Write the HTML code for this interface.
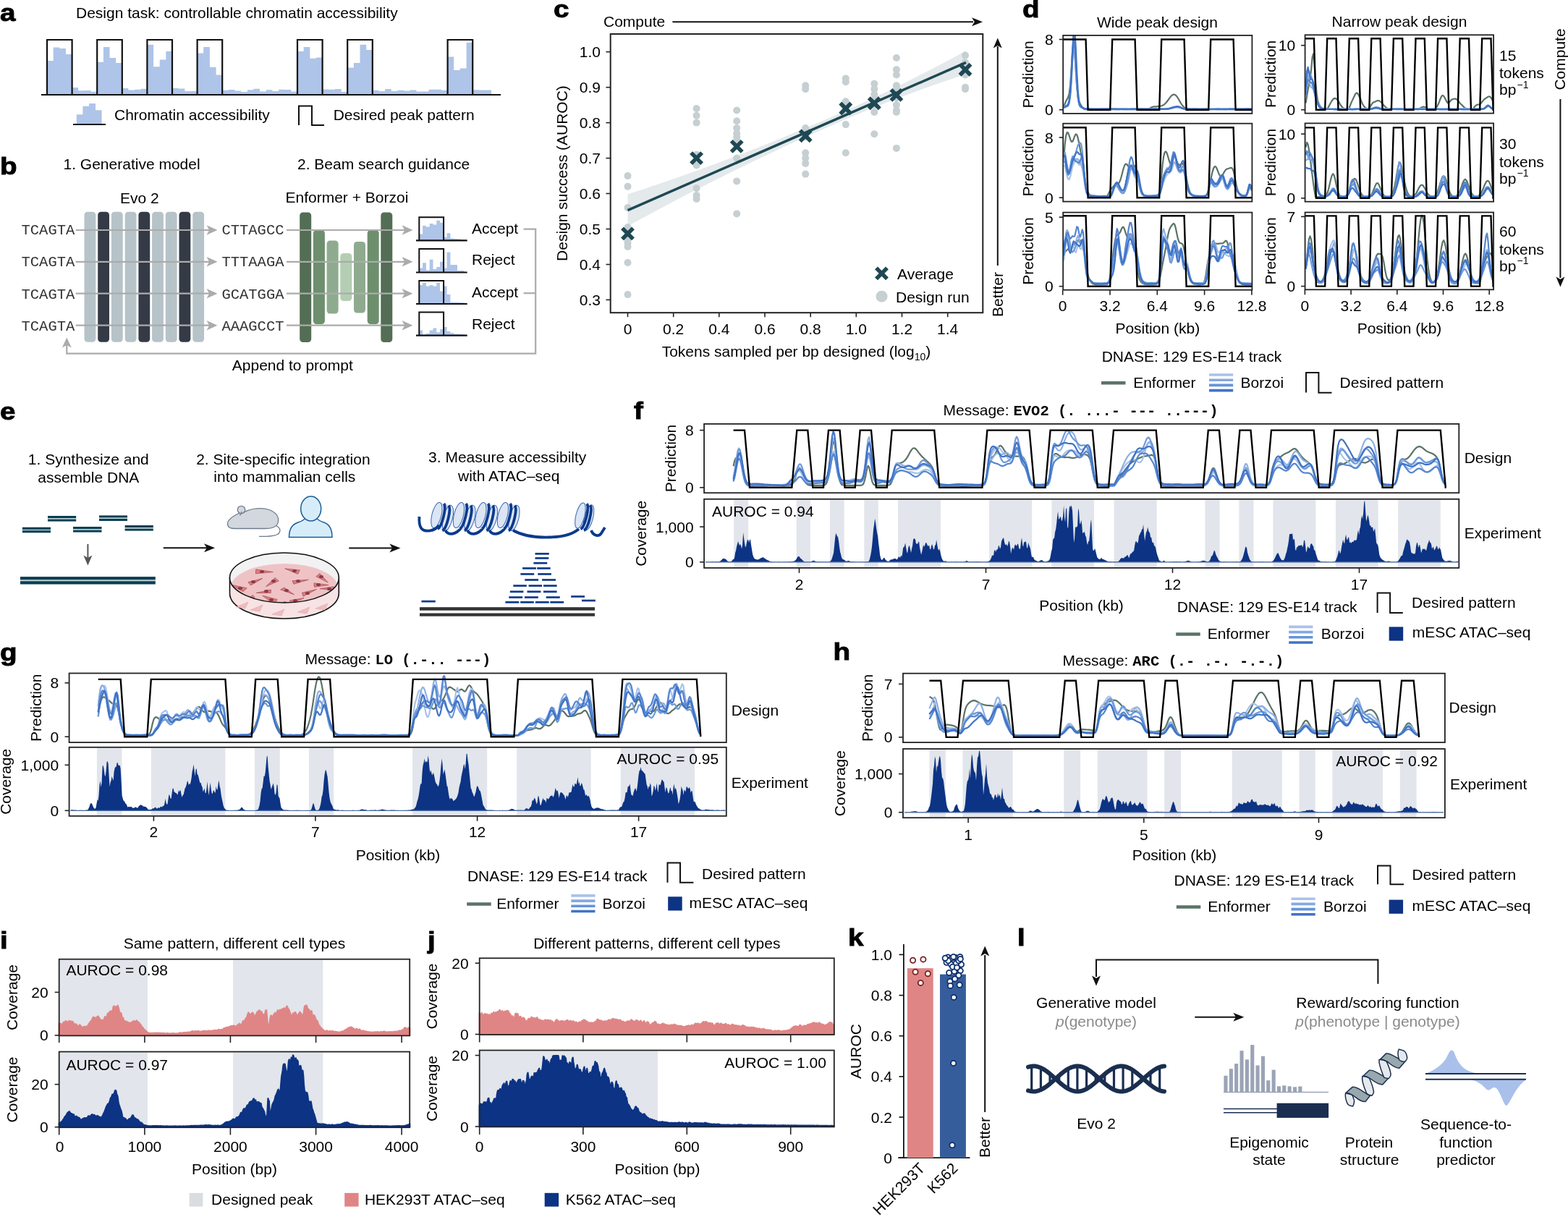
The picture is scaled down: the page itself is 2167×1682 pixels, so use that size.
<!DOCTYPE html>
<html><head><meta charset="utf-8"><title>Figure</title>
<style>html,body{margin:0;padding:0;background:#fff;}svg{display:block;}</style>
</head><body>
<svg width="2167" height="1682" viewBox="0 0 2167 1682" font-family="'Liberation Sans', Arial, Helvetica, sans-serif" font-size="21"><text transform="translate(0.0 29.0) scale(1.17 1)" font-size="33" font-weight="bold" fill="#000" stroke="#000" stroke-width="0.9">a</text>
<text x="105.0" y="25.0">Design task: controllable chromatin accessibility</text>
<path d="M65,130 V84.0 H73.7 V65.5 H82.3 V67.0 H91.0 V75.0 H99.6 V121.1 H108.2 V125.3 H116.9 V125.1 H125.6 V126.7 H134.2 V85.8 H142.9 V65.0 H151.5 V80.0 H160.2 V87.0 H168.8 V121.9 H177.4 V124.6 H186.1 V123.8 H194.8 V122.7 H203.4 V61.8 H212.1 V92.3 H220.7 V82.5 H229.3 V71.0 H238.0 V121.8 H246.7 V122.6 H255.3 V126.0 H264.0 V125.9 H272.6 V73.5 H281.2 V65.0 H289.9 V92.8 H298.6 V103.4 H307.2 V124.8 H315.9 V124.0 H324.5 V125.6 H333.2 V127.0 H341.8 V124.2 H350.4 V122.8 H359.1 V126.5 H367.8 V124.3 H376.4 V126.0 H385.1 V123.8 H393.7 V123.9 H402.4 V126.4 H411.0 V71.0 H419.7 V65.0 H428.3 V80.8 H436.9 V79.4 H445.6 V123.5 H454.2 V123.7 H462.9 V123.1 H471.6 V127.0 H480.2 V93.6 H488.9 V87.0 H497.5 V61.8 H506.2 V69.0 H514.8 V124.7 H523.5 V126.0 H532.1 V123.1 H540.8 V126.1 H549.4 V124.7 H558.0 V125.5 H566.7 V124.4 H575.4 V126.5 H584.0 V126.6 H592.6 V123.8 H601.3 V123.7 H610.0 V124.7 H618.6 V78.4 H627.2 V97.0 H635.9 V94.5 H644.6 V59.0 H653.2 V124.2 H661.9 V124.4 H670.5 V124.5 H679.1 V130 Z" fill="#aec4e8"/>
<path d="M65.0,131 V55 H99.6 V131" fill="none" stroke="#111" stroke-width="2.2"/>
<path d="M134.2,131 V55 H168.8 V131" fill="none" stroke="#111" stroke-width="2.2"/>
<path d="M203.4,131 V55 H238.0 V131" fill="none" stroke="#111" stroke-width="2.2"/>
<path d="M272.6,131 V55 H307.2 V131" fill="none" stroke="#111" stroke-width="2.2"/>
<path d="M411.0,131 V55 H445.6 V131" fill="none" stroke="#111" stroke-width="2.2"/>
<path d="M480.2,131 V55 H514.8 V131" fill="none" stroke="#111" stroke-width="2.2"/>
<path d="M618.6,131 V55 H653.2 V131" fill="none" stroke="#111" stroke-width="2.2"/>
<line x1="57.0" y1="131.0" x2="692.0" y2="131.0" stroke="#111" stroke-width="2.2"/>
<path d="M105.8,171 V158.2 H114.4 V146.7 H123.1 V143 H132 V152.3 H140.6 V171 Z" fill="#aec4e8"/>
<line x1="101.0" y1="172.0" x2="146.0" y2="172.0" stroke="#111" stroke-width="2"/>
<text x="158.0" y="165.5">Chromatin accessibility</text>
<path d="M413,173 V146.5 H431 V173 H448" fill="none" stroke="#111" stroke-width="2"/>
<text x="460.7" y="165.5">Desired peak pattern</text>
<text transform="translate(0.0 241.0) scale(1.17 1)" font-size="33" font-weight="bold" fill="#000" stroke="#000" stroke-width="0.9">b</text>
<text x="87.5" y="234.3">1. Generative model</text>
<text x="411.0" y="233.5">2. Beam search guidance</text>
<text x="166.0" y="281.0">Evo 2</text>
<text x="394.5" y="280.0">Enformer + Borzoi</text>
<rect x="116.5" y="292.7" width="15.8" height="180.0" fill="#b6c3c8" rx="4.5"/>
<rect x="135.2" y="292.7" width="15.8" height="180.0" fill="#343b46" rx="4.5"/>
<rect x="153.9" y="292.7" width="15.8" height="180.0" fill="#b6c3c8" rx="4.5"/>
<rect x="172.7" y="292.7" width="15.8" height="180.0" fill="#b6c3c8" rx="4.5"/>
<rect x="191.4" y="292.7" width="15.8" height="180.0" fill="#343b46" rx="4.5"/>
<rect x="210.1" y="292.7" width="15.8" height="180.0" fill="#b6c3c8" rx="4.5"/>
<rect x="228.8" y="292.7" width="15.8" height="180.0" fill="#b6c3c8" rx="4.5"/>
<rect x="247.5" y="292.7" width="15.8" height="180.0" fill="#343b46" rx="4.5"/>
<rect x="266.3" y="292.7" width="15.8" height="180.0" fill="#b6c3c8" rx="4.5"/>
<rect x="414.2" y="293.4" width="16.0" height="179.6" fill="#536e54" rx="4.5"/>
<rect x="432.9" y="318.0" width="16.0" height="130.0" fill="#6d8f6d" rx="4.5"/>
<rect x="451.6" y="332.5" width="16.0" height="101.1" fill="#8fab8f" rx="4.5"/>
<rect x="470.3" y="350.0" width="16.0" height="66.0" fill="#b4ceb3" rx="4.5"/>
<rect x="489.0" y="334.0" width="16.0" height="98.6" fill="#8fab8f" rx="4.5"/>
<rect x="507.7" y="318.0" width="16.0" height="130.0" fill="#6d8f6d" rx="4.5"/>
<rect x="526.3" y="293.4" width="16.0" height="179.6" fill="#536e54" rx="4.5"/>
<text x="29.5" y="324.0" font-size="20.5" fill="#333" font-family="'Liberation Mono', 'Courier New', monospace">TCAGTA</text>
<line x1="104.7" y1="318.0" x2="292.0" y2="318.0" stroke="#ababab" stroke-width="2.2"/>
<path d="M300.5,318.0 L285.5,324.8 L289.2,318.0 L285.5,311.2 Z" fill="#ababab"/>
<text x="306.4" y="324.0" font-size="20.5" fill="#333" font-family="'Liberation Mono', 'Courier New', monospace">CTTAGCC</text>
<line x1="396.0" y1="318.0" x2="562.0" y2="318.0" stroke="#ababab" stroke-width="2.2"/>
<path d="M570.5,318.0 L555.5,324.8 L559.2,318.0 L555.5,311.2 Z" fill="#ababab"/>
<text x="29.5" y="368.4" font-size="20.5" fill="#333" font-family="'Liberation Mono', 'Courier New', monospace">TCAGTA</text>
<line x1="104.7" y1="361.8" x2="292.0" y2="361.8" stroke="#ababab" stroke-width="2.2"/>
<path d="M300.5,361.8 L285.5,368.6 L289.2,361.8 L285.5,355.0 Z" fill="#ababab"/>
<text x="306.4" y="368.4" font-size="20.5" fill="#333" font-family="'Liberation Mono', 'Courier New', monospace">TTTAAGA</text>
<line x1="396.0" y1="361.8" x2="562.0" y2="361.8" stroke="#ababab" stroke-width="2.2"/>
<path d="M570.5,361.8 L555.5,368.6 L559.2,361.8 L555.5,355.0 Z" fill="#ababab"/>
<text x="29.5" y="412.7" font-size="20.5" fill="#333" font-family="'Liberation Mono', 'Courier New', monospace">TCAGTA</text>
<line x1="104.7" y1="405.7" x2="292.0" y2="405.7" stroke="#ababab" stroke-width="2.2"/>
<path d="M300.5,405.7 L285.5,412.5 L289.2,405.7 L285.5,398.9 Z" fill="#ababab"/>
<text x="306.4" y="412.7" font-size="20.5" fill="#333" font-family="'Liberation Mono', 'Courier New', monospace">GCATGGA</text>
<line x1="396.0" y1="405.7" x2="562.0" y2="405.7" stroke="#ababab" stroke-width="2.2"/>
<path d="M570.5,405.7 L555.5,412.5 L559.2,405.7 L555.5,398.9 Z" fill="#ababab"/>
<text x="29.5" y="456.9" font-size="20.5" fill="#333" font-family="'Liberation Mono', 'Courier New', monospace">TCAGTA</text>
<line x1="104.7" y1="449.7" x2="292.0" y2="449.7" stroke="#ababab" stroke-width="2.2"/>
<path d="M300.5,449.7 L285.5,456.5 L289.2,449.7 L285.5,442.9 Z" fill="#ababab"/>
<text x="306.4" y="456.9" font-size="20.5" fill="#333" font-family="'Liberation Mono', 'Courier New', monospace">AAAGCCT</text>
<line x1="396.0" y1="449.7" x2="562.0" y2="449.7" stroke="#ababab" stroke-width="2.2"/>
<path d="M570.5,449.7 L555.5,456.5 L559.2,449.7 L555.5,442.9 Z" fill="#ababab"/>
<path d="M579.3,332.3 V323.6 H584.1 V312.0 H588.9 V313.4 H593.7 V309.1 H598.5 V310.6 H603.2 V304.8 H608.0 V307.7 H612.8 V327.9 H617.6 V322.2 H622.4 V329.4 H627.2 V330.0 H632.0 V330.6 H636.8 V330.9 H641.6 V332.3 Z" fill="#aec4e8"/>
<path d="M579.3,332.3 V300.3 H613.1 V332.3" fill="none" stroke="#111" stroke-width="2"/>
<line x1="575.0" y1="332.3" x2="645.7" y2="332.3" stroke="#111" stroke-width="2.2"/>
<text x="652.0" y="322.5">Accept</text>
<path d="M579.3,376.5 V370.6 H584.1 V363.2 H588.9 V373.5 H593.7 V358.7 H598.5 V372.1 H603.2 V369.1 H608.0 V361.7 H612.8 V370.6 H617.6 V348.4 H622.4 V366.1 H627.2 V366.1 H632.0 V374.1 H636.8 V374.1 H641.6 V376.5 Z" fill="#aec4e8"/>
<path d="M579.3,376.5 V343.9 H613.1 V376.5" fill="none" stroke="#111" stroke-width="2"/>
<line x1="575.0" y1="376.5" x2="645.7" y2="376.5" stroke="#111" stroke-width="2.2"/>
<text x="652.0" y="366.0">Reject</text>
<path d="M579.3,420 V393.9 H584.1 V391.0 H588.9 V395.4 H593.7 V393.9 H598.5 V395.4 H603.2 V391.0 H608.0 V402.6 H612.8 V395.4 H617.6 V406.9 H622.4 V417.7 H627.2 V417.7 H632.0 V418.0 H636.8 V418.3 H641.6 V420 Z" fill="#aec4e8"/>
<path d="M579.3,420 V388 H613.1 V420" fill="none" stroke="#111" stroke-width="2"/>
<line x1="575.0" y1="420.0" x2="645.7" y2="420.0" stroke="#111" stroke-width="2.2"/>
<text x="652.0" y="410.8">Accept</text>
<path d="M579.3,463.7 V456.4 H584.1 V462.2 H588.9 V460.8 H593.7 V456.4 H598.5 V453.5 H603.2 V459.3 H608.0 V454.9 H612.8 V452.0 H617.6 V457.9 H622.4 V460.2 H627.2 V461.4 H632.0 V461.7 H636.8 V461.9 H641.6 V463.7 Z" fill="#aec4e8"/>
<path d="M579.3,463.7 V431.5 H613.1 V463.7" fill="none" stroke="#111" stroke-width="2"/>
<line x1="575.0" y1="463.7" x2="645.7" y2="463.7" stroke="#111" stroke-width="2.2"/>
<text x="652.0" y="455.0">Reject</text>
<path d="M723.6,316.7 H740.2 V488.6 H92.3 V474" fill="none" stroke="#ababab" stroke-width="2.2"/>
<line x1="723.6" y1="405.2" x2="740.2" y2="405.2" stroke="#ababab" stroke-width="2.2"/>
<path d="M92.3,466.4 L98.8,480.4 L92.3,476.9 L85.8,480.4 Z" fill="#ababab"/>
<text x="320.8" y="511.5">Append to prompt</text>
<text transform="translate(765.0 23.5) scale(1.17 1)" font-size="33" font-weight="bold" fill="#000" stroke="#000" stroke-width="0.9">c</text>
<text x="834.0" y="37.0">Compute</text>
<line x1="929.4" y1="30.3" x2="1345.0" y2="30.3" stroke="#111" stroke-width="2"/>
<path d="M1358.0,30.3 L1343.0,36.3 L1346.8,30.3 L1343.0,24.3 Z" fill="#111"/>
<path d="M867.5,268.5 L879.5,264.6 L891.5,260.7 L903.5,256.6 L915.4,252.6 L927.4,248.4 L939.4,244.3 L951.4,240.0 L963.4,235.7 L975.4,231.3 L987.4,226.9 L999.3,222.4 L1011.3,217.9 L1023.3,213.3 L1035.3,208.7 L1047.3,204.0 L1059.3,199.2 L1071.3,194.4 L1083.2,189.5 L1095.2,184.6 L1107.2,179.6 L1119.2,174.5 L1131.2,169.4 L1143.2,164.3 L1155.2,159.0 L1167.2,153.7 L1179.1,148.3 L1191.1,142.9 L1203.1,137.3 L1215.1,131.6 L1227.1,125.9 L1239.1,120.1 L1251.1,114.1 L1263.0,108.1 L1275.0,102.0 L1287.0,95.8 L1299.0,89.6 L1311.0,83.2 L1323.0,76.8 L1335.0,70.2 L1335.0,102.5 L1323.0,106.5 L1311.0,110.5 L1299.0,114.6 L1287.0,118.8 L1275.0,123.1 L1263.0,127.5 L1251.1,131.9 L1239.1,136.5 L1227.1,141.1 L1215.1,145.8 L1203.1,150.7 L1191.1,155.6 L1179.1,160.5 L1167.2,165.6 L1155.2,170.8 L1143.2,176.0 L1131.2,181.3 L1119.2,186.7 L1107.2,192.1 L1095.2,197.6 L1083.2,203.1 L1071.3,208.7 L1059.3,214.4 L1047.3,220.1 L1035.3,225.8 L1023.3,231.7 L1011.3,237.6 L999.3,243.5 L987.4,249.5 L975.4,255.5 L963.4,261.6 L951.4,267.8 L939.4,274.0 L927.4,280.3 L915.4,286.7 L903.5,293.0 L891.5,299.5 L879.5,306.0 L867.5,312.6 Z" fill="#e4e9eb"/>
<circle cx="867.5" cy="243.1" r="5" fill="#c6cfd2"/>
<circle cx="867.5" cy="257.7" r="5" fill="#c6cfd2"/>
<circle cx="867.5" cy="287.1" r="5" fill="#c6cfd2"/>
<circle cx="867.5" cy="314.1" r="5" fill="#c6cfd2"/>
<circle cx="867.5" cy="331.2" r="5" fill="#c6cfd2"/>
<circle cx="867.5" cy="336.1" r="5" fill="#c6cfd2"/>
<circle cx="867.5" cy="341.0" r="5" fill="#c6cfd2"/>
<circle cx="867.5" cy="363.0" r="5" fill="#c6cfd2"/>
<circle cx="867.5" cy="407.1" r="5" fill="#c6cfd2"/>
<circle cx="962.6" cy="150.0" r="5" fill="#c6cfd2"/>
<circle cx="962.6" cy="159.8" r="5" fill="#c6cfd2"/>
<circle cx="962.6" cy="169.6" r="5" fill="#c6cfd2"/>
<circle cx="962.6" cy="213.7" r="5" fill="#c6cfd2"/>
<circle cx="962.6" cy="228.4" r="5" fill="#c6cfd2"/>
<circle cx="962.6" cy="260.2" r="5" fill="#c6cfd2"/>
<circle cx="962.6" cy="270.0" r="5" fill="#c6cfd2"/>
<circle cx="962.6" cy="274.9" r="5" fill="#c6cfd2"/>
<circle cx="1018.2" cy="152.5" r="5" fill="#c6cfd2"/>
<circle cx="1018.2" cy="167.2" r="5" fill="#c6cfd2"/>
<circle cx="1018.2" cy="177.0" r="5" fill="#c6cfd2"/>
<circle cx="1018.2" cy="184.3" r="5" fill="#c6cfd2"/>
<circle cx="1018.2" cy="189.2" r="5" fill="#c6cfd2"/>
<circle cx="1018.2" cy="194.1" r="5" fill="#c6cfd2"/>
<circle cx="1018.2" cy="218.6" r="5" fill="#c6cfd2"/>
<circle cx="1018.2" cy="250.4" r="5" fill="#c6cfd2"/>
<circle cx="1018.2" cy="295.4" r="5" fill="#c6cfd2"/>
<circle cx="1113.2" cy="118.2" r="5" fill="#c6cfd2"/>
<circle cx="1113.2" cy="123.1" r="5" fill="#c6cfd2"/>
<circle cx="1113.2" cy="177.0" r="5" fill="#c6cfd2"/>
<circle cx="1113.2" cy="189.2" r="5" fill="#c6cfd2"/>
<circle cx="1113.2" cy="211.2" r="5" fill="#c6cfd2"/>
<circle cx="1113.2" cy="218.6" r="5" fill="#c6cfd2"/>
<circle cx="1113.2" cy="225.9" r="5" fill="#c6cfd2"/>
<circle cx="1113.2" cy="240.6" r="5" fill="#c6cfd2"/>
<circle cx="1168.8" cy="108.4" r="5" fill="#c6cfd2"/>
<circle cx="1168.8" cy="113.3" r="5" fill="#c6cfd2"/>
<circle cx="1168.8" cy="140.2" r="5" fill="#c6cfd2"/>
<circle cx="1168.8" cy="150.0" r="5" fill="#c6cfd2"/>
<circle cx="1168.8" cy="154.9" r="5" fill="#c6cfd2"/>
<circle cx="1168.8" cy="172.1" r="5" fill="#c6cfd2"/>
<circle cx="1168.8" cy="211.2" r="5" fill="#c6cfd2"/>
<circle cx="1208.3" cy="115.8" r="5" fill="#c6cfd2"/>
<circle cx="1208.3" cy="123.1" r="5" fill="#c6cfd2"/>
<circle cx="1208.3" cy="130.5" r="5" fill="#c6cfd2"/>
<circle cx="1208.3" cy="137.8" r="5" fill="#c6cfd2"/>
<circle cx="1208.3" cy="145.1" r="5" fill="#c6cfd2"/>
<circle cx="1208.3" cy="154.9" r="5" fill="#c6cfd2"/>
<circle cx="1208.3" cy="185.3" r="5" fill="#c6cfd2"/>
<circle cx="1238.9" cy="80.0" r="5" fill="#c6cfd2"/>
<circle cx="1238.9" cy="96.2" r="5" fill="#c6cfd2"/>
<circle cx="1238.9" cy="103.5" r="5" fill="#c6cfd2"/>
<circle cx="1238.9" cy="118.2" r="5" fill="#c6cfd2"/>
<circle cx="1238.9" cy="123.1" r="5" fill="#c6cfd2"/>
<circle cx="1238.9" cy="135.3" r="5" fill="#c6cfd2"/>
<circle cx="1238.9" cy="145.1" r="5" fill="#c6cfd2"/>
<circle cx="1238.9" cy="152.5" r="5" fill="#c6cfd2"/>
<circle cx="1238.9" cy="154.9" r="5" fill="#c6cfd2"/>
<circle cx="1238.9" cy="204.9" r="5" fill="#c6cfd2"/>
<circle cx="1334.0" cy="76.6" r="5" fill="#c6cfd2"/>
<circle cx="1334.0" cy="86.4" r="5" fill="#c6cfd2"/>
<circle cx="1334.0" cy="98.6" r="5" fill="#c6cfd2"/>
<circle cx="1334.0" cy="103.5" r="5" fill="#c6cfd2"/>
<circle cx="1334.0" cy="120.7" r="5" fill="#c6cfd2"/>
<circle cx="1334.0" cy="123.1" r="5" fill="#c6cfd2"/>
<line x1="867.5" y1="290.6" x2="1335.0" y2="86.4" stroke="#1e4853" stroke-width="3.5"/>
<path d="M860.0,315.4 L875.0,330.4 M860.0,330.4 L875.0,315.4" stroke="#1e4853" stroke-width="5.5"/>
<path d="M955.1,211.1 L970.1,226.1 M955.1,226.1 L970.1,211.1" stroke="#1e4853" stroke-width="5.5"/>
<path d="M1010.7,194.9 L1025.7,209.9 M1010.7,209.9 L1025.7,194.9" stroke="#1e4853" stroke-width="5.5"/>
<path d="M1105.7,180.2 L1120.7,195.2 M1105.7,195.2 L1120.7,180.2" stroke="#1e4853" stroke-width="5.5"/>
<path d="M1161.3,142.5 L1176.3,157.5 M1161.3,157.5 L1176.3,142.5" stroke="#1e4853" stroke-width="5.5"/>
<path d="M1200.8,135.2 L1215.8,150.2 M1200.8,150.2 L1215.8,135.2" stroke="#1e4853" stroke-width="5.5"/>
<path d="M1231.4,123.9 L1246.4,138.9 M1231.4,138.9 L1246.4,123.9" stroke="#1e4853" stroke-width="5.5"/>
<path d="M1326.5,88.7 L1341.5,103.7 M1326.5,103.7 L1341.5,88.7" stroke="#1e4853" stroke-width="5.5"/>
<rect x="843.7" y="47.0" width="514.6" height="385.2" fill="none" stroke="#222" stroke-width="2"/>
<line x1="837.5" y1="71.7" x2="843.7" y2="71.7" stroke="#222" stroke-width="1.6"/>
<text x="830.0" y="79.2" text-anchor="end">1.0</text>
<line x1="837.5" y1="120.7" x2="843.7" y2="120.7" stroke="#222" stroke-width="1.6"/>
<text x="830.0" y="128.2" text-anchor="end">0.9</text>
<line x1="837.5" y1="169.6" x2="843.7" y2="169.6" stroke="#222" stroke-width="1.6"/>
<text x="830.0" y="177.1" text-anchor="end">0.8</text>
<line x1="837.5" y1="218.6" x2="843.7" y2="218.6" stroke="#222" stroke-width="1.6"/>
<text x="830.0" y="226.1" text-anchor="end">0.7</text>
<line x1="837.5" y1="267.5" x2="843.7" y2="267.5" stroke="#222" stroke-width="1.6"/>
<text x="830.0" y="275.0" text-anchor="end">0.6</text>
<line x1="837.5" y1="316.5" x2="843.7" y2="316.5" stroke="#222" stroke-width="1.6"/>
<text x="830.0" y="324.0" text-anchor="end">0.5</text>
<line x1="837.5" y1="365.5" x2="843.7" y2="365.5" stroke="#222" stroke-width="1.6"/>
<text x="830.0" y="373.0" text-anchor="end">0.4</text>
<line x1="837.5" y1="414.4" x2="843.7" y2="414.4" stroke="#222" stroke-width="1.6"/>
<text x="830.0" y="421.9" text-anchor="end">0.3</text>
<line x1="867.5" y1="432.2" x2="867.5" y2="438.2" stroke="#222" stroke-width="1.6"/>
<text x="867.5" y="462.3" text-anchor="middle">0</text>
<line x1="930.7" y1="432.2" x2="930.7" y2="438.2" stroke="#222" stroke-width="1.6"/>
<text x="930.7" y="462.3" text-anchor="middle">0.2</text>
<line x1="993.8" y1="432.2" x2="993.8" y2="438.2" stroke="#222" stroke-width="1.6"/>
<text x="993.8" y="462.3" text-anchor="middle">0.4</text>
<line x1="1057.0" y1="432.2" x2="1057.0" y2="438.2" stroke="#222" stroke-width="1.6"/>
<text x="1057.0" y="462.3" text-anchor="middle">0.6</text>
<line x1="1120.2" y1="432.2" x2="1120.2" y2="438.2" stroke="#222" stroke-width="1.6"/>
<text x="1120.2" y="462.3" text-anchor="middle">0.8</text>
<line x1="1183.3" y1="432.2" x2="1183.3" y2="438.2" stroke="#222" stroke-width="1.6"/>
<text x="1183.3" y="462.3" text-anchor="middle">1.0</text>
<line x1="1246.5" y1="432.2" x2="1246.5" y2="438.2" stroke="#222" stroke-width="1.6"/>
<text x="1246.5" y="462.3" text-anchor="middle">1.2</text>
<line x1="1309.7" y1="432.2" x2="1309.7" y2="438.2" stroke="#222" stroke-width="1.6"/>
<text x="1309.7" y="462.3" text-anchor="middle">1.4</text>
<text x="1100.5" y="493.2" text-anchor="middle">Tokens sampled per bp designed (log<tspan font-size="14" dy="5">10</tspan><tspan dy="-5">)</tspan></text>
<text x="783.5" y="239.5" text-anchor="middle" transform="rotate(-90 783.5 239.5)">Design success (AUROC)</text>
<path d="M1211.0,370.4 L1226.0,385.4 M1211.0,385.4 L1226.0,370.4" stroke="#1e4853" stroke-width="5.5"/>
<text x="1240.0" y="385.5">Average</text>
<circle cx="1218.5" cy="409.7" r="8" fill="#c6cfd2"/>
<text x="1238.0" y="417.5">Design run</text>
<line x1="1378.8" y1="367.0" x2="1378.8" y2="64.0" stroke="#111" stroke-width="2"/>
<path d="M1378.8,52.6 L1384.8,66.6 L1378.8,63.1 L1372.8,66.6 Z" fill="#111"/>
<text x="1385.5" y="407.0" text-anchor="middle" transform="rotate(-90 1385.5 407.0)">Bettter</text>
<text transform="translate(1413.0 24.0) scale(1.17 1)" font-size="33" font-weight="bold" fill="#000" stroke="#000" stroke-width="0.9">d</text>
<text x="1599.5" y="37.8" text-anchor="middle">Wide peak design</text>
<text x="1934.0" y="37.4" text-anchor="middle">Narrow peak design</text>
<clipPath id="cd00"><rect x="1469.2" y="48.9" width="261.20000000000005" height="108.0"/></clipPath>
<g clip-path="url(#cd00)">
<polyline points="1470.2,147.9 1471.7,143.5 1473.2,139.8 1474.7,137.0 1476.2,134.4 1477.7,129.0 1479.2,116.9 1480.7,94.3 1482.2,69.3 1483.7,59.4 1485.2,71.8 1486.7,96.9 1488.2,119.6 1489.7,133.2 1491.2,139.8 1492.7,143.2 1494.2,145.8 1495.7,148.0 1497.2,150.0 1498.7,151.1 1500.2,151.1 1501.7,151.1 1503.2,151.1 1504.7,151.1 1506.2,151.1 1507.7,151.1 1509.2,151.1 1510.7,151.1 1512.2,151.1 1513.7,151.1 1515.2,151.1 1516.7,151.1 1518.2,151.1 1519.7,151.1 1521.2,151.1 1522.7,151.1 1524.2,151.1 1525.7,151.1 1527.2,151.1 1528.7,151.1 1530.2,151.1 1531.7,151.1 1533.2,151.1 1534.7,151.1 1536.2,151.1 1537.7,151.1 1539.2,151.1 1540.7,151.1 1542.2,151.1 1543.7,151.1 1545.2,151.1 1546.7,151.1 1548.2,151.1 1549.7,151.1 1551.2,151.1 1552.7,151.1 1554.2,151.1 1555.7,151.1 1557.2,151.1 1558.7,151.1 1560.2,151.1 1561.7,151.1 1563.2,151.1 1564.7,151.1 1566.2,151.1 1567.7,151.1 1569.2,151.1 1570.7,151.1 1572.2,151.1 1573.7,151.1 1575.2,151.1 1576.7,151.1 1578.2,151.1 1579.7,151.1 1581.2,151.1 1582.7,151.1 1584.2,151.0 1585.7,150.9 1587.2,150.6 1588.7,149.9 1590.2,149.0 1591.7,148.2 1593.2,147.7 1594.7,147.4 1596.2,147.4 1597.7,147.3 1599.2,147.2 1600.7,147.1 1602.2,146.9 1603.7,146.7 1605.2,146.3 1606.7,145.7 1608.2,144.9 1609.7,143.8 1611.2,142.3 1612.7,140.5 1614.2,138.5 1615.7,136.4 1617.2,134.4 1618.7,132.6 1620.2,131.3 1621.7,130.7 1623.2,130.7 1624.7,131.5 1626.2,133.1 1627.7,135.2 1629.2,137.8 1630.7,140.4 1632.2,143.0 1633.7,145.2 1635.2,147.0 1636.7,148.3 1638.2,149.3 1639.7,150.0 1641.2,150.4 1642.7,150.7 1644.2,150.9 1645.7,151.0 1647.2,151.0 1648.7,151.1 1650.2,151.1 1651.7,151.1 1653.2,151.1 1654.7,151.1 1656.2,151.1 1657.7,151.1 1659.2,151.1 1660.7,151.1 1662.2,151.1 1663.7,151.1 1665.2,151.1 1666.7,151.1 1668.2,151.1 1669.7,151.1 1671.2,151.1 1672.7,151.1 1674.2,151.1 1675.7,151.1 1677.2,151.1 1678.7,151.1 1680.2,151.1 1681.7,151.1 1683.2,151.1 1684.7,151.1 1686.2,151.1 1687.7,151.1 1689.2,151.1 1690.7,151.1 1692.2,151.1 1693.7,151.1 1695.2,151.1 1696.7,151.1 1698.2,151.1 1699.7,151.1 1701.2,151.1 1702.7,151.1 1704.2,151.1 1705.7,151.1 1707.2,151.1 1708.7,151.1 1710.2,151.1 1711.7,151.1 1713.2,151.1 1714.7,151.1 1716.2,151.1 1717.7,151.1 1719.2,151.1 1720.7,151.1 1722.2,151.1 1723.7,151.1 1725.2,151.1 1726.7,151.1 1728.2,151.1 1729.7,151.1" fill="none" stroke="#5b7367" stroke-width="2.2" stroke-linejoin="round"/>
<polyline points="1470.2,147.9 1471.7,146.9 1473.2,146.4 1474.7,145.8 1476.2,144.4 1477.7,140.0 1479.2,128.9 1480.7,108.9 1482.2,83.6 1483.7,65.4 1485.2,66.8 1486.7,87.3 1488.2,113.6 1489.7,133.2 1491.2,143.0 1492.7,146.8 1494.2,148.1 1495.7,148.8 1497.2,149.4 1498.7,149.8 1500.2,150.0 1501.7,150.1 1503.2,150.2 1504.7,150.2 1506.2,150.2 1507.7,150.3 1509.2,150.3 1510.7,150.3 1512.2,150.4 1513.7,150.4 1515.2,150.4 1516.7,150.4 1518.2,150.4 1519.7,150.4 1521.2,150.5 1522.7,150.5 1524.2,150.5 1525.7,150.5 1527.2,150.4 1528.7,150.4 1530.2,150.5 1531.7,150.5 1533.2,150.5 1534.7,150.5 1536.2,150.5 1537.7,150.5 1539.2,150.6 1540.7,150.6 1542.2,150.6 1543.7,150.6 1545.2,150.5 1546.7,150.5 1548.2,150.5 1549.7,150.5 1551.2,150.5 1552.7,150.5 1554.2,150.5 1555.7,150.5 1557.2,150.5 1558.7,150.5 1560.2,150.5 1561.7,150.5 1563.2,150.6 1564.7,150.6 1566.2,150.5 1567.7,150.5 1569.2,150.5 1570.7,150.4 1572.2,150.4 1573.7,150.5 1575.2,150.5 1576.7,150.5 1578.2,150.5 1579.7,150.5 1581.2,150.4 1582.7,150.4 1584.2,150.4 1585.7,150.4 1587.2,150.4 1588.7,150.4 1590.2,150.4 1591.7,150.5 1593.2,150.5 1594.7,150.5 1596.2,150.5 1597.7,150.5 1599.2,150.5 1600.7,150.5 1602.2,150.6 1603.7,150.6 1605.2,150.6 1606.7,150.6 1608.2,150.6 1609.7,150.6 1611.2,150.5 1612.7,150.4 1614.2,150.2 1615.7,149.8 1617.2,149.3 1618.7,148.8 1620.2,148.1 1621.7,147.6 1623.2,147.2 1624.7,147.0 1626.2,147.1 1627.7,147.4 1629.2,147.8 1630.7,148.3 1632.2,148.9 1633.7,149.4 1635.2,149.9 1636.7,150.2 1638.2,150.4 1639.7,150.4 1641.2,150.5 1642.7,150.5 1644.2,150.4 1645.7,150.4 1647.2,150.4 1648.7,150.4 1650.2,150.4 1651.7,150.4 1653.2,150.5 1654.7,150.5 1656.2,150.6 1657.7,150.7 1659.2,150.7 1660.7,150.7 1662.2,150.7 1663.7,150.7 1665.2,150.6 1666.7,150.6 1668.2,150.5 1669.7,150.5 1671.2,150.5 1672.7,150.5 1674.2,150.5 1675.7,150.5 1677.2,150.5 1678.7,150.5 1680.2,150.5 1681.7,150.5 1683.2,150.4 1684.7,150.4 1686.2,150.4 1687.7,150.5 1689.2,150.5 1690.7,150.6 1692.2,150.6 1693.7,150.6 1695.2,150.6 1696.7,150.6 1698.2,150.6 1699.7,150.6 1701.2,150.6 1702.7,150.6 1704.2,150.5 1705.7,150.5 1707.2,150.5 1708.7,150.5 1710.2,150.4 1711.7,150.4 1713.2,150.4 1714.7,150.4 1716.2,150.4 1717.7,150.4 1719.2,150.4 1720.7,150.5 1722.2,150.5 1723.7,150.6 1725.2,150.5 1726.7,150.5 1728.2,150.4 1729.7,150.4" fill="none" stroke="#a9c2ea" stroke-width="2.2" stroke-linejoin="round"/>
<polyline points="1470.2,148.4 1471.7,147.3 1473.2,146.4 1474.7,145.7 1476.2,144.1 1477.7,139.0 1479.2,126.3 1480.7,103.3 1482.2,76.5 1483.7,61.5 1485.2,68.6 1486.7,91.6 1488.2,116.8 1489.7,134.5 1491.2,143.4 1492.7,146.8 1494.2,148.0 1495.7,148.7 1497.2,149.3 1498.7,149.8 1500.2,150.1 1501.7,150.2 1503.2,150.3 1504.7,150.3 1506.2,150.4 1507.7,150.4 1509.2,150.5 1510.7,150.5 1512.2,150.6 1513.7,150.6 1515.2,150.6 1516.7,150.6 1518.2,150.6 1519.7,150.6 1521.2,150.6 1522.7,150.6 1524.2,150.6 1525.7,150.7 1527.2,150.7 1528.7,150.6 1530.2,150.6 1531.7,150.6 1533.2,150.6 1534.7,150.7 1536.2,150.7 1537.7,150.8 1539.2,150.8 1540.7,150.8 1542.2,150.8 1543.7,150.8 1545.2,150.8 1546.7,150.8 1548.2,150.7 1549.7,150.7 1551.2,150.7 1552.7,150.7 1554.2,150.6 1555.7,150.6 1557.2,150.6 1558.7,150.6 1560.2,150.6 1561.7,150.6 1563.2,150.6 1564.7,150.6 1566.2,150.7 1567.7,150.7 1569.2,150.7 1570.7,150.7 1572.2,150.7 1573.7,150.7 1575.2,150.7 1576.7,150.7 1578.2,150.7 1579.7,150.7 1581.2,150.6 1582.7,150.6 1584.2,150.6 1585.7,150.6 1587.2,150.7 1588.7,150.7 1590.2,150.7 1591.7,150.7 1593.2,150.7 1594.7,150.7 1596.2,150.7 1597.7,150.7 1599.2,150.7 1600.7,150.7 1602.2,150.7 1603.7,150.7 1605.2,150.6 1606.7,150.6 1608.2,150.6 1609.7,150.6 1611.2,150.6 1612.7,150.6 1614.2,150.4 1615.7,150.1 1617.2,149.7 1618.7,149.2 1620.2,148.7 1621.7,148.3 1623.2,148.1 1624.7,148.0 1626.2,147.9 1627.7,147.9 1629.2,148.0 1630.7,148.3 1632.2,148.7 1633.7,149.3 1635.2,149.8 1636.7,150.2 1638.2,150.4 1639.7,150.5 1641.2,150.6 1642.7,150.6 1644.2,150.6 1645.7,150.7 1647.2,150.7 1648.7,150.7 1650.2,150.8 1651.7,150.8 1653.2,150.7 1654.7,150.7 1656.2,150.6 1657.7,150.6 1659.2,150.6 1660.7,150.6 1662.2,150.6 1663.7,150.6 1665.2,150.6 1666.7,150.6 1668.2,150.7 1669.7,150.7 1671.2,150.7 1672.7,150.8 1674.2,150.8 1675.7,150.7 1677.2,150.7 1678.7,150.6 1680.2,150.5 1681.7,150.5 1683.2,150.4 1684.7,150.5 1686.2,150.5 1687.7,150.6 1689.2,150.6 1690.7,150.7 1692.2,150.7 1693.7,150.7 1695.2,150.7 1696.7,150.7 1698.2,150.7 1699.7,150.7 1701.2,150.7 1702.7,150.7 1704.2,150.6 1705.7,150.6 1707.2,150.6 1708.7,150.6 1710.2,150.6 1711.7,150.7 1713.2,150.7 1714.7,150.7 1716.2,150.7 1717.7,150.7 1719.2,150.7 1720.7,150.7 1722.2,150.7 1723.7,150.7 1725.2,150.7 1726.7,150.7 1728.2,150.7 1729.7,150.8" fill="none" stroke="#8eb0e4" stroke-width="2.2" stroke-linejoin="round"/>
<polyline points="1470.2,149.0 1471.7,148.3 1473.2,147.5 1474.7,146.5 1476.2,144.4 1477.7,138.9 1479.2,125.7 1480.7,102.1 1482.2,71.7 1483.7,49.5 1485.2,53.0 1486.7,80.4 1488.2,111.8 1489.7,133.1 1491.2,143.3 1492.7,147.1 1494.2,148.5 1495.7,149.3 1497.2,149.9 1498.7,150.4 1500.2,150.7 1501.7,150.8 1503.2,150.9 1504.7,151.0 1506.2,151.1 1507.7,151.2 1509.2,151.2 1510.7,151.2 1512.2,151.2 1513.7,151.1 1515.2,151.1 1516.7,151.1 1518.2,151.0 1519.7,151.0 1521.2,151.0 1522.7,151.0 1524.2,151.0 1525.7,151.0 1527.2,151.0 1528.7,151.0 1530.2,150.9 1531.7,150.9 1533.2,150.9 1534.7,151.0 1536.2,151.0 1537.7,151.0 1539.2,151.0 1540.7,151.1 1542.2,151.1 1543.7,151.1 1545.2,151.1 1546.7,151.1 1548.2,151.0 1549.7,151.0 1551.2,151.0 1552.7,151.1 1554.2,151.1 1555.7,151.1 1557.2,151.1 1558.7,151.1 1560.2,151.1 1561.7,151.1 1563.2,151.1 1564.7,151.2 1566.2,151.2 1567.7,151.2 1569.2,151.2 1570.7,151.1 1572.2,151.0 1573.7,151.0 1575.2,151.0 1576.7,151.0 1578.2,151.0 1579.7,151.0 1581.2,151.0 1582.7,150.9 1584.2,151.0 1585.7,151.0 1587.2,151.1 1588.7,151.1 1590.2,151.1 1591.7,151.1 1593.2,151.0 1594.7,151.0 1596.2,151.0 1597.7,151.0 1599.2,151.0 1600.7,150.9 1602.2,150.9 1603.7,150.9 1605.2,150.9 1606.7,150.9 1608.2,150.9 1609.7,151.0 1611.2,151.0 1612.7,150.9 1614.2,150.8 1615.7,150.5 1617.2,150.1 1618.7,149.6 1620.2,149.1 1621.7,148.7 1623.2,148.4 1624.7,148.2 1626.2,148.1 1627.7,148.1 1629.2,148.2 1630.7,148.6 1632.2,149.1 1633.7,149.7 1635.2,150.2 1636.7,150.6 1638.2,150.7 1639.7,150.8 1641.2,150.8 1642.7,150.8 1644.2,150.9 1645.7,150.9 1647.2,151.0 1648.7,151.0 1650.2,151.0 1651.7,150.9 1653.2,150.9 1654.7,150.9 1656.2,150.9 1657.7,151.0 1659.2,151.0 1660.7,151.0 1662.2,151.0 1663.7,151.1 1665.2,151.1 1666.7,151.2 1668.2,151.2 1669.7,151.2 1671.2,151.2 1672.7,151.1 1674.2,151.1 1675.7,151.0 1677.2,151.0 1678.7,151.0 1680.2,151.1 1681.7,151.1 1683.2,151.1 1684.7,151.1 1686.2,151.1 1687.7,151.1 1689.2,151.0 1690.7,151.0 1692.2,150.9 1693.7,150.9 1695.2,150.9 1696.7,151.0 1698.2,151.0 1699.7,151.1 1701.2,151.1 1702.7,151.1 1704.2,151.1 1705.7,151.0 1707.2,151.0 1708.7,151.0 1710.2,151.0 1711.7,151.0 1713.2,151.1 1714.7,151.1 1716.2,151.1 1717.7,151.1 1719.2,151.1 1720.7,151.0 1722.2,151.0 1723.7,151.0 1725.2,150.9 1726.7,150.9 1728.2,150.9 1729.7,151.0" fill="none" stroke="#6f9ad9" stroke-width="2.2" stroke-linejoin="round"/>
<polyline points="1470.2,148.7 1471.7,147.8 1473.2,147.4 1474.7,147.0 1476.2,146.0 1477.7,142.3 1479.2,131.9 1480.7,110.3 1482.2,79.7 1483.7,57.7 1485.2,61.6 1486.7,87.2 1488.2,115.4 1489.7,134.2 1491.2,143.3 1492.7,146.7 1494.2,148.0 1495.7,148.8 1497.2,149.5 1498.7,150.0 1500.2,150.3 1501.7,150.5 1503.2,150.6 1504.7,150.7 1506.2,150.8 1507.7,150.8 1509.2,150.8 1510.7,150.8 1512.2,150.8 1513.7,150.7 1515.2,150.7 1516.7,150.7 1518.2,150.8 1519.7,150.8 1521.2,150.7 1522.7,150.6 1524.2,150.6 1525.7,150.6 1527.2,150.6 1528.7,150.7 1530.2,150.7 1531.7,150.7 1533.2,150.7 1534.7,150.7 1536.2,150.8 1537.7,150.8 1539.2,150.8 1540.7,150.8 1542.2,150.8 1543.7,150.9 1545.2,150.9 1546.7,150.9 1548.2,150.9 1549.7,150.9 1551.2,150.8 1552.7,150.8 1554.2,150.8 1555.7,150.8 1557.2,150.8 1558.7,150.9 1560.2,150.9 1561.7,150.8 1563.2,150.7 1564.7,150.6 1566.2,150.6 1567.7,150.6 1569.2,150.6 1570.7,150.6 1572.2,150.6 1573.7,150.6 1575.2,150.6 1576.7,150.7 1578.2,150.7 1579.7,150.7 1581.2,150.8 1582.7,150.8 1584.2,150.8 1585.7,150.9 1587.2,150.8 1588.7,150.8 1590.2,150.8 1591.7,150.8 1593.2,150.8 1594.7,150.8 1596.2,150.7 1597.7,150.7 1599.2,150.7 1600.7,150.7 1602.2,150.8 1603.7,150.9 1605.2,150.9 1606.7,150.9 1608.2,150.8 1609.7,150.7 1611.2,150.6 1612.7,150.4 1614.2,150.2 1615.7,149.9 1617.2,149.5 1618.7,149.0 1620.2,148.6 1621.7,148.3 1623.2,148.2 1624.7,148.2 1626.2,148.2 1627.7,148.1 1629.2,148.2 1630.7,148.4 1632.2,148.9 1633.7,149.5 1635.2,150.0 1636.7,150.3 1638.2,150.4 1639.7,150.5 1641.2,150.6 1642.7,150.7 1644.2,150.8 1645.7,150.8 1647.2,150.8 1648.7,150.7 1650.2,150.7 1651.7,150.7 1653.2,150.8 1654.7,150.9 1656.2,150.9 1657.7,151.0 1659.2,151.0 1660.7,150.9 1662.2,150.9 1663.7,150.8 1665.2,150.7 1666.7,150.7 1668.2,150.8 1669.7,150.8 1671.2,150.8 1672.7,150.8 1674.2,150.8 1675.7,150.8 1677.2,150.8 1678.7,150.8 1680.2,150.8 1681.7,150.9 1683.2,150.9 1684.7,150.9 1686.2,150.9 1687.7,150.9 1689.2,150.8 1690.7,150.8 1692.2,150.8 1693.7,150.8 1695.2,150.8 1696.7,150.8 1698.2,150.7 1699.7,150.6 1701.2,150.6 1702.7,150.7 1704.2,150.7 1705.7,150.8 1707.2,150.8 1708.7,150.8 1710.2,150.8 1711.7,150.8 1713.2,150.8 1714.7,150.8 1716.2,150.8 1717.7,150.8 1719.2,150.8 1720.7,150.8 1722.2,150.7 1723.7,150.7 1725.2,150.6 1726.7,150.6 1728.2,150.7 1729.7,150.7" fill="none" stroke="#5585d0" stroke-width="2.2" stroke-linejoin="round"/>
<polyline points="1470.2,148.6 1471.7,147.6 1473.2,146.8 1474.7,145.9 1476.2,144.0 1477.7,138.7 1479.2,125.9 1480.7,102.4 1482.2,70.7 1483.7,44.3 1485.2,41.4 1486.7,65.2 1488.2,99.2 1489.7,125.6 1491.2,139.5 1492.7,144.9 1494.2,147.1 1495.7,148.3 1497.2,149.3 1498.7,150.0 1500.2,150.4 1501.7,150.6 1503.2,150.7 1504.7,150.7 1506.2,150.8 1507.7,150.8 1509.2,150.9 1510.7,150.9 1512.2,151.0 1513.7,151.0 1515.2,151.0 1516.7,151.0 1518.2,151.0 1519.7,150.9 1521.2,150.9 1522.7,150.9 1524.2,150.8 1525.7,150.8 1527.2,150.9 1528.7,150.9 1530.2,150.9 1531.7,150.9 1533.2,150.8 1534.7,150.7 1536.2,150.7 1537.7,150.7 1539.2,150.7 1540.7,150.7 1542.2,150.7 1543.7,150.8 1545.2,150.8 1546.7,150.8 1548.2,150.8 1549.7,150.8 1551.2,150.8 1552.7,150.8 1554.2,150.8 1555.7,150.8 1557.2,150.9 1558.7,151.0 1560.2,151.0 1561.7,151.0 1563.2,150.9 1564.7,150.8 1566.2,150.8 1567.7,150.8 1569.2,150.9 1570.7,150.9 1572.2,150.9 1573.7,150.9 1575.2,150.9 1576.7,150.9 1578.2,150.9 1579.7,150.9 1581.2,150.9 1582.7,150.9 1584.2,150.8 1585.7,150.8 1587.2,150.8 1588.7,150.8 1590.2,150.8 1591.7,150.9 1593.2,150.9 1594.7,150.9 1596.2,150.9 1597.7,150.8 1599.2,150.8 1600.7,150.8 1602.2,150.9 1603.7,150.9 1605.2,150.9 1606.7,150.8 1608.2,150.8 1609.7,150.8 1611.2,150.7 1612.7,150.7 1614.2,150.5 1615.7,150.2 1617.2,149.9 1618.7,149.5 1620.2,149.1 1621.7,148.6 1623.2,148.1 1624.7,147.5 1626.2,147.1 1627.7,147.0 1629.2,147.3 1630.7,147.9 1632.2,148.8 1633.7,149.6 1635.2,150.1 1636.7,150.5 1638.2,150.6 1639.7,150.7 1641.2,150.8 1642.7,150.9 1644.2,150.9 1645.7,150.9 1647.2,150.9 1648.7,150.9 1650.2,150.9 1651.7,150.9 1653.2,150.9 1654.7,150.9 1656.2,150.9 1657.7,150.9 1659.2,150.9 1660.7,150.9 1662.2,150.9 1663.7,150.9 1665.2,151.0 1666.7,150.9 1668.2,150.9 1669.7,150.9 1671.2,151.0 1672.7,151.0 1674.2,151.0 1675.7,151.0 1677.2,151.0 1678.7,151.0 1680.2,151.0 1681.7,150.9 1683.2,150.9 1684.7,150.9 1686.2,151.0 1687.7,151.0 1689.2,151.0 1690.7,151.1 1692.2,151.1 1693.7,151.1 1695.2,151.1 1696.7,151.0 1698.2,150.9 1699.7,150.8 1701.2,150.8 1702.7,150.8 1704.2,150.8 1705.7,150.8 1707.2,150.9 1708.7,150.9 1710.2,150.8 1711.7,150.8 1713.2,150.8 1714.7,150.9 1716.2,150.9 1717.7,150.9 1719.2,150.9 1720.7,150.8 1722.2,150.7 1723.7,150.7 1725.2,150.7 1726.7,150.8 1728.2,150.8 1729.7,150.9" fill="none" stroke="#3f73c6" stroke-width="2.2" stroke-linejoin="round"/>
<path d="M1469.2,54.5 L1500.6,54.5 L1503.6,151.7 L1534.2,151.7 L1537.2,54.5 L1568.6,54.5 L1571.6,151.7 L1602.2,151.7 L1605.2,54.5 L1636.6,54.5 L1639.6,151.7 L1670.2,151.7 L1673.2,54.5 L1704.6,54.5 L1707.6,151.7 L1730.4,151.7" fill="none" stroke="#000" stroke-width="2.4" stroke-linejoin="miter"/>
</g>
<rect x="1469.2" y="48.9" width="261.2" height="108.0" fill="none" stroke="#222" stroke-width="1.8"/>
<line x1="1463.7" y1="54.5" x2="1469.2" y2="54.5" stroke="#222" stroke-width="1.6"/>
<line x1="1463.7" y1="151.7" x2="1469.2" y2="151.7" stroke="#222" stroke-width="1.6"/>
<text x="1455.7" y="62.0" text-anchor="end">8</text>
<text x="1455.7" y="159.2" text-anchor="end">0</text>
<text x="1428.2" y="102.9" text-anchor="middle" transform="rotate(-90 1428.2 102.9)">Prediction</text>
<clipPath id="cd01"><rect x="1469.2" y="170.7" width="261.20000000000005" height="107.90000000000003"/></clipPath>
<g clip-path="url(#cd01)">
<polyline points="1470.2,218.0 1471.7,199.2 1473.2,187.6 1474.7,182.9 1476.2,183.6 1477.7,187.7 1479.2,192.6 1480.7,195.8 1482.2,195.7 1483.7,192.5 1485.2,188.2 1486.7,185.4 1488.2,186.2 1489.7,190.7 1491.2,197.7 1492.7,205.6 1494.2,213.9 1495.7,222.7 1497.2,232.6 1498.7,243.1 1500.2,252.6 1501.7,260.0 1503.2,264.8 1504.7,267.8 1506.2,269.6 1507.7,270.6 1509.2,271.2 1510.7,271.5 1512.2,271.7 1513.7,271.8 1515.2,271.9 1516.7,271.9 1518.2,271.9 1519.7,271.9 1521.2,271.9 1522.7,271.9 1524.2,272.0 1525.7,272.0 1527.2,272.0 1528.7,272.0 1530.2,271.5 1531.7,268.3 1533.2,265.1 1534.7,262.5 1536.2,260.5 1537.7,258.7 1539.2,257.1 1540.7,255.8 1542.2,255.0 1543.7,254.7 1545.2,254.1 1546.7,252.5 1548.2,249.2 1549.7,244.3 1551.2,238.4 1552.7,232.8 1554.2,228.5 1555.7,226.6 1557.2,227.0 1558.7,229.0 1560.2,231.3 1561.7,232.8 1563.2,232.7 1564.7,231.2 1566.2,229.3 1567.7,228.7 1569.2,230.6 1570.7,235.7 1572.2,243.1 1573.7,251.5 1575.2,258.5 1576.7,263.7 1578.2,267.2 1579.7,269.3 1581.2,270.5 1582.7,271.2 1584.2,271.5 1585.7,271.7 1587.2,271.8 1588.7,271.9 1590.2,271.9 1591.7,271.9 1593.2,271.9 1594.7,271.9 1596.2,271.9 1597.7,271.7 1599.2,271.3 1600.7,270.0 1602.2,266.4 1603.7,257.7 1605.2,243.1 1606.7,227.3 1608.2,216.0 1609.7,210.4 1611.2,209.3 1612.7,211.7 1614.2,216.5 1615.7,222.0 1617.2,225.9 1618.7,226.2 1620.2,223.0 1621.7,218.7 1623.2,216.6 1624.7,218.2 1626.2,222.2 1627.7,226.1 1629.2,228.0 1630.7,227.9 1632.2,226.7 1633.7,225.9 1635.2,226.8 1636.7,230.4 1638.2,237.0 1639.7,245.4 1641.2,253.7 1642.7,260.4 1644.2,264.9 1645.7,267.8 1647.2,269.5 1648.7,270.5 1650.2,271.2 1651.7,271.5 1653.2,271.7 1654.7,271.8 1656.2,271.9 1657.7,271.9 1659.2,271.9 1660.7,271.9 1662.2,271.9 1663.7,271.7 1665.2,271.4 1666.7,270.6 1668.2,268.9 1669.7,265.4 1671.2,259.4 1672.7,251.5 1674.2,243.7 1675.7,237.1 1677.2,232.4 1678.7,230.1 1680.2,230.4 1681.7,233.0 1683.2,236.9 1684.7,240.7 1686.2,243.3 1687.7,243.9 1689.2,242.6 1690.7,240.0 1692.2,237.2 1693.7,235.0 1695.2,233.7 1696.7,233.2 1698.2,232.8 1699.7,232.3 1701.2,231.9 1702.7,232.3 1704.2,235.0 1705.7,240.5 1707.2,248.1 1708.7,255.9 1710.2,262.0 1711.7,266.0 1713.2,268.4 1714.7,269.9 1716.2,270.8 1717.7,271.3 1719.2,271.6 1720.7,271.6 1722.2,270.9 1723.7,268.6 1725.2,264.1 1726.7,259.8 1728.2,259.6 1729.7,263.6" fill="none" stroke="#5b7367" stroke-width="2.2" stroke-linejoin="round"/>
<polyline points="1470.2,228.6 1471.7,229.5 1473.2,236.2 1474.7,243.2 1476.2,247.6 1477.7,247.9 1479.2,243.7 1480.7,237.0 1482.2,230.6 1483.7,226.3 1485.2,223.7 1486.7,222.0 1488.2,222.3 1489.7,225.1 1491.2,227.8 1492.7,227.0 1494.2,223.0 1495.7,221.1 1497.2,227.6 1498.7,241.4 1500.2,255.5 1501.7,264.4 1503.2,268.3 1504.7,269.6 1506.2,270.2 1507.7,270.6 1509.2,271.0 1510.7,271.3 1512.2,271.4 1513.7,271.4 1515.2,271.3 1516.7,271.3 1518.2,271.3 1519.7,271.3 1521.2,271.4 1522.7,271.5 1524.2,271.6 1525.7,271.7 1527.2,271.7 1528.7,271.6 1530.2,271.6 1531.7,271.5 1533.2,271.4 1534.7,271.4 1536.2,269.3 1537.7,265.5 1539.2,261.3 1540.7,258.0 1542.2,256.3 1543.7,256.2 1545.2,257.8 1546.7,260.5 1548.2,263.5 1549.7,265.7 1551.2,266.8 1552.7,266.5 1554.2,264.2 1555.7,259.7 1557.2,253.2 1558.7,245.4 1560.2,237.0 1561.7,230.2 1563.2,227.9 1564.7,231.2 1566.2,237.8 1567.7,243.7 1569.2,245.9 1570.7,245.0 1572.2,245.4 1573.7,250.5 1575.2,257.7 1576.7,263.8 1578.2,267.7 1579.7,269.8 1581.2,270.8 1582.7,271.1 1584.2,271.3 1585.7,271.3 1587.2,271.3 1588.7,271.4 1590.2,271.5 1591.7,271.6 1593.2,271.6 1594.7,271.7 1596.2,271.6 1597.7,271.5 1599.2,271.1 1600.7,270.4 1602.2,269.1 1603.7,266.2 1605.2,261.2 1606.7,255.5 1608.2,251.0 1609.7,247.4 1611.2,244.1 1612.7,241.6 1614.2,240.1 1615.7,239.2 1617.2,237.6 1618.7,233.8 1620.2,227.3 1621.7,219.9 1623.2,216.4 1624.7,219.1 1626.2,225.2 1627.7,230.6 1629.2,234.0 1630.7,234.7 1632.2,233.0 1633.7,230.6 1635.2,230.4 1636.7,235.0 1638.2,243.9 1639.7,253.3 1641.2,260.2 1642.7,264.2 1644.2,266.6 1645.7,268.3 1647.2,269.6 1648.7,270.6 1650.2,271.2 1651.7,271.5 1653.2,271.7 1654.7,271.8 1656.2,271.8 1657.7,271.7 1659.2,271.7 1660.7,271.7 1662.2,271.7 1663.7,271.7 1665.2,271.6 1666.7,271.1 1668.2,269.7 1669.7,266.0 1671.2,258.8 1672.7,251.9 1674.2,250.9 1675.7,254.2 1677.2,257.2 1678.7,258.3 1680.2,258.2 1681.7,257.2 1683.2,254.7 1684.7,250.4 1686.2,245.3 1687.7,242.1 1689.2,243.3 1690.7,248.1 1692.2,253.9 1693.7,258.3 1695.2,260.6 1696.7,260.0 1698.2,256.7 1699.7,252.1 1701.2,248.6 1702.7,248.1 1704.2,250.4 1705.7,254.3 1707.2,258.3 1708.7,261.6 1710.2,264.2 1711.7,266.3 1713.2,268.1 1714.7,269.6 1716.2,270.6 1717.7,271.2 1719.2,271.5 1720.7,271.5 1722.2,270.7 1723.7,267.7 1725.2,261.6 1726.7,255.8 1728.2,256.3 1729.7,262.4" fill="none" stroke="#a9c2ea" stroke-width="2.2" stroke-linejoin="round"/>
<polyline points="1470.2,221.1 1471.7,219.0 1473.2,225.3 1474.7,233.1 1476.2,237.7 1477.7,236.5 1479.2,229.6 1480.7,221.0 1482.2,216.1 1483.7,216.8 1485.2,219.5 1486.7,220.3 1488.2,219.5 1489.7,219.9 1491.2,222.4 1492.7,225.1 1494.2,227.8 1495.7,232.6 1497.2,240.7 1498.7,250.9 1500.2,260.2 1501.7,266.2 1503.2,268.9 1504.7,269.8 1506.2,270.2 1507.7,270.4 1509.2,270.7 1510.7,270.8 1512.2,271.0 1513.7,271.0 1515.2,271.0 1516.7,271.0 1518.2,271.0 1519.7,271.0 1521.2,271.1 1522.7,271.2 1524.2,271.2 1525.7,271.3 1527.2,271.3 1528.7,271.3 1530.2,271.3 1531.7,271.2 1533.2,271.2 1534.7,271.1 1536.2,269.0 1537.7,265.1 1539.2,260.6 1540.7,257.5 1542.2,256.7 1543.7,257.7 1545.2,259.7 1546.7,262.2 1548.2,264.5 1549.7,266.2 1551.2,266.9 1552.7,266.4 1554.2,264.4 1555.7,261.1 1557.2,257.1 1558.7,252.2 1560.2,245.2 1561.7,236.2 1563.2,228.9 1564.7,228.0 1566.2,233.5 1567.7,240.4 1569.2,243.5 1570.7,243.2 1572.2,244.0 1573.7,249.5 1575.2,256.8 1576.7,262.9 1578.2,266.8 1579.7,268.9 1581.2,269.9 1582.7,270.4 1584.2,270.6 1585.7,270.8 1587.2,270.9 1588.7,270.9 1590.2,271.0 1591.7,271.1 1593.2,271.2 1594.7,271.2 1596.2,271.2 1597.7,271.0 1599.2,270.7 1600.7,270.0 1602.2,268.6 1603.7,265.4 1605.2,259.6 1606.7,252.5 1608.2,246.4 1609.7,240.8 1611.2,235.5 1612.7,232.2 1614.2,232.5 1615.7,235.4 1617.2,237.3 1618.7,236.0 1620.2,231.2 1621.7,225.9 1623.2,224.1 1624.7,226.7 1626.2,231.0 1627.7,234.7 1629.2,237.4 1630.7,238.6 1632.2,237.9 1633.7,236.3 1635.2,235.9 1636.7,239.2 1638.2,246.5 1639.7,255.0 1641.2,261.6 1642.7,265.4 1644.2,267.6 1645.7,268.9 1647.2,269.8 1648.7,270.4 1650.2,270.7 1651.7,270.9 1653.2,271.1 1654.7,271.2 1656.2,271.2 1657.7,271.2 1659.2,271.2 1660.7,271.1 1662.2,271.0 1663.7,270.9 1665.2,270.7 1666.7,270.3 1668.2,268.9 1669.7,265.2 1671.2,258.0 1672.7,250.1 1674.2,247.3 1675.7,249.4 1677.2,252.0 1678.7,253.1 1680.2,253.6 1681.7,254.0 1683.2,253.9 1684.7,253.0 1686.2,250.9 1687.7,248.3 1689.2,246.7 1690.7,247.9 1692.2,251.9 1693.7,256.8 1695.2,260.4 1696.7,261.5 1698.2,260.2 1699.7,257.4 1701.2,254.6 1702.7,253.0 1704.2,253.4 1705.7,255.6 1707.2,258.8 1708.7,261.9 1710.2,264.4 1711.7,266.4 1713.2,268.0 1714.7,269.2 1716.2,270.1 1717.7,270.6 1719.2,270.8 1720.7,270.7 1722.2,269.8 1723.7,266.6 1725.2,260.0 1726.7,254.5 1728.2,256.3 1729.7,262.9" fill="none" stroke="#8eb0e4" stroke-width="2.2" stroke-linejoin="round"/>
<polyline points="1470.2,212.8 1471.7,210.7 1473.2,218.6 1474.7,228.8 1476.2,236.0 1477.7,237.2 1479.2,232.4 1480.7,224.5 1482.2,218.3 1483.7,216.1 1485.2,215.0 1486.7,211.5 1488.2,205.7 1489.7,200.8 1491.2,198.3 1492.7,197.3 1494.2,199.0 1495.7,208.7 1497.2,226.6 1498.7,245.4 1500.2,258.8 1501.7,266.1 1503.2,269.2 1504.7,270.2 1506.2,270.7 1507.7,271.0 1509.2,271.3 1510.7,271.5 1512.2,271.6 1513.7,271.6 1515.2,271.6 1516.7,271.7 1518.2,271.7 1519.7,271.7 1521.2,271.7 1522.7,271.8 1524.2,271.8 1525.7,271.9 1527.2,271.9 1528.7,271.9 1530.2,271.9 1531.7,271.8 1533.2,271.8 1534.7,271.8 1536.2,269.8 1537.7,266.1 1539.2,261.7 1540.7,258.0 1542.2,256.2 1543.7,256.5 1545.2,258.3 1546.7,260.9 1548.2,263.7 1549.7,265.9 1551.2,267.2 1552.7,267.1 1554.2,265.0 1555.7,260.9 1557.2,254.9 1558.7,248.1 1560.2,241.2 1561.7,235.7 1563.2,232.9 1564.7,233.7 1566.2,237.2 1567.7,241.0 1569.2,242.1 1570.7,241.4 1572.2,243.9 1573.7,251.5 1575.2,259.5 1576.7,265.2 1578.2,268.4 1579.7,270.1 1581.2,270.9 1582.7,271.2 1584.2,271.4 1585.7,271.4 1587.2,271.5 1588.7,271.5 1590.2,271.5 1591.7,271.6 1593.2,271.7 1594.7,271.7 1596.2,271.6 1597.7,271.4 1599.2,271.0 1600.7,270.2 1602.2,268.5 1603.7,264.4 1605.2,256.8 1606.7,248.1 1608.2,242.2 1609.7,238.6 1611.2,235.8 1612.7,234.0 1614.2,233.9 1615.7,234.5 1617.2,233.6 1618.7,229.6 1620.2,223.1 1621.7,216.8 1623.2,215.1 1624.7,219.1 1626.2,225.8 1627.7,231.8 1629.2,235.5 1630.7,236.1 1632.2,233.8 1633.7,230.7 1635.2,229.3 1636.7,232.3 1638.2,240.1 1639.7,250.3 1641.2,258.9 1642.7,264.3 1644.2,267.1 1645.7,268.8 1647.2,269.8 1648.7,270.6 1650.2,271.1 1651.7,271.5 1653.2,271.6 1654.7,271.7 1656.2,271.8 1657.7,271.8 1659.2,271.8 1660.7,271.8 1662.2,271.7 1663.7,271.6 1665.2,271.3 1666.7,270.7 1668.2,269.2 1669.7,265.4 1671.2,259.0 1672.7,253.2 1674.2,252.2 1675.7,254.7 1677.2,257.0 1678.7,257.7 1680.2,257.8 1681.7,257.3 1683.2,255.5 1684.7,252.1 1686.2,247.8 1687.7,244.8 1689.2,244.7 1690.7,247.7 1692.2,252.5 1693.7,257.3 1695.2,260.6 1696.7,261.1 1698.2,258.7 1699.7,254.3 1701.2,249.8 1702.7,247.5 1704.2,248.6 1705.7,252.2 1707.2,256.7 1708.7,260.9 1710.2,264.4 1711.7,267.1 1713.2,269.1 1714.7,270.4 1716.2,271.1 1717.7,271.5 1719.2,271.7 1720.7,271.6 1722.2,270.8 1723.7,268.1 1725.2,262.5 1726.7,257.0 1728.2,257.1 1729.7,262.3" fill="none" stroke="#6f9ad9" stroke-width="2.2" stroke-linejoin="round"/>
<polyline points="1470.2,223.8 1471.7,222.9 1473.2,229.6 1474.7,237.5 1476.2,241.7 1477.7,240.1 1479.2,232.7 1480.7,223.5 1482.2,218.5 1483.7,219.2 1485.2,221.7 1486.7,223.0 1488.2,223.6 1489.7,224.6 1491.2,225.0 1492.7,222.7 1494.2,218.4 1495.7,218.3 1497.2,228.0 1498.7,244.1 1500.2,257.7 1501.7,265.2 1503.2,268.2 1504.7,269.1 1506.2,269.5 1507.7,269.8 1509.2,270.2 1510.7,270.5 1512.2,270.7 1513.7,270.9 1515.2,270.9 1516.7,270.9 1518.2,271.0 1519.7,271.0 1521.2,271.0 1522.7,271.0 1524.2,270.9 1525.7,270.9 1527.2,270.8 1528.7,270.8 1530.2,270.9 1531.7,270.9 1533.2,270.9 1534.7,270.9 1536.2,269.1 1537.7,265.7 1539.2,261.3 1540.7,256.7 1542.2,253.2 1543.7,251.8 1545.2,253.0 1546.7,256.1 1548.2,259.6 1549.7,262.2 1551.2,263.5 1552.7,263.0 1554.2,260.0 1555.7,254.3 1557.2,246.8 1558.7,238.2 1560.2,228.9 1561.7,220.8 1563.2,216.8 1564.7,218.8 1566.2,226.0 1567.7,234.1 1569.2,238.7 1570.7,240.1 1572.2,242.7 1573.7,248.9 1575.2,256.2 1576.7,262.3 1578.2,266.5 1579.7,268.9 1581.2,270.0 1582.7,270.5 1584.2,270.7 1585.7,270.7 1587.2,270.8 1588.7,270.7 1590.2,270.6 1591.7,270.4 1593.2,270.3 1594.7,270.2 1596.2,270.1 1597.7,270.0 1599.2,269.6 1600.7,268.9 1602.2,267.1 1603.7,263.2 1605.2,256.1 1606.7,248.4 1608.2,243.3 1609.7,240.1 1611.2,237.5 1612.7,235.2 1614.2,233.4 1615.7,231.8 1617.2,228.9 1618.7,223.3 1620.2,215.8 1621.7,210.2 1623.2,211.0 1624.7,217.6 1626.2,225.3 1627.7,231.2 1629.2,235.0 1630.7,236.6 1632.2,236.1 1633.7,234.7 1635.2,234.6 1636.7,237.4 1638.2,243.3 1639.7,251.0 1641.2,257.9 1642.7,262.7 1644.2,265.6 1645.7,267.5 1647.2,268.8 1648.7,269.6 1650.2,270.1 1651.7,270.3 1653.2,270.5 1654.7,270.6 1656.2,270.7 1657.7,270.8 1659.2,270.8 1660.7,270.8 1662.2,270.8 1663.7,270.8 1665.2,270.7 1666.7,270.2 1668.2,268.7 1669.7,264.8 1671.2,258.0 1672.7,251.9 1674.2,250.8 1675.7,253.2 1677.2,255.3 1678.7,255.5 1680.2,254.6 1681.7,253.1 1683.2,250.8 1684.7,247.7 1686.2,244.5 1687.7,242.4 1689.2,242.5 1690.7,245.2 1692.2,249.5 1693.7,253.9 1695.2,256.7 1696.7,256.6 1698.2,253.6 1699.7,249.2 1701.2,246.3 1702.7,246.4 1704.2,249.1 1705.7,253.0 1707.2,256.8 1708.7,260.2 1710.2,263.1 1711.7,265.6 1713.2,267.5 1714.7,268.9 1716.2,269.7 1717.7,270.2 1719.2,270.4 1720.7,270.3 1722.2,269.4 1723.7,266.2 1725.2,260.3 1726.7,255.5 1728.2,256.6 1729.7,262.0" fill="none" stroke="#5585d0" stroke-width="2.2" stroke-linejoin="round"/>
<polyline points="1470.2,215.6 1471.7,215.0 1473.2,223.5 1474.7,232.7 1476.2,238.4 1477.7,239.1 1479.2,235.2 1480.7,229.2 1482.2,223.8 1483.7,219.6 1485.2,215.9 1486.7,212.2 1488.2,209.9 1489.7,210.6 1491.2,212.8 1492.7,213.4 1494.2,212.5 1495.7,215.5 1497.2,227.0 1498.7,243.7 1500.2,258.0 1501.7,266.0 1503.2,269.3 1504.7,270.4 1506.2,270.8 1507.7,270.9 1509.2,271.0 1510.7,270.9 1512.2,270.9 1513.7,270.9 1515.2,271.0 1516.7,271.1 1518.2,271.2 1519.7,271.3 1521.2,271.4 1522.7,271.4 1524.2,271.4 1525.7,271.3 1527.2,271.3 1528.7,271.3 1530.2,271.3 1531.7,271.2 1533.2,271.1 1534.7,271.0 1536.2,268.4 1537.7,263.9 1539.2,259.0 1540.7,255.1 1542.2,252.9 1543.7,252.6 1545.2,254.2 1546.7,257.1 1548.2,260.2 1549.7,262.5 1551.2,263.7 1552.7,263.1 1554.2,259.9 1555.7,254.0 1557.2,246.5 1558.7,239.3 1560.2,233.5 1561.7,229.8 1563.2,228.7 1564.7,230.6 1566.2,235.0 1567.7,239.2 1569.2,239.8 1570.7,237.1 1572.2,236.5 1573.7,242.5 1575.2,251.6 1576.7,259.7 1578.2,265.3 1579.7,268.3 1581.2,269.8 1582.7,270.4 1584.2,270.6 1585.7,270.8 1587.2,270.9 1588.7,270.9 1590.2,271.0 1591.7,271.1 1593.2,271.2 1594.7,271.3 1596.2,271.3 1597.7,271.2 1599.2,271.0 1600.7,270.4 1602.2,269.1 1603.7,266.0 1605.2,260.0 1606.7,252.8 1608.2,246.9 1609.7,242.5 1611.2,239.2 1612.7,237.5 1614.2,237.6 1615.7,238.0 1617.2,236.8 1618.7,232.3 1620.2,224.4 1621.7,216.1 1623.2,212.7 1624.7,216.2 1626.2,223.0 1627.7,228.6 1629.2,231.5 1630.7,231.1 1632.2,227.6 1633.7,223.3 1635.2,222.0 1636.7,226.3 1638.2,236.3 1639.7,248.4 1641.2,258.0 1642.7,263.7 1644.2,266.7 1645.7,268.4 1647.2,269.4 1648.7,270.1 1650.2,270.5 1651.7,270.8 1653.2,271.0 1654.7,271.0 1656.2,271.1 1657.7,271.1 1659.2,271.1 1660.7,271.1 1662.2,271.1 1663.7,271.1 1665.2,270.9 1666.7,270.3 1668.2,268.6 1669.7,264.2 1671.2,256.2 1672.7,248.5 1674.2,246.6 1675.7,249.2 1677.2,251.9 1678.7,253.3 1680.2,254.2 1681.7,254.7 1683.2,254.0 1684.7,251.6 1686.2,247.7 1687.7,243.7 1689.2,241.7 1690.7,243.2 1692.2,248.0 1693.7,253.7 1695.2,257.6 1696.7,258.5 1698.2,256.4 1699.7,252.9 1701.2,250.2 1702.7,249.6 1704.2,251.7 1705.7,255.4 1707.2,259.2 1708.7,262.3 1710.2,264.7 1711.7,266.6 1713.2,268.0 1714.7,269.0 1716.2,269.7 1717.7,270.2 1719.2,270.5 1720.7,270.6 1722.2,269.9 1723.7,267.1 1725.2,261.1 1726.7,255.1 1728.2,255.3 1729.7,261.4" fill="none" stroke="#3f73c6" stroke-width="2.2" stroke-linejoin="round"/>
<path d="M1469.2,176.3 L1500.6,176.3 L1503.6,273.2 L1534.2,273.2 L1537.2,176.3 L1568.6,176.3 L1571.6,273.2 L1602.2,273.2 L1605.2,176.3 L1636.6,176.3 L1639.6,273.2 L1670.2,273.2 L1673.2,176.3 L1704.6,176.3 L1707.6,273.2 L1730.4,273.2" fill="none" stroke="#000" stroke-width="2.4" stroke-linejoin="miter"/>
</g>
<rect x="1469.2" y="170.7" width="261.2" height="107.9" fill="none" stroke="#222" stroke-width="1.8"/>
<line x1="1463.7" y1="190.0" x2="1469.2" y2="190.0" stroke="#222" stroke-width="1.6"/>
<line x1="1463.7" y1="273.2" x2="1469.2" y2="273.2" stroke="#222" stroke-width="1.6"/>
<text x="1455.7" y="197.5" text-anchor="end">8</text>
<text x="1455.7" y="280.7" text-anchor="end">0</text>
<text x="1428.2" y="224.7" text-anchor="middle" transform="rotate(-90 1428.2 224.7)">Prediction</text>
<clipPath id="cd02"><rect x="1469.2" y="293.6" width="261.20000000000005" height="107.09999999999997"/></clipPath>
<g clip-path="url(#cd02)">
<polyline points="1470.2,353.4 1471.7,348.3 1473.2,346.7 1474.7,345.5 1476.2,344.1 1477.7,343.2 1479.2,342.7 1480.7,342.0 1482.2,340.6 1483.7,338.6 1485.2,336.7 1486.7,335.1 1488.2,333.6 1489.7,332.3 1491.2,331.6 1492.7,332.0 1494.2,333.9 1495.7,337.6 1497.2,343.5 1498.7,351.7 1500.2,361.5 1501.7,371.0 1503.2,378.6 1504.7,384.0 1506.2,387.7 1507.7,390.1 1509.2,391.5 1510.7,392.4 1512.2,392.8 1513.7,393.1 1515.2,393.2 1516.7,393.3 1518.2,393.4 1519.7,393.4 1521.2,393.4 1522.7,393.4 1524.2,393.4 1525.7,393.4 1527.2,393.3 1528.7,393.2 1530.2,392.7 1531.7,391.4 1533.2,388.5 1534.7,382.3 1536.2,371.2 1537.7,356.7 1539.2,343.6 1540.7,334.1 1542.2,328.1 1543.7,324.9 1545.2,323.7 1546.7,322.8 1548.2,320.6 1549.7,317.0 1551.2,314.0 1552.7,313.8 1554.2,317.2 1555.7,322.2 1557.2,326.3 1558.7,328.1 1560.2,328.3 1561.7,328.5 1563.2,329.3 1564.7,330.9 1566.2,333.8 1567.7,339.7 1569.2,349.8 1570.7,362.6 1572.2,374.2 1573.7,382.2 1575.2,386.8 1576.7,389.5 1578.2,391.1 1579.7,392.0 1581.2,392.6 1582.7,392.9 1584.2,393.2 1585.7,393.3 1587.2,393.3 1588.7,393.4 1590.2,393.4 1591.7,393.4 1593.2,393.4 1594.7,393.3 1596.2,393.2 1597.7,393.0 1599.2,392.3 1600.7,390.6 1602.2,387.2 1603.7,381.2 1605.2,373.2 1606.7,364.9 1608.2,357.3 1609.7,349.8 1611.2,341.6 1612.7,333.0 1614.2,324.8 1615.7,318.5 1617.2,314.7 1618.7,312.5 1620.2,310.5 1621.7,309.0 1623.2,309.9 1624.7,314.7 1626.2,322.0 1627.7,329.1 1629.2,333.8 1630.7,335.9 1632.2,336.3 1633.7,336.8 1635.2,339.6 1636.7,345.7 1638.2,354.3 1639.7,363.6 1641.2,372.4 1642.7,379.7 1644.2,385.1 1645.7,388.6 1647.2,390.7 1648.7,391.9 1650.2,392.5 1651.7,392.9 1653.2,393.1 1654.7,393.2 1656.2,393.3 1657.7,393.3 1659.2,393.2 1660.7,393.0 1662.2,392.4 1663.7,390.7 1665.2,386.7 1666.7,378.9 1668.2,368.1 1669.7,358.9 1671.2,353.4 1672.7,349.3 1674.2,344.8 1675.7,340.6 1677.2,337.6 1678.7,336.6 1680.2,336.7 1681.7,336.9 1683.2,336.9 1684.7,336.7 1686.2,336.5 1687.7,336.4 1689.2,336.3 1690.7,335.8 1692.2,334.4 1693.7,332.7 1695.2,333.0 1696.7,336.9 1698.2,343.2 1699.7,348.4 1701.2,350.4 1702.7,350.7 1704.2,352.9 1705.7,359.1 1707.2,367.9 1708.7,376.5 1710.2,383.1 1711.7,387.5 1713.2,390.2 1714.7,391.7 1716.2,392.6 1717.7,393.0 1719.2,393.2 1720.7,393.3 1722.2,393.3 1723.7,393.4 1725.2,393.4 1726.7,393.4 1728.2,393.4 1729.7,393.4" fill="none" stroke="#5b7367" stroke-width="2.2" stroke-linejoin="round"/>
<polyline points="1470.2,360.2 1471.7,346.2 1473.2,333.3 1474.7,325.9 1476.2,330.5 1477.7,342.0 1479.2,348.4 1480.7,345.8 1482.2,340.5 1483.7,341.2 1485.2,346.8 1486.7,349.0 1488.2,344.5 1489.7,338.7 1491.2,339.0 1492.7,343.6 1494.2,344.4 1495.7,339.6 1497.2,337.5 1498.7,348.1 1500.2,366.2 1501.7,379.4 1503.2,385.2 1504.7,387.1 1506.2,388.3 1507.7,389.5 1509.2,390.5 1510.7,391.0 1512.2,391.3 1513.7,391.5 1515.2,391.8 1516.7,392.0 1518.2,392.3 1519.7,392.6 1521.2,392.6 1522.7,392.6 1524.2,392.6 1525.7,392.7 1527.2,392.7 1528.7,392.4 1530.2,391.7 1531.7,390.0 1533.2,386.2 1534.7,378.9 1536.2,368.7 1537.7,360.4 1539.2,355.3 1540.7,348.0 1542.2,336.8 1543.7,328.2 1545.2,328.1 1546.7,335.4 1548.2,345.2 1549.7,354.4 1551.2,360.1 1552.7,360.3 1554.2,356.7 1555.7,353.2 1557.2,350.7 1558.7,346.8 1560.2,341.0 1561.7,336.6 1563.2,336.3 1564.7,337.9 1566.2,338.0 1567.7,336.9 1569.2,337.4 1570.7,342.7 1572.2,353.9 1573.7,367.7 1575.2,379.2 1576.7,386.1 1578.2,389.5 1579.7,391.0 1581.2,391.7 1582.7,392.1 1584.2,392.2 1585.7,392.4 1587.2,392.5 1588.7,392.5 1590.2,392.4 1591.7,392.3 1593.2,392.3 1594.7,392.3 1596.2,392.4 1597.7,392.4 1599.2,392.0 1600.7,390.4 1602.2,385.8 1603.7,373.2 1605.2,351.0 1606.7,332.6 1608.2,328.3 1609.7,332.2 1611.2,337.2 1612.7,341.5 1614.2,347.3 1615.7,354.3 1617.2,358.1 1618.7,354.9 1620.2,345.8 1621.7,336.8 1623.2,334.8 1624.7,341.3 1626.2,351.5 1627.7,358.5 1629.2,357.3 1630.7,348.3 1632.2,343.1 1633.7,351.0 1635.2,363.3 1636.7,368.0 1638.2,364.9 1639.7,361.5 1641.2,364.1 1642.7,371.9 1644.2,380.5 1645.7,386.4 1647.2,389.6 1648.7,391.1 1650.2,391.9 1651.7,392.3 1653.2,392.4 1654.7,392.3 1656.2,392.3 1657.7,392.5 1659.2,392.7 1660.7,392.8 1662.2,392.7 1663.7,392.4 1665.2,391.2 1666.7,387.9 1668.2,380.9 1669.7,370.9 1671.2,361.0 1672.7,353.3 1674.2,348.2 1675.7,345.2 1677.2,341.6 1678.7,337.9 1680.2,337.8 1681.7,342.8 1683.2,348.1 1684.7,349.0 1686.2,347.0 1687.7,346.4 1689.2,347.6 1690.7,348.8 1692.2,349.7 1693.7,351.2 1695.2,352.8 1696.7,353.6 1698.2,353.8 1699.7,354.0 1701.2,355.1 1702.7,359.1 1704.2,365.6 1705.7,370.6 1707.2,373.3 1708.7,377.1 1710.2,382.8 1711.7,387.8 1713.2,390.5 1714.7,391.5 1716.2,391.8 1717.7,391.9 1719.2,392.0 1720.7,392.1 1722.2,392.3 1723.7,392.4 1725.2,392.4 1726.7,392.3 1728.2,392.2 1729.7,392.2" fill="none" stroke="#a9c2ea" stroke-width="2.2" stroke-linejoin="round"/>
<polyline points="1470.2,346.6 1471.7,331.4 1473.2,321.6 1474.7,317.8 1476.2,323.2 1477.7,334.0 1479.2,341.5 1480.7,342.3 1482.2,340.0 1483.7,339.0 1485.2,338.9 1486.7,335.6 1488.2,329.3 1489.7,326.0 1491.2,329.7 1492.7,335.3 1494.2,335.6 1495.7,332.3 1497.2,334.1 1498.7,346.6 1500.2,364.3 1501.7,377.6 1503.2,383.9 1504.7,386.2 1506.2,387.5 1507.7,388.7 1509.2,389.9 1510.7,390.7 1512.2,391.1 1513.7,391.2 1515.2,391.1 1516.7,391.1 1518.2,391.2 1519.7,391.3 1521.2,391.4 1522.7,391.4 1524.2,391.3 1525.7,391.4 1527.2,391.4 1528.7,391.3 1530.2,390.8 1531.7,389.5 1533.2,386.5 1534.7,380.7 1536.2,372.8 1537.7,367.7 1539.2,365.2 1540.7,357.9 1542.2,344.1 1543.7,333.7 1545.2,336.1 1546.7,346.6 1548.2,356.8 1549.7,363.4 1551.2,365.6 1552.7,363.1 1554.2,356.7 1555.7,348.7 1557.2,339.5 1558.7,330.1 1560.2,323.8 1561.7,323.1 1563.2,327.5 1564.7,333.8 1566.2,338.4 1567.7,339.5 1569.2,340.1 1570.7,345.0 1572.2,355.0 1573.7,366.1 1575.2,375.2 1576.7,381.8 1578.2,386.0 1579.7,388.3 1581.2,389.5 1582.7,390.1 1584.2,390.5 1585.7,390.8 1587.2,391.1 1588.7,391.1 1590.2,391.2 1591.7,391.2 1593.2,391.3 1594.7,391.4 1596.2,391.2 1597.7,390.8 1599.2,389.9 1600.7,387.9 1602.2,382.5 1603.7,368.3 1605.2,342.5 1606.7,320.3 1608.2,316.3 1609.7,322.2 1611.2,327.1 1612.7,331.1 1614.2,339.6 1615.7,351.6 1617.2,359.8 1618.7,360.0 1620.2,352.9 1621.7,342.2 1623.2,334.1 1624.7,334.9 1626.2,344.2 1627.7,354.0 1629.2,356.0 1630.7,348.9 1632.2,342.9 1633.7,348.5 1635.2,359.8 1636.7,365.1 1638.2,363.8 1639.7,363.8 1641.2,368.9 1642.7,376.7 1644.2,383.6 1645.7,387.8 1647.2,389.9 1648.7,390.8 1650.2,391.2 1651.7,391.4 1653.2,391.3 1654.7,391.1 1656.2,391.0 1657.7,391.1 1659.2,391.2 1660.7,391.2 1662.2,391.0 1663.7,390.3 1665.2,388.8 1666.7,384.9 1668.2,376.6 1669.7,364.1 1671.2,351.6 1672.7,342.5 1674.2,338.0 1675.7,337.5 1677.2,338.9 1678.7,341.8 1680.2,347.6 1681.7,355.4 1683.2,360.8 1684.7,361.1 1686.2,357.3 1687.7,352.7 1689.2,349.4 1690.7,347.2 1692.2,345.5 1693.7,344.2 1695.2,343.1 1696.7,342.8 1698.2,343.8 1699.7,345.4 1701.2,347.2 1702.7,351.3 1704.2,358.3 1705.7,364.2 1707.2,368.2 1708.7,373.4 1710.2,380.2 1711.7,385.9 1713.2,388.9 1714.7,390.2 1716.2,390.8 1717.7,391.1 1719.2,391.3 1720.7,391.4 1722.2,391.4 1723.7,391.4 1725.2,391.7 1726.7,392.1 1728.2,392.3 1729.7,392.3" fill="none" stroke="#8eb0e4" stroke-width="2.2" stroke-linejoin="round"/>
<polyline points="1470.2,351.2 1471.7,342.7 1473.2,335.4 1474.7,325.4 1476.2,320.6 1477.7,328.4 1479.2,340.7 1480.7,347.6 1482.2,348.5 1483.7,346.7 1485.2,344.2 1486.7,340.3 1488.2,335.3 1489.7,332.6 1491.2,333.7 1492.7,336.0 1494.2,336.1 1495.7,336.0 1497.2,341.4 1498.7,354.1 1500.2,369.4 1501.7,380.4 1503.2,385.1 1504.7,386.6 1506.2,387.5 1507.7,388.6 1509.2,389.9 1510.7,391.0 1512.2,391.6 1513.7,391.8 1515.2,391.8 1516.7,391.8 1518.2,391.8 1519.7,391.8 1521.2,391.8 1522.7,391.8 1524.2,391.7 1525.7,391.6 1527.2,391.6 1528.7,391.6 1530.2,391.2 1531.7,390.1 1533.2,387.4 1534.7,382.4 1536.2,375.9 1537.7,370.5 1539.2,365.5 1540.7,356.5 1542.2,343.8 1543.7,335.2 1545.2,336.1 1546.7,344.3 1548.2,354.6 1549.7,362.6 1551.2,366.3 1552.7,365.2 1554.2,361.2 1555.7,355.7 1557.2,348.2 1558.7,338.3 1560.2,328.6 1561.7,322.9 1563.2,323.5 1564.7,328.6 1566.2,335.2 1567.7,341.4 1569.2,347.0 1570.7,353.3 1572.2,361.9 1573.7,371.9 1575.2,380.3 1576.7,385.7 1578.2,388.6 1579.7,390.1 1581.2,390.9 1582.7,391.3 1584.2,391.4 1585.7,391.3 1587.2,391.1 1588.7,391.0 1590.2,390.9 1591.7,390.9 1593.2,391.0 1594.7,391.2 1596.2,391.4 1597.7,391.4 1599.2,391.1 1600.7,390.0 1602.2,386.6 1603.7,376.3 1605.2,355.5 1606.7,334.2 1608.2,326.9 1609.7,331.7 1611.2,337.7 1612.7,340.9 1614.2,345.9 1615.7,355.0 1617.2,362.4 1618.7,363.3 1620.2,358.8 1621.7,352.9 1623.2,348.1 1624.7,345.5 1626.2,347.5 1627.7,353.1 1629.2,355.4 1630.7,352.1 1632.2,351.2 1633.7,358.1 1635.2,367.6 1636.7,372.0 1638.2,370.7 1639.7,368.9 1641.2,370.4 1642.7,375.1 1644.2,380.8 1645.7,385.6 1647.2,388.7 1648.7,390.5 1650.2,391.5 1651.7,391.8 1653.2,391.8 1654.7,391.7 1656.2,391.7 1657.7,391.8 1659.2,391.8 1660.7,391.9 1662.2,391.8 1663.7,391.6 1665.2,390.7 1666.7,388.1 1668.2,381.9 1669.7,372.4 1671.2,362.3 1672.7,352.3 1674.2,341.8 1675.7,334.1 1677.2,332.4 1678.7,336.4 1680.2,343.8 1681.7,351.5 1683.2,355.9 1684.7,356.0 1686.2,355.4 1687.7,356.6 1689.2,356.6 1690.7,353.3 1692.2,349.6 1693.7,349.0 1695.2,349.1 1696.7,345.8 1698.2,339.8 1699.7,335.6 1701.2,337.3 1702.7,346.4 1704.2,359.1 1705.7,368.9 1707.2,375.1 1708.7,380.2 1710.2,384.8 1711.7,388.3 1713.2,390.1 1714.7,390.8 1716.2,391.1 1717.7,391.4 1719.2,391.5 1720.7,391.6 1722.2,391.6 1723.7,391.5 1725.2,391.5 1726.7,391.5 1728.2,391.5 1729.7,391.5" fill="none" stroke="#6f9ad9" stroke-width="2.2" stroke-linejoin="round"/>
<polyline points="1470.2,353.3 1471.7,338.8 1473.2,327.9 1474.7,321.8 1476.2,323.0 1477.7,327.5 1479.2,329.9 1480.7,328.2 1482.2,326.2 1483.7,326.9 1485.2,326.5 1486.7,320.6 1488.2,313.4 1489.7,314.3 1491.2,322.5 1492.7,327.7 1494.2,323.8 1495.7,317.4 1497.2,322.5 1498.7,342.1 1500.2,363.7 1501.7,377.5 1503.2,383.2 1504.7,385.1 1506.2,386.5 1507.7,388.4 1509.2,390.1 1510.7,391.1 1512.2,391.6 1513.7,391.8 1515.2,392.0 1516.7,392.2 1518.2,392.3 1519.7,392.4 1521.2,392.5 1522.7,392.5 1524.2,392.5 1525.7,392.5 1527.2,392.5 1528.7,392.5 1530.2,392.2 1531.7,391.3 1533.2,388.8 1534.7,382.6 1536.2,371.4 1537.7,359.3 1539.2,350.5 1540.7,340.2 1542.2,325.8 1543.7,316.2 1545.2,319.9 1546.7,334.0 1548.2,349.8 1549.7,361.4 1551.2,365.9 1552.7,361.9 1554.2,351.4 1555.7,339.9 1557.2,330.9 1558.7,322.8 1560.2,314.0 1561.7,307.7 1563.2,308.1 1564.7,315.6 1566.2,327.3 1567.7,339.8 1569.2,350.6 1570.7,358.7 1572.2,365.2 1573.7,371.5 1575.2,377.8 1576.7,383.2 1578.2,386.9 1579.7,389.1 1581.2,390.3 1582.7,391.1 1584.2,391.7 1585.7,392.0 1587.2,392.1 1588.7,392.0 1590.2,392.0 1591.7,391.9 1593.2,392.0 1594.7,392.1 1596.2,392.2 1597.7,392.1 1599.2,391.4 1600.7,389.7 1602.2,385.3 1603.7,374.0 1605.2,354.4 1606.7,337.1 1608.2,330.5 1609.7,331.7 1611.2,335.9 1612.7,340.7 1614.2,345.7 1615.7,350.1 1617.2,351.6 1618.7,348.3 1620.2,341.5 1621.7,336.0 1623.2,333.2 1624.7,332.9 1626.2,338.2 1627.7,347.2 1629.2,350.6 1630.7,346.1 1632.2,344.0 1633.7,351.2 1635.2,361.5 1636.7,365.9 1638.2,364.8 1639.7,365.2 1641.2,369.6 1642.7,376.0 1644.2,382.5 1645.7,387.4 1647.2,390.1 1648.7,391.2 1650.2,391.6 1651.7,391.8 1653.2,392.1 1654.7,392.4 1656.2,392.7 1657.7,392.8 1659.2,392.8 1660.7,392.6 1662.2,392.3 1663.7,391.9 1665.2,390.9 1666.7,388.0 1668.2,381.2 1669.7,371.0 1671.2,361.0 1672.7,352.6 1674.2,345.2 1675.7,340.5 1677.2,339.7 1678.7,342.3 1680.2,348.3 1681.7,355.4 1683.2,359.2 1684.7,357.2 1686.2,350.5 1687.7,343.5 1689.2,340.0 1690.7,339.9 1692.2,340.8 1693.7,341.0 1695.2,340.6 1696.7,341.9 1698.2,345.8 1699.7,350.3 1701.2,354.1 1702.7,359.3 1704.2,366.5 1705.7,372.5 1707.2,376.6 1708.7,381.1 1710.2,385.6 1711.7,388.8 1713.2,390.5 1714.7,391.2 1716.2,391.6 1717.7,391.9 1719.2,392.0 1720.7,392.2 1722.2,392.4 1723.7,392.6 1725.2,392.6 1726.7,392.6 1728.2,392.7 1729.7,392.9" fill="none" stroke="#5585d0" stroke-width="2.2" stroke-linejoin="round"/>
<polyline points="1470.2,344.5 1471.7,332.8 1473.2,329.0 1474.7,330.9 1476.2,338.4 1477.7,346.9 1479.2,349.8 1480.7,345.1 1482.2,337.3 1483.7,333.4 1485.2,334.6 1486.7,336.4 1488.2,337.3 1489.7,338.7 1491.2,340.3 1492.7,339.7 1494.2,335.3 1495.7,330.8 1497.2,334.6 1498.7,347.9 1500.2,364.5 1501.7,377.0 1503.2,383.0 1504.7,385.3 1506.2,386.7 1507.7,388.3 1509.2,389.9 1510.7,391.1 1512.2,391.8 1513.7,392.1 1515.2,392.1 1516.7,392.1 1518.2,392.2 1519.7,392.3 1521.2,392.3 1522.7,392.3 1524.2,392.2 1525.7,392.0 1527.2,391.9 1528.7,391.8 1530.2,391.7 1531.7,391.0 1533.2,389.3 1534.7,386.3 1536.2,382.7 1537.7,379.2 1539.2,373.5 1540.7,361.9 1542.2,344.5 1543.7,331.0 1545.2,329.8 1546.7,337.8 1548.2,348.1 1549.7,357.5 1551.2,363.2 1552.7,363.0 1554.2,357.9 1555.7,350.9 1557.2,343.7 1558.7,337.1 1560.2,332.2 1561.7,330.2 1563.2,331.4 1564.7,335.9 1566.2,341.9 1567.7,346.6 1569.2,349.2 1570.7,352.0 1572.2,358.4 1573.7,368.2 1575.2,378.1 1576.7,384.9 1578.2,388.5 1579.7,390.3 1581.2,391.4 1582.7,392.0 1584.2,392.2 1585.7,392.3 1587.2,392.3 1588.7,392.3 1590.2,392.3 1591.7,392.2 1593.2,392.2 1594.7,392.1 1596.2,392.0 1597.7,391.8 1599.2,391.3 1600.7,390.2 1602.2,387.0 1603.7,378.1 1605.2,359.9 1606.7,339.7 1608.2,329.6 1609.7,330.5 1611.2,334.2 1612.7,335.9 1614.2,338.1 1615.7,344.5 1617.2,351.5 1618.7,353.1 1620.2,348.3 1621.7,341.3 1623.2,339.2 1624.7,345.4 1626.2,355.1 1627.7,361.9 1629.2,361.5 1630.7,352.9 1632.2,345.2 1633.7,349.5 1635.2,360.6 1636.7,366.3 1638.2,365.6 1639.7,366.3 1641.2,371.3 1642.7,378.0 1644.2,383.8 1645.7,387.5 1647.2,389.6 1648.7,390.7 1650.2,391.3 1651.7,391.7 1653.2,391.9 1654.7,392.0 1656.2,392.2 1657.7,392.3 1659.2,392.5 1660.7,392.7 1662.2,392.7 1663.7,392.5 1665.2,391.6 1666.7,389.0 1668.2,383.1 1669.7,373.4 1671.2,363.6 1672.7,357.3 1674.2,354.5 1675.7,353.8 1677.2,354.0 1678.7,354.7 1680.2,357.0 1681.7,360.3 1683.2,361.4 1684.7,357.4 1686.2,350.9 1687.7,346.9 1689.2,346.2 1690.7,345.7 1692.2,345.0 1693.7,346.1 1695.2,348.4 1696.7,349.5 1698.2,348.2 1699.7,345.5 1701.2,345.1 1702.7,351.5 1704.2,362.8 1705.7,372.0 1707.2,377.1 1708.7,380.7 1710.2,384.5 1711.7,388.2 1713.2,390.4 1714.7,391.5 1716.2,392.0 1717.7,392.3 1719.2,392.5 1720.7,392.7 1722.2,392.8 1723.7,392.8 1725.2,392.7 1726.7,392.5 1728.2,392.3 1729.7,392.2" fill="none" stroke="#3f73c6" stroke-width="2.2" stroke-linejoin="round"/>
<path d="M1469.2,298.2 L1500.6,298.2 L1503.6,395.7 L1534.2,395.7 L1537.2,298.2 L1568.6,298.2 L1571.6,395.7 L1602.2,395.7 L1605.2,298.2 L1636.6,298.2 L1639.6,395.7 L1670.2,395.7 L1673.2,298.2 L1704.6,298.2 L1707.6,395.7 L1730.4,395.7" fill="none" stroke="#000" stroke-width="2.4" stroke-linejoin="miter"/>
</g>
<rect x="1469.2" y="293.6" width="261.2" height="107.1" fill="none" stroke="#222" stroke-width="1.8"/>
<line x1="1463.7" y1="300.2" x2="1469.2" y2="300.2" stroke="#222" stroke-width="1.6"/>
<line x1="1463.7" y1="395.7" x2="1469.2" y2="395.7" stroke="#222" stroke-width="1.6"/>
<text x="1455.7" y="307.7" text-anchor="end">5</text>
<text x="1455.7" y="403.2" text-anchor="end">0</text>
<text x="1428.2" y="347.1" text-anchor="middle" transform="rotate(-90 1428.2 347.1)">Prediction</text>
<line x1="1468.7" y1="400.7" x2="1468.7" y2="407.7" stroke="#222" stroke-width="1.6"/>
<text x="1468.7" y="429.7" text-anchor="middle">0</text>
<line x1="1534.0" y1="400.7" x2="1534.0" y2="407.7" stroke="#222" stroke-width="1.6"/>
<text x="1534.0" y="429.7" text-anchor="middle">3.2</text>
<line x1="1599.3" y1="400.7" x2="1599.3" y2="407.7" stroke="#222" stroke-width="1.6"/>
<text x="1599.3" y="429.7" text-anchor="middle">6.4</text>
<line x1="1664.6" y1="400.7" x2="1664.6" y2="407.7" stroke="#222" stroke-width="1.6"/>
<text x="1664.6" y="429.7" text-anchor="middle">9.6</text>
<line x1="1729.9" y1="400.7" x2="1729.9" y2="407.7" stroke="#222" stroke-width="1.6"/>
<text x="1729.9" y="429.7" text-anchor="middle">12.8</text>
<text x="1599.8" y="461.1" text-anchor="middle">Position (kb)</text>
<clipPath id="cd10"><rect x="1803.6" y="48.3" width="260.5" height="108.3"/></clipPath>
<g clip-path="url(#cd10)">
<polyline points="1804.6,142.3 1806.1,132.6 1807.6,123.8 1809.1,116.8 1810.6,109.1 1812.1,96.1 1813.6,79.4 1815.1,74.4 1816.6,89.7 1818.1,112.4 1819.6,129.7 1821.1,138.5 1822.6,143.3 1824.1,146.3 1825.6,148.2 1827.1,149.4 1828.6,150.1 1830.1,150.5 1831.6,150.7 1833.1,150.8 1834.6,150.1 1836.1,147.7 1837.6,144.8 1839.1,142.0 1840.6,139.5 1842.1,137.4 1843.6,136.1 1845.1,135.8 1846.6,136.4 1848.1,137.8 1849.6,139.7 1851.1,142.4 1852.6,145.0 1854.1,147.1 1855.6,148.6 1857.1,149.6 1858.6,150.3 1860.1,150.6 1861.6,150.8 1863.1,150.9 1864.6,149.4 1866.1,145.4 1867.6,141.6 1869.1,138.4 1870.6,135.2 1872.1,132.0 1873.6,129.3 1875.1,128.4 1876.6,129.6 1878.1,132.2 1879.6,135.3 1881.1,139.1 1882.6,142.7 1884.1,145.5 1885.6,147.7 1887.1,149.0 1888.6,149.8 1890.1,150.0 1891.6,149.6 1893.1,148.3 1894.6,145.9 1896.1,143.4 1897.6,141.8 1899.1,141.1 1900.6,140.4 1902.1,139.7 1903.6,139.1 1905.1,139.0 1906.6,139.5 1908.1,140.7 1909.6,142.3 1911.1,144.0 1912.6,145.7 1914.1,147.3 1915.6,148.6 1917.1,149.6 1918.6,150.2 1920.1,150.6 1921.6,150.7 1923.1,150.7 1924.6,150.6 1926.1,150.5 1927.6,150.4 1929.1,150.3 1930.6,150.2 1932.1,150.2 1933.6,150.1 1935.1,150.1 1936.6,150.1 1938.1,150.2 1939.6,150.3 1941.1,150.5 1942.6,150.6 1944.1,150.8 1945.6,150.8 1947.1,150.9 1948.6,150.9 1950.1,151.0 1951.6,151.0 1953.1,151.0 1954.6,151.0 1956.1,151.0 1957.6,150.9 1959.1,150.7 1960.6,150.4 1962.1,149.8 1963.6,149.0 1965.1,148.2 1966.6,147.7 1968.1,147.7 1969.6,148.2 1971.1,149.0 1972.6,149.7 1974.1,150.3 1975.6,150.7 1977.1,150.8 1978.6,150.9 1980.1,150.8 1981.6,150.6 1983.1,150.0 1984.6,149.0 1986.1,147.1 1987.6,144.3 1989.1,140.6 1990.6,136.5 1992.1,133.2 1993.6,131.8 1995.1,132.6 1996.6,135.0 1998.1,138.0 1999.6,140.9 2001.1,142.4 2002.6,141.9 2004.1,139.9 2005.6,138.2 2007.1,137.3 2008.6,136.8 2010.1,136.5 2011.6,136.6 2013.1,137.2 2014.6,138.7 2016.1,140.5 2017.6,142.4 2019.1,144.0 2020.6,145.4 2022.1,146.9 2023.6,148.4 2025.1,149.5 2026.6,150.1 2028.1,150.5 2029.6,150.7 2031.1,150.9 2032.6,150.9 2034.1,151.0 2035.6,150.4 2037.1,148.6 2038.6,146.8 2040.1,145.4 2041.6,144.7 2043.1,144.5 2044.6,144.3 2046.1,143.3 2047.6,141.7 2049.1,139.7 2050.6,137.9 2052.1,136.6 2053.6,135.6 2055.1,134.7 2056.6,133.7 2058.1,133.3 2059.6,133.9 2061.1,135.8 2062.6,138.7" fill="none" stroke="#5b7367" stroke-width="2.2" stroke-linejoin="round"/>
<polyline points="1804.6,128.7 1806.1,117.5 1807.6,113.3 1809.1,113.8 1810.6,114.3 1812.1,114.2 1813.6,115.6 1815.1,119.5 1816.6,125.1 1818.1,131.4 1819.6,136.8 1821.1,141.2 1822.6,144.5 1824.1,147.1 1825.6,148.5 1827.1,149.2 1828.6,149.6 1830.1,149.9 1831.6,150.1 1833.1,150.1 1834.6,150.1 1836.1,150.1 1837.6,150.1 1839.1,150.1 1840.6,150.1 1842.1,150.1 1843.6,150.1 1845.1,150.0 1846.6,150.0 1848.1,150.1 1849.6,150.1 1851.1,150.1 1852.6,150.1 1854.1,150.2 1855.6,150.2 1857.1,150.1 1858.6,150.0 1860.1,149.9 1861.6,150.0 1863.1,150.1 1864.6,150.2 1866.1,150.3 1867.6,150.3 1869.1,150.3 1870.6,150.3 1872.1,150.2 1873.6,150.2 1875.1,150.1 1876.6,150.1 1878.1,150.1 1879.6,150.2 1881.1,150.2 1882.6,150.2 1884.1,150.1 1885.6,150.2 1887.1,150.2 1888.6,150.2 1890.1,150.2 1891.6,150.2 1893.1,150.2 1894.6,150.0 1896.1,149.8 1897.6,149.3 1899.1,148.7 1900.6,148.2 1902.1,148.0 1903.6,148.2 1905.1,148.7 1906.6,149.2 1908.1,149.6 1909.6,149.9 1911.1,150.1 1912.6,150.1 1914.1,150.1 1915.6,150.0 1917.1,150.0 1918.6,150.0 1920.1,150.1 1921.6,150.2 1923.1,150.2 1924.6,150.2 1926.1,150.1 1927.6,150.1 1929.1,150.2 1930.6,150.2 1932.1,150.1 1933.6,150.1 1935.1,150.1 1936.6,150.2 1938.1,150.1 1939.6,150.1 1941.1,150.1 1942.6,150.0 1944.1,150.0 1945.6,150.0 1947.1,150.1 1948.6,150.1 1950.1,150.2 1951.6,150.3 1953.1,150.3 1954.6,150.4 1956.1,150.4 1957.6,150.3 1959.1,150.2 1960.6,150.1 1962.1,150.1 1963.6,150.2 1965.1,150.2 1966.6,150.2 1968.1,150.1 1969.6,150.1 1971.1,150.1 1972.6,150.1 1974.1,150.1 1975.6,150.1 1977.1,150.2 1978.6,150.2 1980.1,150.2 1981.6,150.2 1983.1,150.2 1984.6,150.2 1986.1,150.2 1987.6,150.2 1989.1,150.1 1990.6,150.1 1992.1,150.0 1993.6,150.0 1995.1,150.1 1996.6,150.1 1998.1,150.1 1999.6,150.1 2001.1,150.1 2002.6,150.1 2004.1,150.2 2005.6,150.2 2007.1,150.3 2008.6,150.2 2010.1,150.2 2011.6,150.2 2013.1,150.1 2014.6,150.1 2016.1,150.1 2017.6,150.1 2019.1,150.1 2020.6,150.1 2022.1,150.1 2023.6,150.0 2025.1,150.0 2026.6,150.0 2028.1,150.0 2029.6,150.0 2031.1,150.1 2032.6,150.3 2034.1,150.4 2035.6,150.4 2037.1,150.3 2038.6,150.2 2040.1,150.1 2041.6,150.1 2043.1,150.1 2044.6,150.1 2046.1,150.2 2047.6,150.2 2049.1,150.1 2050.6,149.7 2052.1,148.7 2053.6,147.1 2055.1,145.7 2056.6,145.6 2058.1,146.5 2059.6,147.7 2061.1,148.7 2062.6,149.5" fill="none" stroke="#a9c2ea" stroke-width="2.2" stroke-linejoin="round"/>
<polyline points="1804.6,124.8 1806.1,108.9 1807.6,104.6 1809.1,110.7 1810.6,117.6 1812.1,120.8 1813.6,121.6 1815.1,123.0 1816.6,127.1 1818.1,133.5 1819.6,139.7 1821.1,144.2 1822.6,147.2 1824.1,148.9 1825.6,149.9 1827.1,150.2 1828.6,150.4 1830.1,150.5 1831.6,150.7 1833.1,150.7 1834.6,150.8 1836.1,150.9 1837.6,150.9 1839.1,151.0 1840.6,151.0 1842.1,151.0 1843.6,151.0 1845.1,150.9 1846.6,150.9 1848.1,150.9 1849.6,150.9 1851.1,150.9 1852.6,151.0 1854.1,151.0 1855.6,151.0 1857.1,151.0 1858.6,150.9 1860.1,150.9 1861.6,150.9 1863.1,151.0 1864.6,151.0 1866.1,151.0 1867.6,151.1 1869.1,151.1 1870.6,151.1 1872.1,151.1 1873.6,151.1 1875.1,151.0 1876.6,150.9 1878.1,150.8 1879.6,150.8 1881.1,150.8 1882.6,150.9 1884.1,150.9 1885.6,150.9 1887.1,150.9 1888.6,150.8 1890.1,150.8 1891.6,150.8 1893.1,150.8 1894.6,150.6 1896.1,150.4 1897.6,150.2 1899.1,150.0 1900.6,149.8 1902.1,149.7 1903.6,149.6 1905.1,149.8 1906.6,150.2 1908.1,150.6 1909.6,150.9 1911.1,151.0 1912.6,151.0 1914.1,151.0 1915.6,151.0 1917.1,151.0 1918.6,151.0 1920.1,150.9 1921.6,150.9 1923.1,150.8 1924.6,150.8 1926.1,150.9 1927.6,151.0 1929.1,151.0 1930.6,150.9 1932.1,150.8 1933.6,150.8 1935.1,150.8 1936.6,150.9 1938.1,150.9 1939.6,150.9 1941.1,150.9 1942.6,150.9 1944.1,150.9 1945.6,150.9 1947.1,150.9 1948.6,150.9 1950.1,150.9 1951.6,150.9 1953.1,150.9 1954.6,150.9 1956.1,150.9 1957.6,150.8 1959.1,150.8 1960.6,150.8 1962.1,150.9 1963.6,150.9 1965.1,150.9 1966.6,150.9 1968.1,150.9 1969.6,150.9 1971.1,150.9 1972.6,151.0 1974.1,151.0 1975.6,151.0 1977.1,150.9 1978.6,150.9 1980.1,150.9 1981.6,150.9 1983.1,150.9 1984.6,150.9 1986.1,151.0 1987.6,151.0 1989.1,151.0 1990.6,151.0 1992.1,151.1 1993.6,151.0 1995.1,151.0 1996.6,151.0 1998.1,150.9 1999.6,150.8 2001.1,150.8 2002.6,150.8 2004.1,150.9 2005.6,150.9 2007.1,150.9 2008.6,151.0 2010.1,151.0 2011.6,151.0 2013.1,150.9 2014.6,150.9 2016.1,150.9 2017.6,151.0 2019.1,151.0 2020.6,151.0 2022.1,150.9 2023.6,150.9 2025.1,151.0 2026.6,151.0 2028.1,151.0 2029.6,151.0 2031.1,150.9 2032.6,150.9 2034.1,150.9 2035.6,150.9 2037.1,151.0 2038.6,151.0 2040.1,151.0 2041.6,150.9 2043.1,150.9 2044.6,150.9 2046.1,150.9 2047.6,150.8 2049.1,150.7 2050.6,150.3 2052.1,149.6 2053.6,148.1 2055.1,146.4 2056.6,145.7 2058.1,146.5 2059.6,147.9 2061.1,149.3 2062.6,150.2" fill="none" stroke="#8eb0e4" stroke-width="2.2" stroke-linejoin="round"/>
<polyline points="1804.6,126.7 1806.1,107.8 1807.6,97.1 1809.1,98.5 1810.6,102.9 1812.1,105.7 1813.6,110.0 1815.1,116.7 1816.6,123.9 1818.1,130.6 1819.6,136.2 1821.1,140.9 1822.6,145.0 1824.1,148.0 1825.6,149.6 1827.1,150.1 1828.6,150.3 1830.1,150.4 1831.6,150.6 1833.1,150.8 1834.6,150.9 1836.1,150.9 1837.6,151.0 1839.1,151.0 1840.6,151.0 1842.1,151.0 1843.6,151.1 1845.1,151.1 1846.6,151.1 1848.1,151.0 1849.6,150.9 1851.1,150.9 1852.6,151.0 1854.1,151.0 1855.6,151.0 1857.1,151.1 1858.6,151.1 1860.1,151.2 1861.6,151.2 1863.1,151.2 1864.6,151.2 1866.1,151.1 1867.6,151.1 1869.1,151.1 1870.6,151.1 1872.1,151.0 1873.6,151.0 1875.1,150.9 1876.6,150.9 1878.1,150.9 1879.6,151.0 1881.1,151.0 1882.6,151.0 1884.1,151.0 1885.6,151.0 1887.1,151.0 1888.6,151.0 1890.1,151.0 1891.6,151.0 1893.1,150.9 1894.6,150.6 1896.1,150.3 1897.6,149.7 1899.1,149.1 1900.6,148.6 1902.1,148.4 1903.6,148.4 1905.1,148.7 1906.6,149.2 1908.1,149.9 1909.6,150.5 1911.1,150.9 1912.6,151.1 1914.1,151.1 1915.6,151.1 1917.1,151.1 1918.6,151.0 1920.1,151.0 1921.6,151.0 1923.1,151.0 1924.6,151.0 1926.1,151.0 1927.6,150.9 1929.1,150.9 1930.6,150.8 1932.1,150.8 1933.6,150.8 1935.1,150.9 1936.6,150.9 1938.1,151.0 1939.6,151.1 1941.1,151.1 1942.6,151.1 1944.1,151.0 1945.6,151.0 1947.1,151.0 1948.6,151.0 1950.1,151.0 1951.6,151.0 1953.1,151.0 1954.6,150.9 1956.1,150.9 1957.6,151.0 1959.1,151.0 1960.6,151.1 1962.1,151.0 1963.6,151.0 1965.1,151.0 1966.6,150.9 1968.1,150.9 1969.6,150.9 1971.1,150.9 1972.6,150.9 1974.1,150.9 1975.6,150.9 1977.1,150.9 1978.6,151.0 1980.1,151.0 1981.6,151.0 1983.1,151.0 1984.6,151.0 1986.1,151.0 1987.6,151.0 1989.1,151.1 1990.6,151.1 1992.1,151.0 1993.6,151.0 1995.1,151.0 1996.6,151.0 1998.1,151.0 1999.6,151.0 2001.1,150.9 2002.6,150.9 2004.1,150.9 2005.6,150.9 2007.1,151.0 2008.6,151.1 2010.1,151.1 2011.6,151.1 2013.1,151.1 2014.6,151.1 2016.1,151.1 2017.6,151.0 2019.1,151.0 2020.6,151.0 2022.1,151.0 2023.6,151.1 2025.1,151.1 2026.6,151.1 2028.1,151.1 2029.6,151.1 2031.1,151.0 2032.6,150.9 2034.1,150.9 2035.6,150.9 2037.1,150.9 2038.6,150.9 2040.1,151.0 2041.6,151.0 2043.1,150.9 2044.6,150.9 2046.1,150.9 2047.6,150.9 2049.1,150.8 2050.6,150.4 2052.1,149.5 2053.6,148.1 2055.1,146.4 2056.6,145.6 2058.1,146.4 2059.6,147.9 2061.1,149.3 2062.6,150.2" fill="none" stroke="#6f9ad9" stroke-width="2.2" stroke-linejoin="round"/>
<polyline points="1804.6,131.4 1806.1,117.9 1807.6,110.0 1809.1,111.3 1810.6,113.8 1812.1,113.8 1813.6,115.7 1815.1,121.7 1816.6,128.7 1818.1,134.8 1819.6,139.7 1821.1,143.6 1822.6,146.7 1824.1,148.8 1825.6,150.0 1827.1,150.5 1828.6,150.8 1830.1,150.9 1831.6,151.0 1833.1,151.0 1834.6,151.0 1836.1,151.0 1837.6,151.0 1839.1,151.0 1840.6,151.0 1842.1,151.0 1843.6,151.1 1845.1,151.2 1846.6,151.2 1848.1,151.3 1849.6,151.3 1851.1,151.2 1852.6,151.1 1854.1,151.1 1855.6,151.1 1857.1,151.1 1858.6,151.1 1860.1,151.1 1861.6,151.0 1863.1,151.0 1864.6,150.9 1866.1,150.9 1867.6,151.0 1869.1,151.1 1870.6,151.1 1872.1,151.1 1873.6,151.1 1875.1,151.0 1876.6,151.0 1878.1,151.1 1879.6,151.1 1881.1,151.1 1882.6,151.1 1884.1,151.1 1885.6,151.2 1887.1,151.2 1888.6,151.2 1890.1,151.2 1891.6,151.1 1893.1,151.0 1894.6,150.8 1896.1,150.6 1897.6,150.3 1899.1,149.8 1900.6,149.3 1902.1,149.0 1903.6,149.1 1905.1,149.5 1906.6,149.9 1908.1,150.3 1909.6,150.6 1911.1,150.7 1912.6,150.9 1914.1,151.0 1915.6,151.0 1917.1,151.0 1918.6,151.0 1920.1,151.0 1921.6,151.0 1923.1,151.0 1924.6,151.0 1926.1,151.0 1927.6,151.0 1929.1,151.1 1930.6,151.1 1932.1,151.1 1933.6,151.2 1935.1,151.1 1936.6,151.1 1938.1,151.1 1939.6,151.1 1941.1,151.0 1942.6,151.0 1944.1,151.0 1945.6,151.0 1947.1,151.0 1948.6,151.0 1950.1,151.1 1951.6,151.1 1953.1,151.1 1954.6,151.1 1956.1,151.1 1957.6,151.1 1959.1,151.1 1960.6,151.1 1962.1,151.0 1963.6,151.0 1965.1,151.1 1966.6,151.1 1968.1,151.0 1969.6,151.0 1971.1,150.9 1972.6,150.9 1974.1,151.0 1975.6,151.1 1977.1,151.1 1978.6,151.1 1980.1,151.1 1981.6,151.1 1983.1,151.0 1984.6,151.0 1986.1,150.9 1987.6,150.9 1989.1,151.0 1990.6,151.0 1992.1,151.1 1993.6,151.1 1995.1,151.1 1996.6,151.1 1998.1,151.1 1999.6,151.1 2001.1,151.1 2002.6,151.0 2004.1,151.0 2005.6,151.0 2007.1,151.0 2008.6,151.1 2010.1,151.1 2011.6,151.1 2013.1,151.1 2014.6,151.0 2016.1,151.0 2017.6,151.0 2019.1,151.1 2020.6,151.1 2022.1,151.1 2023.6,151.1 2025.1,151.1 2026.6,151.1 2028.1,151.1 2029.6,151.1 2031.1,151.2 2032.6,151.2 2034.1,151.2 2035.6,151.2 2037.1,151.1 2038.6,151.0 2040.1,150.9 2041.6,150.9 2043.1,151.0 2044.6,151.0 2046.1,151.1 2047.6,151.0 2049.1,150.9 2050.6,150.4 2052.1,149.7 2053.6,148.6 2055.1,147.5 2056.6,146.8 2058.1,147.0 2059.6,148.2 2061.1,149.5 2062.6,150.4" fill="none" stroke="#5585d0" stroke-width="2.2" stroke-linejoin="round"/>
<polyline points="1804.6,120.2 1806.1,99.0 1807.6,92.9 1809.1,100.3 1810.6,107.5 1812.1,109.5 1813.6,110.2 1815.1,114.2 1816.6,122.0 1818.1,130.9 1819.6,137.8 1821.1,142.4 1822.6,145.6 1824.1,147.9 1825.6,149.2 1827.1,149.8 1828.6,150.1 1830.1,150.4 1831.6,150.6 1833.1,150.8 1834.6,150.9 1836.1,150.9 1837.6,151.0 1839.1,151.0 1840.6,151.0 1842.1,151.0 1843.6,151.0 1845.1,151.0 1846.6,151.1 1848.1,151.1 1849.6,151.1 1851.1,151.1 1852.6,151.1 1854.1,151.0 1855.6,151.0 1857.1,151.0 1858.6,151.0 1860.1,151.0 1861.6,151.0 1863.1,151.0 1864.6,151.0 1866.1,151.1 1867.6,151.1 1869.1,151.1 1870.6,151.0 1872.1,150.9 1873.6,150.9 1875.1,150.9 1876.6,151.0 1878.1,151.0 1879.6,151.0 1881.1,151.0 1882.6,150.9 1884.1,150.9 1885.6,150.9 1887.1,151.0 1888.6,151.0 1890.1,151.0 1891.6,150.9 1893.1,150.8 1894.6,150.6 1896.1,150.3 1897.6,149.9 1899.1,149.4 1900.6,149.0 1902.1,149.1 1903.6,149.5 1905.1,150.0 1906.6,150.3 1908.1,150.6 1909.6,150.8 1911.1,150.9 1912.6,151.0 1914.1,151.0 1915.6,151.1 1917.1,151.0 1918.6,151.0 1920.1,151.0 1921.6,150.9 1923.1,150.9 1924.6,150.9 1926.1,150.9 1927.6,150.8 1929.1,150.8 1930.6,150.8 1932.1,150.8 1933.6,150.8 1935.1,150.9 1936.6,150.9 1938.1,151.0 1939.6,151.0 1941.1,151.0 1942.6,151.0 1944.1,151.0 1945.6,151.0 1947.1,151.0 1948.6,150.9 1950.1,151.0 1951.6,151.0 1953.1,151.0 1954.6,151.0 1956.1,151.0 1957.6,150.9 1959.1,150.9 1960.6,150.8 1962.1,150.9 1963.6,150.9 1965.1,150.9 1966.6,150.9 1968.1,151.0 1969.6,151.0 1971.1,151.1 1972.6,151.1 1974.1,151.1 1975.6,151.1 1977.1,151.0 1978.6,151.0 1980.1,150.9 1981.6,150.9 1983.1,150.9 1984.6,151.0 1986.1,151.0 1987.6,151.0 1989.1,151.1 1990.6,151.1 1992.1,151.1 1993.6,151.1 1995.1,151.1 1996.6,151.1 1998.1,151.1 1999.6,151.1 2001.1,151.0 2002.6,151.0 2004.1,151.0 2005.6,151.0 2007.1,151.0 2008.6,151.0 2010.1,151.0 2011.6,151.0 2013.1,151.0 2014.6,151.0 2016.1,151.0 2017.6,151.0 2019.1,151.0 2020.6,151.1 2022.1,151.1 2023.6,151.1 2025.1,151.0 2026.6,150.9 2028.1,150.9 2029.6,151.0 2031.1,151.0 2032.6,151.0 2034.1,151.0 2035.6,151.0 2037.1,150.9 2038.6,150.9 2040.1,150.9 2041.6,150.9 2043.1,150.9 2044.6,150.9 2046.1,150.9 2047.6,150.8 2049.1,150.6 2050.6,150.2 2052.1,149.4 2053.6,147.9 2055.1,146.3 2056.6,145.8 2058.1,146.6 2059.6,148.2 2061.1,149.6 2062.6,150.5" fill="none" stroke="#3f73c6" stroke-width="2.2" stroke-linejoin="round"/>
<path d="M1803.6,53.2 L1815.9,53.2 L1818.9,151.7 L1831.2,151.7 L1834.2,53.2 L1846.5,53.2 L1849.5,151.7 L1861.8,151.7 L1864.8,53.2 L1877.1,53.2 L1880.1,151.7 L1892.3,151.7 L1895.3,53.2 L1907.6,53.2 L1910.6,151.7 L1922.9,151.7 L1925.9,53.2 L1938.2,53.2 L1941.2,151.7 L1953.5,151.7 L1956.5,53.2 L1968.8,53.2 L1971.8,151.7 L1984.1,151.7 L1987.1,53.2 L1999.4,53.2 L2002.4,151.7 L2014.7,151.7 L2017.7,53.2 L2030.0,53.2 L2033.0,151.7 L2045.2,151.7 L2048.2,53.2 L2060.5,53.2 L2063.5,151.7 L2064.1,151.7" fill="none" stroke="#000" stroke-width="2.4" stroke-linejoin="miter"/>
</g>
<rect x="1803.6" y="48.3" width="260.5" height="108.3" fill="none" stroke="#222" stroke-width="1.8"/>
<line x1="1798.1" y1="62.7" x2="1803.6" y2="62.7" stroke="#222" stroke-width="1.6"/>
<line x1="1798.1" y1="151.7" x2="1803.6" y2="151.7" stroke="#222" stroke-width="1.6"/>
<text x="1790.1" y="70.2" text-anchor="end">10</text>
<text x="1790.1" y="159.2" text-anchor="end">0</text>
<text x="1762.6" y="102.4" text-anchor="middle" transform="rotate(-90 1762.6 102.4)">Prediction</text>
<clipPath id="cd11"><rect x="1803.6" y="170.4" width="260.5" height="108.29999999999998"/></clipPath>
<g clip-path="url(#cd11)">
<polyline points="1804.6,203.5 1806.1,196.9 1807.6,199.5 1809.1,207.5 1810.6,218.2 1812.1,230.1 1813.6,242.2 1815.1,253.7 1816.6,263.8 1818.1,272.1 1819.6,272.1 1821.1,272.1 1822.6,272.1 1824.1,272.1 1825.6,272.1 1827.1,272.1 1828.6,272.0 1830.1,271.7 1831.6,271.0 1833.1,269.3 1834.6,266.2 1836.1,261.3 1837.6,254.9 1839.1,248.1 1840.6,242.7 1842.1,240.2 1843.6,241.9 1845.1,247.4 1846.6,254.8 1848.1,261.7 1849.6,266.7 1851.1,269.6 1852.6,271.1 1854.1,271.7 1855.6,271.9 1857.1,271.8 1858.6,271.4 1860.1,270.7 1861.6,269.4 1863.1,267.2 1864.6,264.0 1866.1,260.1 1867.6,255.8 1869.1,251.6 1870.6,248.4 1872.1,246.9 1873.6,247.8 1875.1,250.8 1876.6,255.3 1878.1,260.1 1879.6,264.4 1881.1,267.5 1882.6,269.6 1884.1,270.8 1885.6,271.5 1887.1,271.9 1888.6,272.0 1890.1,272.0 1891.6,271.7 1893.1,271.1 1894.6,269.9 1896.1,267.7 1897.6,264.5 1899.1,260.6 1900.6,256.7 1902.1,253.8 1903.6,252.9 1905.1,254.3 1906.6,257.4 1908.1,261.4 1909.6,265.2 1911.1,268.2 1912.6,270.1 1914.1,271.2 1915.6,271.8 1917.1,271.9 1918.6,271.9 1920.1,271.6 1921.6,270.8 1923.1,269.4 1924.6,266.7 1926.1,262.5 1927.6,256.4 1929.1,248.5 1930.6,239.5 1932.1,231.2 1933.6,225.7 1935.1,224.9 1936.6,229.0 1938.1,236.0 1939.6,243.9 1941.1,251.4 1942.6,258.0 1944.1,263.3 1945.6,267.1 1947.1,269.5 1948.6,270.9 1950.1,271.4 1951.6,271.5 1953.1,271.0 1954.6,270.1 1956.1,268.5 1957.6,266.3 1959.1,263.5 1960.6,260.4 1962.1,257.8 1963.6,256.0 1965.1,255.5 1966.6,256.4 1968.1,258.5 1969.6,261.3 1971.1,264.3 1972.6,266.8 1974.1,268.8 1975.6,270.2 1977.1,271.1 1978.6,271.5 1980.1,271.6 1981.6,271.2 1983.1,270.4 1984.6,268.7 1986.1,266.2 1987.6,262.4 1989.1,257.7 1990.6,252.5 1992.1,247.8 1993.6,244.4 1995.1,243.2 1996.6,244.3 1998.1,247.6 1999.6,252.5 2001.1,258.1 2002.6,263.1 2004.1,266.9 2005.6,269.3 2007.1,270.7 2008.6,271.4 2010.1,271.6 2011.6,271.3 2013.1,270.6 2014.6,269.3 2016.1,267.1 2017.6,263.9 2019.1,259.9 2020.6,255.5 2022.1,251.5 2023.6,248.7 2025.1,247.8 2026.6,249.2 2028.1,252.4 2029.6,256.7 2031.1,261.0 2032.6,264.8 2034.1,267.7 2035.6,269.6 2037.1,270.8 2038.6,271.4 2040.1,271.6 2041.6,271.4 2043.1,270.8 2044.6,269.6 2046.1,267.9 2047.6,265.4 2049.1,262.3 2050.6,258.6 2052.1,255.0 2053.6,251.9 2055.1,250.0 2056.6,249.9 2058.1,251.6 2059.6,255.0 2061.1,259.2 2062.6,263.2" fill="none" stroke="#5b7367" stroke-width="2.2" stroke-linejoin="round"/>
<polyline points="1804.6,210.0 1806.1,212.6 1807.6,219.0 1809.1,219.8 1810.6,218.6 1812.1,220.2 1813.6,223.6 1815.1,227.8 1816.6,235.0 1818.1,245.2 1819.6,255.7 1821.1,263.2 1822.6,267.2 1824.1,269.0 1825.6,270.1 1827.1,271.0 1828.6,271.5 1830.1,271.6 1831.6,271.4 1833.1,270.9 1834.6,269.9 1836.1,268.4 1837.6,266.0 1839.1,263.4 1840.6,261.2 1842.1,260.2 1843.6,260.9 1845.1,263.0 1846.6,265.6 1848.1,267.9 1849.6,269.7 1851.1,270.8 1852.6,271.3 1854.1,271.4 1855.6,271.4 1857.1,271.4 1858.6,271.3 1860.1,271.0 1861.6,269.9 1863.1,267.5 1864.6,263.4 1866.1,258.8 1867.6,255.6 1869.1,254.8 1870.6,255.7 1872.1,258.3 1873.6,262.3 1875.1,266.2 1876.6,268.6 1878.1,269.8 1879.6,270.5 1881.1,270.8 1882.6,271.0 1884.1,271.2 1885.6,271.3 1887.1,271.3 1888.6,271.3 1890.1,271.1 1891.6,270.9 1893.1,270.7 1894.6,270.3 1896.1,269.5 1897.6,268.2 1899.1,266.0 1900.6,263.5 1902.1,262.1 1903.6,262.9 1905.1,265.0 1906.6,267.2 1908.1,269.0 1909.6,270.2 1911.1,270.9 1912.6,271.3 1914.1,271.4 1915.6,271.5 1917.1,271.5 1918.6,271.6 1920.1,271.7 1921.6,271.6 1923.1,271.2 1924.6,270.2 1926.1,268.3 1927.6,265.2 1929.1,260.7 1930.6,255.1 1932.1,250.4 1933.6,247.1 1935.1,244.2 1936.6,243.6 1938.1,248.0 1939.6,255.3 1941.1,262.3 1942.6,267.3 1944.1,270.0 1945.6,271.2 1947.1,271.6 1948.6,271.6 1950.1,271.5 1951.6,271.5 1953.1,271.4 1954.6,271.3 1956.1,271.1 1957.6,270.7 1959.1,270.3 1960.6,269.4 1962.1,267.8 1963.6,265.9 1965.1,265.3 1966.6,266.0 1968.1,267.5 1969.6,269.1 1971.1,270.3 1972.6,271.0 1974.1,271.4 1975.6,271.6 1977.1,271.8 1978.6,271.8 1980.1,271.8 1981.6,271.7 1983.1,271.4 1984.6,270.8 1986.1,269.6 1987.6,267.3 1989.1,263.5 1990.6,258.4 1992.1,253.0 1993.6,248.9 1995.1,247.5 1996.6,249.2 1998.1,254.0 1999.6,260.5 2001.1,266.1 2002.6,269.3 2004.1,270.8 2005.6,271.4 2007.1,271.5 2008.6,271.6 2010.1,271.5 2011.6,271.3 2013.1,271.1 2014.6,270.7 2016.1,269.8 2017.6,268.0 2019.1,265.1 2020.6,261.4 2022.1,258.6 2023.6,257.5 2025.1,257.8 2026.6,259.5 2028.1,262.5 2029.6,265.5 2031.1,267.9 2032.6,269.7 2034.1,270.7 2035.6,271.2 2037.1,271.3 2038.6,271.3 2040.1,271.2 2041.6,271.2 2043.1,271.1 2044.6,270.8 2046.1,270.2 2047.6,269.2 2049.1,267.8 2050.6,266.0 2052.1,263.6 2053.6,260.8 2055.1,258.9 2056.6,258.3 2058.1,259.6 2059.6,262.4 2061.1,265.6 2062.6,268.1" fill="none" stroke="#a9c2ea" stroke-width="2.2" stroke-linejoin="round"/>
<polyline points="1804.6,222.2 1806.1,220.2 1807.6,220.4 1809.1,219.3 1810.6,217.3 1812.1,215.8 1813.6,216.8 1815.1,222.8 1816.6,233.4 1818.1,244.3 1819.6,253.2 1821.1,260.1 1822.6,264.8 1824.1,267.5 1825.6,269.1 1827.1,270.2 1828.6,270.9 1830.1,271.3 1831.6,271.3 1833.1,270.9 1834.6,270.1 1836.1,268.8 1837.6,267.2 1839.1,265.2 1840.6,263.1 1842.1,261.5 1843.6,261.6 1845.1,263.7 1846.6,266.4 1848.1,268.5 1849.6,269.9 1851.1,270.7 1852.6,271.1 1854.1,271.2 1855.6,271.2 1857.1,271.2 1858.6,271.2 1860.1,271.0 1861.6,270.3 1863.1,269.1 1864.6,266.4 1866.1,261.6 1867.6,255.8 1869.1,252.7 1870.6,253.7 1872.1,256.4 1873.6,259.6 1875.1,263.3 1876.6,267.2 1878.1,269.9 1879.6,271.3 1881.1,271.8 1882.6,271.8 1884.1,271.7 1885.6,271.7 1887.1,271.7 1888.6,271.7 1890.1,271.6 1891.6,271.5 1893.1,271.2 1894.6,270.5 1896.1,269.2 1897.6,267.1 1899.1,264.9 1900.6,263.5 1902.1,263.4 1903.6,264.3 1905.1,265.7 1906.6,267.4 1908.1,269.1 1909.6,270.4 1911.1,271.2 1912.6,271.6 1914.1,271.7 1915.6,271.8 1917.1,271.9 1918.6,271.9 1920.1,271.9 1921.6,271.7 1923.1,271.3 1924.6,270.5 1926.1,268.7 1927.6,265.0 1929.1,258.3 1930.6,249.4 1932.1,241.1 1933.6,235.0 1935.1,233.1 1936.6,237.9 1938.1,247.5 1939.6,256.7 1941.1,263.0 1942.6,266.9 1944.1,269.3 1945.6,270.5 1947.1,271.2 1948.6,271.4 1950.1,271.5 1951.6,271.5 1953.1,271.3 1954.6,271.1 1956.1,270.6 1957.6,269.6 1959.1,268.3 1960.6,266.8 1962.1,265.8 1963.6,264.8 1965.1,264.0 1966.6,264.1 1968.1,265.8 1969.6,268.1 1971.1,270.0 1972.6,271.1 1974.1,271.6 1975.6,271.8 1977.1,271.8 1978.6,271.6 1980.1,271.5 1981.6,271.5 1983.1,271.4 1984.6,271.2 1986.1,270.2 1987.6,267.8 1989.1,263.2 1990.6,256.3 1992.1,248.8 1993.6,243.7 1995.1,243.3 1996.6,247.6 1998.1,254.4 1999.6,261.0 2001.1,265.9 2002.6,268.9 2004.1,270.4 2005.6,271.1 2007.1,271.3 2008.6,271.4 2010.1,271.3 2011.6,271.2 2013.1,271.0 2014.6,270.7 2016.1,269.9 2017.6,268.7 2019.1,267.0 2020.6,264.6 2022.1,261.9 2023.6,260.0 2025.1,258.9 2026.6,259.4 2028.1,262.1 2029.6,265.7 2031.1,268.5 2032.6,270.1 2034.1,271.0 2035.6,271.3 2037.1,271.3 2038.6,271.4 2040.1,271.5 2041.6,271.6 2043.1,271.6 2044.6,271.6 2046.1,271.2 2047.6,270.4 2049.1,269.1 2050.6,267.2 2052.1,264.7 2053.6,261.8 2055.1,259.3 2056.6,258.6 2058.1,260.0 2059.6,262.4 2061.1,265.1 2062.6,267.7" fill="none" stroke="#8eb0e4" stroke-width="2.2" stroke-linejoin="round"/>
<polyline points="1804.6,212.1 1806.1,208.5 1807.6,213.5 1809.1,218.4 1810.6,221.1 1812.1,221.6 1813.6,220.0 1815.1,219.4 1816.6,225.2 1818.1,237.4 1819.6,250.6 1821.1,260.1 1822.6,265.5 1824.1,268.3 1825.6,269.9 1827.1,270.9 1828.6,271.6 1830.1,271.9 1831.6,271.9 1833.1,271.5 1834.6,270.8 1836.1,269.3 1837.6,267.5 1839.1,265.4 1840.6,262.8 1842.1,260.5 1843.6,260.7 1845.1,263.7 1846.6,267.3 1848.1,269.8 1849.6,271.0 1851.1,271.5 1852.6,271.7 1854.1,271.8 1855.6,271.9 1857.1,271.8 1858.6,271.5 1860.1,270.7 1861.6,269.3 1863.1,266.8 1864.6,263.4 1866.1,259.7 1867.6,257.0 1869.1,255.4 1870.6,254.4 1872.1,254.8 1873.6,257.4 1875.1,261.8 1876.6,266.1 1878.1,269.2 1879.6,270.8 1881.1,271.5 1882.6,271.7 1884.1,271.8 1885.6,271.9 1887.1,271.9 1888.6,271.8 1890.1,271.6 1891.6,271.3 1893.1,271.1 1894.6,270.5 1896.1,269.4 1897.6,267.6 1899.1,265.2 1900.6,262.6 1902.1,260.8 1903.6,260.8 1905.1,262.9 1906.6,266.0 1908.1,268.8 1909.6,270.5 1911.1,271.2 1912.6,271.5 1914.1,271.7 1915.6,271.9 1917.1,272.0 1918.6,272.0 1920.1,271.9 1921.6,271.7 1923.1,271.4 1924.6,270.6 1926.1,268.5 1927.6,264.0 1929.1,256.2 1930.6,244.9 1932.1,232.3 1933.6,223.8 1935.1,225.0 1936.6,234.5 1938.1,245.3 1939.6,253.8 1941.1,260.6 1942.6,265.6 1944.1,268.6 1945.6,270.1 1947.1,270.9 1948.6,271.4 1950.1,271.7 1951.6,272.0 1953.1,272.0 1954.6,271.9 1956.1,271.4 1957.6,270.5 1959.1,269.1 1960.6,267.5 1962.1,265.9 1963.6,264.8 1965.1,264.9 1966.6,266.4 1968.1,268.5 1969.6,270.1 1971.1,270.9 1972.6,271.4 1974.1,271.5 1975.6,271.5 1977.1,271.5 1978.6,271.6 1980.1,271.7 1981.6,271.7 1983.1,271.6 1984.6,271.1 1986.1,269.8 1987.6,267.1 1989.1,262.4 1990.6,256.0 1992.1,249.3 1993.6,244.7 1995.1,244.7 1996.6,249.4 1998.1,255.9 1999.6,262.0 2001.1,266.6 2002.6,269.3 2004.1,270.7 2005.6,271.2 2007.1,271.3 2008.6,271.4 2010.1,271.5 2011.6,271.6 2013.1,271.5 2014.6,271.1 2016.1,270.0 2017.6,267.9 2019.1,264.5 2020.6,260.5 2022.1,256.3 2023.6,253.1 2025.1,252.6 2026.6,256.1 2028.1,261.2 2029.6,265.4 2031.1,268.1 2032.6,270.1 2034.1,271.2 2035.6,271.7 2037.1,271.8 2038.6,271.9 2040.1,272.0 2041.6,272.1 2043.1,271.9 2044.6,271.5 2046.1,270.8 2047.6,269.7 2049.1,268.1 2050.6,265.8 2052.1,262.5 2053.6,259.5 2055.1,258.4 2056.6,259.2 2058.1,261.3 2059.6,263.8 2061.1,266.4 2062.6,268.8" fill="none" stroke="#6f9ad9" stroke-width="2.2" stroke-linejoin="round"/>
<polyline points="1804.6,214.4 1806.1,209.7 1807.6,210.0 1809.1,210.3 1810.6,211.3 1812.1,214.2 1813.6,217.9 1815.1,222.1 1816.6,228.0 1818.1,236.6 1819.6,247.4 1821.1,257.9 1822.6,265.0 1824.1,268.4 1825.6,269.9 1827.1,270.4 1828.6,270.5 1830.1,270.5 1831.6,270.5 1833.1,270.4 1834.6,270.3 1836.1,270.0 1837.6,268.9 1839.1,266.5 1840.6,263.5 1842.1,261.4 1843.6,261.4 1845.1,263.4 1846.6,265.9 1848.1,268.2 1849.6,269.9 1851.1,271.0 1852.6,271.5 1854.1,271.7 1855.6,271.8 1857.1,271.8 1858.6,271.7 1860.1,271.1 1861.6,269.6 1863.1,266.7 1864.6,262.2 1866.1,256.5 1867.6,251.1 1869.1,248.2 1870.6,248.9 1872.1,252.6 1873.6,258.0 1875.1,263.2 1876.6,266.9 1878.1,269.1 1879.6,270.5 1881.1,271.2 1882.6,271.5 1884.1,271.7 1885.6,271.7 1887.1,271.7 1888.6,271.5 1890.1,271.3 1891.6,271.1 1893.1,270.9 1894.6,270.4 1896.1,269.4 1897.6,267.7 1899.1,265.5 1900.6,263.7 1902.1,262.6 1903.6,262.4 1905.1,263.3 1906.6,265.1 1908.1,267.6 1909.6,269.7 1911.1,270.9 1912.6,271.4 1914.1,271.6 1915.6,271.7 1917.1,271.9 1918.6,272.1 1920.1,272.1 1921.6,271.9 1923.1,271.5 1924.6,270.6 1926.1,268.9 1927.6,266.0 1929.1,260.9 1930.6,253.1 1932.1,244.0 1933.6,237.4 1935.1,235.9 1936.6,239.3 1938.1,245.7 1939.6,253.7 1941.1,261.1 1942.6,266.2 1944.1,269.2 1945.6,270.7 1947.1,271.3 1948.6,271.6 1950.1,271.7 1951.6,271.9 1953.1,271.9 1954.6,271.7 1956.1,271.2 1957.6,270.4 1959.1,269.1 1960.6,267.5 1962.1,265.7 1963.6,264.7 1965.1,265.1 1966.6,266.3 1968.1,267.8 1969.6,269.2 1971.1,270.5 1972.6,271.3 1974.1,271.7 1975.6,271.8 1977.1,271.8 1978.6,271.8 1980.1,271.7 1981.6,271.6 1983.1,271.3 1984.6,270.9 1986.1,270.1 1987.6,268.4 1989.1,265.3 1990.6,260.4 1992.1,255.1 1993.6,251.8 1995.1,251.0 1996.6,252.4 1998.1,256.0 1999.6,260.8 2001.1,265.1 2002.6,268.1 2004.1,269.8 2005.6,270.8 2007.1,271.3 2008.6,271.6 2010.1,271.7 2011.6,271.5 2013.1,271.3 2014.6,270.8 2016.1,269.7 2017.6,267.5 2019.1,264.1 2020.6,259.9 2022.1,255.9 2023.6,252.9 2025.1,251.6 2026.6,253.4 2028.1,258.2 2029.6,263.3 2031.1,267.2 2032.6,269.7 2034.1,271.1 2035.6,271.7 2037.1,271.8 2038.6,271.7 2040.1,271.5 2041.6,271.4 2043.1,271.5 2044.6,271.4 2046.1,270.9 2047.6,269.7 2049.1,267.8 2050.6,265.5 2052.1,263.2 2053.6,260.9 2055.1,259.2 2056.6,258.8 2058.1,260.3 2059.6,263.0 2061.1,265.8 2062.6,268.0" fill="none" stroke="#5585d0" stroke-width="2.2" stroke-linejoin="round"/>
<polyline points="1804.6,232.6 1806.1,231.7 1807.6,233.1 1809.1,232.8 1810.6,233.2 1812.1,235.3 1813.6,236.1 1815.1,235.8 1816.6,238.5 1818.1,246.2 1819.6,255.9 1821.1,263.4 1822.6,267.5 1824.1,269.5 1825.6,270.6 1827.1,271.3 1828.6,271.9 1830.1,272.1 1831.6,272.0 1833.1,271.4 1834.6,270.4 1836.1,268.9 1837.6,267.3 1839.1,265.7 1840.6,264.2 1842.1,263.3 1843.6,264.0 1845.1,265.9 1846.6,268.1 1848.1,270.0 1849.6,271.3 1851.1,272.0 1852.6,272.3 1854.1,272.3 1855.6,272.1 1857.1,272.1 1858.6,272.0 1860.1,271.8 1861.6,271.0 1863.1,269.3 1864.6,266.6 1866.1,263.3 1867.6,260.5 1869.1,259.7 1870.6,261.0 1872.1,263.2 1873.6,265.1 1875.1,267.1 1876.6,269.1 1878.1,270.7 1879.6,271.6 1881.1,272.0 1882.6,272.2 1884.1,272.2 1885.6,272.3 1887.1,272.3 1888.6,272.2 1890.1,272.1 1891.6,272.0 1893.1,271.9 1894.6,271.5 1896.1,270.6 1897.6,269.2 1899.1,267.3 1900.6,265.5 1902.1,264.6 1903.6,265.2 1905.1,266.8 1906.6,268.5 1908.1,270.1 1909.6,271.2 1911.1,271.8 1912.6,272.1 1914.1,272.2 1915.6,272.3 1917.1,272.4 1918.6,272.5 1920.1,272.4 1921.6,272.2 1923.1,271.8 1924.6,270.9 1926.1,268.9 1927.6,265.7 1929.1,261.6 1930.6,257.1 1932.1,251.6 1933.6,244.7 1935.1,239.6 1936.6,241.0 1938.1,248.8 1939.6,258.1 1941.1,264.8 1942.6,268.5 1944.1,270.5 1945.6,271.6 1947.1,272.2 1948.6,272.4 1950.1,272.4 1951.6,272.4 1953.1,272.3 1954.6,272.2 1956.1,271.9 1957.6,271.4 1959.1,270.5 1960.6,269.3 1962.1,267.8 1963.6,266.5 1965.1,265.8 1966.6,266.4 1968.1,268.0 1969.6,269.7 1971.1,270.9 1972.6,271.6 1974.1,272.0 1975.6,272.1 1977.1,272.2 1978.6,272.2 1980.1,272.3 1981.6,272.4 1983.1,272.4 1984.6,272.2 1986.1,271.4 1987.6,269.6 1989.1,266.3 1990.6,261.8 1992.1,258.0 1993.6,255.6 1995.1,254.4 1996.6,255.3 1998.1,259.3 1999.6,264.4 2001.1,268.2 2002.6,270.3 2004.1,271.3 2005.6,271.8 2007.1,272.0 2008.6,272.1 2010.1,272.1 2011.6,272.1 2013.1,272.0 2014.6,271.7 2016.1,271.1 2017.6,270.0 2019.1,268.2 2020.6,265.2 2022.1,261.0 2023.6,256.7 2025.1,255.3 2026.6,258.9 2028.1,264.5 2029.6,268.4 2031.1,270.5 2032.6,271.6 2034.1,272.1 2035.6,272.3 2037.1,272.2 2038.6,272.2 2040.1,272.1 2041.6,272.1 2043.1,272.1 2044.6,271.9 2046.1,271.5 2047.6,270.7 2049.1,269.5 2050.6,267.8 2052.1,265.5 2053.6,262.8 2055.1,260.8 2056.6,260.6 2058.1,262.1 2059.6,264.5 2061.1,266.9 2062.6,269.0" fill="none" stroke="#3f73c6" stroke-width="2.2" stroke-linejoin="round"/>
<path d="M1803.6,176.4 L1815.9,176.4 L1818.9,273.9 L1831.2,273.9 L1834.2,176.4 L1846.5,176.4 L1849.5,273.9 L1861.8,273.9 L1864.8,176.4 L1877.1,176.4 L1880.1,273.9 L1892.3,273.9 L1895.3,176.4 L1907.6,176.4 L1910.6,273.9 L1922.9,273.9 L1925.9,176.4 L1938.2,176.4 L1941.2,273.9 L1953.5,273.9 L1956.5,176.4 L1968.8,176.4 L1971.8,273.9 L1984.1,273.9 L1987.1,176.4 L1999.4,176.4 L2002.4,273.9 L2014.7,273.9 L2017.7,176.4 L2030.0,176.4 L2033.0,273.9 L2045.2,273.9 L2048.2,176.4 L2060.5,176.4 L2063.5,273.9 L2064.1,273.9" fill="none" stroke="#000" stroke-width="2.4" stroke-linejoin="miter"/>
</g>
<rect x="1803.6" y="170.4" width="260.5" height="108.3" fill="none" stroke="#222" stroke-width="1.8"/>
<line x1="1798.1" y1="185.2" x2="1803.6" y2="185.2" stroke="#222" stroke-width="1.6"/>
<line x1="1798.1" y1="273.9" x2="1803.6" y2="273.9" stroke="#222" stroke-width="1.6"/>
<text x="1790.1" y="192.7" text-anchor="end">10</text>
<text x="1790.1" y="281.4" text-anchor="end">0</text>
<text x="1762.6" y="224.6" text-anchor="middle" transform="rotate(-90 1762.6 224.6)">Prediction</text>
<clipPath id="cd12"><rect x="1803.6" y="293.5" width="260.5" height="106.80000000000001"/></clipPath>
<g clip-path="url(#cd12)">
<polyline points="1804.6,371.8 1806.1,357.5 1807.6,341.9 1809.1,330.2 1810.6,326.5 1812.1,331.4 1813.6,342.9 1815.1,357.6 1816.6,371.7 1818.1,381.8 1819.6,387.6 1821.1,390.1 1822.6,390.9 1824.1,390.9 1825.6,390.5 1827.1,389.7 1828.6,388.1 1830.1,385.7 1831.6,381.9 1833.1,376.5 1834.6,369.7 1836.1,362.2 1837.6,355.2 1839.1,349.6 1840.6,346.4 1842.1,346.2 1843.6,349.7 1845.1,356.4 1846.6,364.5 1848.1,372.2 1849.6,378.5 1851.1,383.3 1852.6,386.6 1854.1,388.8 1855.6,389.9 1857.1,390.3 1858.6,389.9 1860.1,388.6 1861.6,386.1 1863.1,382.0 1864.6,376.1 1866.1,368.3 1867.6,359.3 1869.1,350.8 1870.6,345.2 1872.1,344.1 1873.6,347.4 1875.1,353.8 1876.6,361.4 1878.1,369.3 1879.6,376.4 1881.1,382.2 1882.6,386.3 1884.1,388.9 1885.6,390.3 1887.1,391.0 1888.6,391.3 1890.1,391.4 1891.6,391.5 1893.1,387.4 1894.6,381.6 1896.1,376.1 1897.6,370.6 1899.1,364.6 1900.6,358.6 1902.1,353.9 1903.6,351.3 1905.1,350.6 1906.6,350.8 1908.1,351.2 1909.6,352.3 1911.1,355.9 1912.6,363.4 1914.1,372.8 1915.6,380.3 1917.1,385.0 1918.6,387.0 1920.1,387.2 1921.6,385.6 1923.1,382.0 1924.6,375.9 1926.1,367.2 1927.6,356.2 1929.1,344.4 1930.6,333.8 1932.1,326.7 1933.6,325.1 1935.1,329.8 1936.6,339.6 1938.1,352.0 1939.6,364.1 1941.1,374.0 1942.6,381.1 1944.1,385.8 1945.6,388.6 1947.1,390.0 1948.6,390.5 1950.1,390.1 1951.6,388.8 1953.1,386.1 1954.6,381.0 1956.1,372.6 1957.6,360.2 1959.1,344.6 1960.6,328.0 1962.1,312.9 1963.6,302.0 1965.1,297.7 1966.6,301.4 1968.1,312.2 1969.6,327.6 1971.1,344.5 1972.6,359.8 1974.1,372.0 1975.6,380.6 1977.1,385.9 1978.6,388.8 1980.1,389.8 1981.6,389.6 1983.1,388.1 1984.6,385.2 1986.1,380.2 1987.6,373.0 1989.1,363.5 1990.6,352.6 1992.1,342.2 1993.6,334.8 1995.1,332.2 1996.6,335.0 1998.1,342.2 1999.6,352.3 2001.1,363.0 2002.6,372.6 2004.1,380.1 2005.6,385.3 2007.1,388.4 2008.6,389.9 2010.1,390.4 2011.6,390.1 2013.1,388.8 2014.6,386.5 2016.1,382.7 2017.6,377.3 2019.1,370.7 2020.6,363.6 2022.1,357.2 2023.6,352.5 2025.1,350.5 2026.6,352.2 2028.1,357.5 2029.6,364.8 2031.1,372.1 2032.6,378.4 2034.1,383.5 2035.6,387.1 2037.1,389.4 2038.6,390.5 2040.1,391.1 2041.6,391.3 2043.1,391.4 2044.6,391.5 2046.1,386.9 2047.6,380.0 2049.1,373.1 2050.6,366.7 2052.1,361.4 2053.6,357.4 2055.1,354.6 2056.6,352.4 2058.1,350.7 2059.6,349.9 2061.1,351.6 2062.6,356.6" fill="none" stroke="#5b7367" stroke-width="2.2" stroke-linejoin="round"/>
<polyline points="1804.6,371.6 1806.1,361.1 1807.6,350.2 1809.1,342.5 1810.6,341.2 1812.1,345.4 1813.6,352.4 1815.1,360.7 1816.6,369.5 1818.1,377.6 1819.6,383.6 1821.1,387.3 1822.6,389.3 1824.1,390.2 1825.6,390.5 1827.1,390.1 1828.6,388.7 1830.1,386.2 1831.6,382.3 1833.1,375.7 1834.6,365.3 1836.1,353.4 1837.6,344.3 1839.1,339.3 1840.6,335.8 1842.1,333.0 1843.6,332.1 1845.1,335.8 1846.6,346.2 1848.1,360.6 1849.6,373.4 1851.1,381.6 1852.6,386.0 1854.1,388.3 1855.6,389.4 1857.1,389.4 1858.6,388.0 1860.1,385.3 1861.6,381.4 1863.1,376.0 1864.6,369.6 1866.1,362.9 1867.6,356.3 1869.1,350.1 1870.6,345.3 1872.1,344.1 1873.6,347.4 1875.1,354.2 1876.6,362.8 1878.1,370.9 1879.6,377.2 1881.1,381.8 1882.6,385.3 1884.1,388.0 1885.6,389.8 1887.1,390.6 1888.6,390.4 1890.1,389.3 1891.6,387.4 1893.1,384.4 1894.6,380.4 1896.1,376.1 1897.6,372.3 1899.1,369.3 1900.6,366.7 1902.1,363.6 1903.6,362.3 1905.1,365.7 1906.6,372.4 1908.1,379.0 1909.6,383.8 1911.1,387.1 1912.6,389.2 1914.1,390.2 1915.6,390.7 1917.1,390.9 1918.6,390.7 1920.1,389.7 1921.6,387.3 1923.1,383.6 1924.6,378.1 1926.1,370.4 1927.6,360.8 1929.1,352.2 1930.6,346.6 1932.1,344.5 1933.6,346.3 1935.1,351.6 1936.6,357.8 1938.1,363.4 1939.6,368.9 1941.1,375.0 1942.6,380.8 1944.1,385.1 1945.6,387.3 1947.1,387.9 1948.6,387.5 1950.1,386.4 1951.6,384.7 1953.1,382.7 1954.6,379.7 1956.1,375.0 1957.6,367.7 1959.1,358.7 1960.6,350.2 1962.1,345.0 1963.6,344.3 1965.1,348.0 1966.6,354.6 1968.1,362.1 1969.6,369.4 1971.1,375.5 1972.6,379.9 1974.1,383.3 1975.6,386.4 1977.1,388.7 1978.6,389.9 1980.1,390.4 1981.6,390.1 1983.1,389.1 1984.6,387.3 1986.1,384.5 1987.6,380.1 1989.1,373.5 1990.6,366.4 1992.1,360.9 1993.6,358.0 1995.1,358.0 1996.6,360.6 1998.1,364.8 1999.6,369.6 2001.1,374.6 2002.6,379.2 2004.1,383.0 2005.6,386.0 2007.1,388.3 2008.6,389.7 2010.1,390.1 2011.6,389.6 2013.1,388.3 2014.6,386.2 2016.1,382.8 2017.6,378.0 2019.1,373.5 2020.6,371.7 2022.1,371.2 2023.6,368.9 2025.1,365.3 2026.6,363.6 2028.1,365.2 2029.6,368.4 2031.1,372.7 2032.6,377.7 2034.1,382.6 2035.6,386.4 2037.1,388.8 2038.6,390.1 2040.1,390.5 2041.6,390.0 2043.1,388.8 2044.6,387.1 2046.1,384.8 2047.6,381.5 2049.1,375.9 2050.6,367.6 2052.1,358.5 2053.6,351.5 2055.1,349.5 2056.6,353.5 2058.1,361.9 2059.6,371.2 2061.1,378.2 2062.6,382.5" fill="none" stroke="#a9c2ea" stroke-width="2.2" stroke-linejoin="round"/>
<polyline points="1804.6,361.2 1806.1,355.8 1807.6,352.7 1809.1,349.7 1810.6,347.1 1812.1,348.8 1813.6,356.6 1815.1,366.2 1816.6,374.1 1818.1,380.3 1819.6,385.3 1821.1,388.5 1822.6,390.1 1824.1,390.7 1825.6,390.7 1827.1,390.3 1828.6,389.5 1830.1,387.6 1831.6,383.1 1833.1,375.0 1834.6,363.9 1836.1,354.1 1837.6,349.6 1839.1,349.1 1840.6,347.0 1842.1,340.6 1843.6,335.6 1845.1,340.7 1846.6,353.0 1848.1,365.2 1849.6,374.7 1851.1,381.1 1852.6,385.3 1854.1,387.9 1855.6,389.5 1857.1,389.7 1858.6,388.4 1860.1,385.8 1861.6,382.6 1863.1,378.3 1864.6,371.0 1866.1,359.4 1867.6,346.1 1869.1,336.9 1870.6,336.1 1872.1,342.2 1873.6,350.9 1875.1,359.2 1876.6,366.4 1878.1,373.0 1879.6,378.7 1881.1,383.3 1882.6,386.8 1884.1,389.1 1885.6,390.5 1887.1,391.1 1888.6,391.0 1890.1,390.1 1891.6,388.2 1893.1,385.2 1894.6,381.7 1896.1,378.3 1897.6,374.8 1899.1,370.1 1900.6,364.4 1902.1,358.9 1903.6,356.2 1905.1,359.6 1906.6,368.3 1908.1,377.6 1909.6,384.2 1911.1,387.8 1912.6,389.4 1914.1,390.1 1915.6,390.3 1917.1,390.2 1918.6,389.8 1920.1,389.1 1921.6,387.7 1923.1,384.8 1924.6,379.0 1926.1,369.6 1927.6,359.5 1929.1,352.7 1930.6,348.9 1932.1,347.0 1933.6,346.3 1935.1,347.9 1936.6,354.2 1938.1,363.4 1939.6,371.8 1941.1,378.3 1942.6,383.4 1944.1,386.7 1945.6,388.4 1947.1,388.9 1948.6,388.6 1950.1,387.7 1951.6,385.9 1953.1,382.3 1954.6,376.0 1956.1,367.2 1957.6,358.3 1959.1,351.1 1960.6,345.2 1962.1,341.5 1963.6,342.5 1965.1,347.3 1966.6,354.1 1968.1,361.9 1969.6,369.4 1971.1,375.3 1972.6,379.9 1974.1,383.8 1975.6,386.8 1977.1,388.5 1978.6,389.3 1980.1,389.6 1981.6,389.8 1983.1,389.4 1984.6,388.0 1986.1,385.1 1987.6,379.2 1989.1,369.7 1990.6,359.9 1992.1,353.4 1993.6,350.2 1995.1,349.7 1996.6,352.5 1998.1,357.1 1999.6,361.9 2001.1,367.7 2002.6,375.1 2004.1,382.2 2005.6,386.7 2007.1,389.0 2008.6,390.1 2010.1,390.4 2011.6,390.3 2013.1,389.9 2014.6,389.0 2016.1,386.7 2017.6,382.2 2019.1,376.0 2020.6,369.6 2022.1,364.1 2023.6,360.3 2025.1,360.1 2026.6,363.1 2028.1,367.3 2029.6,371.3 2031.1,375.2 2032.6,379.1 2034.1,383.1 2035.6,386.7 2037.1,389.0 2038.6,390.2 2040.1,390.3 2041.6,389.6 2043.1,388.3 2044.6,386.3 2046.1,383.3 2047.6,378.8 2049.1,372.3 2050.6,363.9 2052.1,355.0 2053.6,347.7 2055.1,345.1 2056.6,349.2 2058.1,357.8 2059.6,368.4 2061.1,378.1 2062.6,384.6" fill="none" stroke="#8eb0e4" stroke-width="2.2" stroke-linejoin="round"/>
<polyline points="1804.6,371.4 1806.1,361.7 1807.6,353.5 1809.1,351.0 1810.6,355.6 1812.1,363.2 1813.6,370.4 1815.1,376.8 1816.6,382.1 1818.1,385.5 1819.6,387.6 1821.1,389.2 1822.6,390.4 1824.1,391.0 1825.6,391.1 1827.1,390.5 1828.6,389.1 1830.1,386.6 1831.6,383.0 1833.1,378.4 1834.6,373.6 1836.1,369.1 1837.6,364.2 1839.1,359.2 1840.6,354.8 1842.1,351.6 1843.6,351.9 1845.1,357.9 1846.6,367.3 1848.1,375.7 1849.6,381.6 1851.1,385.4 1852.6,387.8 1854.1,389.3 1855.6,389.9 1857.1,389.8 1858.6,389.2 1860.1,388.1 1861.6,386.2 1863.1,383.1 1864.6,378.4 1866.1,372.1 1867.6,365.0 1869.1,359.3 1870.6,357.2 1872.1,359.0 1873.6,362.9 1875.1,367.5 1876.6,372.5 1878.1,377.2 1879.6,381.3 1881.1,384.8 1882.6,387.6 1884.1,389.5 1885.6,390.6 1887.1,391.1 1888.6,391.1 1890.1,390.7 1891.6,389.9 1893.1,388.3 1894.6,385.9 1896.1,382.5 1897.6,378.8 1899.1,376.4 1900.6,375.4 1902.1,374.0 1903.6,372.6 1905.1,373.8 1906.6,378.3 1908.1,383.5 1909.6,387.2 1911.1,389.4 1912.6,390.7 1914.1,391.4 1915.6,391.7 1917.1,391.6 1918.6,391.3 1920.1,390.6 1921.6,389.3 1923.1,386.8 1924.6,382.7 1926.1,377.1 1927.6,372.1 1929.1,368.1 1930.6,362.8 1932.1,356.2 1933.6,353.0 1935.1,356.6 1936.6,364.7 1938.1,373.2 1939.6,379.7 1941.1,384.0 1942.6,386.8 1944.1,388.6 1945.6,389.7 1947.1,390.3 1948.6,390.4 1950.1,389.9 1951.6,388.7 1953.1,386.5 1954.6,383.3 1956.1,379.8 1957.6,376.9 1959.1,373.9 1960.6,370.1 1962.1,366.9 1963.6,366.2 1965.1,367.8 1966.6,370.7 1968.1,374.0 1969.6,377.0 1971.1,379.4 1972.6,381.9 1974.1,384.7 1975.6,387.5 1977.1,389.5 1978.6,390.7 1980.1,391.0 1981.6,390.7 1983.1,389.6 1984.6,387.5 1986.1,384.1 1987.6,378.9 1989.1,373.0 1990.6,367.5 1992.1,363.3 1993.6,361.9 1995.1,363.4 1996.6,365.8 1998.1,368.2 1999.6,371.7 2001.1,376.9 2002.6,382.7 2004.1,387.3 2005.6,390.0 2007.1,391.3 2008.6,391.9 2010.1,392.1 2011.6,391.9 2013.1,391.1 2014.6,389.3 2016.1,386.5 2017.6,382.9 2019.1,379.4 2020.6,376.4 2022.1,373.8 2023.6,372.1 2025.1,372.4 2026.6,374.7 2028.1,377.7 2029.6,380.9 2031.1,384.5 2032.6,387.8 2034.1,390.0 2035.6,391.0 2037.1,391.3 2038.6,391.4 2040.1,391.4 2041.6,391.1 2043.1,390.2 2044.6,388.5 2046.1,385.6 2047.6,381.8 2049.1,377.5 2050.6,373.3 2052.1,368.7 2053.6,364.1 2055.1,361.3 2056.6,363.1 2058.1,368.8 2059.6,375.9 2061.1,382.3 2062.6,386.9" fill="none" stroke="#6f9ad9" stroke-width="2.2" stroke-linejoin="round"/>
<polyline points="1804.6,366.9 1806.1,356.6 1807.6,344.8 1809.1,336.1 1810.6,336.2 1812.1,344.2 1813.6,354.6 1815.1,364.4 1816.6,372.8 1818.1,379.2 1819.6,383.7 1821.1,386.8 1822.6,388.7 1824.1,389.2 1825.6,388.9 1827.1,387.8 1828.6,385.7 1830.1,381.9 1831.6,376.3 1833.1,368.8 1834.6,359.9 1836.1,351.0 1837.6,345.4 1839.1,345.0 1840.6,347.2 1842.1,348.2 1843.6,348.3 1845.1,351.2 1846.6,357.9 1848.1,366.1 1849.6,373.9 1851.1,380.2 1852.6,384.2 1854.1,386.3 1855.6,387.3 1857.1,387.4 1858.6,386.4 1860.1,383.8 1861.6,379.5 1863.1,373.9 1864.6,367.2 1866.1,358.5 1867.6,347.8 1869.1,338.8 1870.6,336.1 1872.1,340.3 1873.6,348.6 1875.1,358.5 1876.6,367.8 1878.1,374.8 1879.6,379.6 1881.1,382.8 1882.6,385.2 1884.1,387.0 1885.6,388.3 1887.1,389.0 1888.6,389.1 1890.1,388.6 1891.6,387.1 1893.1,383.8 1894.6,378.6 1896.1,372.7 1897.6,367.1 1899.1,361.9 1900.6,357.9 1902.1,356.4 1903.6,358.1 1905.1,363.0 1906.6,370.2 1908.1,377.4 1909.6,382.5 1911.1,385.3 1912.6,387.1 1914.1,388.4 1915.6,389.5 1917.1,390.0 1918.6,389.8 1920.1,388.7 1921.6,386.9 1923.1,384.0 1924.6,378.1 1926.1,368.3 1927.6,356.6 1929.1,345.9 1930.6,336.9 1932.1,332.5 1933.6,336.0 1935.1,345.5 1936.6,356.9 1938.1,366.7 1939.6,372.7 1941.1,376.4 1942.6,380.1 1944.1,383.8 1945.6,386.7 1947.1,388.5 1948.6,389.2 1950.1,388.8 1951.6,386.8 1953.1,383.0 1954.6,377.1 1956.1,369.0 1957.6,358.4 1959.1,346.5 1960.6,337.1 1962.1,333.4 1963.6,334.3 1965.1,338.1 1966.6,343.8 1968.1,351.1 1969.6,360.4 1971.1,370.3 1972.6,378.1 1974.1,382.8 1975.6,385.8 1977.1,388.1 1978.6,389.5 1980.1,390.1 1981.6,389.9 1983.1,389.0 1984.6,387.4 1986.1,384.8 1987.6,380.0 1989.1,372.3 1990.6,363.2 1992.1,355.4 1993.6,349.8 1995.1,347.5 1996.6,350.5 1998.1,357.5 1999.6,364.1 2001.1,369.3 2002.6,374.4 2004.1,379.4 2005.6,383.6 2007.1,386.5 2008.6,388.3 2010.1,389.3 2011.6,389.4 2013.1,388.5 2014.6,386.5 2016.1,383.2 2017.6,379.0 2019.1,374.4 2020.6,370.3 2022.1,366.2 2023.6,361.8 2025.1,359.0 2026.6,359.8 2028.1,362.9 2029.6,367.1 2031.1,372.2 2032.6,377.9 2034.1,382.7 2035.6,385.9 2037.1,387.8 2038.6,388.7 2040.1,388.9 2041.6,388.5 2043.1,387.3 2044.6,384.9 2046.1,380.4 2047.6,372.9 2049.1,362.9 2050.6,351.6 2052.1,338.9 2053.6,326.3 2055.1,322.6 2056.6,333.8 2058.1,352.6 2059.6,368.5 2061.1,378.4 2062.6,383.5" fill="none" stroke="#5585d0" stroke-width="2.2" stroke-linejoin="round"/>
<polyline points="1804.6,371.6 1806.1,362.3 1807.6,351.1 1809.1,341.9 1810.6,340.8 1812.1,347.7 1813.6,356.9 1815.1,365.3 1816.6,372.2 1818.1,377.8 1819.6,382.3 1821.1,385.7 1822.6,388.0 1824.1,389.2 1825.6,389.4 1827.1,388.5 1828.6,386.8 1830.1,384.2 1831.6,380.7 1833.1,376.1 1834.6,370.2 1836.1,362.9 1837.6,354.9 1839.1,347.7 1840.6,343.3 1842.1,343.9 1843.6,349.8 1845.1,358.4 1846.6,366.4 1848.1,373.2 1849.6,379.2 1851.1,383.6 1852.6,386.3 1854.1,387.7 1855.6,388.7 1857.1,389.2 1858.6,389.1 1860.1,388.1 1861.6,385.6 1863.1,381.4 1864.6,375.8 1866.1,369.5 1867.6,364.0 1869.1,362.0 1870.6,363.9 1872.1,366.6 1873.6,367.7 1875.1,368.8 1876.6,371.8 1878.1,376.4 1879.6,381.4 1881.1,385.8 1882.6,388.5 1884.1,389.9 1885.6,390.5 1887.1,390.6 1888.6,390.3 1890.1,389.4 1891.6,387.9 1893.1,385.5 1894.6,382.6 1896.1,380.0 1897.6,377.4 1899.1,374.6 1900.6,372.0 1902.1,369.7 1903.6,368.6 1905.1,370.2 1906.6,374.4 1908.1,379.0 1909.6,382.6 1911.1,385.2 1912.6,387.3 1914.1,388.9 1915.6,390.0 1917.1,390.7 1918.6,390.8 1920.1,390.2 1921.6,388.5 1923.1,385.4 1924.6,380.2 1926.1,373.6 1927.6,367.0 1929.1,359.5 1930.6,350.1 1932.1,341.7 1933.6,339.2 1935.1,343.6 1936.6,352.2 1938.1,361.5 1939.6,369.9 1941.1,377.0 1942.6,382.7 1944.1,386.1 1945.6,387.9 1947.1,388.7 1948.6,388.7 1950.1,387.9 1951.6,386.4 1953.1,384.1 1954.6,380.7 1956.1,375.5 1957.6,368.2 1959.1,358.5 1960.6,348.4 1962.1,341.1 1963.6,338.4 1965.1,340.6 1966.6,347.0 1968.1,355.4 1969.6,363.9 1971.1,371.8 1972.6,378.5 1974.1,383.7 1975.6,387.5 1977.1,389.8 1978.6,390.9 1980.1,390.9 1981.6,390.1 1983.1,388.5 1984.6,386.1 1986.1,382.6 1987.6,377.3 1989.1,369.9 1990.6,362.1 1992.1,356.4 1993.6,355.0 1995.1,357.3 1996.6,359.9 1998.1,362.0 1999.6,366.3 2001.1,373.0 2002.6,379.5 2004.1,384.2 2005.6,386.9 2007.1,388.3 2008.6,389.0 2010.1,389.4 2011.6,389.4 2013.1,388.9 2014.6,387.3 2016.1,384.1 2017.6,378.9 2019.1,372.7 2020.6,367.6 2022.1,364.2 2023.6,361.7 2025.1,360.8 2026.6,362.9 2028.1,366.6 2029.6,370.5 2031.1,375.0 2032.6,380.5 2034.1,385.3 2035.6,388.4 2037.1,389.8 2038.6,390.3 2040.1,390.3 2041.6,389.9 2043.1,388.9 2044.6,386.9 2046.1,383.3 2047.6,377.8 2049.1,371.2 2050.6,364.6 2052.1,358.2 2053.6,351.9 2055.1,348.6 2056.6,351.8 2058.1,360.4 2059.6,370.5 2061.1,378.7 2062.6,384.0" fill="none" stroke="#3f73c6" stroke-width="2.2" stroke-linejoin="round"/>
<path d="M1803.6,298.4 L1815.9,298.4 L1818.9,395.6 L1831.2,395.6 L1834.2,298.4 L1846.5,298.4 L1849.5,395.6 L1861.8,395.6 L1864.8,298.4 L1877.1,298.4 L1880.1,395.6 L1892.3,395.6 L1895.3,298.4 L1907.6,298.4 L1910.6,395.6 L1922.9,395.6 L1925.9,298.4 L1938.2,298.4 L1941.2,395.6 L1953.5,395.6 L1956.5,298.4 L1968.8,298.4 L1971.8,395.6 L1984.1,395.6 L1987.1,298.4 L1999.4,298.4 L2002.4,395.6 L2014.7,395.6 L2017.7,298.4 L2030.0,298.4 L2033.0,395.6 L2045.2,395.6 L2048.2,298.4 L2060.5,298.4 L2063.5,395.6 L2064.1,395.6" fill="none" stroke="#000" stroke-width="2.4" stroke-linejoin="miter"/>
</g>
<rect x="1803.6" y="293.5" width="260.5" height="106.8" fill="none" stroke="#222" stroke-width="1.8"/>
<line x1="1798.1" y1="299.4" x2="1803.6" y2="299.4" stroke="#222" stroke-width="1.6"/>
<line x1="1798.1" y1="395.6" x2="1803.6" y2="395.6" stroke="#222" stroke-width="1.6"/>
<text x="1790.1" y="306.9" text-anchor="end">7</text>
<text x="1790.1" y="403.1" text-anchor="end">0</text>
<text x="1762.6" y="346.9" text-anchor="middle" transform="rotate(-90 1762.6 346.9)">Prediction</text>
<line x1="1803.4" y1="400.3" x2="1803.4" y2="407.3" stroke="#222" stroke-width="1.6"/>
<text x="1803.4" y="429.7" text-anchor="middle">0</text>
<line x1="1867.1" y1="400.3" x2="1867.1" y2="407.3" stroke="#222" stroke-width="1.6"/>
<text x="1867.1" y="429.7" text-anchor="middle">3.2</text>
<line x1="1930.8" y1="400.3" x2="1930.8" y2="407.3" stroke="#222" stroke-width="1.6"/>
<text x="1930.8" y="429.7" text-anchor="middle">6.4</text>
<line x1="1994.5" y1="400.3" x2="1994.5" y2="407.3" stroke="#222" stroke-width="1.6"/>
<text x="1994.5" y="429.7" text-anchor="middle">9.6</text>
<line x1="2058.2" y1="400.3" x2="2058.2" y2="407.3" stroke="#222" stroke-width="1.6"/>
<text x="2058.2" y="429.7" text-anchor="middle">12.8</text>
<text x="1934.0" y="461.1" text-anchor="middle">Position (kb)</text>
<text x="2072.0" y="83.7">15</text>
<text x="2072.0" y="108.2">tokens</text>
<text x="2072.0" y="131.2">bp</text>
<text x="2096.5" y="121.7" font-size="14">−1</text>
<text x="2072.0" y="206.0">30</text>
<text x="2072.0" y="230.5">tokens</text>
<text x="2072.0" y="253.5">bp</text>
<text x="2096.5" y="244.0" font-size="14">−1</text>
<text x="2072.0" y="327.0">60</text>
<text x="2072.0" y="351.5">tokens</text>
<text x="2072.0" y="374.5">bp</text>
<text x="2096.5" y="365.0" font-size="14">−1</text>
<text x="2162.5" y="82.0" text-anchor="middle" transform="rotate(-90 2162.5 82.0)">Compute</text>
<line x1="2156.4" y1="137.0" x2="2156.4" y2="384.0" stroke="#111" stroke-width="2"/>
<path d="M2156.4,396.5 L2150.4,382.5 L2156.4,386.0 L2162.4,382.5 Z" fill="#111"/>
<text x="1522.7" y="500.0">DNASE: 129 ES-E14 track</text>
<line x1="1522.0" y1="529.3" x2="1555.5" y2="529.3" stroke="#5b7367" stroke-width="4.5"/>
<text x="1566.2" y="536.0">Enformer</text>
<line x1="1671.0" y1="518.0" x2="1704.2" y2="518.0" stroke="#a9c2ea" stroke-width="3.6"/>
<line x1="1671.0" y1="525.2" x2="1704.2" y2="525.2" stroke="#86a9e0" stroke-width="3.6"/>
<line x1="1671.0" y1="532.4" x2="1704.2" y2="532.4" stroke="#6693d6" stroke-width="3.6"/>
<line x1="1671.0" y1="539.6" x2="1704.2" y2="539.6" stroke="#3f73c6" stroke-width="3.6"/>
<text x="1714.6" y="536.0">Borzoi</text>
<path d="M1805,542.5 V515 H1822.4 V542.8 H1840.5" fill="none" stroke="#111" stroke-width="2"/>
<text x="1851.6" y="536.0">Desired pattern</text>
<text transform="translate(0.0 580.0) scale(1.17 1)" font-size="33" font-weight="bold" fill="#000" stroke="#000" stroke-width="0.9">e</text>
<text x="122.3" y="642.4" text-anchor="middle">1. Synthesize and</text>
<text x="122.3" y="666.8" text-anchor="middle">assemble DNA</text>
<text x="271.2" y="642.0">2. Site-specific integration</text>
<text x="295.3" y="666.1">into mammalian cells</text>
<text x="592.1" y="639.3">3. Measure accessibilty</text>
<text x="633.0" y="664.5">with ATAC–seq</text>
<rect x="66.0" y="713.0" width="39.2" height="3.2" fill="#083f51"/>
<rect x="66.0" y="717.4" width="39.2" height="3.2" fill="#083f51"/>
<rect x="66.0" y="716.2" width="39.2" height="1.2" fill="#b9cbd0"/>
<rect x="137.0" y="712.4" width="39.0" height="3.2" fill="#083f51"/>
<rect x="137.0" y="716.8" width="39.0" height="3.2" fill="#083f51"/>
<rect x="137.0" y="715.6" width="39.0" height="1.2" fill="#b9cbd0"/>
<rect x="30.9" y="728.7" width="39.1" height="3.2" fill="#083f51"/>
<rect x="30.9" y="733.1" width="39.1" height="3.2" fill="#083f51"/>
<rect x="30.9" y="731.9" width="39.1" height="1.2" fill="#b9cbd0"/>
<rect x="101.0" y="728.0" width="39.5" height="3.2" fill="#083f51"/>
<rect x="101.0" y="732.4" width="39.5" height="3.2" fill="#083f51"/>
<rect x="101.0" y="731.2" width="39.5" height="1.2" fill="#b9cbd0"/>
<rect x="172.6" y="726.0" width="39.2" height="3.2" fill="#083f51"/>
<rect x="172.6" y="730.4" width="39.2" height="3.2" fill="#083f51"/>
<rect x="172.6" y="729.2" width="39.2" height="1.2" fill="#b9cbd0"/>
<rect x="28.0" y="797.1" width="186.8" height="4.4" fill="#083f51"/>
<rect x="28.0" y="803.1" width="186.8" height="4.4" fill="#083f51"/>
<rect x="28.0" y="801.5" width="186.8" height="1.7" fill="#b9cbd0"/>
<line x1="121.4" y1="752.0" x2="121.4" y2="772.0" stroke="#555" stroke-width="2"/>
<path d="M121.4,781.5 L115.4,767.5 L121.4,771.0 L127.4,767.5 Z" fill="#555"/>
<line x1="225.8" y1="757.3" x2="288.0" y2="757.3" stroke="#111" stroke-width="2"/>
<path d="M297.0,757.3 L282.0,763.3 L285.8,757.3 L282.0,751.3 Z" fill="#111"/>
<line x1="482.3" y1="757.6" x2="545.0" y2="757.6" stroke="#111" stroke-width="2"/>
<path d="M553.4,757.6 L538.4,763.6 L542.1,757.6 L538.4,751.6 Z" fill="#111"/>
<path d="M380,726 C389,729 389,737 381,739.5 C374,741.5 366,741.5 358,741.3" fill="none" stroke="#6e7c8e" stroke-width="1.3"/>
<path d="M315,726.5 C312.5,721 319,715 327,711 C331,709 334,708.5 338,707.5 C347,702.5 362,701 372,704.5 C381,708 385.5,714 384.5,721 C383.5,728 377,730.5 366,730.5 L324,730.5 C319,730.5 316,729 315,726.5 Z" fill="#d3d8de" stroke="#6e7c8e" stroke-width="1.3"/>
<circle cx="333.5" cy="704.5" r="5.2" fill="#d3d8de" stroke="#6e7c8e" stroke-width="1.3"/>
<path d="M334,707 C334,709 333,711 331.5,712.5" fill="none" stroke="#6e7c8e" stroke-width="1.3"/>
<path d="M399.5,742.5 C399.5,731 404,724.5 412,722 C418,720 421,718.5 423,715 L436.5,715 C438.5,718.5 441.5,720 447.5,722 C455.5,724.5 459,731 459,742.5 Z" fill="#d6edf9" stroke="#1c5c98" stroke-width="1.5"/>
<ellipse cx="429.7" cy="703" rx="14" ry="17" fill="#d6edf9" stroke="#1c5c98" stroke-width="1.5"/>
<path d="M317.5,798.5 L317.5,820 A75.4,35 0 0 0 468.29999999999995,820 L468.29999999999995,798.5 Z" fill="#f7e3e4" stroke="#111" stroke-width="1.6"/>
<clipPath id="dishtop"><ellipse cx="392.9" cy="798.5" rx="75.4" ry="34.5"/></clipPath>
<ellipse cx="392.9" cy="798.5" rx="75.4" ry="34.5" fill="#f2f2f2"/>
<g clip-path="url(#dishtop)">
<ellipse cx="392.9" cy="812" rx="74" ry="33" fill="#efc3c5"/>
<path d="M377.3,790.6 L353.3,792.8 L353.7,786.9 Z" fill="#da7d82" stroke="#a9555c" stroke-width="0.8"/>
<ellipse cx="362.0" cy="790.0" rx="3" ry="2" fill="#8c3b44"/>
<path d="M393.8,785.9 L414.3,787.9 L411.6,793.4 Z" fill="#da7d82" stroke="#a9555c" stroke-width="0.8"/>
<ellipse cx="407.0" cy="789.0" rx="3" ry="2" fill="#8c3b44"/>
<path d="M453.3,805.1 L436.8,796.8 L441.9,792.5 Z" fill="#da7d82" stroke="#a9555c" stroke-width="0.8"/>
<ellipse cx="444.0" cy="797.0" rx="3" ry="2" fill="#8c3b44"/>
<path d="M362.8,799.4 L346.5,809.0 L342.9,804.6 Z" fill="#da7d82" stroke="#a9555c" stroke-width="0.8"/>
<ellipse cx="350.0" cy="804.0" rx="3" ry="2" fill="#8c3b44"/>
<path d="M367.6,810.6 L380.1,798.5 L385.2,802.9 Z" fill="#da7d82" stroke="#a9555c" stroke-width="0.8"/>
<ellipse cx="378.0" cy="803.0" rx="3" ry="2" fill="#8c3b44"/>
<path d="M426.3,801.2 L405.9,807.3 L403.9,802.8 Z" fill="#da7d82" stroke="#a9555c" stroke-width="0.8"/>
<ellipse cx="412.0" cy="803.0" rx="3" ry="2" fill="#8c3b44"/>
<path d="M454.1,808.5 L434.3,811.3 L433.9,805.9 Z" fill="#da7d82" stroke="#a9555c" stroke-width="0.8"/>
<ellipse cx="440.0" cy="808.0" rx="3" ry="2" fill="#8c3b44"/>
<path d="M317.9,807.9 L341.2,812.8 L335.9,817.6 Z" fill="#da7d82" stroke="#a9555c" stroke-width="0.8"/>
<ellipse cx="332.0" cy="813.0" rx="3" ry="2" fill="#8c3b44"/>
<path d="M354.2,819.5 L374.4,815.0 L374.3,819.5 Z" fill="#da7d82" stroke="#a9555c" stroke-width="0.8"/>
<ellipse cx="368.0" cy="817.0" rx="3" ry="2" fill="#8c3b44"/>
<path d="M406.5,821.8 L387.7,814.9 L392.9,812.0 Z" fill="#da7d82" stroke="#a9555c" stroke-width="0.8"/>
<ellipse cx="396.0" cy="816.0" rx="3" ry="2" fill="#8c3b44"/>
<path d="M437.4,814.5 L419.0,824.2 L417.4,819.3 Z" fill="#da7d82" stroke="#a9555c" stroke-width="0.8"/>
<ellipse cx="425.0" cy="820.0" rx="3" ry="2" fill="#8c3b44"/>
<path d="M441.9,813.7 L460.8,810.8 L462.5,815.8 Z" fill="#da7d82" stroke="#a9555c" stroke-width="0.8"/>
<ellipse cx="455.0" cy="814.0" rx="3" ry="2" fill="#8c3b44"/>
<path d="M336.1,833.7 L349.2,822.5 L352.2,826.1 Z" fill="#da7d82" stroke="#a9555c" stroke-width="0.8"/>
<ellipse cx="345.0" cy="827.0" rx="3" ry="2" fill="#8c3b44"/>
<path d="M362.8,823.2 L383.2,828.6 L378.8,835.0 Z" fill="#da7d82" stroke="#a9555c" stroke-width="0.8"/>
<ellipse cx="375.0" cy="829.0" rx="3" ry="2" fill="#8c3b44"/>
<path d="M420.1,826.6 L404.0,833.4 L400.0,830.0 Z" fill="#da7d82" stroke="#a9555c" stroke-width="0.8"/>
<ellipse cx="408.0" cy="830.0" rx="3" ry="2" fill="#8c3b44"/>
<path d="M449.0,822.3 L433.6,833.8 L429.3,830.6 Z" fill="#da7d82" stroke="#a9555c" stroke-width="0.8"/>
<ellipse cx="437.0" cy="829.0" rx="3" ry="2" fill="#8c3b44"/>
<path d="M375.5,840.5 L394.1,831.2 L398.2,837.6 Z" fill="#da7d82" stroke="#a9555c" stroke-width="0.8"/>
<ellipse cx="390.0" cy="836.0" rx="3" ry="2" fill="#8c3b44"/>
<path d="M331.8,829.6 L314.0,820.6 L318.4,816.1 Z" fill="#da7d82" stroke="#a9555c" stroke-width="0.8"/>
<ellipse cx="322.0" cy="822.0" rx="3" ry="2" fill="#8c3b44"/>
</g>
<ellipse cx="392.9" cy="798.5" rx="75.4" ry="34.5" fill="none" stroke="#111" stroke-width="1.6"/>
<path d="M346,843 L363,836 L359,845 Z" fill="#eebdc0" stroke="#e0a7ab" stroke-width="0.6"/>
<path d="M376,849 L393,842 L389,851 Z" fill="#eebdc0" stroke="#e0a7ab" stroke-width="0.6"/>
<path d="M411,846 L428,839 L424,848 Z" fill="#eebdc0" stroke="#e0a7ab" stroke-width="0.6"/>
<path d="M436,841 L453,834 L449,843 Z" fill="#eebdc0" stroke="#e0a7ab" stroke-width="0.6"/>
<path d="M326,839 L343,832 L339,841 Z" fill="#eebdc0" stroke="#e0a7ab" stroke-width="0.6"/>
<g transform="rotate(14 611.4 713)">
<rect x="603.4" y="696.0" width="16.0" height="36.0" fill="#dbe5f3"/>
<ellipse cx="619.4" cy="714" rx="6.5" ry="18" fill="#dbe5f3" stroke="#3566b8" stroke-width="1"/>
<ellipse cx="603.4" cy="714" rx="6.5" ry="18" fill="#dbe5f3" stroke="#3566b8" stroke-width="1"/>
<path d="M609.4,696 C614.4,700 614.4,728 609.4,732" fill="none" stroke="#0c3a8c" stroke-width="3.8"/>
<path d="M616.4,697 C621.4,701 621.4,729 616.4,733" fill="none" stroke="#0c3a8c" stroke-width="3.8"/>
</g>
<path d="M615.4,733 C619.4,740 629.4,740 637.9,729" fill="none" stroke="#0c3a8c" stroke-width="3.8"/>
<g transform="rotate(14 641.9 713)">
<rect x="633.9" y="696.0" width="16.0" height="36.0" fill="#dbe5f3"/>
<ellipse cx="649.9" cy="714" rx="6.5" ry="18" fill="#dbe5f3" stroke="#3566b8" stroke-width="1"/>
<ellipse cx="633.9" cy="714" rx="6.5" ry="18" fill="#dbe5f3" stroke="#3566b8" stroke-width="1"/>
<path d="M639.9,696 C644.9,700 644.9,728 639.9,732" fill="none" stroke="#0c3a8c" stroke-width="3.8"/>
<path d="M646.9,697 C651.9,701 651.9,729 646.9,733" fill="none" stroke="#0c3a8c" stroke-width="3.8"/>
</g>
<path d="M645.9,733 C649.9,740 659.9,740 668.4,729" fill="none" stroke="#0c3a8c" stroke-width="3.8"/>
<g transform="rotate(14 672.4 713)">
<rect x="664.4" y="696.0" width="16.0" height="36.0" fill="#dbe5f3"/>
<ellipse cx="680.4" cy="714" rx="6.5" ry="18" fill="#dbe5f3" stroke="#3566b8" stroke-width="1"/>
<ellipse cx="664.4" cy="714" rx="6.5" ry="18" fill="#dbe5f3" stroke="#3566b8" stroke-width="1"/>
<path d="M670.4,696 C675.4,700 675.4,728 670.4,732" fill="none" stroke="#0c3a8c" stroke-width="3.8"/>
<path d="M677.4,697 C682.4,701 682.4,729 677.4,733" fill="none" stroke="#0c3a8c" stroke-width="3.8"/>
</g>
<path d="M676.4,733 C680.4,740 690.4,740 698.9,729" fill="none" stroke="#0c3a8c" stroke-width="3.8"/>
<g transform="rotate(14 702.9 713)">
<rect x="694.9" y="696.0" width="16.0" height="36.0" fill="#dbe5f3"/>
<ellipse cx="710.9" cy="714" rx="6.5" ry="18" fill="#dbe5f3" stroke="#3566b8" stroke-width="1"/>
<ellipse cx="694.9" cy="714" rx="6.5" ry="18" fill="#dbe5f3" stroke="#3566b8" stroke-width="1"/>
<path d="M700.9,696 C705.9,700 705.9,728 700.9,732" fill="none" stroke="#0c3a8c" stroke-width="3.8"/>
<path d="M707.9,697 C712.9,701 712.9,729 707.9,733" fill="none" stroke="#0c3a8c" stroke-width="3.8"/>
</g>
<path d="M579.5,714 C578.5,728 582,735 594,733.5 C600,732.5 604,730 607,726" fill="none" stroke="#0c3a8c" stroke-width="3.8"/>
<path d="M709,733 C725,742 745,743 760,742.5 C780,742 792,738 800,731" fill="none" stroke="#0c3a8c" stroke-width="3.8"/>
<g transform="rotate(14 808 713)">
<rect x="802.0" y="696.0" width="12.0" height="36.0" fill="#dbe5f3"/>
<ellipse cx="814" cy="714" rx="6" ry="18" fill="#dbe5f3" stroke="#3566b8" stroke-width="1"/>
<ellipse cx="802" cy="714" rx="6" ry="18" fill="#dbe5f3" stroke="#3566b8" stroke-width="1"/>
<path d="M807,696 C812,700 812,728 807,732" fill="none" stroke="#0c3a8c" stroke-width="3.8"/>
<path d="M812,697 C817,701 817,729 812,733" fill="none" stroke="#0c3a8c" stroke-width="3.8"/>
</g>
<path d="M817,733 C820,741 828,742 831,737 L836,729" fill="none" stroke="#0c3a8c" stroke-width="3.8"/>
<rect x="582.5" y="829.8" width="19.3" height="2.7" fill="#0d3a8a"/>
<rect x="739.5" y="764.0" width="19.3" height="2.7" fill="#0d3a8a"/>
<rect x="739.5" y="770.1" width="18.8" height="2.7" fill="#0d3a8a"/>
<rect x="737.4" y="776.9" width="18.8" height="2.7" fill="#0d3a8a"/>
<rect x="722.1" y="784.1" width="18.8" height="2.7" fill="#0d3a8a"/>
<rect x="742.2" y="784.1" width="18.5" height="2.7" fill="#0d3a8a"/>
<rect x="719.4" y="792.1" width="18.8" height="2.7" fill="#0d3a8a"/>
<rect x="743.3" y="792.1" width="18.6" height="2.7" fill="#0d3a8a"/>
<rect x="725.3" y="800.1" width="18.8" height="2.7" fill="#0d3a8a"/>
<rect x="749.1" y="800.1" width="18.9" height="2.7" fill="#0d3a8a"/>
<rect x="709.3" y="808.2" width="18.5" height="2.7" fill="#0d3a8a"/>
<rect x="730.6" y="808.2" width="18.5" height="2.7" fill="#0d3a8a"/>
<rect x="751.0" y="808.2" width="18.6" height="2.7" fill="#0d3a8a"/>
<rect x="704.8" y="816.4" width="18.6" height="2.7" fill="#0d3a8a"/>
<rect x="728.5" y="816.4" width="18.9" height="2.7" fill="#0d3a8a"/>
<rect x="751.0" y="816.4" width="18.6" height="2.7" fill="#0d3a8a"/>
<rect x="703.3" y="824.2" width="18.8" height="2.7" fill="#0d3a8a"/>
<rect x="725.0" y="824.2" width="18.8" height="2.7" fill="#0d3a8a"/>
<rect x="754.7" y="824.2" width="19.1" height="2.7" fill="#0d3a8a"/>
<rect x="698.4" y="831.0" width="18.9" height="2.7" fill="#0d3a8a"/>
<rect x="719.2" y="831.0" width="18.6" height="2.7" fill="#0d3a8a"/>
<rect x="739.8" y="831.0" width="18.9" height="2.7" fill="#0d3a8a"/>
<rect x="760.3" y="831.0" width="18.9" height="2.7" fill="#0d3a8a"/>
<rect x="789.2" y="823.1" width="18.8" height="2.7" fill="#0d3a8a"/>
<rect x="804.0" y="828.7" width="18.9" height="2.7" fill="#0d3a8a"/>
<rect x="580.0" y="839.2" width="242.0" height="4.5" fill="#333"/>
<rect x="580.0" y="847.5" width="242.0" height="4.2" fill="#333"/>
<text transform="translate(0.0 1311.0) scale(1.17 1)" font-size="33" font-weight="bold" fill="#000" stroke="#000" stroke-width="0.9">i</text>
<text x="324.0" y="1310.5" text-anchor="middle">Same pattern, different cell types</text>
<rect x="81.7" y="1326.7" width="122.3" height="103.7" fill="#e2e5eb"/>
<rect x="322.0" y="1326.7" width="124.3" height="103.7" fill="#e2e5eb"/>
<path d="M81.7,1430.9 L81.7,1414.9 L82.5,1415.5 L83.2,1414.6 L84.0,1414.9 L84.7,1416.1 L85.5,1416.5 L86.2,1416.1 L87.0,1414.6 L87.7,1412.8 L88.5,1412.6 L89.2,1413.6 L90.0,1413.0 L90.7,1411.1 L91.5,1411.5 L92.2,1412.9 L93.0,1413.0 L93.7,1412.6 L94.5,1411.7 L95.2,1411.2 L96.0,1411.7 L96.7,1411.5 L97.5,1411.2 L98.2,1411.6 L99.0,1412.7 L99.7,1412.5 L100.5,1411.9 L101.2,1413.4 L102.0,1414.5 L102.7,1415.2 L103.5,1416.4 L104.2,1416.3 L105.0,1415.3 L105.7,1416.0 L106.5,1417.6 L107.2,1418.0 L108.0,1418.5 L108.7,1418.4 L109.5,1417.1 L110.2,1416.4 L111.0,1417.1 L111.7,1417.9 L112.5,1419.4 L113.2,1420.1 L114.0,1420.0 L114.7,1419.6 L115.5,1419.0 L116.2,1418.9 L117.0,1419.5 L117.7,1419.7 L118.5,1419.0 L119.2,1418.3 L120.0,1418.5 L120.7,1418.9 L121.5,1418.0 L122.2,1415.8 L123.0,1414.8 L123.7,1414.3 L124.5,1412.7 L125.2,1411.6 L126.0,1411.3 L126.7,1410.3 L127.5,1408.2 L128.2,1406.9 L128.9,1405.9 L129.7,1405.8 L130.4,1406.5 L131.2,1407.0 L131.9,1406.9 L132.7,1407.0 L133.4,1406.5 L134.2,1405.7 L134.9,1404.6 L135.7,1404.6 L136.4,1405.9 L137.2,1407.0 L137.9,1408.7 L138.7,1409.6 L139.4,1409.9 L140.2,1409.6 L140.9,1409.9 L141.7,1410.1 L142.4,1410.0 L143.2,1410.4 L143.9,1408.4 L144.7,1405.9 L145.4,1405.0 L146.2,1406.2 L146.9,1406.7 L147.7,1406.1 L148.4,1402.3 L149.2,1400.5 L149.9,1400.3 L150.7,1400.6 L151.4,1398.6 L152.2,1397.6 L152.9,1398.1 L153.7,1397.9 L154.4,1397.2 L155.2,1397.1 L155.9,1395.9 L156.7,1391.2 L157.4,1390.5 L158.2,1391.0 L158.9,1391.7 L159.7,1392.5 L160.4,1392.0 L161.2,1391.1 L161.9,1390.8 L162.7,1389.7 L163.4,1391.8 L164.2,1394.5 L164.9,1398.5 L165.7,1399.6 L166.4,1399.7 L167.2,1400.3 L167.9,1402.4 L168.7,1406.2 L169.4,1407.1 L170.2,1406.8 L170.9,1409.7 L171.7,1412.0 L172.4,1411.1 L173.2,1411.5 L173.9,1413.2 L174.7,1412.9 L175.4,1411.9 L176.2,1412.9 L176.9,1413.7 L177.7,1413.4 L178.4,1413.3 L179.2,1414.7 L179.9,1414.5 L180.7,1413.7 L181.4,1413.1 L182.2,1412.7 L182.9,1412.7 L183.7,1412.0 L184.4,1411.1 L185.2,1411.1 L185.9,1412.6 L186.7,1411.9 L187.4,1411.4 L188.2,1411.6 L188.9,1410.4 L189.7,1411.4 L190.4,1413.5 L191.2,1413.4 L191.9,1412.9 L192.7,1414.2 L193.4,1415.4 L194.2,1415.9 L194.9,1417.1 L195.7,1418.8 L196.4,1419.4 L197.2,1419.8 L197.9,1421.1 L198.7,1422.6 L199.4,1423.2 L200.2,1423.3 L200.9,1424.0 L201.7,1424.9 L202.4,1425.7 L203.2,1426.3 L203.9,1427.1 L204.7,1427.5 L205.4,1427.5 L206.2,1427.7 L206.9,1427.9 L207.7,1428.0 L208.4,1428.1 L209.2,1428.1 L209.9,1427.9 L210.7,1427.9 L211.4,1427.8 L212.2,1428.0 L212.9,1427.9 L213.7,1427.9 L214.4,1427.8 L215.2,1427.7 L215.9,1427.7 L216.7,1427.9 L217.4,1427.8 L218.2,1427.6 L218.9,1427.7 L219.7,1427.9 L220.4,1427.9 L221.2,1427.9 L221.9,1427.9 L222.7,1427.9 L223.4,1428.1 L224.2,1428.3 L224.9,1428.0 L225.7,1427.7 L226.4,1428.0 L227.2,1428.2 L227.9,1428.3 L228.7,1428.4 L229.4,1428.4 L230.2,1428.2 L230.9,1428.1 L231.7,1428.2 L232.4,1428.3 L233.2,1428.4 L233.9,1428.5 L234.7,1428.6 L235.4,1428.5 L236.2,1428.3 L236.9,1428.4 L237.7,1428.6 L238.4,1428.3 L239.2,1428.1 L239.9,1428.3 L240.7,1428.3 L241.4,1428.4 L242.2,1428.5 L242.9,1428.5 L243.7,1428.4 L244.4,1428.7 L245.2,1428.6 L245.9,1428.3 L246.7,1428.1 L247.4,1427.9 L248.2,1427.5 L248.9,1427.3 L249.7,1427.5 L250.4,1427.7 L251.2,1427.7 L251.9,1427.6 L252.7,1427.6 L253.4,1427.4 L254.2,1426.9 L254.9,1426.9 L255.7,1427.3 L256.4,1427.4 L257.2,1427.2 L257.9,1427.1 L258.7,1426.8 L259.4,1426.6 L260.2,1426.7 L260.9,1426.8 L261.7,1426.8 L262.4,1426.7 L263.2,1426.2 L263.9,1425.7 L264.7,1425.8 L265.4,1425.6 L266.2,1425.2 L266.9,1425.3 L267.7,1425.8 L268.4,1425.8 L269.2,1425.5 L269.9,1425.1 L270.7,1425.1 L271.4,1425.6 L272.2,1425.6 L272.9,1425.2 L273.7,1425.0 L274.4,1425.3 L275.2,1425.4 L275.9,1425.9 L276.7,1426.0 L277.4,1425.6 L278.2,1425.8 L278.9,1425.7 L279.7,1425.1 L280.4,1425.1 L281.2,1425.4 L281.9,1425.0 L282.7,1424.7 L283.4,1424.8 L284.2,1425.0 L284.9,1425.2 L285.7,1425.5 L286.4,1425.3 L287.2,1424.6 L287.9,1424.5 L288.7,1424.6 L289.4,1424.7 L290.2,1424.9 L290.9,1424.9 L291.7,1424.7 L292.4,1425.0 L293.2,1425.2 L293.9,1424.6 L294.7,1424.2 L295.4,1424.2 L296.2,1424.1 L296.9,1424.3 L297.7,1424.2 L298.4,1423.8 L299.2,1424.0 L299.9,1424.4 L300.7,1424.1 L301.4,1423.4 L302.2,1422.8 L302.9,1423.2 L303.7,1423.8 L304.4,1423.7 L305.2,1423.3 L305.9,1423.0 L306.7,1422.8 L307.4,1422.9 L308.2,1422.7 L308.9,1421.9 L309.7,1421.1 L310.4,1421.1 L311.2,1421.5 L311.9,1420.8 L312.7,1419.9 L313.4,1419.9 L314.2,1420.3 L314.9,1420.2 L315.7,1419.8 L316.4,1419.3 L317.2,1419.1 L317.9,1418.7 L318.7,1418.6 L319.4,1418.4 L320.2,1417.9 L320.9,1418.0 L321.7,1418.5 L322.4,1418.1 L323.2,1417.3 L323.9,1417.8 L324.7,1418.5 L325.4,1418.6 L326.2,1418.6 L326.9,1418.2 L327.7,1417.4 L328.4,1416.6 L329.2,1416.4 L329.9,1415.7 L330.7,1414.8 L331.4,1415.2 L332.2,1416.1 L332.9,1416.2 L333.7,1416.1 L334.4,1415.3 L335.2,1413.2 L335.9,1411.1 L336.7,1411.2 L337.4,1411.8 L338.2,1411.4 L338.9,1409.3 L339.7,1407.4 L340.4,1407.4 L341.2,1405.8 L341.9,1403.5 L342.7,1401.1 L343.4,1399.5 L344.2,1400.7 L344.9,1401.7 L345.7,1402.4 L346.4,1402.2 L347.2,1401.7 L347.9,1400.3 L348.7,1399.7 L349.4,1399.9 L350.2,1401.2 L350.9,1403.8 L351.7,1405.3 L352.4,1404.8 L353.2,1403.0 L353.9,1401.9 L354.7,1400.8 L355.4,1398.7 L356.2,1398.4 L356.9,1397.5 L357.7,1396.9 L358.4,1396.3 L359.2,1397.4 L359.9,1399.6 L360.7,1398.9 L361.4,1398.1 L362.2,1401.0 L362.9,1402.9 L363.7,1401.9 L364.4,1403.9 L365.2,1404.1 L365.9,1402.2 L366.7,1398.8 L367.4,1396.2 L368.2,1396.3 L368.9,1404.6 L369.7,1413.4 L370.4,1419.7 L371.2,1422.3 L371.9,1417.6 L372.7,1413.0 L373.4,1407.9 L374.2,1403.6 L374.9,1403.5 L375.7,1406.0 L376.4,1406.9 L377.2,1405.2 L377.9,1402.5 L378.7,1402.4 L379.4,1401.1 L380.2,1399.6 L380.9,1401.4 L381.7,1402.6 L382.4,1401.3 L383.2,1397.8 L383.9,1396.2 L384.7,1397.1 L385.4,1397.8 L386.2,1397.1 L386.9,1395.7 L387.7,1395.6 L388.4,1398.0 L389.2,1397.8 L389.9,1394.9 L390.7,1394.1 L391.4,1395.2 L392.2,1394.9 L392.9,1393.2 L393.7,1394.4 L394.4,1396.9 L395.2,1395.1 L395.9,1391.3 L396.7,1390.6 L397.4,1392.6 L398.2,1395.6 L398.9,1394.7 L399.7,1396.3 L400.4,1399.0 L401.2,1400.7 L401.9,1402.4 L402.7,1403.9 L403.4,1405.8 L404.2,1403.6 L404.9,1400.3 L405.7,1401.0 L406.4,1401.8 L407.2,1400.0 L407.9,1398.9 L408.7,1400.3 L409.4,1401.4 L410.2,1403.9 L410.9,1404.7 L411.7,1402.5 L412.4,1402.5 L413.2,1401.0 L413.9,1399.0 L414.7,1398.8 L415.4,1400.4 L416.2,1400.7 L416.9,1403.1 L417.7,1405.1 L418.4,1404.2 L419.2,1401.5 L419.9,1398.7 L420.7,1392.4 L421.4,1390.3 L422.2,1390.1 L422.9,1389.7 L423.7,1389.6 L424.4,1391.9 L425.2,1394.5 L425.9,1395.4 L426.7,1395.0 L427.4,1396.3 L428.2,1398.5 L428.9,1400.3 L429.7,1398.0 L430.4,1397.1 L431.2,1400.5 L431.9,1404.7 L432.7,1404.5 L433.4,1403.3 L434.2,1403.2 L434.9,1404.6 L435.7,1406.4 L436.4,1408.9 L437.2,1410.2 L437.9,1410.5 L438.7,1411.2 L439.4,1414.0 L440.2,1415.9 L440.9,1417.2 L441.7,1417.8 L442.4,1419.1 L443.2,1420.5 L443.9,1420.9 L444.7,1421.5 L445.4,1422.4 L446.2,1423.0 L446.9,1423.6 L447.7,1424.3 L448.4,1425.1 L449.2,1425.1 L449.9,1425.0 L450.7,1424.7 L451.4,1424.3 L452.2,1424.5 L452.9,1425.2 L453.7,1425.9 L454.4,1425.7 L455.2,1425.2 L455.9,1424.9 L456.7,1425.3 L457.4,1425.8 L458.2,1425.4 L458.9,1425.2 L459.7,1425.1 L460.4,1425.3 L461.2,1425.9 L461.9,1425.9 L462.7,1425.8 L463.4,1425.8 L464.2,1426.1 L464.9,1426.0 L465.7,1426.2 L466.4,1426.7 L467.2,1426.5 L467.9,1426.5 L468.7,1426.8 L469.4,1426.8 L470.2,1426.4 L470.9,1425.8 L471.7,1425.8 L472.4,1426.0 L473.2,1425.6 L473.9,1425.3 L474.7,1425.4 L475.4,1424.7 L476.2,1424.1 L476.9,1423.7 L477.7,1423.3 L478.4,1422.7 L479.2,1422.7 L479.9,1422.5 L480.7,1421.4 L481.4,1420.5 L482.2,1420.5 L482.9,1420.4 L483.7,1419.8 L484.4,1419.7 L485.2,1419.8 L485.9,1419.6 L486.7,1420.2 L487.4,1421.5 L488.2,1421.7 L488.9,1421.4 L489.7,1422.5 L490.4,1423.4 L491.2,1423.1 L491.9,1422.5 L492.7,1422.0 L493.4,1421.9 L494.2,1422.9 L494.9,1423.7 L495.7,1423.4 L496.4,1422.7 L497.2,1422.7 L497.9,1423.5 L498.7,1424.3 L499.4,1424.8 L500.2,1425.3 L500.9,1425.1 L501.7,1424.3 L502.4,1424.6 L503.2,1425.5 L503.9,1425.8 L504.7,1425.4 L505.4,1425.3 L506.2,1425.6 L506.9,1426.2 L507.7,1426.1 L508.4,1426.1 L509.2,1426.2 L509.9,1426.8 L510.7,1426.6 L511.4,1426.5 L512.2,1426.5 L513.0,1426.6 L513.7,1426.6 L514.5,1426.8 L515.2,1427.0 L516.0,1426.7 L516.7,1426.4 L517.5,1426.5 L518.2,1426.4 L519.0,1426.3 L519.7,1426.5 L520.5,1426.5 L521.2,1426.3 L522.0,1426.1 L522.7,1426.3 L523.5,1426.5 L524.2,1426.7 L525.0,1426.7 L525.7,1426.3 L526.5,1426.0 L527.2,1426.3 L528.0,1426.7 L528.7,1426.1 L529.5,1425.9 L530.2,1425.8 L531.0,1425.5 L531.7,1425.8 L532.5,1426.2 L533.2,1426.5 L534.0,1426.4 L534.7,1426.4 L535.5,1426.7 L536.2,1426.5 L537.0,1426.4 L537.7,1426.3 L538.5,1426.0 L539.2,1426.2 L540.0,1426.5 L540.7,1426.4 L541.5,1426.0 L542.2,1426.1 L543.0,1426.6 L543.7,1426.5 L544.5,1426.0 L545.2,1425.6 L546.0,1425.7 L546.7,1425.9 L547.5,1425.8 L548.2,1425.8 L549.0,1425.7 L549.7,1425.4 L550.5,1425.0 L551.2,1424.7 L552.0,1424.6 L552.7,1424.8 L553.5,1424.8 L554.2,1424.4 L555.0,1424.0 L555.7,1423.7 L556.5,1423.3 L557.2,1422.9 L558.0,1422.4 L558.7,1421.2 L559.5,1420.4 L560.2,1420.4 L561.0,1421.0 L561.7,1421.3 L562.5,1421.6 L563.2,1422.0 L564.0,1421.3 L564.7,1420.3 L565.5,1420.3 L566.2,1420.5 L566.2,1430.9 Z" fill="#e08585" stroke="#e08585" stroke-width="2.2" stroke-linejoin="round"/>
<rect x="81.7" y="1325.7" width="484.5" height="105.7" fill="none" stroke="#222" stroke-width="1.8"/>
<line x1="75.7" y1="1371.4" x2="81.7" y2="1371.4" stroke="#222" stroke-width="1.6"/>
<text x="66.7" y="1378.9" text-anchor="end">20</text>
<line x1="75.7" y1="1430.9" x2="81.7" y2="1430.9" stroke="#222" stroke-width="1.6"/>
<text x="66.7" y="1438.4" text-anchor="end">0</text>
<text x="91.4" y="1347.8">AUROC = 0.98</text>
<rect x="81.7" y="1454.6" width="122.3" height="102.6" fill="#e2e5eb"/>
<rect x="322.0" y="1454.6" width="124.3" height="102.6" fill="#e2e5eb"/>
<path d="M81.7,1557.7 L81.7,1552.3 L82.5,1552.7 L83.2,1552.3 L84.0,1551.3 L84.7,1550.6 L85.5,1550.0 L86.2,1549.3 L87.0,1547.9 L87.7,1546.9 L88.5,1545.8 L89.2,1544.2 L90.0,1543.2 L90.7,1542.7 L91.5,1541.4 L92.2,1540.3 L93.0,1538.5 L93.7,1537.7 L94.5,1537.3 L95.2,1536.6 L96.0,1536.3 L96.7,1537.5 L97.5,1538.9 L98.2,1539.2 L99.0,1539.2 L99.7,1539.7 L100.5,1540.3 L101.2,1540.3 L102.0,1540.4 L102.7,1542.5 L103.5,1544.0 L104.2,1544.1 L105.0,1543.1 L105.7,1542.7 L106.5,1543.6 L107.2,1544.6 L108.0,1544.9 L108.7,1544.5 L109.5,1544.9 L110.2,1546.1 L111.0,1547.4 L111.7,1548.1 L112.5,1547.9 L113.2,1547.2 L114.0,1546.5 L114.7,1546.1 L115.5,1545.7 L116.2,1545.5 L117.0,1545.1 L117.7,1545.1 L118.5,1545.8 L119.2,1545.5 L120.0,1545.0 L120.7,1544.6 L121.5,1543.5 L122.2,1542.4 L123.0,1542.7 L123.7,1542.5 L124.5,1543.2 L125.2,1542.4 L126.0,1541.3 L126.7,1540.5 L127.5,1540.2 L128.2,1540.5 L128.9,1541.4 L129.7,1541.5 L130.4,1541.0 L131.2,1541.7 L131.9,1542.9 L132.7,1543.2 L133.4,1542.8 L134.2,1542.1 L134.9,1542.1 L135.7,1542.6 L136.4,1543.5 L137.2,1543.7 L137.9,1543.8 L138.7,1544.3 L139.4,1544.5 L140.2,1544.7 L140.9,1543.4 L141.7,1542.2 L142.4,1540.9 L143.2,1538.8 L143.9,1537.5 L144.7,1535.9 L145.4,1533.8 L146.2,1531.7 L146.9,1529.6 L147.7,1528.3 L148.4,1526.9 L149.2,1525.6 L149.9,1525.9 L150.7,1524.9 L151.4,1522.9 L152.2,1520.2 L152.9,1517.4 L153.7,1517.4 L154.4,1515.5 L155.2,1512.7 L155.9,1513.1 L156.7,1512.1 L157.4,1512.1 L158.2,1510.2 L158.9,1507.5 L159.7,1506.8 L160.4,1507.9 L161.2,1512.6 L161.9,1513.4 L162.7,1516.3 L163.4,1522.0 L164.2,1526.4 L164.9,1528.2 L165.7,1530.7 L166.4,1532.8 L167.2,1534.6 L167.9,1536.7 L168.7,1540.7 L169.4,1544.1 L170.2,1545.6 L170.9,1545.3 L171.7,1545.2 L172.4,1545.7 L173.2,1546.3 L173.9,1546.9 L174.7,1548.2 L175.4,1548.6 L176.2,1548.3 L176.9,1547.9 L177.7,1547.4 L178.4,1546.3 L179.2,1546.2 L179.9,1546.5 L180.7,1545.9 L181.4,1544.4 L182.2,1543.0 L182.9,1541.6 L183.7,1541.1 L184.4,1542.6 L185.2,1544.5 L185.9,1545.6 L186.7,1545.3 L187.4,1545.9 L188.2,1546.6 L188.9,1547.2 L189.7,1547.3 L190.4,1547.4 L191.2,1548.3 L191.9,1549.3 L192.7,1550.5 L193.4,1551.2 L194.2,1551.4 L194.9,1551.5 L195.7,1551.8 L196.4,1552.6 L197.2,1553.5 L197.9,1554.4 L198.7,1554.9 L199.4,1555.2 L200.2,1555.2 L200.9,1555.2 L201.7,1555.6 L202.4,1555.8 L203.2,1556.1 L203.9,1556.2 L204.7,1556.2 L205.4,1556.3 L206.2,1556.3 L206.9,1556.3 L207.7,1556.3 L208.4,1556.3 L209.2,1556.4 L209.9,1556.3 L210.7,1556.2 L211.4,1556.0 L212.2,1556.1 L212.9,1556.1 L213.7,1556.1 L214.4,1556.0 L215.2,1556.1 L215.9,1556.1 L216.7,1556.1 L217.4,1556.1 L218.2,1556.1 L218.9,1556.2 L219.7,1556.4 L220.4,1556.3 L221.2,1556.2 L221.9,1556.1 L222.7,1556.3 L223.4,1556.3 L224.2,1556.3 L224.9,1556.4 L225.7,1556.5 L226.4,1556.4 L227.2,1556.5 L227.9,1556.5 L228.7,1556.5 L229.4,1556.4 L230.2,1556.4 L230.9,1556.4 L231.7,1556.5 L232.4,1556.6 L233.2,1556.6 L233.9,1556.6 L234.7,1556.6 L235.4,1556.6 L236.2,1556.5 L236.9,1556.5 L237.7,1556.6 L238.4,1556.6 L239.2,1556.6 L239.9,1556.5 L240.7,1556.5 L241.4,1556.4 L242.2,1556.4 L242.9,1556.5 L243.7,1556.6 L244.4,1556.6 L245.2,1556.5 L245.9,1556.6 L246.7,1556.6 L247.4,1556.6 L248.2,1556.5 L248.9,1556.4 L249.7,1556.5 L250.4,1556.6 L251.2,1556.7 L251.9,1556.7 L252.7,1556.6 L253.4,1556.4 L254.2,1556.4 L254.9,1556.5 L255.7,1556.5 L256.4,1556.5 L257.2,1556.4 L257.9,1556.4 L258.7,1556.4 L259.4,1556.3 L260.2,1556.3 L260.9,1556.3 L261.7,1556.3 L262.4,1556.1 L263.2,1556.2 L263.9,1556.2 L264.7,1555.9 L265.4,1555.8 L266.2,1556.0 L266.9,1556.0 L267.7,1555.9 L268.4,1555.8 L269.2,1555.9 L269.9,1555.8 L270.7,1555.8 L271.4,1555.8 L272.2,1555.9 L272.9,1555.9 L273.7,1556.0 L274.4,1555.9 L275.2,1555.8 L275.9,1555.8 L276.7,1555.7 L277.4,1555.6 L278.2,1555.5 L278.9,1555.5 L279.7,1555.5 L280.4,1555.5 L281.2,1555.5 L281.9,1555.5 L282.7,1555.4 L283.4,1555.3 L284.2,1555.1 L284.9,1555.1 L285.7,1555.3 L286.4,1555.4 L287.2,1555.4 L287.9,1555.2 L288.7,1555.1 L289.4,1555.3 L290.2,1555.4 L290.9,1555.3 L291.7,1555.5 L292.4,1555.7 L293.2,1555.8 L293.9,1555.8 L294.7,1555.8 L295.4,1555.8 L296.2,1555.8 L296.9,1555.8 L297.7,1555.7 L298.4,1555.7 L299.2,1555.9 L299.9,1555.8 L300.7,1555.6 L301.4,1555.7 L302.2,1555.8 L302.9,1555.9 L303.7,1555.8 L304.4,1555.8 L305.2,1555.9 L305.9,1555.4 L306.7,1555.0 L307.4,1554.7 L308.2,1554.4 L308.9,1553.7 L309.7,1552.9 L310.4,1552.3 L311.2,1551.6 L311.9,1551.2 L312.7,1551.1 L313.4,1550.7 L314.2,1550.6 L314.9,1550.6 L315.7,1550.6 L316.4,1550.5 L317.2,1550.2 L317.9,1549.7 L318.7,1549.6 L319.4,1549.0 L320.2,1548.5 L320.9,1547.8 L321.7,1547.2 L322.4,1546.6 L323.2,1547.0 L323.9,1547.7 L324.7,1547.2 L325.4,1546.8 L326.2,1545.8 L326.9,1544.3 L327.7,1544.3 L328.4,1544.7 L329.2,1544.2 L329.9,1543.2 L330.7,1542.8 L331.4,1541.7 L332.2,1539.6 L332.9,1537.9 L333.7,1538.2 L334.4,1539.1 L335.2,1537.0 L335.9,1534.8 L336.7,1532.9 L337.4,1532.2 L338.2,1534.2 L338.9,1533.1 L339.7,1531.4 L340.4,1531.2 L341.2,1528.4 L341.9,1527.4 L342.7,1527.5 L343.4,1527.6 L344.2,1525.3 L344.9,1523.4 L345.7,1523.1 L346.4,1522.5 L347.2,1522.2 L347.9,1522.7 L348.7,1521.7 L349.4,1520.4 L350.2,1518.7 L350.9,1518.4 L351.7,1522.0 L352.4,1521.6 L353.2,1520.4 L353.9,1523.4 L354.7,1524.8 L355.4,1523.5 L356.2,1523.1 L356.9,1523.6 L357.7,1523.2 L358.4,1523.9 L359.2,1524.9 L359.9,1525.1 L360.7,1525.2 L361.4,1529.6 L362.2,1532.6 L362.9,1531.8 L363.7,1533.6 L364.4,1534.9 L365.2,1536.5 L365.9,1540.2 L366.7,1542.5 L367.4,1544.0 L368.2,1545.0 L368.9,1546.0 L369.7,1531.8 L370.4,1518.2 L371.2,1521.0 L371.9,1521.6 L372.7,1538.6 L373.4,1544.6 L374.2,1539.6 L374.9,1534.7 L375.7,1530.4 L376.4,1527.0 L377.2,1525.0 L377.9,1523.4 L378.7,1522.7 L379.4,1520.4 L380.2,1517.0 L380.9,1514.3 L381.7,1513.4 L382.4,1511.1 L383.2,1509.5 L383.9,1506.9 L384.7,1505.6 L385.4,1509.5 L386.2,1509.7 L386.9,1508.4 L387.7,1505.9 L388.4,1496.7 L389.2,1487.5 L389.9,1484.1 L390.7,1479.2 L391.4,1472.7 L392.2,1470.6 L392.9,1472.0 L393.7,1470.6 L394.4,1474.6 L395.2,1480.1 L395.9,1482.5 L396.7,1484.4 L397.4,1482.0 L398.2,1475.7 L398.9,1466.8 L399.7,1464.4 L400.4,1470.6 L401.2,1469.1 L401.9,1466.9 L402.7,1461.5 L403.4,1462.6 L404.2,1464.8 L404.9,1458.3 L405.7,1459.6 L406.4,1463.2 L407.2,1465.7 L407.9,1464.5 L408.7,1462.4 L409.4,1464.3 L410.2,1465.4 L410.9,1465.4 L411.7,1466.6 L412.4,1474.8 L413.2,1478.7 L413.9,1473.7 L414.7,1473.2 L415.4,1472.9 L416.2,1476.9 L416.9,1481.5 L417.7,1480.7 L418.4,1479.7 L419.2,1486.7 L419.9,1498.5 L420.7,1506.2 L421.4,1508.6 L422.2,1510.9 L422.9,1510.4 L423.7,1509.8 L424.4,1510.3 L425.2,1514.0 L425.9,1519.5 L426.7,1522.5 L427.4,1522.7 L428.2,1522.9 L428.9,1522.8 L429.7,1522.5 L430.4,1526.4 L431.2,1531.3 L431.9,1533.4 L432.7,1535.8 L433.4,1538.1 L434.2,1540.0 L434.9,1542.4 L435.7,1545.2 L436.4,1547.9 L437.2,1550.9 L437.9,1553.1 L438.7,1552.9 L439.4,1553.1 L440.2,1553.2 L440.9,1553.4 L441.7,1553.4 L442.4,1553.5 L443.2,1553.6 L443.9,1553.6 L444.7,1553.5 L445.4,1553.6 L446.2,1553.5 L446.9,1553.4 L447.7,1553.7 L448.4,1553.9 L449.2,1554.0 L449.9,1554.1 L450.7,1554.3 L451.4,1554.7 L452.2,1554.9 L452.9,1555.1 L453.7,1554.9 L454.4,1554.5 L455.2,1554.5 L455.9,1554.8 L456.7,1555.1 L457.4,1555.2 L458.2,1554.8 L458.9,1554.4 L459.7,1554.7 L460.4,1554.9 L461.2,1555.0 L461.9,1555.1 L462.7,1555.0 L463.4,1554.8 L464.2,1554.7 L464.9,1554.5 L465.7,1554.4 L466.4,1554.4 L467.2,1554.4 L467.9,1554.1 L468.7,1554.0 L469.4,1554.4 L470.2,1554.3 L470.9,1553.8 L471.7,1553.5 L472.4,1553.2 L473.2,1552.9 L473.9,1552.5 L474.7,1552.2 L475.4,1551.9 L476.2,1551.5 L476.9,1551.6 L477.7,1551.7 L478.4,1551.4 L479.2,1551.2 L479.9,1551.3 L480.7,1551.5 L481.4,1551.8 L482.2,1552.2 L482.9,1553.1 L483.7,1553.5 L484.4,1553.7 L485.2,1553.7 L485.9,1553.6 L486.7,1553.8 L487.4,1554.1 L488.2,1554.2 L488.9,1554.3 L489.7,1554.5 L490.4,1554.5 L491.2,1554.6 L491.9,1554.8 L492.7,1555.0 L493.4,1555.1 L494.2,1555.2 L494.9,1555.5 L495.7,1555.7 L496.4,1555.8 L497.2,1555.8 L497.9,1555.9 L498.7,1555.9 L499.4,1555.8 L500.2,1555.8 L500.9,1555.9 L501.7,1555.9 L502.4,1555.9 L503.2,1555.9 L503.9,1556.0 L504.7,1556.1 L505.4,1556.0 L506.2,1556.1 L506.9,1556.2 L507.7,1556.1 L508.4,1556.1 L509.2,1556.1 L509.9,1556.1 L510.7,1556.1 L511.4,1555.9 L512.2,1555.9 L513.0,1556.0 L513.7,1556.1 L514.5,1556.3 L515.2,1556.3 L516.0,1556.3 L516.7,1556.3 L517.5,1556.1 L518.2,1556.1 L519.0,1556.3 L519.7,1556.3 L520.5,1556.2 L521.2,1556.2 L522.0,1556.3 L522.7,1556.2 L523.5,1556.2 L524.2,1556.4 L525.0,1556.4 L525.7,1556.3 L526.5,1556.3 L527.2,1556.2 L528.0,1556.3 L528.7,1556.4 L529.5,1556.4 L530.2,1556.3 L531.0,1556.3 L531.7,1556.4 L532.5,1556.4 L533.2,1556.3 L534.0,1556.3 L534.7,1556.4 L535.5,1556.4 L536.2,1556.4 L537.0,1556.5 L537.7,1556.5 L538.5,1556.5 L539.2,1556.5 L540.0,1556.6 L540.7,1556.6 L541.5,1556.5 L542.2,1556.4 L543.0,1556.5 L543.7,1556.4 L544.5,1556.4 L545.2,1556.4 L546.0,1556.4 L546.7,1556.4 L547.5,1556.3 L548.2,1556.3 L549.0,1556.2 L549.7,1556.2 L550.5,1556.3 L551.2,1556.4 L552.0,1556.1 L552.7,1556.0 L553.5,1556.2 L554.2,1556.4 L555.0,1556.3 L555.7,1556.3 L556.5,1556.3 L557.2,1556.2 L558.0,1556.1 L558.7,1556.1 L559.5,1556.2 L560.2,1555.9 L561.0,1555.4 L561.7,1555.3 L562.5,1555.1 L563.2,1554.8 L564.0,1554.5 L564.7,1554.4 L565.5,1553.9 L566.2,1553.3 L566.2,1557.7 Z" fill="#0c3384" stroke="#0c3384" stroke-width="2.2" stroke-linejoin="round"/>
<rect x="81.7" y="1453.6" width="484.5" height="104.6" fill="none" stroke="#222" stroke-width="1.8"/>
<line x1="75.7" y1="1498.7" x2="81.7" y2="1498.7" stroke="#222" stroke-width="1.6"/>
<text x="66.7" y="1506.2" text-anchor="end">20</text>
<line x1="75.7" y1="1557.7" x2="81.7" y2="1557.7" stroke="#222" stroke-width="1.6"/>
<text x="66.7" y="1565.2" text-anchor="end">0</text>
<text x="91.4" y="1478.5">AUROC = 0.97</text>
<line x1="81.7" y1="1431.4" x2="81.7" y2="1441.0" stroke="#222" stroke-width="1.6"/>
<line x1="81.7" y1="1558.2" x2="81.7" y2="1568.5" stroke="#222" stroke-width="1.6"/>
<line x1="199.9" y1="1431.4" x2="199.9" y2="1441.0" stroke="#222" stroke-width="1.6"/>
<line x1="199.9" y1="1558.2" x2="199.9" y2="1568.5" stroke="#222" stroke-width="1.6"/>
<line x1="318.4" y1="1431.4" x2="318.4" y2="1441.0" stroke="#222" stroke-width="1.6"/>
<line x1="318.4" y1="1558.2" x2="318.4" y2="1568.5" stroke="#222" stroke-width="1.6"/>
<line x1="436.6" y1="1431.4" x2="436.6" y2="1441.0" stroke="#222" stroke-width="1.6"/>
<line x1="436.6" y1="1558.2" x2="436.6" y2="1568.5" stroke="#222" stroke-width="1.6"/>
<line x1="555.1" y1="1431.4" x2="555.1" y2="1441.0" stroke="#222" stroke-width="1.6"/>
<line x1="555.1" y1="1558.2" x2="555.1" y2="1568.5" stroke="#222" stroke-width="1.6"/>
<text x="82.5" y="1592.3" text-anchor="middle">0</text>
<text x="199.9" y="1592.3" text-anchor="middle">1000</text>
<text x="318.4" y="1592.3" text-anchor="middle">2000</text>
<text x="436.6" y="1592.3" text-anchor="middle">3000</text>
<text x="555.1" y="1592.3" text-anchor="middle">4000</text>
<text x="324.0" y="1623.3" text-anchor="middle">Position (bp)</text>
<text x="24.0" y="1378.5" text-anchor="middle" transform="rotate(-90 24.0 1378.5)">Coverage</text>
<text x="24.0" y="1506.0" text-anchor="middle" transform="rotate(-90 24.0 1506.0)">Coverage</text>
<rect x="261.6" y="1648.8" width="18.8" height="18.8" fill="#d9dde2"/>
<text x="292.1" y="1664.8">Designed peak</text>
<rect x="476.2" y="1648.8" width="19.4" height="18.8" fill="#e08585"/>
<text x="503.9" y="1664.8">HEK293T ATAC–seq</text>
<rect x="752.7" y="1648.8" width="19.4" height="18.8" fill="#0c3384"/>
<text x="781.8" y="1664.8">K562 ATAC–seq</text>
<text transform="translate(591.0 1311.0) scale(1.17 1)" font-size="33" font-weight="bold" fill="#000" stroke="#000" stroke-width="0.9">j</text>
<text x="907.8" y="1310.5" text-anchor="middle">Different patterns, different cell types</text>
<path d="M662.7,1429.5 L662.7,1400.3 L663.5,1401.9 L664.2,1403.3 L665.0,1402.0 L665.7,1400.0 L666.5,1401.8 L667.2,1403.8 L668.0,1403.4 L668.7,1402.6 L669.5,1401.7 L670.2,1401.0 L671.0,1403.2 L671.7,1404.2 L672.5,1401.7 L673.2,1401.5 L674.0,1402.7 L674.7,1404.2 L675.5,1403.8 L676.2,1402.2 L677.0,1404.0 L677.7,1404.5 L678.5,1403.2 L679.2,1400.7 L680.0,1401.2 L680.7,1402.2 L681.5,1400.1 L682.2,1399.0 L683.0,1401.5 L683.7,1401.7 L684.5,1399.4 L685.2,1399.1 L686.0,1400.4 L686.7,1399.9 L687.5,1398.3 L688.2,1398.0 L689.0,1399.5 L689.7,1397.8 L690.5,1395.8 L691.2,1396.3 L692.0,1400.4 L692.7,1400.4 L693.5,1398.3 L694.2,1397.2 L695.0,1399.6 L695.7,1400.0 L696.5,1398.5 L697.2,1397.8 L698.0,1398.7 L698.7,1399.3 L699.5,1397.2 L700.2,1397.9 L701.0,1397.3 L701.7,1396.7 L702.5,1397.8 L703.2,1399.0 L704.0,1400.9 L704.7,1401.2 L705.5,1402.2 L706.2,1403.9 L707.0,1404.5 L707.7,1404.5 L708.5,1404.4 L709.2,1407.0 L710.0,1408.7 L710.7,1407.7 L711.5,1405.1 L712.2,1401.3 L713.0,1400.7 L713.7,1402.6 L714.5,1402.7 L715.2,1400.8 L716.0,1402.9 L716.7,1405.7 L717.5,1406.0 L718.2,1406.3 L719.0,1404.8 L719.7,1405.4 L720.5,1407.5 L721.2,1408.7 L722.0,1408.8 L722.7,1406.5 L723.5,1406.8 L724.2,1407.3 L725.0,1408.1 L725.7,1410.4 L726.5,1411.8 L727.2,1411.6 L728.0,1410.9 L728.7,1410.9 L729.5,1409.8 L730.2,1408.2 L731.0,1407.8 L731.7,1408.4 L732.5,1408.9 L733.2,1408.1 L734.0,1406.5 L734.7,1405.7 L735.5,1406.5 L736.2,1407.8 L737.0,1407.7 L737.7,1407.1 L738.5,1407.0 L739.2,1407.9 L740.0,1407.4 L740.7,1407.8 L741.5,1407.8 L742.2,1406.2 L743.0,1407.6 L743.7,1410.7 L744.5,1410.3 L745.2,1409.0 L746.0,1409.2 L746.7,1410.6 L747.5,1410.2 L748.2,1410.4 L749.0,1410.9 L749.7,1410.5 L750.5,1411.0 L751.2,1411.3 L752.0,1411.2 L752.7,1409.9 L753.5,1409.5 L754.2,1410.3 L755.0,1410.8 L755.7,1410.1 L756.5,1409.7 L757.2,1409.9 L758.0,1410.1 L758.7,1409.9 L759.5,1410.8 L760.2,1410.7 L761.0,1410.2 L761.7,1411.5 L762.5,1411.5 L763.2,1411.3 L764.0,1412.4 L764.7,1413.3 L765.5,1413.6 L766.2,1413.8 L767.0,1412.3 L767.7,1411.2 L768.5,1409.9 L769.2,1409.1 L770.0,1410.1 L770.7,1410.6 L771.5,1410.7 L772.2,1411.9 L773.0,1412.9 L773.7,1412.3 L774.5,1411.2 L775.2,1411.0 L776.0,1411.2 L776.7,1411.5 L777.5,1411.2 L778.2,1411.3 L779.0,1411.8 L779.7,1412.8 L780.5,1412.8 L781.2,1411.6 L782.0,1410.6 L782.7,1411.2 L783.5,1410.7 L784.2,1409.8 L785.0,1410.7 L785.7,1412.3 L786.5,1413.2 L787.2,1411.8 L788.0,1410.6 L788.7,1411.7 L789.5,1411.9 L790.2,1411.5 L791.0,1411.6 L791.7,1412.1 L792.5,1411.3 L793.2,1411.8 L794.0,1414.1 L794.7,1415.2 L795.5,1413.2 L796.2,1412.5 L797.0,1413.3 L797.7,1414.7 L798.5,1414.4 L799.2,1413.6 L800.0,1413.1 L800.7,1412.8 L801.5,1412.7 L802.2,1413.8 L803.0,1413.6 L803.7,1411.7 L804.5,1410.6 L805.2,1411.7 L806.0,1411.3 L806.7,1409.5 L807.5,1410.1 L808.2,1410.0 L809.0,1410.0 L809.7,1411.5 L810.5,1411.7 L811.2,1411.7 L812.0,1412.5 L812.7,1413.4 L813.5,1413.8 L814.2,1413.4 L815.0,1413.3 L815.7,1414.7 L816.5,1413.9 L817.2,1413.4 L818.0,1413.5 L818.7,1413.6 L819.5,1413.5 L820.2,1413.8 L821.0,1414.6 L821.7,1412.9 L822.5,1411.9 L823.2,1412.3 L824.0,1412.0 L824.7,1410.4 L825.5,1408.8 L826.2,1408.7 L827.0,1410.1 L827.7,1411.5 L828.5,1410.1 L829.2,1410.4 L830.0,1411.3 L830.7,1410.5 L831.5,1410.6 L832.2,1412.1 L833.0,1411.7 L833.7,1411.9 L834.5,1412.0 L835.2,1411.7 L836.0,1411.1 L836.7,1411.4 L837.5,1412.2 L838.2,1412.2 L839.0,1411.3 L839.7,1410.5 L840.5,1410.7 L841.2,1409.7 L842.0,1409.3 L842.7,1410.9 L843.5,1412.4 L844.2,1410.7 L845.0,1409.1 L845.7,1408.6 L846.5,1408.5 L847.2,1407.9 L848.0,1408.2 L848.7,1409.5 L849.5,1409.3 L850.2,1408.6 L851.0,1409.2 L851.7,1409.1 L852.5,1409.0 L853.2,1410.4 L854.0,1409.5 L854.7,1410.6 L855.5,1411.9 L856.2,1410.1 L857.0,1409.5 L857.7,1410.8 L858.5,1411.1 L859.2,1411.3 L860.0,1412.3 L860.7,1412.0 L861.5,1411.8 L862.2,1412.5 L863.0,1412.8 L863.7,1413.4 L864.5,1413.5 L865.2,1412.8 L866.0,1412.1 L866.7,1412.0 L867.5,1411.6 L868.2,1411.2 L869.0,1411.4 L869.7,1412.1 L870.5,1412.3 L871.2,1411.7 L872.0,1409.5 L872.7,1409.4 L873.5,1410.6 L874.2,1410.8 L875.0,1410.8 L875.7,1412.0 L876.5,1412.5 L877.2,1412.4 L878.0,1411.3 L878.7,1410.3 L879.5,1410.6 L880.2,1410.1 L881.0,1410.6 L881.7,1411.4 L882.5,1411.7 L883.2,1412.7 L884.0,1412.4 L884.7,1411.3 L885.5,1410.5 L886.2,1411.9 L887.0,1413.1 L887.7,1414.2 L888.5,1414.0 L889.2,1412.2 L890.0,1411.1 L890.7,1412.1 L891.5,1414.4 L892.2,1415.1 L893.0,1414.8 L893.7,1413.5 L894.5,1412.3 L895.2,1412.4 L896.0,1413.2 L896.7,1414.6 L897.5,1417.0 L898.2,1417.9 L899.0,1416.5 L899.7,1416.1 L900.5,1415.5 L901.2,1414.9 L902.0,1413.9 L902.7,1414.0 L903.5,1413.8 L904.2,1412.7 L905.0,1411.9 L905.7,1412.3 L906.5,1412.9 L907.2,1414.9 L908.0,1416.1 L908.7,1415.9 L909.5,1415.6 L910.2,1415.6 L911.0,1416.3 L911.7,1417.1 L912.5,1417.2 L913.2,1416.1 L914.0,1415.9 L914.7,1415.5 L915.5,1414.7 L916.2,1414.4 L917.0,1415.8 L917.7,1415.5 L918.5,1415.3 L919.2,1417.0 L920.0,1416.9 L920.7,1416.3 L921.5,1416.6 L922.2,1417.1 L923.0,1417.0 L923.7,1417.3 L924.5,1416.8 L925.2,1417.5 L926.0,1417.8 L926.7,1416.8 L927.5,1416.6 L928.2,1416.5 L929.0,1416.4 L929.7,1417.0 L930.5,1417.0 L931.2,1416.3 L932.0,1415.7 L932.7,1416.4 L933.5,1416.8 L934.2,1416.5 L935.0,1417.4 L935.7,1417.9 L936.5,1417.9 L937.2,1417.7 L938.0,1417.5 L938.7,1417.7 L939.5,1418.5 L940.2,1418.5 L941.0,1417.7 L941.7,1417.9 L942.5,1418.7 L943.2,1418.7 L944.0,1419.0 L944.7,1419.2 L945.5,1419.0 L946.2,1419.0 L947.0,1419.0 L947.7,1418.6 L948.5,1418.4 L949.2,1418.0 L950.0,1417.9 L950.7,1417.9 L951.5,1417.6 L952.2,1417.4 L953.0,1417.7 L953.7,1418.1 L954.5,1418.2 L955.2,1417.4 L956.0,1416.6 L956.7,1416.8 L957.5,1417.0 L958.2,1417.3 L959.0,1417.1 L959.7,1416.2 L960.5,1414.9 L961.2,1414.6 L962.0,1414.9 L962.7,1415.1 L963.5,1414.9 L964.2,1414.5 L965.0,1415.0 L965.7,1415.6 L966.5,1415.2 L967.2,1415.3 L968.0,1416.3 L968.7,1416.2 L969.5,1414.7 L970.2,1413.7 L971.0,1413.1 L971.7,1412.5 L972.5,1412.1 L973.2,1412.5 L974.0,1413.7 L974.7,1413.0 L975.5,1411.8 L976.2,1412.3 L977.0,1413.6 L977.7,1413.4 L978.5,1413.5 L979.2,1414.4 L980.0,1415.1 L980.7,1414.4 L981.5,1413.7 L982.2,1414.4 L983.0,1414.9 L983.7,1414.7 L984.5,1414.3 L985.2,1415.5 L986.0,1417.6 L986.7,1418.2 L987.5,1417.1 L988.2,1416.7 L989.0,1416.1 L989.7,1414.7 L990.5,1414.4 L991.2,1414.8 L992.0,1414.4 L992.7,1414.3 L993.5,1415.2 L994.2,1416.2 L995.0,1416.3 L995.7,1414.9 L996.5,1414.4 L997.2,1415.6 L998.0,1416.1 L998.7,1416.1 L999.5,1415.8 L1000.2,1416.0 L1001.0,1416.0 L1001.7,1416.2 L1002.5,1414.8 L1003.2,1414.8 L1004.0,1416.1 L1004.7,1416.9 L1005.5,1416.8 L1006.2,1416.3 L1007.0,1416.4 L1007.7,1417.1 L1008.5,1417.4 L1009.2,1417.5 L1010.0,1417.5 L1010.7,1417.2 L1011.5,1416.0 L1012.2,1415.7 L1013.0,1416.2 L1013.7,1416.5 L1014.5,1416.8 L1015.2,1417.1 L1016.0,1417.9 L1016.7,1417.4 L1017.5,1417.1 L1018.2,1417.5 L1019.0,1417.9 L1019.7,1417.8 L1020.5,1417.6 L1021.2,1417.7 L1022.0,1419.2 L1022.7,1419.7 L1023.5,1418.7 L1024.2,1418.2 L1025.0,1418.3 L1025.7,1417.9 L1026.5,1417.0 L1027.2,1417.0 L1028.0,1417.8 L1028.7,1417.9 L1029.5,1418.4 L1030.2,1419.0 L1031.0,1419.7 L1031.7,1419.8 L1032.5,1419.6 L1033.2,1420.1 L1034.0,1419.9 L1034.7,1419.8 L1035.5,1420.3 L1036.2,1420.6 L1037.0,1420.3 L1037.7,1419.7 L1038.5,1419.9 L1039.2,1420.3 L1040.0,1420.3 L1040.7,1419.9 L1041.5,1419.9 L1042.2,1420.3 L1043.0,1420.8 L1043.7,1421.0 L1044.5,1421.0 L1045.2,1420.9 L1046.0,1421.5 L1046.7,1422.2 L1047.5,1422.0 L1048.2,1421.7 L1049.0,1421.4 L1049.7,1421.8 L1050.5,1422.2 L1051.2,1422.4 L1052.0,1422.5 L1052.7,1422.5 L1053.5,1422.3 L1054.2,1422.0 L1055.0,1421.7 L1055.7,1422.0 L1056.5,1422.5 L1057.2,1423.1 L1058.0,1423.1 L1058.7,1423.6 L1059.5,1423.5 L1060.2,1423.3 L1061.0,1423.8 L1061.7,1423.9 L1062.5,1423.4 L1063.2,1423.7 L1064.0,1424.0 L1064.7,1423.8 L1065.5,1423.9 L1066.2,1424.6 L1067.0,1425.0 L1067.7,1425.5 L1068.5,1425.5 L1069.2,1425.1 L1070.0,1424.7 L1070.7,1424.5 L1071.5,1424.3 L1072.2,1424.8 L1073.0,1425.4 L1073.7,1425.0 L1074.5,1424.4 L1075.2,1424.4 L1076.0,1424.5 L1076.7,1424.5 L1077.5,1424.6 L1078.2,1425.0 L1079.0,1425.5 L1079.7,1425.5 L1080.5,1425.6 L1081.2,1425.4 L1082.0,1424.8 L1082.7,1424.7 L1083.5,1424.6 L1084.2,1424.5 L1085.0,1424.8 L1085.7,1424.9 L1086.5,1424.6 L1087.2,1424.4 L1088.0,1424.4 L1088.7,1424.0 L1089.5,1423.7 L1090.2,1423.8 L1091.0,1423.6 L1091.7,1423.3 L1092.5,1422.7 L1093.2,1421.9 L1094.0,1421.3 L1094.7,1420.9 L1095.5,1420.5 L1096.2,1419.5 L1097.0,1419.0 L1097.7,1419.1 L1098.5,1418.5 L1099.2,1418.1 L1100.0,1418.9 L1100.7,1419.3 L1101.5,1418.6 L1102.2,1418.7 L1103.0,1420.0 L1103.7,1420.2 L1104.5,1418.6 L1105.2,1416.9 L1106.0,1416.8 L1106.7,1417.5 L1107.5,1418.6 L1108.2,1419.0 L1109.0,1419.3 L1109.7,1418.8 L1110.5,1417.8 L1111.2,1417.6 L1112.0,1417.8 L1112.7,1417.9 L1113.5,1417.7 L1114.2,1417.6 L1115.0,1417.5 L1115.7,1416.7 L1116.5,1416.1 L1117.2,1415.7 L1118.0,1416.7 L1118.7,1416.1 L1119.5,1415.4 L1120.2,1414.9 L1121.0,1415.1 L1121.7,1415.2 L1122.5,1414.4 L1123.2,1413.7 L1124.0,1413.5 L1124.7,1413.3 L1125.5,1413.6 L1126.2,1413.8 L1127.0,1414.6 L1127.7,1414.5 L1128.5,1414.0 L1129.2,1414.8 L1130.0,1414.9 L1130.7,1414.4 L1131.5,1414.3 L1132.2,1413.5 L1133.0,1414.0 L1133.7,1415.4 L1134.5,1415.3 L1135.2,1415.5 L1136.0,1415.6 L1136.7,1415.7 L1137.5,1416.0 L1138.2,1416.3 L1139.0,1417.4 L1139.7,1418.0 L1140.5,1416.9 L1141.2,1416.5 L1142.0,1416.6 L1142.7,1416.2 L1143.5,1415.8 L1144.2,1415.0 L1145.0,1414.9 L1145.7,1414.0 L1146.5,1413.0 L1147.2,1413.1 L1148.0,1414.3 L1148.7,1413.8 L1149.5,1413.5 L1150.2,1415.3 L1151.0,1416.1 L1151.7,1416.2 L1152.5,1415.8 L1152.5,1429.5 Z" fill="#e08585" stroke="#e08585" stroke-width="2.2" stroke-linejoin="round"/>
<rect x="662.7" y="1324.3" width="490.1" height="105.7" fill="none" stroke="#222" stroke-width="1.8"/>
<line x1="656.7" y1="1331.2" x2="662.7" y2="1331.2" stroke="#222" stroke-width="1.6"/>
<text x="647.7" y="1338.7" text-anchor="end">20</text>
<line x1="656.7" y1="1429.5" x2="662.7" y2="1429.5" stroke="#222" stroke-width="1.6"/>
<text x="647.7" y="1437.0" text-anchor="end">0</text>
<rect x="662.7" y="1452.6" width="246.4" height="103.8" fill="#e2e5eb"/>
<path d="M662.7,1557.0 L662.7,1527.7 L663.5,1526.5 L664.2,1525.6 L665.0,1525.9 L665.7,1526.9 L666.5,1527.7 L667.2,1526.3 L668.0,1525.4 L668.7,1523.3 L669.5,1523.3 L670.2,1525.1 L671.0,1523.3 L671.7,1524.1 L672.5,1524.9 L673.2,1523.1 L674.0,1520.8 L674.7,1518.1 L675.5,1517.9 L676.2,1523.4 L677.0,1524.8 L677.7,1524.2 L678.5,1526.4 L679.2,1528.1 L680.0,1526.4 L680.7,1523.9 L681.5,1522.6 L682.2,1521.6 L683.0,1518.9 L683.7,1518.3 L684.5,1518.6 L685.2,1521.6 L686.0,1521.5 L686.7,1513.9 L687.5,1509.0 L688.2,1507.0 L689.0,1507.1 L689.7,1507.7 L690.5,1506.4 L691.2,1504.9 L692.0,1507.3 L692.7,1507.6 L693.5,1505.8 L694.2,1502.3 L695.0,1499.4 L695.7,1500.3 L696.5,1497.3 L697.2,1499.7 L698.0,1502.2 L698.7,1501.1 L699.5,1496.1 L700.2,1494.7 L701.0,1499.8 L701.7,1501.0 L702.5,1501.2 L703.2,1502.5 L704.0,1501.9 L704.7,1497.2 L705.5,1494.2 L706.2,1495.1 L707.0,1496.4 L707.7,1494.2 L708.5,1491.9 L709.2,1492.3 L710.0,1493.3 L710.7,1495.4 L711.5,1494.4 L712.2,1495.3 L713.0,1498.3 L713.7,1498.7 L714.5,1497.8 L715.2,1495.2 L716.0,1493.6 L716.7,1492.4 L717.5,1492.3 L718.2,1492.5 L719.0,1492.0 L719.7,1494.8 L720.5,1497.2 L721.2,1501.9 L722.0,1499.3 L722.7,1493.9 L723.5,1494.0 L724.2,1495.5 L725.0,1499.8 L725.7,1502.5 L726.5,1500.4 L727.2,1496.3 L728.0,1492.4 L728.7,1485.0 L729.5,1482.6 L730.2,1487.5 L731.0,1492.8 L731.7,1492.3 L732.5,1492.2 L733.2,1491.8 L734.0,1489.7 L734.7,1487.8 L735.5,1487.6 L736.2,1489.7 L737.0,1493.3 L737.7,1489.3 L738.5,1483.0 L739.2,1483.3 L740.0,1486.4 L740.7,1483.2 L741.5,1482.7 L742.2,1485.0 L743.0,1481.8 L743.7,1479.2 L744.5,1478.2 L745.2,1476.7 L746.0,1481.9 L746.7,1482.3 L747.5,1479.9 L748.2,1479.7 L749.0,1479.9 L749.7,1475.3 L750.5,1468.5 L751.2,1460.4 L752.0,1461.8 L752.7,1465.8 L753.5,1466.0 L754.2,1470.2 L755.0,1466.5 L755.7,1464.8 L756.5,1471.8 L757.2,1467.4 L758.0,1467.3 L758.7,1471.2 L759.5,1471.2 L760.2,1473.2 L761.0,1468.0 L761.7,1464.6 L762.5,1463.5 L763.2,1465.7 L764.0,1460.1 L764.7,1459.1 L765.5,1461.1 L766.2,1459.1 L767.0,1459.1 L767.7,1459.1 L768.5,1459.1 L769.2,1459.1 L770.0,1459.1 L770.7,1459.1 L771.5,1459.1 L772.2,1462.8 L773.0,1470.8 L773.7,1468.5 L774.5,1465.5 L775.2,1467.2 L776.0,1473.0 L776.7,1465.6 L777.5,1459.3 L778.2,1462.0 L779.0,1459.9 L779.7,1459.6 L780.5,1462.5 L781.2,1461.5 L782.0,1463.2 L782.7,1471.0 L783.5,1469.1 L784.2,1469.8 L785.0,1471.5 L785.7,1473.6 L786.5,1472.6 L787.2,1468.2 L788.0,1469.1 L788.7,1474.3 L789.5,1477.1 L790.2,1470.2 L791.0,1463.3 L791.7,1461.7 L792.5,1469.3 L793.2,1472.5 L794.0,1478.3 L794.7,1486.4 L795.5,1481.9 L796.2,1476.7 L797.0,1476.0 L797.7,1471.8 L798.5,1475.1 L799.2,1479.2 L800.0,1478.3 L800.7,1479.8 L801.5,1478.2 L802.2,1479.2 L803.0,1482.0 L803.7,1485.5 L804.5,1484.5 L805.2,1482.5 L806.0,1481.2 L806.7,1477.2 L807.5,1474.6 L808.2,1480.5 L809.0,1483.2 L809.7,1480.2 L810.5,1479.2 L811.2,1476.9 L812.0,1482.1 L812.7,1485.2 L813.5,1484.1 L814.2,1486.2 L815.0,1483.9 L815.7,1482.0 L816.5,1485.8 L817.2,1482.7 L818.0,1480.7 L818.7,1477.7 L819.5,1474.0 L820.2,1473.7 L821.0,1473.4 L821.7,1472.5 L822.5,1467.1 L823.2,1469.9 L824.0,1474.4 L824.7,1468.9 L825.5,1471.5 L826.2,1473.3 L827.0,1479.8 L827.7,1481.1 L828.5,1482.2 L829.2,1487.6 L830.0,1488.7 L830.7,1490.6 L831.5,1492.4 L832.2,1484.0 L833.0,1482.8 L833.7,1481.7 L834.5,1479.1 L835.2,1476.8 L836.0,1479.8 L836.7,1482.9 L837.5,1483.2 L838.2,1488.4 L839.0,1488.2 L839.7,1491.3 L840.5,1488.9 L841.2,1490.2 L842.0,1495.3 L842.7,1498.8 L843.5,1500.0 L844.2,1500.5 L845.0,1497.4 L845.7,1495.8 L846.5,1497.4 L847.2,1502.6 L848.0,1504.4 L848.7,1505.6 L849.5,1508.1 L850.2,1504.9 L851.0,1497.3 L851.7,1494.4 L852.5,1498.8 L853.2,1500.1 L854.0,1499.2 L854.7,1503.7 L855.5,1504.1 L856.2,1506.7 L857.0,1505.0 L857.7,1503.8 L858.5,1503.6 L859.2,1505.4 L860.0,1507.9 L860.7,1509.1 L861.5,1508.5 L862.2,1507.8 L863.0,1510.7 L863.7,1511.1 L864.5,1514.7 L865.2,1517.4 L866.0,1517.2 L866.7,1522.6 L867.5,1526.0 L868.2,1526.4 L869.0,1527.2 L869.7,1528.5 L870.5,1530.1 L871.2,1532.1 L872.0,1532.8 L872.7,1533.7 L873.5,1535.0 L874.2,1534.8 L875.0,1535.2 L875.7,1534.2 L876.5,1533.9 L877.2,1532.6 L878.0,1530.2 L878.7,1529.3 L879.5,1530.0 L880.2,1532.4 L881.0,1531.9 L881.7,1532.2 L882.5,1535.5 L883.2,1537.3 L884.0,1537.5 L884.7,1538.0 L885.5,1538.9 L886.2,1538.9 L887.0,1540.7 L887.7,1542.3 L888.5,1540.6 L889.2,1539.8 L890.0,1539.6 L890.7,1539.5 L891.5,1541.0 L892.2,1542.1 L893.0,1542.7 L893.7,1543.7 L894.5,1544.3 L895.2,1544.7 L896.0,1545.0 L896.7,1545.9 L897.5,1546.8 L898.2,1547.0 L899.0,1546.4 L899.7,1546.7 L900.5,1547.0 L901.2,1547.1 L902.0,1547.7 L902.7,1548.4 L903.5,1548.2 L904.2,1548.0 L905.0,1549.1 L905.7,1549.4 L906.5,1549.1 L907.2,1549.2 L908.0,1549.7 L908.7,1550.6 L909.5,1550.9 L910.2,1550.8 L911.0,1550.7 L911.7,1550.4 L912.5,1550.7 L913.2,1551.0 L914.0,1550.7 L914.7,1550.3 L915.5,1550.1 L916.2,1550.5 L917.0,1550.9 L917.7,1550.9 L918.5,1551.0 L919.2,1551.0 L920.0,1550.9 L920.7,1551.4 L921.5,1551.7 L922.2,1551.3 L923.0,1551.4 L923.7,1551.9 L924.5,1551.9 L925.2,1552.0 L926.0,1552.0 L926.7,1551.9 L927.5,1551.9 L928.2,1551.8 L929.0,1551.9 L929.7,1552.1 L930.5,1552.0 L931.2,1551.9 L932.0,1552.0 L932.7,1551.9 L933.5,1551.7 L934.2,1551.9 L935.0,1552.3 L935.7,1552.2 L936.5,1552.2 L937.2,1551.8 L938.0,1551.4 L938.7,1551.4 L939.5,1551.7 L940.2,1552.0 L941.0,1551.9 L941.7,1551.8 L942.5,1551.6 L943.2,1551.6 L944.0,1551.8 L944.7,1552.3 L945.5,1552.6 L946.2,1552.4 L947.0,1552.1 L947.7,1551.8 L948.5,1551.9 L949.2,1552.2 L950.0,1552.5 L950.7,1552.6 L951.5,1552.4 L952.2,1551.6 L953.0,1551.4 L953.7,1551.8 L954.5,1552.1 L955.2,1552.3 L956.0,1552.6 L956.7,1552.8 L957.5,1552.6 L958.2,1552.4 L959.0,1552.2 L959.7,1552.2 L960.5,1552.1 L961.2,1552.0 L962.0,1552.0 L962.7,1552.1 L963.5,1552.3 L964.2,1552.4 L965.0,1552.3 L965.7,1552.4 L966.5,1552.4 L967.2,1552.4 L968.0,1552.3 L968.7,1552.3 L969.5,1552.3 L970.2,1552.4 L971.0,1552.5 L971.7,1552.5 L972.5,1552.6 L973.2,1552.2 L974.0,1551.8 L974.7,1551.7 L975.5,1551.9 L976.2,1552.2 L977.0,1552.6 L977.7,1552.7 L978.5,1552.8 L979.2,1552.8 L980.0,1552.9 L980.7,1553.4 L981.5,1553.6 L982.2,1553.4 L983.0,1553.5 L983.7,1553.5 L984.5,1553.9 L985.2,1553.9 L986.0,1553.6 L986.7,1553.6 L987.5,1553.9 L988.2,1553.8 L989.0,1553.7 L989.7,1554.0 L990.5,1554.1 L991.2,1553.9 L992.0,1553.6 L992.7,1553.5 L993.5,1553.7 L994.2,1553.9 L995.0,1554.2 L995.7,1554.4 L996.5,1554.5 L997.2,1554.6 L998.0,1554.5 L998.7,1554.5 L999.5,1554.7 L1000.2,1554.7 L1001.0,1554.6 L1001.7,1554.7 L1002.5,1554.8 L1003.2,1554.7 L1004.0,1554.5 L1004.7,1554.5 L1005.5,1554.6 L1006.2,1554.7 L1007.0,1554.7 L1007.7,1554.6 L1008.5,1554.7 L1009.2,1555.0 L1010.0,1555.0 L1010.7,1555.0 L1011.5,1555.0 L1012.2,1554.9 L1013.0,1554.8 L1013.7,1554.7 L1014.5,1554.7 L1015.2,1554.6 L1016.0,1554.6 L1016.7,1554.7 L1017.5,1554.8 L1018.2,1554.9 L1019.0,1554.7 L1019.7,1554.5 L1020.5,1554.4 L1021.2,1554.4 L1022.0,1554.3 L1022.7,1554.4 L1023.5,1554.5 L1024.2,1554.4 L1025.0,1554.4 L1025.7,1554.7 L1026.5,1554.8 L1027.2,1554.8 L1028.0,1554.8 L1028.7,1554.8 L1029.5,1554.9 L1030.2,1554.9 L1031.0,1555.0 L1031.7,1555.1 L1032.5,1555.0 L1033.2,1554.7 L1034.0,1554.5 L1034.7,1554.5 L1035.5,1554.6 L1036.2,1554.9 L1037.0,1554.8 L1037.7,1554.7 L1038.5,1554.7 L1039.2,1554.8 L1040.0,1554.9 L1040.7,1555.0 L1041.5,1555.1 L1042.2,1555.2 L1043.0,1555.1 L1043.7,1555.0 L1044.5,1555.0 L1045.2,1555.0 L1046.0,1554.9 L1046.7,1555.0 L1047.5,1555.2 L1048.2,1555.1 L1049.0,1555.0 L1049.7,1555.0 L1050.5,1554.9 L1051.2,1555.1 L1052.0,1555.1 L1052.7,1555.2 L1053.5,1555.1 L1054.2,1555.2 L1055.0,1555.2 L1055.7,1555.0 L1056.5,1554.9 L1057.2,1554.9 L1058.0,1555.0 L1058.7,1555.2 L1059.5,1555.4 L1060.2,1555.3 L1061.0,1555.2 L1061.7,1555.3 L1062.5,1555.3 L1063.2,1555.3 L1064.0,1555.4 L1064.7,1555.2 L1065.5,1555.1 L1066.2,1555.1 L1067.0,1555.3 L1067.7,1555.3 L1068.5,1555.3 L1069.2,1555.3 L1070.0,1555.1 L1070.7,1555.0 L1071.5,1555.2 L1072.2,1555.3 L1073.0,1555.4 L1073.7,1555.5 L1074.5,1555.5 L1075.2,1555.3 L1076.0,1555.3 L1076.7,1555.3 L1077.5,1555.4 L1078.2,1555.5 L1079.0,1555.4 L1079.7,1555.4 L1080.5,1555.4 L1081.2,1555.3 L1082.0,1555.2 L1082.7,1555.3 L1083.5,1555.4 L1084.2,1555.4 L1085.0,1555.4 L1085.7,1555.4 L1086.5,1555.6 L1087.2,1555.6 L1088.0,1555.5 L1088.7,1555.4 L1089.5,1555.3 L1090.2,1555.4 L1091.0,1555.5 L1091.7,1555.6 L1092.5,1555.5 L1093.2,1555.4 L1094.0,1555.4 L1094.7,1555.5 L1095.5,1555.5 L1096.2,1555.4 L1097.0,1555.5 L1097.7,1555.4 L1098.5,1555.4 L1099.2,1555.5 L1100.0,1555.5 L1100.7,1555.4 L1101.5,1555.5 L1102.2,1555.5 L1103.0,1555.5 L1103.7,1555.5 L1104.5,1555.5 L1105.2,1555.6 L1106.0,1555.5 L1106.7,1555.5 L1107.5,1555.6 L1108.2,1555.7 L1109.0,1555.6 L1109.7,1555.6 L1110.5,1555.7 L1111.2,1555.7 L1112.0,1555.6 L1112.7,1555.6 L1113.5,1555.7 L1114.2,1555.8 L1115.0,1555.7 L1115.7,1555.6 L1116.5,1555.5 L1117.2,1555.6 L1118.0,1555.6 L1118.7,1555.6 L1119.5,1555.5 L1120.2,1555.5 L1121.0,1555.5 L1121.7,1555.6 L1122.5,1555.7 L1123.2,1555.7 L1124.0,1555.6 L1124.7,1555.6 L1125.5,1555.7 L1126.2,1555.8 L1127.0,1555.9 L1127.7,1555.8 L1128.5,1555.6 L1129.2,1555.5 L1130.0,1555.6 L1130.7,1555.7 L1131.5,1555.8 L1132.2,1555.8 L1133.0,1555.8 L1133.7,1555.9 L1134.5,1555.9 L1135.2,1555.9 L1136.0,1555.8 L1136.7,1555.8 L1137.5,1555.9 L1138.2,1555.9 L1139.0,1555.9 L1139.7,1555.9 L1140.5,1555.8 L1141.2,1555.9 L1142.0,1555.9 L1142.7,1555.9 L1143.5,1555.9 L1144.2,1555.9 L1145.0,1556.0 L1145.7,1556.0 L1146.5,1556.0 L1147.2,1555.9 L1148.0,1555.8 L1148.7,1555.9 L1149.5,1555.9 L1150.2,1555.9 L1151.0,1556.0 L1151.7,1556.0 L1152.5,1556.0 L1152.5,1557.0 Z" fill="#0c3384" stroke="#0c3384" stroke-width="2.2" stroke-linejoin="round"/>
<rect x="662.7" y="1451.6" width="490.1" height="105.8" fill="none" stroke="#222" stroke-width="1.8"/>
<line x1="656.7" y1="1458.6" x2="662.7" y2="1458.6" stroke="#222" stroke-width="1.6"/>
<text x="647.7" y="1466.1" text-anchor="end">20</text>
<line x1="656.7" y1="1557.0" x2="662.7" y2="1557.0" stroke="#222" stroke-width="1.6"/>
<text x="647.7" y="1564.5" text-anchor="end">0</text>
<text x="1001.3" y="1475.7">AUROC = 1.00</text>
<line x1="662.7" y1="1430.0" x2="662.7" y2="1440.5" stroke="#222" stroke-width="1.6"/>
<line x1="662.7" y1="1557.4" x2="662.7" y2="1568.0" stroke="#222" stroke-width="1.6"/>
<line x1="805.9" y1="1430.0" x2="805.9" y2="1440.5" stroke="#222" stroke-width="1.6"/>
<line x1="805.9" y1="1557.4" x2="805.9" y2="1568.0" stroke="#222" stroke-width="1.6"/>
<line x1="949.3" y1="1430.0" x2="949.3" y2="1440.5" stroke="#222" stroke-width="1.6"/>
<line x1="949.3" y1="1557.4" x2="949.3" y2="1568.0" stroke="#222" stroke-width="1.6"/>
<line x1="1092.7" y1="1430.0" x2="1092.7" y2="1440.5" stroke="#222" stroke-width="1.6"/>
<line x1="1092.7" y1="1557.4" x2="1092.7" y2="1568.0" stroke="#222" stroke-width="1.6"/>
<text x="662.7" y="1592.3" text-anchor="middle">0</text>
<text x="805.9" y="1592.3" text-anchor="middle">300</text>
<text x="949.3" y="1592.3" text-anchor="middle">600</text>
<text x="1092.7" y="1592.3" text-anchor="middle">900</text>
<text x="908.5" y="1623.3" text-anchor="middle">Position (bp)</text>
<text x="604.0" y="1377.0" text-anchor="middle" transform="rotate(-90 604.0 1377.0)">Coverage</text>
<text x="604.0" y="1504.5" text-anchor="middle" transform="rotate(-90 604.0 1504.5)">Coverage</text>
<text transform="translate(1172.0 1306.5) scale(1.17 1)" font-size="33" font-weight="bold" fill="#000" stroke="#000" stroke-width="0.9">k</text>
<line x1="1248.9" y1="1305.0" x2="1248.9" y2="1600.2" stroke="#111" stroke-width="1.8"/>
<line x1="1241.2" y1="1600.2" x2="1340.4" y2="1600.2" stroke="#111" stroke-width="1.8"/>
<line x1="1242.5" y1="1319.4" x2="1248.9" y2="1319.4" stroke="#111" stroke-width="1.6"/>
<text x="1233.0" y="1326.9" text-anchor="end">1.0</text>
<line x1="1242.5" y1="1375.6" x2="1248.9" y2="1375.6" stroke="#111" stroke-width="1.6"/>
<text x="1233.0" y="1383.1" text-anchor="end">0.8</text>
<line x1="1242.5" y1="1431.7" x2="1248.9" y2="1431.7" stroke="#111" stroke-width="1.6"/>
<text x="1233.0" y="1439.2" text-anchor="end">0.6</text>
<line x1="1242.5" y1="1487.9" x2="1248.9" y2="1487.9" stroke="#111" stroke-width="1.6"/>
<text x="1233.0" y="1495.4" text-anchor="end">0.4</text>
<line x1="1242.5" y1="1544.0" x2="1248.9" y2="1544.0" stroke="#111" stroke-width="1.6"/>
<text x="1233.0" y="1551.5" text-anchor="end">0.2</text>
<line x1="1242.5" y1="1600.2" x2="1248.9" y2="1600.2" stroke="#111" stroke-width="1.6"/>
<text x="1233.0" y="1607.7" text-anchor="end">0</text>
<text x="1190.0" y="1453.0" text-anchor="middle" transform="rotate(-90 1190.0 1453.0)">AUROC</text>
<rect x="1253.9" y="1338.2" width="35.8" height="262.0" fill="#df8585"/>
<rect x="1299.0" y="1346.6" width="35.9" height="253.6" fill="#365d9b"/>
<circle cx="1261.6" cy="1327.3" r="3.6" fill="#fff" stroke="#7a2222" stroke-width="1.8"/>
<circle cx="1275.9" cy="1325.9" r="3.6" fill="#fff" stroke="#7a2222" stroke-width="1.8"/>
<circle cx="1265.1" cy="1343.3" r="3.6" fill="#fff" stroke="#7a2222" stroke-width="1.8"/>
<circle cx="1282.3" cy="1345.7" r="3.6" fill="#fff" stroke="#7a2222" stroke-width="1.8"/>
<circle cx="1272.3" cy="1358.4" r="3.6" fill="#fff" stroke="#7a2222" stroke-width="1.8"/>
<circle cx="1310.1" cy="1323.0" r="3.6" fill="#fff" stroke="#0d2f6e" stroke-width="1.8"/>
<circle cx="1315.3" cy="1324.2" r="3.6" fill="#fff" stroke="#0d2f6e" stroke-width="1.8"/>
<circle cx="1320.6" cy="1323.5" r="3.6" fill="#fff" stroke="#0d2f6e" stroke-width="1.8"/>
<circle cx="1326.8" cy="1322.5" r="3.6" fill="#fff" stroke="#0d2f6e" stroke-width="1.8"/>
<circle cx="1307.0" cy="1325.4" r="3.6" fill="#fff" stroke="#0d2f6e" stroke-width="1.8"/>
<circle cx="1317.7" cy="1322.5" r="3.6" fill="#fff" stroke="#0d2f6e" stroke-width="1.8"/>
<circle cx="1308.1" cy="1330.2" r="3.6" fill="#fff" stroke="#0d2f6e" stroke-width="1.8"/>
<circle cx="1314.1" cy="1332.6" r="3.6" fill="#fff" stroke="#0d2f6e" stroke-width="1.8"/>
<circle cx="1321.3" cy="1331.4" r="3.6" fill="#fff" stroke="#0d2f6e" stroke-width="1.8"/>
<circle cx="1328.5" cy="1333.0" r="3.6" fill="#fff" stroke="#0d2f6e" stroke-width="1.8"/>
<circle cx="1324.9" cy="1327.8" r="3.6" fill="#fff" stroke="#0d2f6e" stroke-width="1.8"/>
<circle cx="1310.5" cy="1327.8" r="3.6" fill="#fff" stroke="#0d2f6e" stroke-width="1.8"/>
<circle cx="1311.7" cy="1344.5" r="3.6" fill="#fff" stroke="#0d2f6e" stroke-width="1.8"/>
<circle cx="1318.9" cy="1342.6" r="3.6" fill="#fff" stroke="#0d2f6e" stroke-width="1.8"/>
<circle cx="1327.3" cy="1341.6" r="3.6" fill="#fff" stroke="#0d2f6e" stroke-width="1.8"/>
<circle cx="1324.9" cy="1348.1" r="3.6" fill="#fff" stroke="#0d2f6e" stroke-width="1.8"/>
<circle cx="1312.9" cy="1356.5" r="3.6" fill="#fff" stroke="#0d2f6e" stroke-width="1.8"/>
<circle cx="1319.6" cy="1352.9" r="3.6" fill="#fff" stroke="#0d2f6e" stroke-width="1.8"/>
<circle cx="1326.1" cy="1361.2" r="3.6" fill="#fff" stroke="#0d2f6e" stroke-width="1.8"/>
<circle cx="1313.4" cy="1362.4" r="3.6" fill="#fff" stroke="#0d2f6e" stroke-width="1.8"/>
<circle cx="1318.2" cy="1378.4" r="3.6" fill="#fff" stroke="#0d2f6e" stroke-width="1.8"/>
<circle cx="1317.7" cy="1469.5" r="3.6" fill="#fff" stroke="#0d2f6e" stroke-width="1.8"/>
<circle cx="1316.0" cy="1582.7" r="3.6" fill="#fff" stroke="#0d2f6e" stroke-width="1.8"/>
<circle cx="1306.2" cy="1324.2" r="3.6" fill="#fff" stroke="#0d2f6e" stroke-width="1.8"/>
<circle cx="1327.3" cy="1325.4" r="3.6" fill="#fff" stroke="#0d2f6e" stroke-width="1.8"/>
<circle cx="1316.5" cy="1336.2" r="3.6" fill="#fff" stroke="#0d2f6e" stroke-width="1.8"/>
<circle cx="1322.5" cy="1337.3" r="3.6" fill="#fff" stroke="#0d2f6e" stroke-width="1.8"/>
<text x="1279.5" y="1616.0" text-anchor="end" transform="rotate(-45 1279.5 1616.0)">HEK293T</text>
<text x="1324.9" y="1616.0" text-anchor="end" transform="rotate(-45 1324.9 1616.0)">K562</text>
<line x1="1361.2" y1="1537.0" x2="1361.2" y2="1320.0" stroke="#111" stroke-width="2"/>
<path d="M1361.2,1307.5 L1367.2,1321.5 L1361.2,1318.0 L1355.2,1321.5 Z" fill="#111"/>
<text x="1367.5" y="1572.0" text-anchor="middle" transform="rotate(-90 1367.5 1572.0)">Better</text>
<text transform="translate(1406.0 1306.5) scale(1.17 1)" font-size="33" font-weight="bold" fill="#000" stroke="#000" stroke-width="0.9">l</text>
<path d="M1904.4,1359.7 V1326.5 H1515 V1350" fill="none" stroke="#111" stroke-width="2"/>
<path d="M1515.0,1362.6 L1509.0,1348.6 L1515.0,1352.1 L1521.0,1348.6 Z" fill="#111"/>
<text x="1515.0" y="1393.4" text-anchor="middle">Generative model</text>
<text x="1515.0" y="1419.2" text-anchor="middle" fill="#8a8a8a"><tspan font-style="italic">p</tspan>(genotype)</text>
<line x1="1651.3" y1="1405.8" x2="1708.0" y2="1405.8" stroke="#111" stroke-width="2"/>
<path d="M1719.3,1405.8 L1704.3,1411.8 L1708.0,1405.8 L1704.3,1399.8 Z" fill="#111"/>
<text x="1904.0" y="1393.4" text-anchor="middle">Reward/scoring function</text>
<text x="1904.0" y="1419.2" text-anchor="middle" fill="#8a8a8a"><tspan font-style="italic">p</tspan>(phenotype | genotype)</text>
<line x1="1425.7" y1="1473.7" x2="1425.7" y2="1508.3" stroke="#1a2e50" stroke-width="3.2"/>
<line x1="1438.4" y1="1475.8" x2="1438.4" y2="1506.2" stroke="#1a2e50" stroke-width="3.2"/>
<line x1="1451.0" y1="1484.2" x2="1451.0" y2="1497.8" stroke="#1a2e50" stroke-width="3.2"/>
<line x1="1463.7" y1="1495.4" x2="1463.7" y2="1486.6" stroke="#1a2e50" stroke-width="3.2"/>
<line x1="1476.3" y1="1504.8" x2="1476.3" y2="1477.2" stroke="#1a2e50" stroke-width="3.2"/>
<line x1="1488.9" y1="1508.5" x2="1488.9" y2="1473.5" stroke="#1a2e50" stroke-width="3.2"/>
<line x1="1501.6" y1="1505.0" x2="1501.6" y2="1477.0" stroke="#1a2e50" stroke-width="3.2"/>
<line x1="1514.2" y1="1495.7" x2="1514.2" y2="1486.3" stroke="#1a2e50" stroke-width="3.2"/>
<line x1="1526.8" y1="1484.5" x2="1526.8" y2="1497.5" stroke="#1a2e50" stroke-width="3.2"/>
<line x1="1539.5" y1="1475.9" x2="1539.5" y2="1506.1" stroke="#1a2e50" stroke-width="3.2"/>
<line x1="1552.1" y1="1473.6" x2="1552.1" y2="1508.4" stroke="#1a2e50" stroke-width="3.2"/>
<line x1="1564.8" y1="1478.5" x2="1564.8" y2="1503.5" stroke="#1a2e50" stroke-width="3.2"/>
<line x1="1577.4" y1="1488.5" x2="1577.4" y2="1493.5" stroke="#1a2e50" stroke-width="3.2"/>
<line x1="1590.0" y1="1499.5" x2="1590.0" y2="1482.5" stroke="#1a2e50" stroke-width="3.2"/>
<line x1="1602.7" y1="1507.1" x2="1602.7" y2="1474.9" stroke="#1a2e50" stroke-width="3.2"/>
<polyline points="1421.0,1474.7 1422.6,1474.3 1424.2,1473.9 1425.7,1473.7 1427.3,1473.5 1428.9,1473.5 1430.5,1473.6 1432.1,1473.8 1433.6,1474.2 1435.2,1474.6 1436.8,1475.2 1438.4,1475.8 1440.0,1476.6 1441.5,1477.4 1443.1,1478.4 1444.7,1479.4 1446.3,1480.5 1447.9,1481.7 1449.4,1482.9 1451.0,1484.2 1452.6,1485.6 1454.2,1486.9 1455.8,1488.3 1457.3,1489.8 1458.9,1491.2 1460.5,1492.6 1462.1,1494.0 1463.7,1495.4 1465.2,1496.8 1466.8,1498.1 1468.4,1499.4 1470.0,1500.6 1471.6,1501.8 1473.1,1502.9 1474.7,1503.9 1476.3,1504.8 1477.9,1505.6 1479.5,1506.4 1481.0,1507.0 1482.6,1507.5 1484.2,1507.9 1485.8,1508.2 1487.4,1508.4 1488.9,1508.5 1490.5,1508.5 1492.1,1508.3 1493.7,1508.0 1495.3,1507.6 1496.8,1507.1 1498.4,1506.5 1500.0,1505.8 1501.6,1505.0 1503.2,1504.1 1504.7,1503.1 1506.3,1502.0 1507.9,1500.8 1509.5,1499.6 1511.1,1498.4 1512.6,1497.0 1514.2,1495.7 1515.8,1494.3 1517.4,1492.9 1518.9,1491.5 1520.5,1490.0 1522.1,1488.6 1523.7,1487.2 1525.3,1485.8 1526.8,1484.5 1528.4,1483.2 1530.0,1481.9 1531.6,1480.7 1533.2,1479.6 1534.7,1478.6 1536.3,1477.6 1537.9,1476.7 1539.5,1475.9 1541.1,1475.3 1542.6,1474.7 1544.2,1474.2 1545.8,1473.9 1547.4,1473.6 1549.0,1473.5 1550.5,1473.5 1552.1,1473.6 1553.7,1473.9 1555.3,1474.2 1556.9,1474.6 1558.4,1475.2 1560.0,1475.9 1561.6,1476.6 1563.2,1477.5 1564.8,1478.5 1566.3,1479.5 1567.9,1480.6 1569.5,1481.8 1571.1,1483.1 1572.7,1484.4 1574.2,1485.7 1575.8,1487.1 1577.4,1488.5 1579.0,1489.9 1580.6,1491.3 1582.1,1492.8 1583.7,1494.2 1585.3,1495.6 1586.9,1496.9 1588.5,1498.3 1590.0,1499.5 1591.6,1500.7 1593.2,1501.9 1594.8,1503.0 1596.4,1504.0 1597.9,1504.9 1599.5,1505.7 1601.1,1506.4 1602.7,1507.1 1604.3,1507.6 1605.8,1508.0 1607.4,1508.3 1609.0,1508.4" fill="none" stroke="#1a2e50" stroke-width="6" stroke-linejoin="round" stroke-linecap="round"/>
<polyline points="1421.0,1507.3 1422.6,1507.7 1424.2,1508.1 1425.7,1508.3 1427.3,1508.5 1428.9,1508.5 1430.5,1508.4 1432.1,1508.2 1433.6,1507.8 1435.2,1507.4 1436.8,1506.8 1438.4,1506.2 1440.0,1505.4 1441.5,1504.6 1443.1,1503.6 1444.7,1502.6 1446.3,1501.5 1447.9,1500.3 1449.4,1499.1 1451.0,1497.8 1452.6,1496.4 1454.2,1495.1 1455.8,1493.7 1457.3,1492.2 1458.9,1490.8 1460.5,1489.4 1462.1,1488.0 1463.7,1486.6 1465.2,1485.2 1466.8,1483.9 1468.4,1482.6 1470.0,1481.4 1471.6,1480.2 1473.1,1479.1 1474.7,1478.1 1476.3,1477.2 1477.9,1476.4 1479.5,1475.6 1481.0,1475.0 1482.6,1474.5 1484.2,1474.1 1485.8,1473.8 1487.4,1473.6 1488.9,1473.5 1490.5,1473.5 1492.1,1473.7 1493.7,1474.0 1495.3,1474.4 1496.8,1474.9 1498.4,1475.5 1500.0,1476.2 1501.6,1477.0 1503.2,1477.9 1504.7,1478.9 1506.3,1480.0 1507.9,1481.2 1509.5,1482.4 1511.1,1483.6 1512.6,1485.0 1514.2,1486.3 1515.8,1487.7 1517.4,1489.1 1518.9,1490.5 1520.5,1492.0 1522.1,1493.4 1523.7,1494.8 1525.3,1496.2 1526.8,1497.5 1528.4,1498.8 1530.0,1500.1 1531.6,1501.3 1533.2,1502.4 1534.7,1503.4 1536.3,1504.4 1537.9,1505.3 1539.5,1506.1 1541.1,1506.7 1542.6,1507.3 1544.2,1507.8 1545.8,1508.1 1547.4,1508.4 1549.0,1508.5 1550.5,1508.5 1552.1,1508.4 1553.7,1508.1 1555.3,1507.8 1556.9,1507.4 1558.4,1506.8 1560.0,1506.1 1561.6,1505.4 1563.2,1504.5 1564.8,1503.5 1566.3,1502.5 1567.9,1501.4 1569.5,1500.2 1571.1,1498.9 1572.7,1497.6 1574.2,1496.3 1575.8,1494.9 1577.4,1493.5 1579.0,1492.1 1580.6,1490.7 1582.1,1489.2 1583.7,1487.8 1585.3,1486.4 1586.9,1485.1 1588.5,1483.7 1590.0,1482.5 1591.6,1481.3 1593.2,1480.1 1594.8,1479.0 1596.4,1478.0 1597.9,1477.1 1599.5,1476.3 1601.1,1475.6 1602.7,1474.9 1604.3,1474.4 1605.8,1474.0 1607.4,1473.7 1609.0,1473.6" fill="none" stroke="#1a2e50" stroke-width="6" stroke-linejoin="round" stroke-linecap="round"/>
<text x="1515.0" y="1559.7" text-anchor="middle">Evo 2</text>
<rect x="1691.4" y="1486.7" width="5.1" height="22.8" fill="#9aa4b6"/>
<rect x="1698.8" y="1477.2" width="5.1" height="32.3" fill="#9aa4b6"/>
<rect x="1706.1" y="1470.1" width="5.1" height="39.4" fill="#9aa4b6"/>
<rect x="1713.5" y="1452.2" width="5.1" height="57.3" fill="#9aa4b6"/>
<rect x="1720.8" y="1464.4" width="5.1" height="45.1" fill="#9aa4b6"/>
<rect x="1728.2" y="1444.1" width="5.1" height="65.4" fill="#9aa4b6"/>
<rect x="1735.5" y="1472.5" width="5.1" height="37.0" fill="#9aa4b6"/>
<rect x="1742.9" y="1459.7" width="5.1" height="49.8" fill="#9aa4b6"/>
<rect x="1750.2" y="1493.2" width="5.1" height="16.3" fill="#9aa4b6"/>
<rect x="1757.6" y="1478.6" width="5.1" height="30.9" fill="#9aa4b6"/>
<rect x="1764.9" y="1501.3" width="5.1" height="8.2" fill="#9aa4b6"/>
<rect x="1772.2" y="1500.3" width="5.1" height="9.2" fill="#9aa4b6"/>
<rect x="1779.6" y="1501.3" width="5.1" height="8.2" fill="#9aa4b6"/>
<rect x="1787.0" y="1502.3" width="5.1" height="7.2" fill="#9aa4b6"/>
<rect x="1794.3" y="1501.5" width="5.1" height="8.0" fill="#9aa4b6"/>
<line x1="1691.0" y1="1509.5" x2="1836.0" y2="1509.5" stroke="#9aa4b6" stroke-width="1.6"/>
<line x1="1691.0" y1="1532.5" x2="1765.0" y2="1532.5" stroke="#1a2e50" stroke-width="1.6"/>
<line x1="1691.0" y1="1537.8" x2="1765.0" y2="1537.8" stroke="#1a2e50" stroke-width="1.6"/>
<rect x="1764.6" y="1524.7" width="71.5" height="20.2" fill="#1a2e50"/>
<text x="1754.0" y="1585.6" text-anchor="middle">Epigenomic</text>
<text x="1754.0" y="1610.4" text-anchor="middle">state</text>
<path d="M1859.6,1510.7 C1858.5,1516 1861,1524 1863,1526.5 C1865,1528.5 1868,1528.6 1869.7,1529 C1871.5,1525 1872,1521 1870.9,1519 C1870,1516 1869.5,1514 1868.5,1513.1 Z" fill="#e6e9eb" stroke="#1a2e50" stroke-width="1.5" stroke-linejoin="round"/>
<path d="M1860.2,1510.2 L1869.1,1502.4 C1876,1501 1884,1510 1893.5,1514.3 L1887,1522.6 C1878,1523 1873,1515 1868.5,1513.1 C1866,1511.5 1863,1510.5 1860.2,1510.2 Z" fill="#98a8ae" stroke="#1a2e50" stroke-width="1.5" stroke-linejoin="round"/>
<path d="M1882.8,1487.6 C1881.5,1494 1886,1505 1888.8,1511.3 C1891,1513.5 1894,1514 1895.9,1514.3 C1898.5,1511 1899,1509 1898.3,1507.8 C1897,1500 1894,1494 1892.3,1489.9 C1889,1488 1885.5,1487.5 1882.8,1487.6 Z" fill="#e6e9eb" stroke="#1a2e50" stroke-width="1.5" stroke-linejoin="round"/>
<path d="M1884,1487 L1892.3,1479.2 C1900,1478 1908,1487 1918.5,1490.5 L1910.7,1498.9 C1902,1499 1897,1492 1892.3,1489.9 C1889.5,1488 1886.5,1487.3 1884,1487 Z" fill="#98a8ae" stroke="#1a2e50" stroke-width="1.5" stroke-linejoin="round"/>
<path d="M1906,1464.4 C1905,1471 1910,1482 1912.5,1488.8 C1914.5,1490 1917,1490.5 1919.1,1490.5 C1921.5,1488 1922.5,1486 1922,1484 C1921,1477 1918,1471 1916.1,1466.8 C1913,1465 1909,1464.3 1906,1464.4 Z" fill="#e6e9eb" stroke="#1a2e50" stroke-width="1.5" stroke-linejoin="round"/>
<path d="M1907.8,1463.8 L1915.5,1456.1 C1923,1455 1931,1464 1941.7,1467.3 L1933.9,1476.3 C1925,1476 1921,1469 1916.1,1466.8 C1913.5,1465 1910.5,1464.2 1907.8,1463.8 Z" fill="#98a8ae" stroke="#1a2e50" stroke-width="1.5" stroke-linejoin="round"/>
<path d="M1933.3,1450.1 C1931.5,1453 1931.5,1460 1933.9,1465 C1936,1467 1939,1467.3 1941.7,1467.3 C1944,1465 1945,1463 1944.6,1461 C1944,1457 1942.5,1454 1940.5,1452.5 C1938,1451 1935.5,1450.8 1933.3,1450.1 Z" fill="#e6e9eb" stroke="#1a2e50" stroke-width="1.5" stroke-linejoin="round"/>
<text x="1892.0" y="1585.6" text-anchor="middle">Protein</text>
<text x="1892.5" y="1610.4" text-anchor="middle">structure</text>
<path d="M1970,1484 C1985,1478 1995,1470 2000,1460 C2004,1450 2008,1448 2011,1458 C2016,1472 2025,1482 2045,1484 Z" fill="#a9c1ea"/>
<path d="M2030,1492 C2045,1494 2050,1502 2055,1506 C2060,1509 2062,1500 2068,1504 C2075,1512 2078,1528 2082,1528 C2088,1525 2092,1505 2109,1492 Z" fill="#a9c1ea"/>
<line x1="1970.0" y1="1484.0" x2="2109.0" y2="1484.0" stroke="#1a2e50" stroke-width="2"/>
<line x1="1970.0" y1="1491.8" x2="2109.0" y2="1491.8" stroke="#1a2e50" stroke-width="2"/>
<text x="2026.0" y="1560.8" text-anchor="middle">Sequence-to-</text>
<text x="2026.0" y="1585.6" text-anchor="middle">function</text>
<text x="2026.0" y="1610.4" text-anchor="middle">predictor</text>
<text transform="translate(876.0 579.0) scale(1.17 1)" font-size="33" font-weight="bold" fill="#000" stroke="#000" stroke-width="0.9">f</text>
<text x="1303.6" y="574.0">Message: <tspan font-family="Liberation Mono, Courier New, monospace" font-weight="bold" font-size="20.5">EVO2</tspan><tspan font-family="Liberation Mono, Courier New, monospace" font-size="20.5" font-weight="bold" xml:space="preserve"> (. ...- --- ..---)</tspan></text>
<rect x="1014.2" y="690.8" width="20.0" height="93.1" fill="#e2e5eb"/>
<rect x="1100.7" y="690.8" width="19.2" height="93.1" fill="#e2e5eb"/>
<rect x="1147.0" y="690.8" width="19.6" height="93.1" fill="#e2e5eb"/>
<rect x="1194.3" y="690.8" width="19.5" height="93.1" fill="#e2e5eb"/>
<rect x="1241.0" y="690.8" width="59.0" height="93.1" fill="#e2e5eb"/>
<rect x="1367.1" y="690.8" width="59.1" height="93.1" fill="#e2e5eb"/>
<rect x="1453.4" y="690.8" width="58.7" height="93.1" fill="#e2e5eb"/>
<rect x="1539.6" y="690.8" width="59.1" height="93.1" fill="#e2e5eb"/>
<rect x="1665.4" y="690.8" width="20.2" height="93.1" fill="#e2e5eb"/>
<rect x="1712.4" y="690.8" width="20.1" height="93.1" fill="#e2e5eb"/>
<rect x="1759.4" y="690.8" width="59.0" height="93.1" fill="#e2e5eb"/>
<rect x="1845.9" y="690.8" width="58.7" height="93.1" fill="#e2e5eb"/>
<rect x="1932.1" y="690.8" width="58.7" height="93.1" fill="#e2e5eb"/>
<path d="M975.1,777.3 L975.1,776.7 L976.1,776.4 L977.1,776.4 L978.1,776.6 L979.1,776.6 L980.1,776.6 L981.1,776.5 L982.1,776.6 L983.1,776.4 L984.1,776.1 L985.1,776.1 L986.1,776.4 L987.1,776.2 L988.1,776.3 L989.1,776.3 L990.1,776.3 L991.1,776.2 L992.1,776.3 L993.1,776.3 L994.1,776.0 L995.1,775.6 L996.1,774.9 L997.1,774.1 L998.1,772.9 L999.1,772.0 L1000.1,771.8 L1001.1,772.2 L1002.1,772.6 L1003.1,772.7 L1004.1,773.9 L1005.1,775.0 L1006.1,775.9 L1007.1,776.1 L1008.1,776.3 L1009.1,776.2 L1010.1,776.1 L1011.1,775.5 L1012.1,774.2 L1013.1,773.1 L1014.1,773.1 L1015.1,770.7 L1016.1,764.1 L1017.1,760.7 L1018.1,755.3 L1019.1,751.6 L1020.1,747.9 L1021.1,751.3 L1022.1,754.2 L1023.1,751.5 L1024.1,754.7 L1025.1,758.5 L1026.1,752.6 L1027.1,735.9 L1028.1,743.4 L1029.1,750.6 L1030.1,756.8 L1031.1,754.6 L1032.1,749.3 L1033.1,745.8 L1034.1,746.1 L1035.1,749.8 L1036.1,745.9 L1037.1,745.5 L1038.1,753.6 L1039.1,759.5 L1040.1,766.0 L1041.1,769.0 L1042.1,771.4 L1043.1,772.0 L1044.1,772.9 L1045.1,773.0 L1046.1,773.4 L1047.1,773.5 L1048.1,773.2 L1049.1,772.8 L1050.1,772.2 L1051.1,771.6 L1052.1,771.1 L1053.1,770.7 L1054.1,770.2 L1055.1,770.3 L1056.1,771.4 L1057.1,771.8 L1058.1,772.7 L1059.1,773.2 L1060.1,773.8 L1061.1,774.4 L1062.1,774.5 L1063.1,775.4 L1064.1,775.7 L1065.1,776.0 L1066.1,776.3 L1067.1,776.6 L1068.1,776.6 L1069.1,776.4 L1070.1,776.7 L1071.1,776.6 L1072.1,776.7 L1073.1,776.7 L1074.1,776.7 L1075.1,776.5 L1076.1,776.6 L1077.1,776.6 L1078.1,776.7 L1079.1,776.7 L1080.1,776.5 L1081.1,776.7 L1082.1,776.5 L1083.1,776.8 L1084.1,776.5 L1085.1,776.5 L1086.1,776.7 L1087.1,776.3 L1088.1,776.8 L1089.1,776.6 L1090.1,776.3 L1091.1,776.3 L1092.1,775.9 L1093.1,776.3 L1094.1,776.2 L1095.1,776.1 L1096.1,775.8 L1097.1,775.7 L1098.1,774.9 L1099.1,774.4 L1100.1,773.4 L1101.1,771.7 L1102.1,770.0 L1103.1,768.8 L1104.1,769.3 L1105.1,769.6 L1106.1,771.8 L1107.1,772.1 L1108.1,772.9 L1109.1,774.3 L1110.1,775.3 L1111.1,775.8 L1112.1,776.4 L1113.1,776.5 L1114.1,776.7 L1115.1,776.6 L1116.1,776.6 L1117.1,776.7 L1118.1,776.5 L1119.1,776.6 L1120.1,776.6 L1121.1,776.3 L1122.1,775.8 L1123.1,774.8 L1124.1,774.9 L1125.1,774.9 L1126.1,775.2 L1127.1,775.9 L1128.1,776.3 L1129.1,776.5 L1130.1,776.3 L1131.1,776.6 L1132.1,776.4 L1133.1,776.3 L1134.1,776.6 L1135.1,776.6 L1136.1,776.6 L1137.1,776.5 L1138.1,776.5 L1139.1,776.6 L1140.1,776.6 L1141.1,776.3 L1142.1,776.6 L1143.1,776.5 L1144.1,776.6 L1145.1,776.5 L1146.1,776.3 L1147.1,775.9 L1148.1,774.9 L1149.1,773.7 L1150.1,770.9 L1151.1,767.4 L1152.1,764.0 L1153.1,754.0 L1154.1,743.8 L1155.1,736.7 L1156.1,739.0 L1157.1,740.9 L1158.1,742.5 L1159.1,748.1 L1160.1,756.2 L1161.1,762.7 L1162.1,766.2 L1163.1,770.5 L1164.1,772.2 L1165.1,773.4 L1166.1,773.3 L1167.1,774.0 L1168.1,775.1 L1169.1,775.4 L1170.1,775.8 L1171.1,775.3 L1172.1,775.0 L1173.1,775.1 L1174.1,775.6 L1175.1,775.9 L1176.1,775.9 L1177.1,776.2 L1178.1,776.1 L1179.1,776.3 L1180.1,776.4 L1181.1,776.3 L1182.1,776.6 L1183.1,776.6 L1184.1,776.7 L1185.1,776.7 L1186.1,776.6 L1187.1,776.6 L1188.1,776.7 L1189.1,776.5 L1190.1,776.7 L1191.1,776.4 L1192.1,776.5 L1193.1,776.6 L1194.1,776.6 L1195.1,776.6 L1196.1,776.7 L1197.1,776.7 L1198.1,776.1 L1199.1,776.5 L1200.1,775.9 L1201.1,774.9 L1202.1,772.0 L1203.1,767.7 L1204.1,762.3 L1205.1,754.6 L1206.1,743.4 L1207.1,731.5 L1208.1,725.1 L1209.1,716.8 L1210.1,722.0 L1211.1,730.0 L1212.1,736.1 L1213.1,740.9 L1214.1,750.3 L1215.1,757.8 L1216.1,766.9 L1217.1,771.3 L1218.1,773.8 L1219.1,773.8 L1220.1,772.8 L1221.1,771.1 L1222.1,770.7 L1223.1,772.5 L1224.1,773.9 L1225.1,774.8 L1226.1,775.5 L1227.1,775.7 L1228.1,775.8 L1229.1,775.2 L1230.1,774.2 L1231.1,773.3 L1232.1,773.5 L1233.1,773.3 L1234.1,772.5 L1235.1,772.6 L1236.1,772.1 L1237.1,772.1 L1238.1,772.3 L1239.1,773.4 L1240.1,772.7 L1241.1,771.1 L1242.1,769.2 L1243.1,769.8 L1244.1,771.1 L1245.1,767.6 L1246.1,769.5 L1247.1,766.0 L1248.1,756.8 L1249.1,756.4 L1250.1,754.4 L1251.1,750.3 L1252.1,756.4 L1253.1,762.2 L1254.1,764.7 L1255.1,757.7 L1256.1,754.1 L1257.1,754.8 L1258.1,759.8 L1259.1,763.9 L1260.1,758.3 L1261.1,754.2 L1262.1,745.4 L1263.1,744.4 L1264.1,744.2 L1265.1,745.9 L1266.1,752.1 L1267.1,751.0 L1268.1,752.1 L1269.1,749.2 L1270.1,748.6 L1271.1,757.2 L1272.1,762.0 L1273.1,766.7 L1274.1,763.0 L1275.1,757.9 L1276.1,752.8 L1277.1,755.8 L1278.1,753.9 L1279.1,750.2 L1280.1,750.1 L1281.1,752.1 L1282.1,754.4 L1283.1,754.6 L1284.1,753.4 L1285.1,758.8 L1286.1,759.6 L1287.1,754.5 L1288.1,752.1 L1289.1,755.3 L1290.1,759.5 L1291.1,758.7 L1292.1,753.5 L1293.1,753.2 L1294.1,745.9 L1295.1,751.7 L1296.1,757.8 L1297.1,761.0 L1298.1,758.6 L1299.1,760.9 L1300.1,766.0 L1301.1,770.0 L1302.1,772.8 L1303.1,774.5 L1304.1,775.5 L1305.1,775.7 L1306.1,775.2 L1307.1,775.5 L1308.1,776.0 L1309.1,776.6 L1310.1,776.7 L1311.1,776.6 L1312.1,776.4 L1313.1,776.5 L1314.1,776.6 L1315.1,776.4 L1316.1,776.6 L1317.1,776.7 L1318.1,776.5 L1319.1,776.6 L1320.1,776.6 L1321.1,776.1 L1322.1,776.5 L1323.1,776.6 L1324.1,776.6 L1325.1,776.4 L1326.1,776.6 L1327.1,776.6 L1328.1,776.1 L1329.1,776.7 L1330.1,776.7 L1331.1,776.4 L1332.1,776.3 L1333.1,776.3 L1334.1,775.9 L1335.1,775.0 L1336.1,775.1 L1337.1,775.5 L1338.1,775.9 L1339.1,776.4 L1340.1,776.5 L1341.1,776.2 L1342.1,776.4 L1343.1,776.3 L1344.1,776.3 L1345.1,776.2 L1346.1,776.3 L1347.1,776.2 L1348.1,776.3 L1349.1,776.1 L1350.1,776.2 L1351.1,776.2 L1352.1,776.2 L1353.1,776.0 L1354.1,776.5 L1355.1,776.3 L1356.1,776.5 L1357.1,776.5 L1358.1,776.4 L1359.1,776.6 L1360.1,776.5 L1361.1,776.4 L1362.1,776.2 L1363.1,776.3 L1364.1,776.4 L1365.1,776.0 L1366.1,775.6 L1367.1,775.6 L1368.1,774.4 L1369.1,773.0 L1370.1,770.4 L1371.1,767.5 L1372.1,767.7 L1373.1,767.7 L1374.1,760.7 L1375.1,759.9 L1376.1,762.9 L1377.1,759.8 L1378.1,759.8 L1379.1,758.5 L1380.1,753.5 L1381.1,755.3 L1382.1,758.6 L1383.1,755.9 L1384.1,747.7 L1385.1,745.9 L1386.1,743.7 L1387.1,743.5 L1388.1,749.2 L1389.1,752.7 L1390.1,752.9 L1391.1,751.9 L1392.1,755.3 L1393.1,752.2 L1394.1,747.6 L1395.1,749.1 L1396.1,755.8 L1397.1,765.6 L1398.1,760.1 L1399.1,757.0 L1400.1,757.6 L1401.1,759.8 L1402.1,754.4 L1403.1,752.2 L1404.1,753.8 L1405.1,754.7 L1406.1,751.7 L1407.1,751.7 L1408.1,757.0 L1409.1,759.2 L1410.1,757.4 L1411.1,748.3 L1412.1,743.2 L1413.1,752.6 L1414.1,755.9 L1415.1,749.3 L1416.1,749.6 L1417.1,748.0 L1418.1,749.2 L1419.1,757.0 L1420.1,757.6 L1421.1,749.7 L1422.1,753.4 L1423.1,755.5 L1424.1,758.8 L1425.1,765.6 L1426.1,770.3 L1427.1,769.6 L1428.1,770.1 L1429.1,772.8 L1430.1,774.0 L1431.1,774.4 L1432.1,775.0 L1433.1,775.3 L1434.1,776.1 L1435.1,776.0 L1436.1,775.4 L1437.1,775.1 L1438.1,774.4 L1439.1,774.0 L1440.1,774.0 L1441.1,775.2 L1442.1,775.6 L1443.1,776.1 L1444.1,776.2 L1445.1,776.1 L1446.1,775.9 L1447.1,775.8 L1448.1,775.2 L1449.1,774.9 L1450.1,774.0 L1451.1,771.9 L1452.1,766.9 L1453.1,761.8 L1454.1,758.2 L1455.1,746.6 L1456.1,744.1 L1457.1,743.8 L1458.1,735.2 L1459.1,731.8 L1460.1,724.3 L1461.1,714.3 L1462.1,706.7 L1463.1,717.4 L1464.1,717.3 L1465.1,714.0 L1466.1,715.0 L1467.1,720.5 L1468.1,718.8 L1469.1,713.6 L1470.1,698.5 L1471.1,715.1 L1472.1,721.8 L1473.1,703.3 L1474.1,702.1 L1475.1,727.7 L1476.1,730.6 L1477.1,710.7 L1478.1,698.7 L1479.1,701.8 L1480.1,698.5 L1481.1,700.2 L1482.1,706.6 L1483.1,728.8 L1484.1,750.3 L1485.1,743.7 L1486.1,727.7 L1487.1,729.5 L1488.1,727.6 L1489.1,728.1 L1490.1,702.6 L1491.1,706.8 L1492.1,722.8 L1493.1,724.7 L1494.1,718.6 L1495.1,723.7 L1496.1,737.1 L1497.1,736.5 L1498.1,734.8 L1499.1,736.1 L1500.1,740.4 L1501.1,742.4 L1502.1,750.1 L1503.1,753.2 L1504.1,748.2 L1505.1,747.9 L1506.1,738.7 L1507.1,723.3 L1508.1,717.5 L1509.1,738.2 L1510.1,759.2 L1511.1,761.2 L1512.1,760.5 L1513.1,757.8 L1514.1,761.2 L1515.1,765.6 L1516.1,769.5 L1517.1,771.6 L1518.1,771.9 L1519.1,772.9 L1520.1,773.1 L1521.1,772.1 L1522.1,770.7 L1523.1,772.2 L1524.1,773.0 L1525.1,772.9 L1526.1,773.6 L1527.1,774.2 L1528.1,774.5 L1529.1,775.0 L1530.1,775.4 L1531.1,775.9 L1532.1,776.0 L1533.1,776.0 L1534.1,776.2 L1535.1,776.2 L1536.1,776.0 L1537.1,776.2 L1538.1,776.4 L1539.1,776.3 L1540.1,776.2 L1541.1,776.3 L1542.1,776.4 L1543.1,776.5 L1544.1,776.3 L1545.1,776.4 L1546.1,775.2 L1547.1,774.4 L1548.1,772.8 L1549.1,771.8 L1550.1,770.9 L1551.1,771.5 L1552.1,771.3 L1553.1,771.7 L1554.1,770.1 L1555.1,769.6 L1556.1,769.3 L1557.1,767.7 L1558.1,767.1 L1559.1,768.2 L1560.1,771.4 L1561.1,768.9 L1562.1,765.3 L1563.1,765.3 L1564.1,764.5 L1565.1,762.5 L1566.1,762.5 L1567.1,760.9 L1568.1,754.4 L1569.1,749.2 L1570.1,747.8 L1571.1,749.2 L1572.1,751.0 L1573.1,747.7 L1574.1,740.2 L1575.1,739.0 L1576.1,736.1 L1577.1,735.2 L1578.1,731.2 L1579.1,731.5 L1580.1,724.8 L1581.1,737.7 L1582.1,747.7 L1583.1,741.2 L1584.1,735.3 L1585.1,734.2 L1586.1,728.6 L1587.1,732.8 L1588.1,735.4 L1589.1,736.4 L1590.1,743.3 L1591.1,742.0 L1592.1,748.5 L1593.1,750.2 L1594.1,749.8 L1595.1,754.6 L1596.1,754.4 L1597.1,756.9 L1598.1,762.2 L1599.1,766.0 L1600.1,769.1 L1601.1,771.8 L1602.1,774.4 L1603.1,775.2 L1604.1,775.5 L1605.1,775.9 L1606.1,776.4 L1607.1,775.7 L1608.1,774.8 L1609.1,774.9 L1610.1,775.9 L1611.1,776.6 L1612.1,776.7 L1613.1,776.7 L1614.1,776.8 L1615.1,776.6 L1616.1,776.7 L1617.1,776.6 L1618.1,776.1 L1619.1,776.5 L1620.1,776.5 L1621.1,776.2 L1622.1,776.0 L1623.1,776.0 L1624.1,776.1 L1625.1,776.4 L1626.1,775.8 L1627.1,776.3 L1628.1,776.2 L1629.1,776.4 L1630.1,776.0 L1631.1,776.0 L1632.1,776.4 L1633.1,776.6 L1634.1,776.4 L1635.1,776.4 L1636.1,776.2 L1637.1,776.2 L1638.1,775.9 L1639.1,775.7 L1640.1,775.2 L1641.1,775.0 L1642.1,774.8 L1643.1,775.1 L1644.1,775.3 L1645.1,775.8 L1646.1,776.3 L1647.1,776.4 L1648.1,776.5 L1649.1,776.7 L1650.1,776.3 L1651.1,776.7 L1652.1,776.7 L1653.1,776.6 L1654.1,776.4 L1655.1,776.3 L1656.1,776.6 L1657.1,776.3 L1658.1,776.0 L1659.1,775.7 L1660.1,775.7 L1661.1,775.1 L1662.1,775.0 L1663.1,774.7 L1664.1,774.9 L1665.1,774.9 L1666.1,775.5 L1667.1,776.0 L1668.1,776.2 L1669.1,776.4 L1670.1,776.1 L1671.1,775.4 L1672.1,774.2 L1673.1,772.1 L1674.1,768.6 L1675.1,768.5 L1676.1,766.7 L1677.1,763.4 L1678.1,760.5 L1679.1,762.1 L1680.1,765.8 L1681.1,768.2 L1682.1,769.9 L1683.1,772.1 L1684.1,773.9 L1685.1,774.9 L1686.1,775.7 L1687.1,776.1 L1688.1,776.2 L1689.1,776.4 L1690.1,776.4 L1691.1,776.1 L1692.1,776.5 L1693.1,776.3 L1694.1,776.3 L1695.1,776.6 L1696.1,776.4 L1697.1,776.6 L1698.1,776.5 L1699.1,776.5 L1700.1,776.7 L1701.1,776.4 L1702.1,776.3 L1703.1,776.4 L1704.1,776.3 L1705.1,776.6 L1706.1,776.5 L1707.1,776.5 L1708.1,776.1 L1709.1,776.3 L1710.1,776.1 L1711.1,776.5 L1712.1,776.5 L1713.1,776.3 L1714.1,775.9 L1715.1,774.9 L1716.1,773.6 L1717.1,771.6 L1718.1,768.4 L1719.1,764.8 L1720.1,760.9 L1721.1,756.2 L1722.1,755.4 L1723.1,757.4 L1724.1,764.1 L1725.1,767.6 L1726.1,770.1 L1727.1,773.2 L1728.1,774.5 L1729.1,775.7 L1730.1,776.3 L1731.1,776.6 L1732.1,776.3 L1733.1,776.4 L1734.1,776.6 L1735.1,776.6 L1736.1,776.4 L1737.1,776.6 L1738.1,776.6 L1739.1,776.4 L1740.1,776.2 L1741.1,776.5 L1742.1,776.2 L1743.1,776.3 L1744.1,776.2 L1745.1,776.2 L1746.1,776.3 L1747.1,776.4 L1748.1,776.5 L1749.1,776.4 L1750.1,776.5 L1751.1,776.4 L1752.1,776.3 L1753.1,776.5 L1754.1,776.5 L1755.1,776.5 L1756.1,776.7 L1757.1,776.5 L1758.1,776.0 L1759.1,775.3 L1760.1,774.5 L1761.1,772.8 L1762.1,771.1 L1763.1,768.7 L1764.1,766.5 L1765.1,765.1 L1766.1,763.9 L1767.1,765.7 L1768.1,768.3 L1769.1,770.5 L1770.1,772.6 L1771.1,773.7 L1772.1,774.3 L1773.1,774.5 L1774.1,773.9 L1775.1,772.2 L1776.1,769.6 L1777.1,765.6 L1778.1,763.0 L1779.1,757.8 L1780.1,753.2 L1781.1,746.7 L1782.1,738.0 L1783.1,737.9 L1784.1,737.9 L1785.1,738.2 L1786.1,736.8 L1787.1,746.8 L1788.1,744.6 L1789.1,745.9 L1790.1,760.0 L1791.1,760.7 L1792.1,755.9 L1793.1,756.4 L1794.1,754.5 L1795.1,753.8 L1796.1,754.2 L1797.1,753.8 L1798.1,753.6 L1799.1,753.2 L1800.1,756.4 L1801.1,754.0 L1802.1,746.4 L1803.1,747.1 L1804.1,754.1 L1805.1,763.8 L1806.1,760.7 L1807.1,755.3 L1808.1,756.1 L1809.1,758.1 L1810.1,757.5 L1811.1,752.6 L1812.1,751.2 L1813.1,751.5 L1814.1,754.0 L1815.1,754.7 L1816.1,760.5 L1817.1,760.0 L1818.1,763.4 L1819.1,767.0 L1820.1,770.3 L1821.1,773.3 L1822.1,774.8 L1823.1,774.7 L1824.1,775.1 L1825.1,776.0 L1826.1,776.1 L1827.1,776.5 L1828.1,776.2 L1829.1,776.3 L1830.1,776.5 L1831.1,776.3 L1832.1,776.3 L1833.1,776.2 L1834.1,776.6 L1835.1,776.6 L1836.1,776.4 L1837.1,776.6 L1838.1,776.7 L1839.1,776.8 L1840.1,776.8 L1841.1,776.5 L1842.1,776.5 L1843.1,776.3 L1844.1,776.2 L1845.1,775.7 L1846.1,774.5 L1847.1,772.1 L1848.1,769.2 L1849.1,765.9 L1850.1,760.8 L1851.1,761.4 L1852.1,765.5 L1853.1,762.2 L1854.1,755.7 L1855.1,750.6 L1856.1,745.7 L1857.1,749.7 L1858.1,751.2 L1859.1,743.6 L1860.1,738.8 L1861.1,745.2 L1862.1,746.2 L1863.1,743.0 L1864.1,742.3 L1865.1,750.5 L1866.1,748.8 L1867.1,750.8 L1868.1,749.7 L1869.1,748.6 L1870.1,749.3 L1871.1,747.5 L1872.1,746.2 L1873.1,747.0 L1874.1,746.8 L1875.1,745.3 L1876.1,737.3 L1877.1,732.5 L1878.1,739.4 L1879.1,731.3 L1880.1,728.4 L1881.1,717.5 L1882.1,712.2 L1883.1,717.4 L1884.1,709.8 L1885.1,694.6 L1886.1,691.8 L1887.1,706.1 L1888.1,720.4 L1889.1,717.5 L1890.1,711.8 L1891.1,713.7 L1892.1,719.5 L1893.1,726.7 L1894.1,725.7 L1895.1,729.0 L1896.1,728.7 L1897.1,728.6 L1898.1,734.9 L1899.1,732.5 L1900.1,730.3 L1901.1,739.5 L1902.1,750.0 L1903.1,752.0 L1904.1,752.7 L1905.1,757.3 L1906.1,765.6 L1907.1,769.3 L1908.1,770.9 L1909.1,772.2 L1910.1,773.3 L1911.1,773.7 L1912.1,774.6 L1913.1,775.3 L1914.1,775.6 L1915.1,775.7 L1916.1,775.9 L1917.1,775.7 L1918.1,775.5 L1919.1,775.5 L1920.1,775.6 L1921.1,776.1 L1922.1,776.2 L1923.1,776.4 L1924.1,776.6 L1925.1,776.6 L1926.1,776.3 L1927.1,776.4 L1928.1,776.4 L1929.1,776.5 L1930.1,776.1 L1931.1,775.8 L1932.1,775.4 L1933.1,774.1 L1934.1,772.6 L1935.1,771.1 L1936.1,768.8 L1937.1,768.0 L1938.1,767.7 L1939.1,762.8 L1940.1,759.6 L1941.1,756.0 L1942.1,752.1 L1943.1,749.4 L1944.1,745.7 L1945.1,745.7 L1946.1,747.0 L1947.1,747.7 L1948.1,749.6 L1949.1,755.0 L1950.1,762.9 L1951.1,764.4 L1952.1,764.4 L1953.1,765.7 L1954.1,764.8 L1955.1,766.1 L1956.1,764.1 L1957.1,754.6 L1958.1,749.9 L1959.1,750.6 L1960.1,757.2 L1961.1,753.7 L1962.1,752.8 L1963.1,758.2 L1964.1,764.6 L1965.1,760.9 L1966.1,758.2 L1967.1,758.7 L1968.1,759.2 L1969.1,758.2 L1970.1,760.3 L1971.1,761.1 L1972.1,756.5 L1973.1,751.8 L1974.1,749.8 L1975.1,746.1 L1976.1,749.4 L1977.1,749.7 L1978.1,752.6 L1979.1,758.7 L1980.1,756.5 L1981.1,755.7 L1982.1,760.8 L1983.1,759.3 L1984.1,757.8 L1985.1,754.6 L1986.1,754.9 L1987.1,758.7 L1988.1,759.3 L1989.1,756.0 L1990.1,758.6 L1991.1,759.5 L1992.1,765.0 L1993.1,770.3 L1994.1,772.5 L1995.1,773.5 L1996.1,775.0 L1997.1,775.2 L1998.1,775.8 L1999.1,775.6 L2000.1,775.5 L2001.1,774.9 L2002.1,775.0 L2003.1,774.7 L2004.1,775.0 L2005.1,775.2 L2006.1,775.6 L2007.1,775.9 L2008.1,776.2 L2009.1,776.5 L2010.1,776.4 L2011.1,776.3 L2012.1,776.3 L2013.1,775.9 L2014.1,775.7 L2015.1,775.5 L2015.1,777.3 Z" fill="#0c3384"/>
<line x1="975.1" y1="776.8" x2="2014.3" y2="776.8" stroke="#5577aa" stroke-width="1"/>
<clipPath id="cp11"><rect x="973.1" y="585.9" width="1043.1999999999998" height="95.30000000000007"/></clipPath>
<g clip-path="url(#cp11)">
<polyline points="1013.6,644.3 1015.1,637.2 1016.6,633.8 1018.1,631.9 1019.6,630.3 1021.1,629.2 1022.6,629.9 1024.1,633.8 1025.6,641.2 1027.1,650.5 1028.6,658.5 1030.1,663.4 1031.6,666.9 1033.1,669.0 1034.6,670.1 1036.1,670.6 1037.6,670.8 1039.1,670.8 1040.6,670.8 1042.1,670.8 1043.6,670.8 1045.1,670.8 1046.6,670.8 1048.1,670.8 1049.6,670.8 1051.1,670.8 1052.6,670.8 1054.1,670.8 1055.6,670.8 1057.1,670.8 1058.6,670.8 1060.1,670.8 1061.6,670.8 1063.1,670.8 1064.6,670.8 1066.1,670.8 1067.6,670.8 1069.1,670.8 1070.6,670.8 1072.1,670.8 1073.6,670.8 1075.1,670.8 1076.6,670.8 1078.1,670.8 1079.6,670.8 1081.1,670.8 1082.6,670.8 1084.1,670.8 1085.6,670.8 1087.1,670.8 1088.6,670.8 1090.1,670.7 1091.6,670.5 1093.1,670.1 1094.6,669.1 1096.1,667.2 1097.6,664.2 1099.1,660.1 1100.6,655.2 1102.1,650.5 1103.6,647.2 1105.1,646.3 1106.6,648.0 1108.1,651.8 1109.6,656.6 1111.1,661.3 1112.6,665.1 1114.1,667.7 1115.6,669.3 1117.1,670.2 1118.6,670.6 1120.1,670.7 1121.6,670.8 1123.1,670.8 1124.6,670.8 1126.1,670.8 1127.6,670.8 1129.1,670.8 1130.6,670.8 1132.1,670.8 1133.6,670.8 1135.1,670.8 1136.6,670.8 1138.1,670.7 1139.6,670.3 1141.1,669.3 1142.6,666.9 1144.1,662.0 1145.6,653.6 1147.1,641.7 1148.6,628.0 1150.1,616.0 1151.6,609.9 1153.1,611.8 1154.6,621.0 1156.1,634.3 1157.6,647.5 1159.1,657.9 1160.6,664.6 1162.1,668.2 1163.6,669.9 1165.1,670.5 1166.6,670.7 1168.1,670.8 1169.6,670.8 1171.1,670.8 1172.6,670.8 1174.1,670.8 1175.6,670.8 1177.1,670.8 1178.6,670.8 1180.1,670.8 1181.6,670.8 1183.1,670.8 1184.6,670.8 1186.1,670.8 1187.6,670.8 1189.1,670.8 1190.6,670.6 1192.1,670.0 1193.6,668.0 1195.1,663.5 1196.6,656.2 1198.1,648.3 1199.6,643.8 1201.1,645.7 1202.6,652.5 1204.1,660.5 1205.6,666.2 1207.1,669.2 1208.6,670.4 1210.1,670.7 1211.6,670.8 1213.1,670.8 1214.6,670.8 1216.1,670.8 1217.6,670.8 1219.1,670.8 1220.6,670.8 1222.1,670.8 1223.6,670.8 1225.1,670.8 1226.6,670.7 1228.1,670.5 1229.6,669.9 1231.1,668.5 1232.6,665.1 1234.1,658.8 1235.6,650.9 1237.1,644.7 1238.6,641.6 1240.1,640.5 1241.6,640.2 1243.1,640.1 1244.6,639.8 1246.1,639.4 1247.6,638.7 1249.1,637.7 1250.6,636.3 1252.1,634.6 1253.6,632.4 1255.1,629.9 1256.6,627.1 1258.1,624.3 1259.6,621.9 1261.1,620.1 1262.6,619.3 1264.1,619.5 1265.6,620.5 1267.1,622.2 1268.6,624.2 1270.1,626.2 1271.6,628.1 1273.1,629.8 1274.6,631.4 1276.1,632.8 1277.6,634.2 1279.1,635.6 1280.6,637.0 1282.1,638.4 1283.6,639.8 1285.1,641.3 1286.6,643.0 1288.1,645.3 1289.6,648.6 1291.1,653.2 1292.6,658.5 1294.1,663.3 1295.6,666.7 1297.1,668.7 1298.6,669.8 1300.1,670.3 1301.6,670.6 1303.1,670.7 1304.6,670.8 1306.1,670.8 1307.6,670.8 1309.1,670.8 1310.6,670.8 1312.1,670.8 1313.6,670.8 1315.1,670.8 1316.6,670.8 1318.1,670.8 1319.6,670.8 1321.1,670.8 1322.6,670.8 1324.1,670.8 1325.6,670.8 1327.1,670.8 1328.6,670.8 1330.1,670.8 1331.6,670.8 1333.1,670.8 1334.6,670.8 1336.1,670.8 1337.6,670.8 1339.1,670.8 1340.6,670.8 1342.1,670.8 1343.6,670.8 1345.1,670.8 1346.6,670.8 1348.1,670.8 1349.6,670.8 1351.1,670.8 1352.6,670.8 1354.1,670.8 1355.6,670.8 1357.1,670.6 1358.6,670.3 1360.1,669.3 1361.6,666.8 1363.1,661.4 1364.6,652.4 1366.1,642.5 1367.6,635.9 1369.1,633.0 1370.6,631.9 1372.1,631.2 1373.6,630.0 1375.1,627.8 1376.6,624.9 1378.1,621.7 1379.6,618.6 1381.1,616.6 1382.6,615.9 1384.1,616.7 1385.6,618.6 1387.1,621.0 1388.6,623.5 1390.1,625.5 1391.6,627.0 1393.1,628.1 1394.6,628.8 1396.1,629.3 1397.6,629.7 1399.1,630.0 1400.6,630.3 1402.1,630.5 1403.6,630.6 1405.1,630.7 1406.6,630.7 1408.1,630.8 1409.6,630.8 1411.1,631.0 1412.6,631.4 1414.1,632.3 1415.6,634.3 1417.1,637.9 1418.6,643.7 1420.1,651.1 1421.6,658.4 1423.1,663.9 1424.6,667.3 1426.1,669.1 1427.6,670.0 1429.1,670.5 1430.6,670.7 1432.1,670.7 1433.6,670.8 1435.1,670.8 1436.6,670.8 1438.1,670.8 1439.6,670.8 1441.1,670.8 1442.6,670.8 1444.1,670.7 1445.6,670.5 1447.1,670.0 1448.6,668.6 1450.1,665.2 1451.6,658.2 1453.1,647.5 1454.6,637.0 1456.1,630.5 1457.6,627.6 1459.1,627.0 1460.6,627.4 1462.1,628.3 1463.6,629.3 1465.1,630.3 1466.6,631.2 1468.1,631.7 1469.6,632.0 1471.1,632.1 1472.6,632.1 1474.1,632.0 1475.6,632.0 1477.1,632.1 1478.6,632.3 1480.1,632.6 1481.6,632.8 1483.1,633.0 1484.6,632.9 1486.1,632.5 1487.6,632.0 1489.1,631.2 1490.6,630.5 1492.1,629.7 1493.6,629.0 1495.1,628.5 1496.6,628.2 1498.1,628.0 1499.6,628.1 1501.1,628.4 1502.6,629.1 1504.1,630.4 1505.6,632.7 1507.1,636.7 1508.6,642.8 1510.1,650.5 1511.6,657.9 1513.1,663.5 1514.6,667.0 1516.1,668.9 1517.6,669.9 1519.1,670.4 1520.6,670.6 1522.1,670.7 1523.6,670.8 1525.1,670.8 1526.6,670.8 1528.1,670.8 1529.6,670.8 1531.1,670.8 1532.6,670.8 1534.1,670.8 1535.6,670.8 1537.1,670.8 1538.6,670.8 1540.1,670.7 1541.6,668.6 1543.1,666.4 1544.6,664.2 1546.1,662.0 1547.6,659.9 1549.1,657.8 1550.6,655.6 1552.1,653.4 1553.6,651.3 1555.1,649.2 1556.6,647.1 1558.1,645.2 1559.6,643.4 1561.1,641.8 1562.6,640.4 1564.1,639.1 1565.6,638.0 1567.1,637.0 1568.6,636.1 1570.1,635.4 1571.6,634.6 1573.1,633.8 1574.6,633.1 1576.1,632.4 1577.6,631.8 1579.1,631.2 1580.6,630.8 1582.1,630.5 1583.6,630.3 1585.1,630.1 1586.6,629.9 1588.1,629.6 1589.6,629.2 1591.1,628.9 1592.6,628.9 1594.1,630.1 1595.6,633.4 1597.1,639.6 1598.6,648.2 1600.1,656.7 1601.6,662.9 1603.1,666.7 1604.6,668.8 1606.1,669.8 1607.6,670.4 1609.1,670.6 1610.6,670.7 1612.1,670.8 1613.6,670.8 1615.1,670.8 1616.6,670.8 1618.1,670.8 1619.6,670.8 1621.1,670.8 1622.6,670.8 1624.1,670.8 1625.6,670.8 1627.1,670.8 1628.6,670.8 1630.1,670.8 1631.6,670.8 1633.1,670.8 1634.6,670.8 1636.1,670.8 1637.6,670.8 1639.1,670.8 1640.6,670.8 1642.1,670.8 1643.6,670.8 1645.1,670.8 1646.6,670.8 1648.1,670.8 1649.6,670.8 1651.1,670.8 1652.6,670.8 1654.1,670.8 1655.6,670.8 1657.1,670.8 1658.6,670.8 1660.1,670.8 1661.6,670.8 1663.1,670.6 1664.6,670.3 1666.1,669.6 1667.6,668.2 1669.1,665.8 1670.6,662.2 1672.1,657.6 1673.6,652.8 1675.1,648.8 1676.6,646.9 1678.1,647.6 1679.6,650.7 1681.1,655.3 1682.6,660.0 1684.1,664.2 1685.6,667.1 1687.1,669.0 1688.6,670.0 1690.1,670.5 1691.6,670.7 1693.1,670.8 1694.6,670.8 1696.1,670.8 1697.6,670.8 1699.1,670.8 1700.6,670.8 1702.1,670.8 1703.6,670.8 1705.1,670.8 1706.6,670.8 1708.1,670.7 1709.6,670.3 1711.1,669.6 1712.6,668.1 1714.1,665.5 1715.6,661.6 1717.1,656.6 1718.6,651.6 1720.1,647.8 1721.6,646.6 1723.1,648.3 1724.6,652.3 1726.1,657.4 1727.6,662.2 1729.1,665.9 1730.6,668.4 1732.1,669.7 1733.6,670.4 1735.1,670.7 1736.6,670.8 1738.1,670.8 1739.6,670.8 1741.1,670.8 1742.6,670.8 1744.1,670.8 1745.6,670.8 1747.1,670.8 1748.6,670.7 1750.1,670.5 1751.6,670.0 1753.1,668.7 1754.6,665.6 1756.1,659.6 1757.6,651.7 1759.1,645.0 1760.6,640.8 1762.1,638.5 1763.6,637.0 1765.1,635.7 1766.6,634.4 1768.1,633.0 1769.6,631.6 1771.1,630.3 1772.6,629.2 1774.1,628.1 1775.6,627.3 1777.1,626.6 1778.6,626.0 1780.1,625.3 1781.6,624.5 1783.1,623.4 1784.6,622.3 1786.1,621.2 1787.6,620.4 1789.1,620.1 1790.6,620.6 1792.1,621.9 1793.6,623.8 1795.1,626.0 1796.6,628.2 1798.1,630.2 1799.6,632.0 1801.1,633.5 1802.6,634.8 1804.1,636.0 1805.6,637.2 1807.1,638.3 1808.6,639.6 1810.1,641.2 1811.6,643.2 1813.1,646.2 1814.6,650.4 1816.1,655.7 1817.6,661.0 1819.1,665.0 1820.6,667.7 1822.1,669.2 1823.6,670.0 1825.1,670.4 1826.6,670.6 1828.1,670.7 1829.6,670.8 1831.1,670.8 1832.6,670.8 1834.1,670.8 1835.6,670.8 1837.1,670.7 1838.6,670.6 1840.1,670.2 1841.6,669.2 1843.1,666.8 1844.6,662.0 1846.1,655.1 1847.6,648.6 1849.1,644.7 1850.6,643.0 1852.1,642.4 1853.6,642.0 1855.1,641.7 1856.6,641.2 1858.1,640.6 1859.6,639.9 1861.1,639.0 1862.6,638.1 1864.1,637.2 1865.6,636.2 1867.1,635.4 1868.6,634.8 1870.1,634.3 1871.6,634.1 1873.1,634.1 1874.6,634.5 1876.1,635.0 1877.6,635.8 1879.1,636.7 1880.6,637.7 1882.1,638.5 1883.6,639.2 1885.1,639.5 1886.6,639.6 1888.1,639.2 1889.6,638.6 1891.1,637.7 1892.6,636.7 1894.1,635.7 1895.6,635.0 1897.1,634.7 1898.6,635.3 1900.1,637.4 1901.6,641.5 1903.1,647.8 1904.6,655.0 1906.1,661.4 1907.6,665.8 1909.1,668.3 1910.6,669.6 1912.1,670.3 1913.6,670.6 1915.1,670.7 1916.6,670.8 1918.1,670.8 1919.6,670.8 1921.1,670.8 1922.6,670.8 1924.1,670.6 1925.6,670.3 1927.1,669.5 1928.6,667.3 1930.1,662.5 1931.6,654.3 1933.1,645.0 1934.6,638.6 1936.1,635.6 1937.6,634.7 1939.1,634.7 1940.6,634.9 1942.1,634.8 1943.6,634.4 1945.1,633.5 1946.6,632.2 1948.1,630.5 1949.6,628.6 1951.1,626.5 1952.6,624.4 1954.1,622.4 1955.6,620.6 1957.1,619.1 1958.6,618.0 1960.1,617.3 1961.6,617.1 1963.1,617.4 1964.6,618.1 1966.1,619.1 1967.6,620.3 1969.1,621.6 1970.6,622.8 1972.1,623.8 1973.6,624.6 1975.1,625.2 1976.6,625.8 1978.1,626.3 1979.6,627.0 1981.1,627.8 1982.6,628.9 1984.1,630.2 1985.6,632.0 1987.1,634.7 1988.6,639.1 1990.1,645.5 1991.6,653.0 1993.1,659.8 1994.6,664.7 1996.1,667.7 1997.6,669.3" fill="none" stroke="#5b7367" stroke-width="2.2" stroke-linejoin="round"/>
<polyline points="1013.6,664.0 1015.1,657.9 1016.6,649.7 1018.1,640.6 1019.6,633.2 1021.1,630.0 1022.6,631.8 1024.1,637.9 1025.6,646.1 1027.1,654.3 1028.6,661.0 1030.1,665.6 1031.6,668.4 1033.1,669.8 1034.6,670.4 1036.1,670.7 1037.6,670.8 1039.1,670.9 1040.6,670.9 1042.1,671.0 1043.6,671.0 1045.1,671.0 1046.6,671.0 1048.1,670.9 1049.6,670.8 1051.1,670.8 1052.6,670.7 1054.1,670.6 1055.6,670.6 1057.1,670.6 1058.6,670.5 1060.1,670.5 1061.6,670.5 1063.1,670.5 1064.6,670.5 1066.1,670.5 1067.6,670.5 1069.1,670.5 1070.6,670.5 1072.1,670.5 1073.6,670.6 1075.1,670.7 1076.6,670.7 1078.1,670.8 1079.6,670.9 1081.1,671.0 1082.6,671.0 1084.1,671.0 1085.6,670.9 1087.1,670.6 1088.6,669.8 1090.1,668.6 1091.6,667.1 1093.1,665.9 1094.6,664.6 1096.1,663.0 1097.6,660.9 1099.1,658.1 1100.6,655.1 1102.1,652.5 1103.6,651.0 1105.1,650.9 1106.6,652.5 1108.1,655.3 1109.6,658.6 1111.1,661.8 1112.6,664.4 1114.1,666.1 1115.6,667.1 1117.1,667.5 1118.6,667.4 1120.1,667.2 1121.6,666.9 1123.1,666.5 1124.6,666.2 1126.1,666.0 1127.6,665.9 1129.1,665.9 1130.6,666.0 1132.1,666.0 1133.6,666.1 1135.1,666.0 1136.6,665.9 1138.1,665.7 1139.6,665.4 1141.1,664.6 1142.6,662.9 1144.1,659.5 1145.6,653.7 1147.1,645.5 1148.6,636.3 1150.1,628.2 1151.6,623.8 1153.1,624.6 1154.6,630.3 1156.1,638.9 1157.6,648.0 1159.1,655.5 1160.6,660.5 1162.1,663.3 1163.6,664.6 1165.1,665.0 1166.6,665.2 1168.1,665.3 1169.6,665.4 1171.1,665.6 1172.6,665.8 1174.1,665.9 1175.6,665.9 1177.1,665.9 1178.6,665.8 1180.1,665.5 1181.6,665.3 1183.1,665.1 1184.6,665.0 1186.1,665.0 1187.6,665.2 1189.1,665.3 1190.6,664.9 1192.1,663.3 1193.6,659.9 1195.1,653.9 1196.6,645.8 1198.1,637.5 1199.6,631.9 1201.1,631.4 1202.6,636.3 1204.1,644.3 1205.6,652.6 1207.1,659.2 1208.6,663.5 1210.1,665.7 1211.6,666.5 1213.1,666.6 1214.6,666.4 1216.1,666.1 1217.6,665.8 1219.1,665.6 1220.6,665.5 1222.1,665.5 1223.6,665.6 1225.1,665.7 1226.6,665.7 1228.1,665.7 1229.6,665.6 1231.1,665.0 1232.6,663.4 1234.1,660.6 1235.6,657.0 1237.1,654.3 1238.6,652.9 1240.1,652.3 1241.6,651.8 1243.1,651.2 1244.6,650.7 1246.1,650.4 1247.6,650.4 1249.1,650.8 1250.6,651.3 1252.1,651.8 1253.6,652.1 1255.1,652.3 1256.6,652.3 1258.1,652.2 1259.6,652.3 1261.1,652.6 1262.6,653.1 1264.1,653.6 1265.6,654.1 1267.1,654.2 1268.6,654.0 1270.1,653.5 1271.6,652.7 1273.1,651.7 1274.6,650.8 1276.1,649.9 1277.6,649.3 1279.1,649.0 1280.6,648.9 1282.1,649.3 1283.6,649.9 1285.1,650.8 1286.6,652.2 1288.1,653.9 1289.6,656.4 1291.1,659.7 1292.6,663.3 1294.1,666.5 1295.6,668.7 1297.1,669.9 1298.6,670.6 1300.1,670.9 1301.6,671.0 1303.1,671.1 1304.6,671.0 1306.1,671.0 1307.6,670.9 1309.1,670.8 1310.6,670.7 1312.1,670.6 1313.6,670.6 1315.1,670.6 1316.6,670.7 1318.1,670.8 1319.6,671.0 1321.1,671.1 1322.6,671.2 1324.1,671.3 1325.6,671.4 1327.1,671.4 1328.6,671.4 1330.1,671.4 1331.6,671.4 1333.1,671.4 1334.6,671.4 1336.1,671.3 1337.6,671.3 1339.1,671.2 1340.6,671.0 1342.1,670.9 1343.6,670.7 1345.1,670.6 1346.6,670.6 1348.1,670.5 1349.6,670.6 1351.1,670.7 1352.6,670.8 1354.1,670.9 1355.6,670.9 1357.1,670.8 1358.6,670.5 1360.1,669.7 1361.6,667.5 1363.1,662.5 1364.6,653.8 1366.1,643.5 1367.6,635.6 1369.1,630.8 1370.6,627.8 1372.1,625.4 1373.6,623.1 1375.1,620.9 1376.6,619.1 1378.1,618.1 1379.6,618.2 1381.1,619.2 1382.6,620.9 1384.1,622.9 1385.6,624.8 1387.1,626.4 1388.6,627.9 1390.1,629.5 1391.6,631.4 1393.1,633.7 1394.6,635.9 1396.1,637.7 1397.6,638.3 1399.1,636.9 1400.6,633.1 1402.1,627.6 1403.6,622.5 1405.1,620.1 1406.6,621.9 1408.1,626.9 1409.6,632.8 1411.1,637.7 1412.6,640.9 1414.1,642.9 1415.6,644.3 1417.1,646.3 1418.6,649.6 1420.1,654.4 1421.6,659.8 1423.1,664.3 1424.6,667.3 1426.1,669.1 1427.6,670.0 1429.1,670.4 1430.6,670.5 1432.1,670.5 1433.6,670.5 1435.1,670.5 1436.6,670.5 1438.1,670.5 1439.6,670.5 1441.1,670.5 1442.6,670.5 1444.1,670.5 1445.6,670.3 1447.1,669.7 1448.6,668.2 1450.1,664.4 1451.6,656.9 1453.1,646.1 1454.6,636.4 1456.1,631.1 1457.6,629.6 1459.1,630.0 1460.6,631.0 1462.1,631.9 1463.6,632.4 1465.1,632.3 1466.6,631.6 1468.1,630.3 1469.6,628.6 1471.1,626.8 1472.6,625.1 1474.1,623.8 1475.6,623.0 1477.1,622.6 1478.6,622.4 1480.1,622.3 1481.6,622.3 1483.1,622.5 1484.6,623.0 1486.1,624.0 1487.6,625.6 1489.1,627.5 1490.6,629.5 1492.1,631.0 1493.6,631.7 1495.1,631.4 1496.6,630.0 1498.1,627.9 1499.6,625.4 1501.1,623.1 1502.6,621.6 1504.1,621.8 1505.6,624.4 1507.1,629.9 1508.6,638.3 1510.1,648.2 1511.6,657.1 1513.1,663.4 1514.6,667.0 1516.1,669.0 1517.6,669.9 1519.1,670.4 1520.6,670.7 1522.1,670.9 1523.6,671.0 1525.1,671.1 1526.6,671.2 1528.1,671.2 1529.6,671.2 1531.1,671.1 1532.6,671.0 1534.1,670.9 1535.6,670.8 1537.1,670.7 1538.6,670.6 1540.1,670.4 1541.6,667.5 1543.1,664.3 1544.6,661.2 1546.1,658.2 1547.6,655.3 1549.1,652.5 1550.6,649.9 1552.1,647.4 1553.6,645.2 1555.1,643.2 1556.6,641.4 1558.1,639.9 1559.6,638.6 1561.1,637.5 1562.6,636.5 1564.1,635.8 1565.6,635.4 1567.1,635.4 1568.6,635.7 1570.1,636.5 1571.6,637.6 1573.1,638.6 1574.6,639.2 1576.1,638.9 1577.6,637.4 1579.1,634.6 1580.6,630.4 1582.1,625.3 1583.6,620.0 1585.1,615.4 1586.6,612.5 1588.1,611.7 1589.6,613.0 1591.1,616.0 1592.6,620.3 1594.1,625.7 1595.6,632.5 1597.1,640.7 1598.6,649.7 1600.1,657.7 1601.6,663.5 1603.1,666.9 1604.6,668.8 1606.1,669.8 1607.6,670.3 1609.1,670.5 1610.6,670.7 1612.1,670.7 1613.6,670.8 1615.1,670.8 1616.6,670.8 1618.1,670.9 1619.6,670.9 1621.1,670.9 1622.6,670.9 1624.1,670.9 1625.6,670.9 1627.1,670.9 1628.6,670.9 1630.1,671.0 1631.6,671.0 1633.1,671.1 1634.6,671.2 1636.1,671.3 1637.6,671.3 1639.1,671.4 1640.6,671.4 1642.1,671.5 1643.6,671.5 1645.1,671.5 1646.6,671.5 1648.1,671.4 1649.6,671.4 1651.1,671.4 1652.6,671.4 1654.1,671.4 1655.6,671.4 1657.1,671.4 1658.6,671.4 1660.1,671.4 1661.6,671.4 1663.1,671.3 1664.6,671.0 1666.1,670.4 1667.6,669.4 1669.1,667.6 1670.6,664.9 1672.1,661.5 1673.6,657.9 1675.1,654.9 1676.6,653.2 1678.1,653.5 1679.6,655.7 1681.1,659.2 1682.6,663.1 1684.1,666.3 1685.6,668.7 1687.1,670.1 1688.6,670.9 1690.1,671.2 1691.6,671.4 1693.1,671.4 1694.6,671.4 1696.1,671.4 1697.6,671.4 1699.1,671.4 1700.6,671.4 1702.1,671.4 1703.6,671.4 1705.1,671.3 1706.6,671.2 1708.1,671.0 1709.6,670.7 1711.1,670.1 1712.6,668.7 1714.1,666.2 1715.6,662.4 1717.1,657.3 1718.6,652.1 1720.1,648.3 1721.6,647.4 1723.1,649.8 1724.6,654.5 1726.1,659.7 1727.6,664.3 1729.1,667.5 1730.6,669.5 1732.1,670.5 1733.6,671.0 1735.1,671.1 1736.6,671.1 1738.1,671.1 1739.6,671.2 1741.1,671.2 1742.6,671.3 1744.1,671.4 1745.6,671.4 1747.1,671.5 1748.6,671.5 1750.1,671.3 1751.6,671.0 1753.1,670.2 1754.6,668.4 1756.1,665.0 1757.6,660.1 1759.1,655.3 1760.6,651.5 1762.1,648.6 1763.6,646.4 1765.1,644.6 1766.6,643.4 1768.1,642.6 1769.6,642.3 1771.1,642.5 1772.6,642.9 1774.1,643.5 1775.6,644.0 1777.1,644.3 1778.6,644.1 1780.1,643.3 1781.6,641.8 1783.1,639.8 1784.6,637.7 1786.1,635.8 1787.6,634.5 1789.1,634.2 1790.6,635.0 1792.1,636.6 1793.6,638.8 1795.1,641.1 1796.6,643.4 1798.1,645.2 1799.6,646.4 1801.1,647.0 1802.6,646.9 1804.1,646.4 1805.6,645.5 1807.1,644.4 1808.6,643.3 1810.1,642.7 1811.6,642.8 1813.1,644.4 1814.6,648.0 1816.1,653.5 1817.6,659.3 1819.1,664.1 1820.6,667.2 1822.1,669.0 1823.6,670.0 1825.1,670.5 1826.6,670.8 1828.1,671.0 1829.6,671.1 1831.1,671.1 1832.6,671.1 1834.1,671.0 1835.6,670.9 1837.1,670.7 1838.6,670.4 1840.1,669.8 1841.6,668.3 1843.1,664.8 1844.6,657.3 1846.1,645.7 1847.6,634.4 1849.1,627.6 1850.6,625.5 1852.1,626.1 1853.6,628.0 1855.1,630.3 1856.6,632.5 1858.1,634.3 1859.6,635.7 1861.1,636.9 1862.6,638.1 1864.1,639.5 1865.6,641.1 1867.1,642.8 1868.6,644.4 1870.1,645.7 1871.6,646.4 1873.1,646.5 1874.6,645.8 1876.1,644.3 1877.6,642.2 1879.1,639.8 1880.6,637.2 1882.1,635.0 1883.6,633.2 1885.1,632.0 1886.6,631.3 1888.1,630.9 1889.6,630.7 1891.1,630.7 1892.6,630.9 1894.1,631.2 1895.6,631.8 1897.1,632.8 1898.6,634.5 1900.1,637.5 1901.6,642.0 1903.1,648.4 1904.6,655.5 1906.1,661.6 1907.6,665.9 1909.1,668.3 1910.6,669.5 1912.1,670.1 1913.6,670.3 1915.1,670.4 1916.6,670.4 1918.1,670.3 1919.6,670.2 1921.1,670.2 1922.6,670.1 1924.1,670.0 1925.6,669.7 1927.1,669.0 1928.6,667.0 1930.1,662.7 1931.6,655.6 1933.1,648.0 1934.6,643.1 1936.1,641.1 1937.6,640.8 1939.1,641.5 1940.6,642.6 1942.1,644.0 1943.6,645.5 1945.1,646.8 1946.6,647.7 1948.1,648.1 1949.6,647.8 1951.1,646.9 1952.6,645.4 1954.1,643.4 1955.6,641.5 1957.1,639.9 1958.6,639.2 1960.1,639.5 1961.6,640.8 1963.1,642.9 1964.6,645.4 1966.1,647.8 1967.6,649.8 1969.1,651.3 1970.6,652.2 1972.1,652.6 1973.6,652.5 1975.1,652.1 1976.6,651.4 1978.1,650.4 1979.6,649.2 1981.1,647.7 1982.6,646.0 1984.1,644.4 1985.6,643.3 1987.1,643.2 1988.6,645.2 1990.1,649.5 1991.6,655.5 1993.1,661.3 1994.6,665.6 1996.1,668.1 1997.6,669.5" fill="none" stroke="#a9c2ea" stroke-width="2.2" stroke-linejoin="round"/>
<polyline points="1013.6,659.5 1015.1,651.7 1016.6,641.6 1018.1,631.1 1019.6,622.9 1021.1,619.4 1022.6,621.7 1024.1,629.1 1025.6,639.2 1027.1,649.5 1028.6,658.0 1030.1,663.9 1031.6,667.4 1033.1,669.2 1034.6,670.0 1036.1,670.3 1037.6,670.3 1039.1,670.3 1040.6,670.3 1042.1,670.2 1043.6,670.2 1045.1,670.1 1046.6,670.0 1048.1,669.9 1049.6,669.9 1051.1,669.8 1052.6,669.8 1054.1,669.8 1055.6,669.9 1057.1,670.0 1058.6,670.1 1060.1,670.2 1061.6,670.3 1063.1,670.3 1064.6,670.4 1066.1,670.3 1067.6,670.3 1069.1,670.3 1070.6,670.2 1072.1,670.2 1073.6,670.2 1075.1,670.1 1076.6,670.1 1078.1,670.1 1079.6,670.1 1081.1,670.1 1082.6,670.2 1084.1,670.1 1085.6,670.0 1087.1,669.6 1088.6,668.6 1090.1,667.1 1091.6,665.5 1093.1,664.1 1094.6,662.8 1096.1,661.2 1097.6,658.8 1099.1,655.8 1100.6,652.3 1102.1,649.0 1103.6,646.7 1105.1,646.1 1106.6,647.5 1108.1,650.6 1109.6,654.6 1111.1,658.6 1112.6,661.8 1114.1,664.0 1115.6,665.2 1117.1,665.7 1118.6,665.7 1120.1,665.5 1121.6,665.3 1123.1,665.1 1124.6,665.0 1126.1,665.0 1127.6,665.1 1129.1,665.1 1130.6,665.0 1132.1,664.8 1133.6,664.5 1135.1,664.2 1136.6,663.9 1138.1,663.5 1139.6,663.1 1141.1,662.1 1142.6,660.0 1144.1,655.6 1145.6,647.7 1147.1,636.4 1148.6,623.2 1150.1,611.6 1151.6,605.6 1153.1,607.6 1154.6,616.7 1156.1,629.7 1157.6,642.5 1159.1,652.5 1160.6,658.9 1162.1,662.4 1163.6,664.0 1165.1,664.5 1166.6,664.6 1168.1,664.5 1169.6,664.3 1171.1,664.2 1172.6,664.0 1174.1,663.7 1175.6,663.3 1177.1,662.9 1178.6,662.5 1180.1,662.2 1181.6,662.1 1183.1,662.2 1184.6,662.5 1186.1,662.8 1187.6,663.2 1189.1,663.3 1190.6,662.6 1192.1,660.3 1193.6,655.2 1195.1,646.2 1196.6,633.4 1198.1,619.0 1199.6,607.7 1201.1,604.0 1202.6,610.0 1204.1,623.1 1205.6,638.1 1207.1,650.5 1208.6,658.5 1210.1,662.7 1211.6,664.6 1213.1,665.3 1214.6,665.3 1216.1,665.1 1217.6,664.7 1219.1,664.3 1220.6,664.1 1222.1,664.1 1223.6,664.2 1225.1,664.4 1226.6,664.5 1228.1,664.5 1229.6,664.0 1231.1,662.8 1232.6,660.1 1234.1,655.2 1235.6,648.8 1237.1,643.4 1238.6,640.6 1240.1,639.8 1241.6,640.0 1243.1,640.6 1244.6,641.4 1246.1,642.2 1247.6,642.9 1249.1,643.5 1250.6,643.8 1252.1,643.7 1253.6,643.5 1255.1,643.3 1256.6,643.3 1258.1,643.8 1259.6,644.8 1261.1,646.1 1262.6,647.4 1264.1,648.3 1265.6,648.8 1267.1,648.6 1268.6,647.8 1270.1,646.6 1271.6,645.4 1273.1,644.2 1274.6,643.4 1276.1,643.0 1277.6,643.0 1279.1,643.3 1280.6,643.9 1282.1,644.6 1283.6,645.4 1285.1,646.5 1286.6,648.0 1288.1,650.1 1289.6,653.1 1291.1,657.2 1292.6,661.7 1294.1,665.5 1295.6,668.1 1297.1,669.5 1298.6,670.3 1300.1,670.6 1301.6,670.8 1303.1,670.8 1304.6,670.8 1306.1,670.8 1307.6,670.8 1309.1,670.8 1310.6,670.7 1312.1,670.7 1313.6,670.6 1315.1,670.6 1316.6,670.6 1318.1,670.5 1319.6,670.5 1321.1,670.5 1322.6,670.4 1324.1,670.4 1325.6,670.3 1327.1,670.3 1328.6,670.2 1330.1,670.3 1331.6,670.3 1333.1,670.4 1334.6,670.4 1336.1,670.5 1337.6,670.4 1339.1,670.4 1340.6,670.2 1342.1,670.1 1343.6,670.0 1345.1,669.9 1346.6,669.9 1348.1,670.1 1349.6,670.2 1351.1,670.5 1352.6,670.7 1354.1,670.9 1355.6,671.0 1357.1,671.0 1358.6,670.8 1360.1,670.1 1361.6,668.2 1363.1,664.0 1364.6,656.9 1366.1,648.4 1367.6,641.8 1369.1,637.6 1370.6,634.8 1372.1,632.5 1373.6,630.4 1375.1,628.5 1376.6,627.1 1378.1,626.4 1379.6,626.4 1381.1,626.9 1382.6,627.5 1384.1,627.9 1385.6,627.8 1387.1,627.2 1388.6,626.3 1390.1,625.6 1391.6,625.6 1393.1,626.6 1394.6,628.5 1396.1,630.9 1397.6,632.8 1399.1,633.2 1400.6,631.8 1402.1,629.0 1403.6,626.3 1405.1,625.0 1406.6,625.7 1408.1,628.1 1409.6,631.0 1411.1,633.3 1412.6,634.4 1414.1,634.8 1415.6,635.4 1417.1,637.2 1418.6,641.3 1420.1,647.8 1421.6,655.2 1423.1,661.5 1424.6,665.7 1426.1,668.2 1427.6,669.5 1429.1,670.1 1430.6,670.4 1432.1,670.5 1433.6,670.5 1435.1,670.4 1436.6,670.3 1438.1,670.2 1439.6,670.1 1441.1,670.0 1442.6,669.8 1444.1,669.6 1445.6,669.1 1447.1,668.2 1448.6,665.8 1450.1,660.4 1451.6,649.9 1453.1,635.5 1454.6,623.3 1456.1,617.7 1457.6,617.0 1459.1,618.6 1460.6,620.6 1462.1,622.3 1463.6,623.0 1465.1,622.5 1466.6,620.7 1468.1,617.7 1469.6,613.9 1471.1,609.7 1472.6,605.7 1474.1,602.3 1475.6,599.8 1477.1,598.1 1478.6,597.1 1480.1,596.8 1481.6,597.3 1483.1,598.8 1484.6,601.2 1486.1,604.8 1487.6,609.1 1489.1,613.5 1490.6,617.4 1492.1,620.1 1493.6,621.5 1495.1,621.6 1496.6,620.7 1498.1,619.5 1499.6,618.3 1501.1,617.6 1502.6,617.6 1504.1,618.6 1505.6,621.2 1507.1,626.2 1508.6,634.2 1510.1,644.2 1511.6,653.9 1513.1,661.1 1514.6,665.5 1516.1,667.9 1517.6,669.1 1519.1,669.8 1520.6,670.1 1522.1,670.4 1523.6,670.5 1525.1,670.6 1526.6,670.7 1528.1,670.7 1529.6,670.7 1531.1,670.6 1532.6,670.6 1534.1,670.5 1535.6,670.4 1537.1,670.4 1538.6,670.3 1540.1,670.1 1541.6,666.9 1543.1,663.4 1544.6,660.0 1546.1,656.8 1547.6,653.5 1549.1,650.2 1550.6,646.7 1552.1,643.3 1553.6,639.9 1555.1,636.8 1556.6,633.9 1558.1,631.4 1559.6,629.3 1561.1,627.5 1562.6,626.2 1564.1,625.2 1565.6,624.6 1567.1,624.3 1568.6,624.2 1570.1,624.5 1571.6,624.8 1573.1,625.3 1574.6,625.6 1576.1,625.8 1577.6,625.5 1579.1,624.5 1580.6,622.9 1582.1,620.6 1583.6,617.8 1585.1,614.9 1586.6,612.4 1588.1,610.7 1589.6,610.2 1591.1,611.2 1592.6,613.9 1594.1,618.5 1595.6,625.3 1597.1,634.3 1598.6,644.7 1600.1,654.1 1601.6,660.9 1603.1,665.0 1604.6,667.3 1606.1,668.6 1607.6,669.2 1609.1,669.6 1610.6,669.9 1612.1,670.1 1613.6,670.3 1615.1,670.4 1616.6,670.6 1618.1,670.6 1619.6,670.7 1621.1,670.7 1622.6,670.7 1624.1,670.7 1625.6,670.6 1627.1,670.6 1628.6,670.5 1630.1,670.5 1631.6,670.4 1633.1,670.4 1634.6,670.4 1636.1,670.5 1637.6,670.5 1639.1,670.6 1640.6,670.7 1642.1,670.8 1643.6,670.8 1645.1,670.9 1646.6,670.9 1648.1,670.9 1649.6,670.9 1651.1,670.9 1652.6,670.9 1654.1,670.8 1655.6,670.8 1657.1,670.8 1658.6,670.8 1660.1,670.8 1661.6,670.8 1663.1,670.8 1664.6,670.5 1666.1,670.0 1667.6,668.8 1669.1,666.8 1670.6,663.7 1672.1,659.7 1673.6,655.5 1675.1,652.2 1676.6,650.7 1678.1,651.6 1679.6,654.5 1681.1,658.4 1682.6,662.2 1684.1,665.4 1685.6,667.7 1687.1,669.0 1688.6,669.8 1690.1,670.1 1691.6,670.2 1693.1,670.2 1694.6,670.3 1696.1,670.4 1697.6,670.6 1699.1,670.8 1700.6,670.9 1702.1,671.0 1703.6,671.0 1705.1,671.0 1706.6,670.9 1708.1,670.7 1709.6,670.3 1711.1,669.6 1712.6,668.1 1714.1,665.4 1715.6,661.2 1717.1,655.5 1718.6,649.2 1720.1,643.7 1721.6,640.9 1723.1,641.8 1724.6,646.1 1726.1,652.3 1727.6,658.3 1729.1,663.1 1730.6,666.3 1732.1,668.1 1733.6,668.9 1735.1,669.2 1736.6,669.3 1738.1,669.3 1739.6,669.3 1741.1,669.2 1742.6,669.2 1744.1,669.2 1745.6,669.3 1747.1,669.5 1748.6,669.7 1750.1,669.8 1751.6,669.6 1753.1,668.9 1754.6,666.8 1756.1,662.7 1757.6,656.7 1759.1,650.4 1760.6,645.3 1762.1,641.4 1763.6,638.4 1765.1,636.2 1766.6,634.8 1768.1,634.1 1769.6,634.2 1771.1,635.1 1772.6,636.6 1774.1,638.5 1775.6,640.4 1777.1,641.8 1778.6,642.2 1780.1,641.5 1781.6,639.6 1783.1,636.6 1784.6,633.0 1786.1,629.4 1787.6,626.4 1789.1,624.5 1790.6,623.8 1792.1,624.3 1793.6,625.8 1795.1,627.8 1796.6,630.2 1798.1,632.5 1799.6,634.5 1801.1,636.0 1802.6,637.1 1804.1,637.8 1805.6,638.6 1807.1,639.3 1808.6,640.2 1810.1,641.4 1811.6,642.9 1813.1,645.2 1814.6,648.8 1816.1,653.7 1817.6,659.0 1819.1,663.4 1820.6,666.4 1822.1,668.1 1823.6,669.0 1825.1,669.6 1826.6,669.8 1828.1,670.0 1829.6,670.2 1831.1,670.3 1832.6,670.4 1834.1,670.5 1835.6,670.5 1837.1,670.5 1838.6,670.3 1840.1,669.9 1841.6,668.6 1843.1,665.3 1844.6,658.3 1846.1,647.2 1847.6,635.5 1849.1,627.2 1850.6,622.5 1852.1,620.3 1853.6,619.6 1855.1,620.1 1856.6,621.4 1858.1,623.1 1859.6,625.1 1861.1,627.1 1862.6,629.0 1864.1,630.9 1865.6,632.7 1867.1,634.3 1868.6,635.8 1870.1,637.0 1871.6,637.7 1873.1,637.7 1874.6,636.7 1876.1,634.8 1877.6,631.8 1879.1,628.0 1880.6,623.7 1882.1,619.2 1883.6,615.0 1885.1,611.4 1886.6,608.7 1888.1,607.0 1889.6,606.2 1891.1,606.1 1892.6,606.6 1894.1,607.5 1895.6,608.8 1897.1,610.8 1898.6,613.8 1900.1,618.5 1901.6,625.7 1903.1,635.3 1904.6,646.1 1906.1,655.6 1907.6,662.1 1909.1,666.0 1910.6,668.1 1912.1,669.2 1913.6,669.7 1915.1,670.1 1916.6,670.2 1918.1,670.3 1919.6,670.4 1921.1,670.3 1922.6,670.3 1924.1,670.1 1925.6,669.8 1927.1,668.9 1928.6,666.8 1930.1,662.1 1931.6,654.4 1933.1,646.3 1934.6,640.9 1936.1,638.5 1937.6,637.7 1939.1,637.4 1940.6,637.4 1942.1,637.7 1943.6,638.2 1945.1,639.0 1946.6,639.9 1948.1,640.8 1949.6,641.3 1951.1,641.3 1952.6,640.6 1954.1,639.2 1955.6,637.2 1957.1,635.1 1958.6,633.3 1960.1,632.2 1961.6,632.1 1963.1,633.0 1964.6,634.5 1966.1,636.2 1967.6,637.7 1969.1,638.8 1970.6,639.4 1972.1,639.6 1973.6,639.5 1975.1,639.3 1976.6,639.0 1978.1,638.7 1979.6,638.3 1981.1,638.0 1982.6,637.8 1984.1,637.9 1985.6,638.7 1987.1,640.5 1988.6,643.9 1990.1,649.1 1991.6,655.3 1993.1,661.0 1994.6,665.1 1996.1,667.7 1997.6,669.0" fill="none" stroke="#8eb0e4" stroke-width="2.2" stroke-linejoin="round"/>
<polyline points="1013.6,661.8 1015.1,654.6 1016.6,644.9 1018.1,634.2 1019.6,625.3 1021.1,620.9 1022.6,622.3 1024.1,629.0 1025.6,638.9 1027.1,649.2 1028.6,657.8 1030.1,663.7 1031.6,667.3 1033.1,669.1 1034.6,669.9 1036.1,670.2 1037.6,670.3 1039.1,670.4 1040.6,670.4 1042.1,670.4 1043.6,670.3 1045.1,670.2 1046.6,670.1 1048.1,670.0 1049.6,670.0 1051.1,670.0 1052.6,670.0 1054.1,670.0 1055.6,670.0 1057.1,670.1 1058.6,670.1 1060.1,670.1 1061.6,670.2 1063.1,670.2 1064.6,670.2 1066.1,670.3 1067.6,670.3 1069.1,670.4 1070.6,670.4 1072.1,670.3 1073.6,670.3 1075.1,670.2 1076.6,670.2 1078.1,670.1 1079.6,670.0 1081.1,670.0 1082.6,669.9 1084.1,669.8 1085.6,669.7 1087.1,669.2 1088.6,668.3 1090.1,666.8 1091.6,665.2 1093.1,663.9 1094.6,662.7 1096.1,661.0 1097.6,658.5 1099.1,655.1 1100.6,650.9 1102.1,646.6 1103.6,643.1 1105.1,641.4 1106.6,641.9 1108.1,644.7 1109.6,649.1 1111.1,653.9 1112.6,658.1 1114.1,661.2 1115.6,663.1 1117.1,664.2 1118.6,664.8 1120.1,665.1 1121.6,665.3 1123.1,665.4 1124.6,665.5 1126.1,665.5 1127.6,665.4 1129.1,665.3 1130.6,665.1 1132.1,665.0 1133.6,664.8 1135.1,664.6 1136.6,664.5 1138.1,664.5 1139.6,664.4 1141.1,663.9 1142.6,662.6 1144.1,659.6 1145.6,654.2 1147.1,646.6 1148.6,638.1 1150.1,631.0 1151.6,627.9 1153.1,630.1 1154.6,636.8 1156.1,645.6 1157.6,654.0 1159.1,660.3 1160.6,664.3 1162.1,666.5 1163.6,667.4 1165.1,667.8 1166.6,667.9 1168.1,667.9 1169.6,667.9 1171.1,667.9 1172.6,667.8 1174.1,667.7 1175.6,667.4 1177.1,667.0 1178.6,666.4 1180.1,665.9 1181.6,665.4 1183.1,665.0 1184.6,664.8 1186.1,664.7 1187.6,664.7 1189.1,664.5 1190.6,663.7 1192.1,661.5 1193.6,656.7 1195.1,648.4 1196.6,636.6 1198.1,623.6 1199.6,613.6 1201.1,610.7 1202.6,616.3 1204.1,627.9 1205.6,641.0 1207.1,651.8 1208.6,658.9 1210.1,662.7 1211.6,664.5 1213.1,665.2 1214.6,665.5 1216.1,665.7 1217.6,665.9 1219.1,666.0 1220.6,666.2 1222.1,666.4 1223.6,666.7 1225.1,666.8 1226.6,666.9 1228.1,666.9 1229.6,666.7 1231.1,665.9 1232.6,664.2 1234.1,660.9 1235.6,656.4 1237.1,652.4 1238.6,649.8 1240.1,648.3 1241.6,647.4 1243.1,646.6 1244.6,646.1 1246.1,645.8 1247.6,646.0 1249.1,646.4 1250.6,647.1 1252.1,647.8 1253.6,648.3 1255.1,648.6 1256.6,648.7 1258.1,648.6 1259.6,648.6 1261.1,648.6 1262.6,648.6 1264.1,648.4 1265.6,647.8 1267.1,646.5 1268.6,644.7 1270.1,642.4 1271.6,640.0 1273.1,637.9 1274.6,636.6 1276.1,636.1 1277.6,636.5 1279.1,637.6 1280.6,639.0 1282.1,640.5 1283.6,641.8 1285.1,643.0 1286.6,644.4 1288.1,646.4 1289.6,649.6 1291.1,654.1 1292.6,659.2 1294.1,663.6 1295.6,666.7 1297.1,668.4 1298.6,669.3 1300.1,669.7 1301.6,669.9 1303.1,670.1 1304.6,670.2 1306.1,670.2 1307.6,670.2 1309.1,670.2 1310.6,670.1 1312.1,670.1 1313.6,670.0 1315.1,670.1 1316.6,670.1 1318.1,670.2 1319.6,670.4 1321.1,670.5 1322.6,670.5 1324.1,670.6 1325.6,670.6 1327.1,670.5 1328.6,670.5 1330.1,670.4 1331.6,670.4 1333.1,670.3 1334.6,670.2 1336.1,670.1 1337.6,670.0 1339.1,670.0 1340.6,669.9 1342.1,669.9 1343.6,669.9 1345.1,669.9 1346.6,669.9 1348.1,669.9 1349.6,669.9 1351.1,669.8 1352.6,669.8 1354.1,669.8 1355.6,669.8 1357.1,669.7 1358.6,669.4 1360.1,668.4 1361.6,665.9 1363.1,660.3 1364.6,650.9 1366.1,640.0 1367.6,631.7 1369.1,626.6 1370.6,623.2 1372.1,620.7 1373.6,618.8 1375.1,617.8 1376.6,618.2 1378.1,620.2 1379.6,623.6 1381.1,627.8 1382.6,631.9 1384.1,635.3 1385.6,637.7 1387.1,638.8 1388.6,639.1 1390.1,638.6 1391.6,637.9 1393.1,637.0 1394.6,636.1 1396.1,634.9 1397.6,632.7 1399.1,628.6 1400.6,622.1 1402.1,613.8 1403.6,606.5 1405.1,603.6 1406.6,606.3 1408.1,613.1 1409.6,620.8 1411.1,627.2 1412.6,631.4 1414.1,634.0 1415.6,636.1 1417.1,638.6 1418.6,642.7 1420.1,648.5 1421.6,655.2 1423.1,660.9 1424.6,665.0 1426.1,667.4 1427.6,668.7 1429.1,669.4 1430.6,669.8 1432.1,670.0 1433.6,670.2 1435.1,670.4 1436.6,670.5 1438.1,670.5 1439.6,670.6 1441.1,670.5 1442.6,670.4 1444.1,670.1 1445.6,669.7 1447.1,668.6 1448.6,666.3 1450.1,660.8 1451.6,649.9 1453.1,634.5 1454.6,621.0 1456.1,614.3 1457.6,613.0 1459.1,614.0 1460.6,615.2 1462.1,615.8 1463.6,615.4 1465.1,613.8 1466.6,611.2 1468.1,607.6 1469.6,603.6 1471.1,599.7 1472.6,596.7 1474.1,595.0 1475.6,595.1 1477.1,596.6 1478.6,599.1 1480.1,601.9 1481.6,604.4 1483.1,606.4 1484.6,607.8 1486.1,609.1 1487.6,610.5 1489.1,612.2 1490.6,613.9 1492.1,615.1 1493.6,615.8 1495.1,615.7 1496.6,615.4 1498.1,615.3 1499.6,615.6 1501.1,616.8 1502.6,618.9 1504.1,622.0 1505.6,626.2 1507.1,632.0 1508.6,639.7 1510.1,648.5 1511.6,656.7 1513.1,662.6 1514.6,666.2 1516.1,668.1 1517.6,669.1 1519.1,669.5 1520.6,669.8 1522.1,669.9 1523.6,670.1 1525.1,670.2 1526.6,670.3 1528.1,670.4 1529.6,670.5 1531.1,670.5 1532.6,670.5 1534.1,670.4 1535.6,670.4 1537.1,670.3 1538.6,670.3 1540.1,670.0 1541.6,667.3 1543.1,664.5 1544.6,662.4 1546.1,661.1 1547.6,660.4 1549.1,660.0 1550.6,659.5 1552.1,658.7 1553.6,657.3 1555.1,655.1 1556.6,652.2 1558.1,648.8 1559.6,645.0 1561.1,641.3 1562.6,637.8 1564.1,634.7 1565.6,632.0 1567.1,629.6 1568.6,627.7 1570.1,626.1 1571.6,625.1 1573.1,624.4 1574.6,623.9 1576.1,623.3 1577.6,622.1 1579.1,620.0 1580.6,616.9 1582.1,613.1 1583.6,609.2 1585.1,606.1 1586.6,604.6 1588.1,605.1 1589.6,607.7 1591.1,611.8 1592.6,616.9 1594.1,622.9 1595.6,629.6 1597.1,637.6 1598.6,646.5 1600.1,654.8 1601.6,661.0 1603.1,664.9 1604.6,667.1 1606.1,668.3 1607.6,668.9 1609.1,669.3 1610.6,669.6 1612.1,669.8 1613.6,670.0 1615.1,670.2 1616.6,670.4 1618.1,670.5 1619.6,670.6 1621.1,670.6 1622.6,670.6 1624.1,670.6 1625.6,670.5 1627.1,670.4 1628.6,670.3 1630.1,670.3 1631.6,670.2 1633.1,670.3 1634.6,670.3 1636.1,670.4 1637.6,670.4 1639.1,670.5 1640.6,670.6 1642.1,670.6 1643.6,670.7 1645.1,670.7 1646.6,670.7 1648.1,670.7 1649.6,670.8 1651.1,670.8 1652.6,670.7 1654.1,670.7 1655.6,670.6 1657.1,670.5 1658.6,670.4 1660.1,670.2 1661.6,670.1 1663.1,669.9 1664.6,669.5 1666.1,668.8 1667.6,667.5 1669.1,665.4 1670.6,662.2 1672.1,658.3 1673.6,654.0 1675.1,650.5 1676.6,648.5 1678.1,648.8 1679.6,651.4 1681.1,655.5 1682.6,660.1 1684.1,664.1 1685.6,666.9 1687.1,668.7 1688.6,669.7 1690.1,670.1 1691.6,670.3 1693.1,670.4 1694.6,670.4 1696.1,670.3 1697.6,670.3 1699.1,670.2 1700.6,670.1 1702.1,670.0 1703.6,670.0 1705.1,669.9 1706.6,670.0 1708.1,669.9 1709.6,669.8 1711.1,669.3 1712.6,668.1 1714.1,666.0 1715.6,662.7 1717.1,658.5 1718.6,653.9 1720.1,650.2 1721.6,648.6 1723.1,649.5 1724.6,652.8 1726.1,657.2 1727.6,661.6 1729.1,665.2 1730.6,667.6 1732.1,669.0 1733.6,669.6 1735.1,669.9 1736.6,670.0 1738.1,670.1 1739.6,670.1 1741.1,670.2 1742.6,670.3 1744.1,670.4 1745.6,670.5 1747.1,670.6 1748.6,670.6 1750.1,670.5 1751.6,670.2 1753.1,669.2 1754.6,667.0 1756.1,662.7 1757.6,656.4 1759.1,650.0 1760.6,645.0 1762.1,641.5 1763.6,639.1 1765.1,637.8 1766.6,637.4 1768.1,637.7 1769.6,638.6 1771.1,639.9 1772.6,641.4 1774.1,642.9 1775.6,644.2 1777.1,645.1 1778.6,645.3 1780.1,644.6 1781.6,643.0 1783.1,640.7 1784.6,638.1 1786.1,635.4 1787.6,633.2 1789.1,631.8 1790.6,631.4 1792.1,632.3 1793.6,634.2 1795.1,637.0 1796.6,640.2 1798.1,643.3 1799.6,645.8 1801.1,647.4 1802.6,648.1 1804.1,648.0 1805.6,647.1 1807.1,645.9 1808.6,644.7 1810.1,643.9 1811.6,643.8 1813.1,645.2 1814.6,648.4 1816.1,653.3 1817.6,658.7 1819.1,663.2 1820.6,666.3 1822.1,668.1 1823.6,669.1 1825.1,669.6 1826.6,669.8 1828.1,669.9 1829.6,670.0 1831.1,669.9 1832.6,669.9 1834.1,669.8 1835.6,669.7 1837.1,669.7 1838.6,669.5 1840.1,669.0 1841.6,667.8 1843.1,664.8 1844.6,658.4 1846.1,648.6 1847.6,638.6 1849.1,631.4 1850.6,626.8 1852.1,623.9 1853.6,622.2 1855.1,621.7 1856.6,622.4 1858.1,624.0 1859.6,626.1 1861.1,628.4 1862.6,630.7 1864.1,632.7 1865.6,634.5 1867.1,636.2 1868.6,637.9 1870.1,639.4 1871.6,640.5 1873.1,640.9 1874.6,640.5 1876.1,639.1 1877.6,636.8 1879.1,633.8 1880.6,630.4 1882.1,627.0 1883.6,623.9 1885.1,621.6 1886.6,620.3 1888.1,620.0 1889.6,620.7 1891.1,622.0 1892.6,623.8 1894.1,625.7 1895.6,627.7 1897.1,629.8 1898.6,632.4 1900.1,635.8 1901.6,640.8 1903.1,647.4 1904.6,654.7 1906.1,661.0 1907.6,665.4 1909.1,667.9 1910.6,669.2 1912.1,669.8 1913.6,670.1 1915.1,670.1 1916.6,670.1 1918.1,670.1 1919.6,670.2 1921.1,670.2 1922.6,670.2 1924.1,670.2 1925.6,670.0 1927.1,669.3 1928.6,667.4 1930.1,662.9 1931.6,655.2 1933.1,646.0 1934.6,639.0 1936.1,635.3 1937.6,634.1 1939.1,634.2 1940.6,635.2 1942.1,636.7 1943.6,638.3 1945.1,639.8 1946.6,641.2 1948.1,642.1 1949.6,642.5 1951.1,642.1 1952.6,641.1 1954.1,639.5 1955.6,637.5 1957.1,635.5 1958.6,633.9 1960.1,632.9 1961.6,632.9 1963.1,633.6 1964.6,634.9 1966.1,636.4 1967.6,637.8 1969.1,638.7 1970.6,639.1 1972.1,639.0 1973.6,638.6 1975.1,638.0 1976.6,637.4 1978.1,636.7 1979.6,636.0 1981.1,635.1 1982.6,634.3 1984.1,633.6 1985.6,633.7 1987.1,635.2 1988.6,638.9 1990.1,645.0 1991.6,652.4 1993.1,659.3 1994.6,664.2 1996.1,667.1 1997.6,668.7" fill="none" stroke="#6f9ad9" stroke-width="2.2" stroke-linejoin="round"/>
<polyline points="1013.6,665.5 1015.1,660.3 1016.6,653.0 1018.1,644.7 1019.6,637.5 1021.1,633.8 1022.6,634.8 1024.1,640.0 1025.6,647.8 1027.1,655.8 1028.6,662.3 1030.1,666.8 1031.6,669.4 1033.1,670.7 1034.6,671.3 1036.1,671.5 1037.6,671.6 1039.1,671.7 1040.6,671.6 1042.1,671.6 1043.6,671.5 1045.1,671.4 1046.6,671.3 1048.1,671.3 1049.6,671.3 1051.1,671.3 1052.6,671.3 1054.1,671.3 1055.6,671.3 1057.1,671.3 1058.6,671.2 1060.1,671.1 1061.6,671.0 1063.1,670.9 1064.6,670.8 1066.1,670.7 1067.6,670.6 1069.1,670.6 1070.6,670.6 1072.1,670.6 1073.6,670.7 1075.1,670.8 1076.6,670.9 1078.1,671.0 1079.6,671.1 1081.1,671.2 1082.6,671.3 1084.1,671.3 1085.6,671.2 1087.1,671.0 1088.6,670.4 1090.1,669.6 1091.6,668.8 1093.1,668.3 1094.6,667.8 1096.1,667.2 1097.6,666.2 1099.1,664.8 1100.6,663.0 1102.1,661.1 1103.6,659.6 1105.1,658.9 1106.6,659.1 1108.1,660.4 1109.6,662.3 1111.1,664.4 1112.6,666.2 1114.1,667.6 1115.6,668.4 1117.1,668.7 1118.6,668.8 1120.1,668.8 1121.6,668.6 1123.1,668.5 1124.6,668.3 1126.1,668.1 1127.6,668.0 1129.1,667.8 1130.6,667.7 1132.1,667.6 1133.6,667.5 1135.1,667.4 1136.6,667.4 1138.1,667.3 1139.6,667.0 1141.1,666.5 1142.6,665.1 1144.1,662.3 1145.6,657.1 1147.1,649.5 1148.6,640.3 1150.1,632.0 1151.6,627.5 1153.1,628.5 1154.6,634.6 1156.1,643.4 1157.6,652.2 1159.1,659.1 1160.6,663.5 1162.1,666.0 1163.6,667.2 1165.1,667.6 1166.6,667.8 1168.1,667.9 1169.6,667.8 1171.1,667.7 1172.6,667.5 1174.1,667.3 1175.6,666.9 1177.1,666.5 1178.6,666.0 1180.1,665.7 1181.6,665.4 1183.1,665.4 1184.6,665.5 1186.1,665.7 1187.6,665.9 1189.1,666.0 1190.6,665.5 1192.1,663.8 1193.6,660.1 1195.1,653.6 1196.6,644.5 1198.1,634.6 1199.6,627.3 1201.1,626.0 1202.6,631.4 1204.1,641.1 1205.6,651.3 1207.1,659.2 1208.6,664.1 1210.1,666.6 1211.6,667.6 1213.1,667.8 1214.6,667.5 1216.1,667.1 1217.6,666.7 1219.1,666.3 1220.6,666.2 1222.1,666.2 1223.6,666.3 1225.1,666.5 1226.6,666.6 1228.1,666.7 1229.6,666.5 1231.1,665.9 1232.6,664.5 1234.1,661.7 1235.6,658.1 1237.1,655.0 1238.6,653.1 1240.1,651.9 1241.6,651.2 1243.1,650.6 1244.6,650.2 1246.1,650.2 1247.6,650.4 1249.1,650.8 1250.6,651.3 1252.1,651.8 1253.6,652.3 1255.1,653.0 1256.6,653.7 1258.1,654.7 1259.6,655.8 1261.1,657.0 1262.6,658.0 1264.1,658.7 1265.6,658.9 1267.1,658.7 1268.6,657.9 1270.1,656.8 1271.6,655.4 1273.1,654.0 1274.6,652.7 1276.1,651.9 1277.6,651.5 1279.1,651.6 1280.6,652.1 1282.1,652.9 1283.6,653.9 1285.1,654.9 1286.6,656.0 1288.1,657.5 1289.6,659.4 1291.1,662.0 1292.6,664.9 1294.1,667.5 1295.6,669.2 1297.1,670.3 1298.6,670.8 1300.1,671.0 1301.6,671.2 1303.1,671.3 1304.6,671.3 1306.1,671.4 1307.6,671.4 1309.1,671.4 1310.6,671.4 1312.1,671.3 1313.6,671.3 1315.1,671.3 1316.6,671.3 1318.1,671.3 1319.6,671.3 1321.1,671.3 1322.6,671.4 1324.1,671.5 1325.6,671.5 1327.1,671.6 1328.6,671.7 1330.1,671.8 1331.6,671.8 1333.1,671.8 1334.6,671.7 1336.1,671.7 1337.6,671.6 1339.1,671.5 1340.6,671.4 1342.1,671.3 1343.6,671.3 1345.1,671.2 1346.6,671.1 1348.1,671.1 1349.6,671.1 1351.1,671.1 1352.6,671.1 1354.1,671.1 1355.6,671.0 1357.1,670.8 1358.6,670.4 1360.1,669.4 1361.6,667.0 1363.1,661.8 1364.6,653.4 1366.1,644.5 1367.6,639.1 1369.1,637.6 1370.6,638.0 1372.1,638.9 1373.6,639.6 1375.1,640.1 1376.6,640.5 1378.1,640.9 1379.6,641.6 1381.1,642.4 1382.6,643.3 1384.1,643.9 1385.6,644.1 1387.1,643.8 1388.6,643.1 1390.1,642.2 1391.6,641.4 1393.1,641.0 1394.6,640.8 1396.1,640.6 1397.6,639.7 1399.1,637.3 1400.6,632.9 1402.1,626.9 1403.6,621.3 1405.1,618.6 1406.6,620.1 1408.1,624.9 1409.6,630.7 1411.1,635.8 1412.6,639.4 1414.1,641.9 1415.6,644.2 1417.1,647.1 1418.6,651.1 1420.1,656.3 1421.6,661.7 1423.1,666.0 1424.6,668.7 1426.1,670.3 1427.6,671.1 1429.1,671.5 1430.6,671.7 1432.1,671.7 1433.6,671.7 1435.1,671.7 1436.6,671.6 1438.1,671.5 1439.6,671.5 1441.1,671.4 1442.6,671.4 1444.1,671.3 1445.6,671.1 1447.1,670.6 1448.6,669.5 1450.1,666.7 1451.6,661.1 1453.1,653.0 1454.6,645.3 1456.1,640.4 1457.6,637.8 1459.1,636.1 1460.6,634.8 1462.1,633.7 1463.6,632.8 1465.1,632.1 1466.6,631.6 1468.1,631.3 1469.6,630.8 1471.1,630.1 1472.6,629.1 1474.1,627.6 1475.6,625.9 1477.1,624.2 1478.6,622.9 1480.1,622.3 1481.6,622.6 1483.1,623.8 1484.6,625.6 1486.1,627.6 1487.6,629.6 1489.1,631.3 1490.6,632.2 1492.1,632.4 1493.6,631.7 1495.1,630.3 1496.6,628.4 1498.1,626.5 1499.6,624.9 1501.1,624.2 1502.6,624.5 1504.1,626.2 1505.6,629.6 1507.1,635.1 1508.6,642.6 1510.1,651.2 1511.6,659.0 1513.1,664.6 1514.6,667.8 1516.1,669.6 1517.6,670.5 1519.1,671.0 1520.6,671.3 1522.1,671.5 1523.6,671.6 1525.1,671.7 1526.6,671.8 1528.1,671.8 1529.6,671.8 1531.1,671.8 1532.6,671.8 1534.1,671.8 1535.6,671.7 1537.1,671.7 1538.6,671.6 1540.1,671.4 1541.6,669.4 1543.1,667.1 1544.6,664.9 1546.1,662.9 1547.6,661.0 1549.1,659.4 1550.6,657.8 1552.1,656.4 1553.6,655.0 1555.1,653.7 1556.6,652.4 1558.1,651.3 1559.6,650.2 1561.1,649.3 1562.6,648.2 1564.1,646.9 1565.6,645.1 1567.1,642.6 1568.6,639.6 1570.1,636.3 1571.6,633.0 1573.1,630.3 1574.6,628.4 1576.1,627.4 1577.6,626.9 1579.1,626.7 1580.6,626.6 1582.1,626.5 1583.6,626.8 1585.1,627.5 1586.6,628.9 1588.1,630.8 1589.6,633.0 1591.1,635.4 1592.6,637.8 1594.1,640.6 1595.6,644.3 1597.1,649.2 1598.6,655.2 1600.1,661.1 1601.6,665.4 1603.1,668.2 1604.6,669.7 1606.1,670.5 1607.6,671.0 1609.1,671.2 1610.6,671.4 1612.1,671.4 1613.6,671.5 1615.1,671.5 1616.6,671.5 1618.1,671.4 1619.6,671.4 1621.1,671.3 1622.6,671.2 1624.1,671.1 1625.6,671.0 1627.1,670.9 1628.6,670.8 1630.1,670.8 1631.6,670.8 1633.1,670.8 1634.6,670.8 1636.1,670.9 1637.6,670.9 1639.1,670.9 1640.6,670.9 1642.1,670.9 1643.6,670.8 1645.1,670.8 1646.6,670.8 1648.1,670.9 1649.6,670.9 1651.1,671.0 1652.6,671.0 1654.1,671.1 1655.6,671.1 1657.1,671.1 1658.6,671.1 1660.1,671.1 1661.6,671.0 1663.1,670.9 1664.6,670.6 1666.1,670.1 1667.6,669.0 1669.1,667.2 1670.6,664.7 1672.1,661.8 1673.6,659.2 1675.1,657.6 1676.6,657.4 1678.1,658.7 1679.6,660.8 1681.1,663.3 1682.6,665.8 1684.1,667.8 1685.6,669.3 1687.1,670.3 1688.6,670.8 1690.1,671.1 1691.6,671.2 1693.1,671.2 1694.6,671.1 1696.1,671.1 1697.6,671.1 1699.1,671.1 1700.6,671.1 1702.1,671.1 1703.6,671.1 1705.1,671.1 1706.6,671.2 1708.1,671.2 1709.6,671.1 1711.1,670.7 1712.6,669.8 1714.1,668.2 1715.6,665.7 1717.1,662.3 1718.6,658.6 1720.1,655.5 1721.6,654.1 1723.1,655.0 1724.6,657.7 1726.1,661.3 1727.6,664.9 1729.1,667.6 1730.6,669.4 1732.1,670.3 1733.6,670.8 1735.1,671.0 1736.6,671.0 1738.1,671.0 1739.6,670.9 1741.1,670.9 1742.6,670.9 1744.1,670.9 1745.6,670.9 1747.1,670.9 1748.6,670.9 1750.1,670.8 1751.6,670.5 1753.1,669.8 1754.6,668.1 1756.1,664.7 1757.6,659.9 1759.1,655.3 1760.6,651.7 1762.1,649.3 1763.6,647.5 1765.1,646.5 1766.6,646.1 1768.1,646.2 1769.6,646.8 1771.1,647.7 1772.6,648.7 1774.1,649.6 1775.6,650.3 1777.1,650.6 1778.6,650.3 1780.1,649.5 1781.6,648.0 1783.1,646.1 1784.6,644.1 1786.1,642.3 1787.6,641.1 1789.1,640.7 1790.6,641.3 1792.1,642.8 1793.6,644.8 1795.1,647.0 1796.6,649.2 1798.1,651.0 1799.6,652.3 1801.1,653.1 1802.6,653.5 1804.1,653.6 1805.6,653.6 1807.1,653.6 1808.6,653.8 1810.1,654.2 1811.6,655.1 1813.1,656.6 1814.6,658.9 1816.1,662.0 1817.6,665.3 1819.1,668.0 1820.6,669.7 1822.1,670.7 1823.6,671.3 1825.1,671.6 1826.6,671.7 1828.1,671.8 1829.6,671.8 1831.1,671.8 1832.6,671.7 1834.1,671.7 1835.6,671.6 1837.1,671.5 1838.6,671.3 1840.1,670.9 1841.6,670.0 1843.1,667.7 1844.6,662.9 1846.1,655.4 1847.6,648.0 1849.1,643.1 1850.6,640.8 1852.1,640.1 1853.6,640.2 1855.1,640.7 1856.6,641.4 1858.1,642.1 1859.6,642.5 1861.1,642.8 1862.6,643.0 1864.1,643.2 1865.6,643.6 1867.1,644.2 1868.6,645.1 1870.1,646.0 1871.6,646.8 1873.1,647.2 1874.6,647.0 1876.1,646.2 1877.6,644.7 1879.1,642.6 1880.6,640.1 1882.1,637.5 1883.6,635.1 1885.1,633.2 1886.6,632.0 1888.1,631.8 1889.6,632.3 1891.1,633.6 1892.6,635.2 1894.1,636.9 1895.6,638.7 1897.1,640.5 1898.6,642.5 1900.1,645.1 1901.6,648.8 1903.1,653.8 1904.6,659.2 1906.1,664.0 1907.6,667.3 1909.1,669.3 1910.6,670.3 1912.1,670.8 1913.6,671.0 1915.1,671.1 1916.6,671.1 1918.1,671.1 1919.6,671.1 1921.1,671.0 1922.6,670.9 1924.1,670.8 1925.6,670.5 1927.1,669.7 1928.6,667.8 1930.1,663.5 1931.6,656.3 1933.1,648.1 1934.6,642.6 1936.1,640.4 1937.6,640.4 1939.1,641.5 1940.6,643.2 1942.1,645.3 1943.6,647.4 1945.1,649.4 1946.6,651.2 1948.1,652.5 1949.6,653.2 1951.1,653.3 1952.6,652.8 1954.1,651.8 1955.6,650.5 1957.1,649.3 1958.6,648.2 1960.1,647.6 1961.6,647.5 1963.1,647.9 1964.6,648.7 1966.1,649.8 1967.6,650.9 1969.1,651.8 1970.6,652.4 1972.1,652.5 1973.6,652.2 1975.1,651.5 1976.6,650.5 1978.1,649.3 1979.6,648.0 1981.1,646.8 1982.6,645.9 1984.1,645.3 1985.6,645.4 1987.1,646.6 1988.6,649.1 1990.1,653.3 1991.6,658.4 1993.1,663.1 1994.6,666.6 1996.1,668.7 1997.6,669.8" fill="none" stroke="#5585d0" stroke-width="2.2" stroke-linejoin="round"/>
<polyline points="1013.6,662.8 1015.1,656.9 1016.6,649.0 1018.1,640.0 1019.6,631.9 1021.1,626.6 1022.6,625.9 1024.1,630.0 1025.6,637.8 1027.1,647.0 1028.6,655.5 1030.1,661.7 1031.6,665.6 1033.1,667.6 1034.6,668.4 1036.1,668.7 1037.6,668.8 1039.1,668.8 1040.6,668.7 1042.1,668.6 1043.6,668.6 1045.1,668.6 1046.6,668.6 1048.1,668.7 1049.6,668.8 1051.1,668.9 1052.6,669.1 1054.1,669.2 1055.6,669.4 1057.1,669.5 1058.6,669.6 1060.1,669.7 1061.6,669.8 1063.1,669.9 1064.6,669.9 1066.1,670.0 1067.6,670.1 1069.1,670.2 1070.6,670.4 1072.1,670.5 1073.6,670.7 1075.1,670.8 1076.6,670.9 1078.1,671.0 1079.6,671.0 1081.1,671.0 1082.6,670.9 1084.1,670.8 1085.6,670.4 1087.1,669.8 1088.6,668.7 1090.1,666.9 1091.6,665.0 1093.1,663.3 1094.6,662.0 1096.1,660.6 1097.6,658.8 1099.1,656.5 1100.6,653.8 1102.1,651.3 1103.6,649.3 1105.1,648.4 1106.6,649.0 1108.1,651.0 1109.6,654.1 1111.1,657.5 1112.6,660.6 1114.1,662.9 1115.6,664.2 1117.1,664.9 1118.6,665.2 1120.1,665.1 1121.6,665.0 1123.1,664.8 1124.6,664.6 1126.1,664.4 1127.6,664.3 1129.1,664.3 1130.6,664.3 1132.1,664.4 1133.6,664.3 1135.1,664.2 1136.6,663.9 1138.1,663.5 1139.6,662.9 1141.1,661.7 1142.6,659.2 1144.1,654.1 1145.6,645.2 1147.1,632.0 1148.6,616.3 1150.1,602.7 1151.6,596.3 1153.1,599.8 1154.6,611.7 1156.1,627.3 1157.6,641.8 1159.1,652.4 1160.6,658.8 1162.1,662.2 1163.6,663.6 1165.1,664.0 1166.6,664.1 1168.1,664.2 1169.6,664.4 1171.1,664.6 1172.6,664.9 1174.1,665.0 1175.6,665.0 1177.1,664.8 1178.6,664.5 1180.1,664.1 1181.6,663.8 1183.1,663.6 1184.6,663.6 1186.1,663.6 1187.6,663.8 1189.1,663.7 1190.6,663.0 1192.1,660.9 1193.6,656.5 1195.1,648.7 1196.6,637.8 1198.1,625.7 1199.6,615.9 1201.1,612.2 1202.6,616.2 1204.1,626.4 1205.6,638.9 1207.1,649.7 1208.6,656.9 1210.1,660.9 1211.6,662.6 1213.1,663.3 1214.6,663.5 1216.1,663.7 1217.6,663.9 1219.1,664.2 1220.6,664.6 1222.1,665.1 1223.6,665.4 1225.1,665.6 1226.6,665.6 1228.1,665.3 1229.6,664.6 1231.1,663.3 1232.6,660.6 1234.1,655.9 1235.6,649.9 1237.1,645.0 1238.6,642.7 1240.1,642.3 1241.6,642.9 1243.1,643.9 1244.6,644.7 1246.1,645.4 1247.6,645.8 1249.1,645.8 1250.6,645.5 1252.1,645.0 1253.6,644.5 1255.1,644.1 1256.6,644.0 1258.1,644.4 1259.6,645.1 1261.1,645.9 1262.6,646.7 1264.1,647.1 1265.6,647.2 1267.1,646.7 1268.6,645.8 1270.1,644.6 1271.6,643.3 1273.1,642.1 1274.6,641.3 1276.1,641.0 1277.6,641.1 1279.1,641.6 1280.6,642.2 1282.1,642.9 1283.6,643.5 1285.1,644.1 1286.6,645.0 1288.1,646.5 1289.6,649.3 1291.1,653.5 1292.6,658.4 1294.1,662.8 1295.6,665.8 1297.1,667.6 1298.6,668.5 1300.1,669.0 1301.6,669.3 1303.1,669.5 1304.6,669.7 1306.1,669.8 1307.6,669.9 1309.1,670.0 1310.6,670.0 1312.1,670.0 1313.6,669.9 1315.1,669.8 1316.6,669.7 1318.1,669.6 1319.6,669.4 1321.1,669.3 1322.6,669.2 1324.1,669.1 1325.6,669.1 1327.1,669.1 1328.6,669.2 1330.1,669.2 1331.6,669.3 1333.1,669.3 1334.6,669.4 1336.1,669.4 1337.6,669.5 1339.1,669.5 1340.6,669.6 1342.1,669.7 1343.6,669.8 1345.1,669.9 1346.6,670.0 1348.1,670.1 1349.6,670.2 1351.1,670.2 1352.6,670.2 1354.1,670.1 1355.6,669.9 1357.1,669.7 1358.6,669.2 1360.1,668.0 1361.6,665.2 1363.1,659.0 1364.6,648.2 1366.1,635.6 1367.6,625.9 1369.1,620.5 1370.6,617.9 1372.1,616.9 1373.6,617.0 1375.1,617.9 1376.6,619.6 1378.1,622.0 1379.6,624.6 1381.1,627.1 1382.6,629.2 1384.1,630.6 1385.6,631.2 1387.1,631.1 1388.6,630.6 1390.1,630.1 1391.6,630.0 1393.1,630.4 1394.6,631.2 1396.1,632.0 1397.6,631.9 1399.1,630.0 1400.6,625.7 1402.1,619.6 1403.6,614.0 1405.1,611.5 1406.6,613.6 1408.1,619.1 1409.6,625.8 1411.1,631.3 1412.6,635.1 1414.1,637.5 1415.6,639.4 1417.1,641.7 1418.6,645.3 1420.1,650.7 1421.6,656.8 1423.1,662.1 1424.6,665.7 1426.1,667.8 1427.6,669.0 1429.1,669.5 1430.6,669.8 1432.1,669.9 1433.6,669.9 1435.1,669.9 1436.6,669.8 1438.1,669.8 1439.6,669.7 1441.1,669.7 1442.6,669.6 1444.1,669.5 1445.6,669.2 1447.1,668.3 1448.6,666.3 1450.1,661.4 1451.6,651.6 1453.1,637.3 1454.6,624.4 1456.1,617.6 1457.6,615.6 1459.1,615.7 1460.6,616.2 1462.1,616.4 1463.6,615.9 1465.1,615.1 1466.6,614.0 1468.1,613.0 1469.6,612.3 1471.1,612.0 1472.6,612.1 1474.1,612.4 1475.6,612.8 1477.1,613.0 1478.6,613.1 1480.1,613.1 1481.6,613.3 1483.1,614.0 1484.6,615.4 1486.1,617.6 1487.6,620.4 1489.1,623.3 1490.6,625.6 1492.1,627.0 1493.6,627.0 1495.1,625.7 1496.6,623.4 1498.1,620.7 1499.6,618.0 1501.1,616.0 1502.6,615.0 1504.1,615.3 1505.6,617.5 1507.1,622.5 1508.6,630.9 1510.1,641.6 1511.6,652.0 1513.1,659.8 1514.6,664.5 1516.1,667.1 1517.6,668.4 1519.1,669.1 1520.6,669.4 1522.1,669.6 1523.6,669.7 1525.1,669.6 1526.6,669.6 1528.1,669.5 1529.6,669.4 1531.1,669.3 1532.6,669.3 1534.1,669.3 1535.6,669.3 1537.1,669.4 1538.6,669.4 1540.1,669.2 1541.6,666.2 1543.1,663.0 1544.6,660.1 1546.1,657.9 1547.6,656.3 1549.1,655.1 1550.6,654.1 1552.1,653.2 1553.6,652.0 1555.1,650.4 1556.6,648.5 1558.1,646.3 1559.6,644.0 1561.1,641.7 1562.6,639.3 1564.1,636.7 1565.6,633.9 1567.1,630.7 1568.6,627.3 1570.1,624.1 1571.6,621.6 1573.1,620.0 1574.6,619.4 1576.1,619.5 1577.6,619.9 1579.1,620.2 1580.6,620.1 1582.1,619.5 1583.6,618.7 1585.1,617.9 1586.6,617.3 1588.1,617.0 1589.6,617.3 1591.1,618.5 1592.6,620.6 1594.1,624.1 1595.6,629.5 1597.1,637.0 1598.6,646.1 1600.1,654.7 1601.6,660.9 1603.1,664.8 1604.6,667.0 1606.1,668.1 1607.6,668.6 1609.1,668.9 1610.6,669.0 1612.1,669.1 1613.6,669.1 1615.1,669.2 1616.6,669.2 1618.1,669.3 1619.6,669.3 1621.1,669.3 1622.6,669.2 1624.1,669.2 1625.6,669.1 1627.1,669.1 1628.6,669.2 1630.1,669.2 1631.6,669.3 1633.1,669.4 1634.6,669.5 1636.1,669.6 1637.6,669.6 1639.1,669.7 1640.6,669.7 1642.1,669.7 1643.6,669.7 1645.1,669.7 1646.6,669.7 1648.1,669.6 1649.6,669.5 1651.1,669.4 1652.6,669.3 1654.1,669.2 1655.6,669.1 1657.1,669.1 1658.6,669.2 1660.1,669.2 1661.6,669.3 1663.1,669.3 1664.6,669.1 1666.1,668.5 1667.6,667.3 1669.1,665.2 1670.6,662.0 1672.1,657.8 1673.6,653.6 1675.1,650.2 1676.6,648.8 1678.1,649.8 1679.6,652.9 1681.1,657.1 1682.6,661.2 1684.1,664.7 1685.6,667.1 1687.1,668.5 1688.6,669.3 1690.1,669.6 1691.6,669.7 1693.1,669.6 1694.6,669.5 1696.1,669.3 1697.6,669.2 1699.1,669.1 1700.6,668.9 1702.1,668.9 1703.6,668.8 1705.1,668.8 1706.6,668.8 1708.1,668.7 1709.6,668.4 1711.1,667.7 1712.6,666.2 1714.1,663.7 1715.6,660.1 1717.1,656.0 1718.6,652.3 1720.1,650.1 1721.6,650.1 1723.1,652.2 1724.6,655.6 1726.1,659.5 1727.6,663.2 1729.1,666.0 1730.6,667.9 1732.1,668.9 1733.6,669.4 1735.1,669.5 1736.6,669.5 1738.1,669.5 1739.6,669.5 1741.1,669.6 1742.6,669.7 1744.1,669.8 1745.6,669.9 1747.1,670.0 1748.6,670.0 1750.1,669.9 1751.6,669.5 1753.1,668.4 1754.6,666.0 1756.1,661.3 1757.6,654.2 1759.1,647.0 1760.6,641.1 1762.1,636.6 1763.6,633.3 1765.1,631.2 1766.6,630.4 1768.1,631.0 1769.6,633.0 1771.1,636.0 1772.6,639.5 1774.1,642.9 1775.6,645.7 1777.1,647.3 1778.6,647.7 1780.1,646.7 1781.6,644.4 1783.1,641.1 1784.6,637.3 1786.1,633.7 1787.6,630.9 1789.1,629.6 1790.6,629.9 1792.1,631.7 1793.6,634.6 1795.1,637.8 1796.6,640.8 1798.1,643.1 1799.6,644.6 1801.1,645.2 1802.6,644.9 1804.1,644.0 1805.6,642.7 1807.1,641.6 1808.6,640.8 1810.1,640.8 1811.6,641.8 1813.1,644.2 1814.6,648.1 1816.1,653.3 1817.6,658.7 1819.1,663.0 1820.6,665.9 1822.1,667.5 1823.6,668.4 1825.1,668.9 1826.6,669.1 1828.1,669.3 1829.6,669.4 1831.1,669.5 1832.6,669.5 1834.1,669.6 1835.6,669.6 1837.1,669.6 1838.6,669.4 1840.1,668.8 1841.6,667.3 1843.1,663.6 1844.6,655.2 1846.1,641.6 1847.6,627.1 1849.1,616.5 1850.6,610.7 1852.1,608.1 1853.6,607.3 1855.1,607.7 1856.6,609.0 1858.1,610.9 1859.6,613.2 1861.1,615.7 1862.6,618.3 1864.1,620.9 1865.6,623.7 1867.1,626.5 1868.6,629.4 1870.1,632.1 1871.6,634.3 1873.1,635.9 1874.6,636.6 1876.1,636.3 1877.6,635.1 1879.1,633.3 1880.6,631.0 1882.1,628.5 1883.6,625.8 1885.1,623.3 1886.6,620.9 1888.1,619.1 1889.6,617.9 1891.1,617.6 1892.6,618.0 1894.1,619.1 1895.6,620.8 1897.1,623.2 1898.6,626.3 1900.1,630.6 1901.6,636.6 1903.1,644.2 1904.6,652.3 1906.1,659.2 1907.6,664.0 1909.1,666.7 1910.6,668.1 1912.1,668.8 1913.6,669.1 1915.1,669.3 1916.6,669.5 1918.1,669.6 1919.6,669.7 1921.1,669.9 1922.6,670.0 1924.1,670.1 1925.6,670.1 1927.1,669.6 1928.6,668.2 1930.1,664.9 1931.6,659.0 1933.1,651.7 1934.6,645.9 1936.1,642.6 1937.6,641.2 1939.1,641.0 1940.6,641.3 1942.1,641.8 1943.6,642.4 1945.1,643.0 1946.6,643.7 1948.1,644.3 1949.6,644.7 1951.1,644.9 1952.6,644.7 1954.1,644.2 1955.6,643.3 1957.1,642.3 1958.6,641.2 1960.1,640.3 1961.6,639.7 1963.1,639.6 1964.6,639.9 1966.1,640.5 1967.6,641.2 1969.1,641.8 1970.6,642.1 1972.1,642.2 1973.6,642.0 1975.1,641.7 1976.6,641.1 1978.1,640.2 1979.6,639.0 1981.1,637.5 1982.6,635.8 1984.1,634.5 1985.6,633.9 1987.1,634.9 1988.6,638.3 1990.1,644.5 1991.6,652.2 1993.1,659.2 1994.6,664.2 1996.1,667.1 1997.6,668.6" fill="none" stroke="#3f73c6" stroke-width="2.2" stroke-linejoin="round"/>
<path d="M1013.6,594.6 L1029.0,594.6 L1036.0,673.8 L1094.3,673.8 L1101.3,594.6 L1116.3,594.6 L1123.3,673.8 L1138.0,673.8 L1145.0,594.6 L1160.6,594.6 L1167.6,673.8 L1181.7,673.8 L1188.7,594.6 L1204.0,594.6 L1211.0,673.8 L1225.7,673.8 L1232.7,594.6 L1291.2,594.6 L1298.2,673.8 L1357.4,673.8 L1364.4,594.6 L1422.6,594.6 L1429.6,673.8 L1444.6,673.8 L1451.6,594.6 L1509.8,594.6 L1516.8,673.8 L1532.0,673.8 L1539.0,594.6 L1597.7,594.6 L1604.7,673.8 L1662.8,673.8 L1669.8,594.6 L1684.9,594.6 L1691.9,673.8 L1706.4,673.8 L1713.4,594.6 L1728.5,594.6 L1735.5,673.8 L1750.0,673.8 L1757.0,594.6 L1815.7,594.6 L1822.7,673.8 L1837.2,673.8 L1844.2,594.6 L1903.6,594.6 L1910.6,673.8 L1924.4,673.8 L1931.4,594.6 L1990.8,594.6 L1997.8,673.8 L1998.5,673.8" fill="none" stroke="#000" stroke-width="2.4"/>
</g>
<rect x="973.1" y="585.9" width="1043.2" height="95.3" fill="none" stroke="#222" stroke-width="1.8"/>
<rect x="973.1" y="689.8" width="1043.2" height="95.1" fill="none" stroke="#222" stroke-width="1.8"/>
<line x1="967.1" y1="594.6" x2="973.1" y2="594.6" stroke="#222" stroke-width="1.6"/>
<text x="958.6" y="602.1" text-anchor="end">8</text>
<line x1="967.1" y1="673.8" x2="973.1" y2="673.8" stroke="#222" stroke-width="1.6"/>
<text x="958.6" y="681.3" text-anchor="end">0</text>
<line x1="967.1" y1="728.1" x2="973.1" y2="728.1" stroke="#222" stroke-width="1.6"/>
<text x="958.6" y="735.6" text-anchor="end">1,000</text>
<line x1="967.1" y1="776.8" x2="973.1" y2="776.8" stroke="#222" stroke-width="1.6"/>
<text x="958.6" y="784.3" text-anchor="end">0</text>
<text x="933.5" y="633.5" text-anchor="middle" transform="rotate(-90 933.5 633.5)">Prediction</text>
<text x="893.5" y="737.3" text-anchor="middle" transform="rotate(-90 893.5 737.3)">Coverage</text>
<line x1="1104.5" y1="784.9" x2="1104.5" y2="791.9" stroke="#222" stroke-width="1.6"/>
<text x="1104.5" y="815.2" text-anchor="middle">2</text>
<line x1="1362.5" y1="784.9" x2="1362.5" y2="791.9" stroke="#222" stroke-width="1.6"/>
<text x="1362.5" y="815.2" text-anchor="middle">7</text>
<line x1="1620.5" y1="784.9" x2="1620.5" y2="791.9" stroke="#222" stroke-width="1.6"/>
<text x="1620.5" y="815.2" text-anchor="middle">12</text>
<line x1="1878.5" y1="784.9" x2="1878.5" y2="791.9" stroke="#222" stroke-width="1.6"/>
<text x="1878.5" y="815.2" text-anchor="middle">17</text>
<text x="2023.7" y="640.0">Design</text>
<text x="2023.7" y="744.0">Experiment</text>
<text x="984.0" y="713.9">AUROC = 0.94</text>
<text x="1494.5" y="843.5" text-anchor="middle">Position (kb)</text>
<text x="1626.8" y="846.0">DNASE: 129 ES-E14 track</text>
<path d="M1903.6,847 V819.4 H1921.1 V847 H1938.8" fill="none" stroke="#111" stroke-width="2"/>
<text x="1951.1" y="839.5">Desired pattern</text>
<line x1="1625.2" y1="876.4" x2="1658.7" y2="876.4" stroke="#5b7367" stroke-width="4.5"/>
<text x="1668.7" y="882.9">Enformer</text>
<line x1="1781.2" y1="866.4" x2="1814.4" y2="866.4" stroke="#a9c2ea" stroke-width="3.6"/>
<line x1="1781.2" y1="873.6" x2="1814.4" y2="873.6" stroke="#86a9e0" stroke-width="3.6"/>
<line x1="1781.2" y1="880.8" x2="1814.4" y2="880.8" stroke="#6693d6" stroke-width="3.6"/>
<line x1="1781.2" y1="888.0" x2="1814.4" y2="888.0" stroke="#3f73c6" stroke-width="3.6"/>
<text x="1825.8" y="882.9">Borzoi</text>
<rect x="1919.7" y="866.4" width="19.5" height="19.2" fill="#0c3384"/>
<text x="1951.7" y="881.4">mESC ATAC–seq</text>
<text transform="translate(0.0 913.0) scale(1.17 1)" font-size="33" font-weight="bold" fill="#000" stroke="#000" stroke-width="0.9">g</text>
<text x="421.5" y="918.0">Message: <tspan font-family="Liberation Mono, Courier New, monospace" font-weight="bold" font-size="20.5">LO</tspan><tspan font-family="Liberation Mono, Courier New, monospace" font-size="20.5" font-weight="bold" xml:space="preserve"> (.-.. ---)</tspan></text>
<rect x="133.9" y="1033.8" width="34.6" height="93.0" fill="#e2e5eb"/>
<rect x="208.8" y="1033.8" width="102.6" height="93.0" fill="#e2e5eb"/>
<rect x="351.9" y="1033.8" width="34.9" height="93.0" fill="#e2e5eb"/>
<rect x="426.9" y="1033.8" width="34.3" height="93.0" fill="#e2e5eb"/>
<rect x="570.1" y="1033.8" width="103.1" height="93.0" fill="#e2e5eb"/>
<rect x="714.2" y="1033.8" width="102.5" height="93.0" fill="#e2e5eb"/>
<rect x="857.7" y="1033.8" width="102.4" height="93.0" fill="#e2e5eb"/>
<path d="M97.6,1120.8 L97.6,1119.7 L98.6,1119.3 L99.6,1119.2 L100.6,1119.3 L101.6,1119.8 L102.6,1119.6 L103.6,1119.6 L104.6,1119.6 L105.6,1119.9 L106.6,1119.8 L107.6,1119.9 L108.6,1120.0 L109.6,1119.7 L110.6,1119.8 L111.6,1119.8 L112.6,1120.0 L113.6,1119.6 L114.6,1119.9 L115.6,1119.9 L116.6,1119.7 L117.6,1119.8 L118.6,1119.8 L119.6,1119.5 L120.6,1119.5 L121.6,1118.8 L122.6,1117.0 L123.6,1114.8 L124.6,1111.2 L125.6,1110.1 L126.6,1110.2 L127.6,1112.0 L128.6,1114.6 L129.6,1116.7 L130.6,1117.5 L131.6,1117.7 L132.6,1116.1 L133.6,1110.2 L134.6,1104.9 L135.6,1106.7 L136.6,1099.0 L137.6,1084.1 L138.6,1079.4 L139.6,1087.9 L140.6,1081.5 L141.6,1059.3 L142.6,1057.7 L143.6,1062.7 L144.6,1070.7 L145.6,1073.4 L146.6,1065.8 L147.6,1052.8 L148.6,1052.3 L149.6,1055.2 L150.6,1072.2 L151.6,1087.4 L152.6,1081.3 L153.6,1078.7 L154.6,1072.7 L155.6,1076.5 L156.6,1079.0 L157.6,1066.6 L158.6,1061.7 L159.6,1059.7 L160.6,1060.3 L161.6,1054.3 L162.6,1054.1 L163.6,1057.7 L164.6,1058.1 L165.6,1057.5 L166.6,1062.1 L167.6,1079.3 L168.6,1099.5 L169.6,1103.2 L170.6,1106.5 L171.6,1107.1 L172.6,1108.8 L173.6,1110.8 L174.6,1111.3 L175.6,1113.7 L176.6,1115.7 L177.6,1114.9 L178.6,1114.5 L179.6,1115.8 L180.6,1114.7 L181.6,1115.1 L182.6,1115.9 L183.6,1116.7 L184.6,1116.7 L185.6,1116.5 L186.6,1115.4 L187.6,1115.4 L188.6,1116.1 L189.6,1116.7 L190.6,1116.3 L191.6,1114.4 L192.6,1113.7 L193.6,1112.6 L194.6,1112.5 L195.6,1112.7 L196.6,1113.1 L197.6,1114.5 L198.6,1114.5 L199.6,1114.7 L200.6,1114.9 L201.6,1115.3 L202.6,1115.9 L203.6,1117.3 L204.6,1118.8 L205.6,1119.1 L206.6,1118.8 L207.6,1118.9 L208.6,1118.7 L209.6,1118.5 L210.6,1117.7 L211.6,1117.1 L212.6,1117.5 L213.6,1116.2 L214.6,1115.6 L215.6,1116.2 L216.6,1117.7 L217.6,1117.3 L218.6,1116.2 L219.6,1116.2 L220.6,1116.9 L221.6,1114.9 L222.6,1114.7 L223.6,1115.7 L224.6,1114.6 L225.6,1113.8 L226.6,1113.7 L227.6,1109.8 L228.6,1103.8 L229.6,1109.7 L230.6,1112.1 L231.6,1111.0 L232.6,1103.7 L233.6,1098.0 L234.6,1099.4 L235.6,1103.6 L236.6,1104.0 L237.6,1096.1 L238.6,1089.8 L239.6,1089.6 L240.6,1094.6 L241.6,1094.7 L242.6,1096.0 L243.6,1095.9 L244.6,1097.5 L245.6,1098.6 L246.6,1092.1 L247.6,1094.9 L248.6,1092.3 L249.6,1092.5 L250.6,1098.3 L251.6,1102.3 L252.6,1098.8 L253.6,1098.5 L254.6,1094.0 L255.6,1089.6 L256.6,1088.3 L257.6,1084.9 L258.6,1080.5 L259.6,1079.2 L260.6,1085.2 L261.6,1082.4 L262.6,1084.4 L263.6,1080.7 L264.6,1075.5 L265.6,1066.8 L266.6,1062.5 L267.6,1056.6 L268.6,1065.0 L269.6,1073.1 L270.6,1063.6 L271.6,1062.1 L272.6,1070.2 L273.6,1070.8 L274.6,1074.6 L275.6,1079.0 L276.6,1082.5 L277.6,1081.6 L278.6,1086.1 L279.6,1087.6 L280.6,1094.5 L281.6,1092.0 L282.6,1089.6 L283.6,1096.1 L284.6,1095.9 L285.6,1089.4 L286.6,1080.0 L287.6,1092.6 L288.6,1099.3 L289.6,1090.1 L290.6,1081.4 L291.6,1089.5 L292.6,1096.1 L293.6,1097.5 L294.6,1093.3 L295.6,1091.9 L296.6,1094.9 L297.6,1095.8 L298.6,1086.8 L299.6,1091.6 L300.6,1091.0 L301.6,1083.0 L302.6,1078.4 L303.6,1086.7 L304.6,1090.2 L305.6,1098.2 L306.6,1103.9 L307.6,1108.2 L308.6,1113.3 L309.6,1116.1 L310.6,1117.7 L311.6,1118.3 L312.6,1119.7 L313.6,1119.8 L314.6,1119.8 L315.6,1120.1 L316.6,1119.9 L317.6,1120.1 L318.6,1120.2 L319.6,1120.1 L320.6,1120.1 L321.6,1120.2 L322.6,1119.7 L323.6,1120.1 L324.6,1120.0 L325.6,1119.6 L326.6,1119.9 L327.6,1119.8 L328.6,1119.6 L329.6,1119.2 L330.6,1118.8 L331.6,1118.6 L332.6,1117.3 L333.6,1115.5 L334.6,1115.9 L335.6,1117.1 L336.6,1118.7 L337.6,1119.1 L338.6,1119.5 L339.6,1120.1 L340.6,1120.1 L341.6,1120.2 L342.6,1120.1 L343.6,1120.0 L344.6,1120.1 L345.6,1120.1 L346.6,1120.0 L347.6,1120.0 L348.6,1120.1 L349.6,1120.2 L350.6,1120.1 L351.6,1119.9 L352.6,1119.9 L353.6,1119.8 L354.6,1119.5 L355.6,1119.0 L356.6,1118.9 L357.6,1116.3 L358.6,1113.0 L359.6,1107.0 L360.6,1096.1 L361.6,1090.2 L362.6,1089.3 L363.6,1081.4 L364.6,1072.5 L365.6,1073.3 L366.6,1068.3 L367.6,1057.8 L368.6,1046.4 L369.6,1044.2 L370.6,1060.1 L371.6,1069.3 L372.6,1079.2 L373.6,1084.6 L374.6,1091.1 L375.6,1087.9 L376.6,1085.7 L377.6,1082.2 L378.6,1087.2 L379.6,1097.1 L380.6,1099.1 L381.6,1095.3 L382.6,1084.2 L383.6,1085.0 L384.6,1099.9 L385.6,1102.0 L386.6,1103.8 L387.6,1111.1 L388.6,1116.3 L389.6,1117.3 L390.6,1118.4 L391.6,1118.9 L392.6,1119.4 L393.6,1119.6 L394.6,1119.5 L395.6,1119.6 L396.6,1119.8 L397.6,1119.5 L398.6,1119.8 L399.6,1120.0 L400.6,1120.0 L401.6,1120.1 L402.6,1120.1 L403.6,1119.9 L404.6,1120.0 L405.6,1120.1 L406.6,1119.7 L407.6,1119.9 L408.6,1119.9 L409.6,1119.8 L410.6,1119.7 L411.6,1120.0 L412.6,1119.7 L413.6,1119.9 L414.6,1119.9 L415.6,1120.0 L416.6,1120.2 L417.6,1120.0 L418.6,1120.1 L419.6,1120.2 L420.6,1120.1 L421.6,1120.0 L422.6,1120.0 L423.6,1120.0 L424.6,1120.2 L425.6,1119.8 L426.6,1120.0 L427.6,1120.2 L428.6,1119.9 L429.6,1119.5 L430.6,1117.7 L431.6,1113.9 L432.6,1110.5 L433.6,1110.5 L434.6,1114.8 L435.6,1118.0 L436.6,1119.6 L437.6,1120.1 L438.6,1120.0 L439.6,1119.6 L440.6,1119.1 L441.6,1117.0 L442.6,1113.4 L443.6,1108.9 L444.6,1101.2 L445.6,1098.7 L446.6,1092.1 L447.6,1078.9 L448.6,1069.9 L449.6,1065.2 L450.6,1064.1 L451.6,1069.1 L452.6,1073.5 L453.6,1083.8 L454.6,1095.6 L455.6,1103.3 L456.6,1107.9 L457.6,1110.5 L458.6,1112.6 L459.6,1114.3 L460.6,1117.8 L461.6,1118.5 L462.6,1118.8 L463.6,1119.0 L464.6,1119.4 L465.6,1119.6 L466.6,1119.5 L467.6,1119.1 L468.6,1119.9 L469.6,1119.9 L470.6,1119.9 L471.6,1119.7 L472.6,1120.0 L473.6,1119.6 L474.6,1120.0 L475.6,1120.1 L476.6,1120.2 L477.6,1120.1 L478.6,1119.9 L479.6,1120.0 L480.6,1120.1 L481.6,1120.1 L482.6,1119.9 L483.6,1120.0 L484.6,1119.9 L485.6,1119.9 L486.6,1120.0 L487.6,1119.6 L488.6,1120.1 L489.6,1119.9 L490.6,1120.1 L491.6,1119.9 L492.6,1120.3 L493.6,1120.2 L494.6,1119.7 L495.6,1119.8 L496.6,1119.9 L497.6,1119.2 L498.6,1118.9 L499.6,1118.6 L500.6,1118.3 L501.6,1118.7 L502.6,1119.1 L503.6,1118.9 L504.6,1119.2 L505.6,1119.1 L506.6,1119.7 L507.6,1120.0 L508.6,1120.0 L509.6,1120.3 L510.6,1120.0 L511.6,1119.7 L512.6,1119.7 L513.6,1119.6 L514.6,1119.8 L515.6,1119.8 L516.6,1119.7 L517.6,1119.6 L518.6,1119.2 L519.6,1119.8 L520.6,1119.8 L521.6,1119.9 L522.6,1119.8 L523.6,1119.3 L524.6,1119.7 L525.6,1119.3 L526.6,1119.1 L527.6,1118.6 L528.6,1118.4 L529.6,1118.7 L530.6,1118.9 L531.6,1119.3 L532.6,1119.6 L533.6,1119.6 L534.6,1119.9 L535.6,1119.8 L536.6,1120.1 L537.6,1119.5 L538.6,1120.0 L539.6,1119.8 L540.6,1119.6 L541.6,1119.6 L542.6,1119.8 L543.6,1119.6 L544.6,1119.6 L545.6,1119.8 L546.6,1119.9 L547.6,1119.7 L548.6,1120.0 L549.6,1119.7 L550.6,1119.9 L551.6,1120.1 L552.6,1120.0 L553.6,1120.1 L554.6,1120.0 L555.6,1119.8 L556.6,1119.9 L557.6,1120.0 L558.6,1119.9 L559.6,1119.8 L560.6,1119.7 L561.6,1119.9 L562.6,1119.8 L563.6,1119.8 L564.6,1119.4 L565.6,1119.5 L566.6,1119.7 L567.6,1119.2 L568.6,1118.8 L569.6,1118.8 L570.6,1118.5 L571.6,1118.3 L572.6,1117.7 L573.6,1116.3 L574.6,1115.1 L575.6,1111.5 L576.6,1107.3 L577.6,1104.4 L578.6,1099.7 L579.6,1093.5 L580.6,1086.1 L581.6,1082.7 L582.6,1083.4 L583.6,1066.2 L584.6,1057.6 L585.6,1054.0 L586.6,1048.3 L587.6,1054.6 L588.6,1051.4 L589.6,1053.4 L590.6,1052.8 L591.6,1044.2 L592.6,1050.4 L593.6,1062.5 L594.6,1067.8 L595.6,1064.6 L596.6,1069.4 L597.6,1071.5 L598.6,1067.7 L599.6,1069.9 L600.6,1075.0 L601.6,1079.9 L602.6,1082.5 L603.6,1083.7 L604.6,1085.3 L605.6,1087.5 L606.6,1084.5 L607.6,1078.6 L608.6,1069.8 L609.6,1057.2 L610.6,1048.2 L611.6,1056.7 L612.6,1070.6 L613.6,1066.4 L614.6,1063.5 L615.6,1070.4 L616.6,1078.1 L617.6,1085.9 L618.6,1087.3 L619.6,1094.4 L620.6,1100.8 L621.6,1104.8 L622.6,1103.2 L623.6,1103.4 L624.6,1103.6 L625.6,1104.9 L626.6,1106.9 L627.6,1106.4 L628.6,1105.4 L629.6,1104.8 L630.6,1103.6 L631.6,1101.4 L632.6,1099.1 L633.6,1094.9 L634.6,1088.2 L635.6,1084.0 L636.6,1080.6 L637.6,1072.9 L638.6,1067.9 L639.6,1063.8 L640.6,1057.9 L641.6,1055.8 L642.6,1062.9 L643.6,1055.9 L644.6,1042.3 L645.6,1041.4 L646.6,1051.1 L647.6,1057.1 L648.6,1067.9 L649.6,1078.3 L650.6,1089.0 L651.6,1091.1 L652.6,1095.1 L653.6,1096.7 L654.6,1100.0 L655.6,1101.0 L656.6,1097.6 L657.6,1094.2 L658.6,1088.6 L659.6,1086.0 L660.6,1087.2 L661.6,1090.1 L662.6,1092.6 L663.6,1092.9 L664.6,1096.5 L665.6,1101.6 L666.6,1106.9 L667.6,1112.7 L668.6,1114.1 L669.6,1115.7 L670.6,1117.8 L671.6,1118.9 L672.6,1119.3 L673.6,1119.5 L674.6,1119.8 L675.6,1119.4 L676.6,1119.8 L677.6,1119.6 L678.6,1119.6 L679.6,1119.8 L680.6,1119.8 L681.6,1119.4 L682.6,1120.0 L683.6,1119.9 L684.6,1120.0 L685.6,1120.2 L686.6,1120.2 L687.6,1120.3 L688.6,1120.3 L689.6,1120.2 L690.6,1119.7 L691.6,1120.1 L692.6,1120.2 L693.6,1120.2 L694.6,1119.6 L695.6,1120.0 L696.6,1120.2 L697.6,1119.9 L698.6,1120.1 L699.6,1119.8 L700.6,1120.2 L701.6,1119.7 L702.6,1119.7 L703.6,1119.5 L704.6,1118.9 L705.6,1118.6 L706.6,1117.7 L707.6,1118.0 L708.6,1117.9 L709.6,1118.3 L710.6,1119.2 L711.6,1119.4 L712.6,1119.7 L713.6,1119.8 L714.6,1119.7 L715.6,1119.7 L716.6,1119.6 L717.6,1119.7 L718.6,1119.8 L719.6,1119.6 L720.6,1119.8 L721.6,1119.8 L722.6,1119.8 L723.6,1120.0 L724.6,1119.5 L725.6,1118.5 L726.6,1117.5 L727.6,1117.2 L728.6,1117.1 L729.6,1118.4 L730.6,1118.2 L731.6,1117.2 L732.6,1115.5 L733.6,1115.0 L734.6,1111.9 L735.6,1106.1 L736.6,1106.7 L737.6,1105.3 L738.6,1102.8 L739.6,1104.1 L740.6,1107.6 L741.6,1111.6 L742.6,1109.0 L743.6,1100.3 L744.6,1100.8 L745.6,1106.8 L746.6,1112.8 L747.6,1113.0 L748.6,1109.2 L749.6,1105.5 L750.6,1103.1 L751.6,1105.7 L752.6,1105.5 L753.6,1106.6 L754.6,1109.4 L755.6,1102.8 L756.6,1103.8 L757.6,1104.8 L758.6,1103.4 L759.6,1102.0 L760.6,1100.0 L761.6,1099.9 L762.6,1099.3 L763.6,1100.1 L764.6,1102.1 L765.6,1099.2 L766.6,1094.4 L767.6,1088.9 L768.6,1091.7 L769.6,1093.7 L770.6,1091.9 L771.6,1096.8 L772.6,1103.1 L773.6,1098.0 L774.6,1094.9 L775.6,1095.3 L776.6,1095.6 L777.6,1096.4 L778.6,1098.1 L779.6,1098.9 L780.6,1101.8 L781.6,1104.9 L782.6,1100.3 L783.6,1099.1 L784.6,1102.1 L785.6,1098.9 L786.6,1094.9 L787.6,1095.6 L788.6,1094.9 L789.6,1094.5 L790.6,1088.4 L791.6,1083.9 L792.6,1087.3 L793.6,1087.5 L794.6,1082.2 L795.6,1083.5 L796.6,1084.5 L797.6,1079.2 L798.6,1074.2 L799.6,1083.7 L800.6,1080.4 L801.6,1086.3 L802.6,1086.1 L803.6,1082.0 L804.6,1083.8 L805.6,1087.7 L806.6,1091.4 L807.6,1091.7 L808.6,1097.5 L809.6,1099.9 L810.6,1097.9 L811.6,1099.9 L812.6,1101.1 L813.6,1099.5 L814.6,1102.3 L815.6,1105.7 L816.6,1111.2 L817.6,1114.9 L818.6,1116.6 L819.6,1117.2 L820.6,1117.8 L821.6,1117.8 L822.6,1117.2 L823.6,1116.5 L824.6,1116.5 L825.6,1116.4 L826.6,1116.3 L827.6,1116.6 L828.6,1117.3 L829.6,1117.6 L830.6,1117.9 L831.6,1118.3 L832.6,1118.2 L833.6,1118.5 L834.6,1119.0 L835.6,1119.3 L836.6,1119.5 L837.6,1119.7 L838.6,1120.0 L839.6,1119.8 L840.6,1119.6 L841.6,1119.9 L842.6,1119.5 L843.6,1119.8 L844.6,1119.6 L845.6,1119.6 L846.6,1119.5 L847.6,1119.6 L848.6,1119.7 L849.6,1119.3 L850.6,1119.8 L851.6,1119.8 L852.6,1119.5 L853.6,1119.4 L854.6,1119.2 L855.6,1118.1 L856.6,1116.0 L857.6,1115.2 L858.6,1115.2 L859.6,1114.2 L860.6,1110.8 L861.6,1108.4 L862.6,1107.4 L863.6,1103.0 L864.6,1095.4 L865.6,1094.9 L866.6,1095.2 L867.6,1087.5 L868.6,1086.8 L869.6,1086.2 L870.6,1083.3 L871.6,1093.2 L872.6,1099.3 L873.6,1098.4 L874.6,1100.5 L875.6,1095.0 L876.6,1092.3 L877.6,1089.4 L878.6,1090.0 L879.6,1093.9 L880.6,1088.6 L881.6,1079.9 L882.6,1070.7 L883.6,1065.3 L884.6,1064.4 L885.6,1060.0 L886.6,1064.7 L887.6,1065.3 L888.6,1066.3 L889.6,1067.5 L890.6,1069.0 L891.6,1069.4 L892.6,1077.1 L893.6,1084.3 L894.6,1086.6 L895.6,1091.3 L896.6,1086.4 L897.6,1087.8 L898.6,1082.3 L899.6,1085.5 L900.6,1100.5 L901.6,1098.4 L902.6,1093.6 L903.6,1085.8 L904.6,1087.0 L905.6,1092.7 L906.6,1088.8 L907.6,1082.3 L908.6,1090.7 L909.6,1095.6 L910.6,1084.6 L911.6,1084.2 L912.6,1085.4 L913.6,1081.3 L914.6,1077.6 L915.6,1077.7 L916.6,1079.9 L917.6,1080.4 L918.6,1089.1 L919.6,1095.2 L920.6,1088.3 L921.6,1088.9 L922.6,1093.2 L923.6,1096.8 L924.6,1095.5 L925.6,1090.4 L926.6,1088.3 L927.6,1093.5 L928.6,1092.8 L929.6,1098.7 L930.6,1087.9 L931.6,1083.5 L932.6,1091.3 L933.6,1088.7 L934.6,1091.5 L935.6,1096.5 L936.6,1102.7 L937.6,1111.0 L938.6,1108.7 L939.6,1104.4 L940.6,1097.6 L941.6,1086.8 L942.6,1089.9 L943.6,1092.3 L944.6,1098.7 L945.6,1091.6 L946.6,1092.5 L947.6,1094.2 L948.6,1087.5 L949.6,1087.2 L950.6,1089.4 L951.6,1090.1 L952.6,1087.9 L953.6,1089.8 L954.6,1095.8 L955.6,1092.9 L956.6,1093.3 L957.6,1100.9 L958.6,1107.6 L959.6,1108.2 L960.6,1108.1 L961.6,1111.0 L962.6,1113.3 L963.6,1114.8 L964.6,1116.5 L965.6,1117.3 L966.6,1117.7 L967.6,1118.2 L968.6,1118.9 L969.6,1119.4 L970.6,1119.6 L971.6,1119.3 L972.6,1119.7 L973.6,1119.2 L974.6,1119.1 L975.6,1118.6 L976.6,1118.8 L977.6,1118.9 L978.6,1119.1 L979.6,1119.1 L980.6,1119.3 L981.6,1119.2 L982.6,1119.4 L983.6,1119.2 L984.6,1119.4 L985.6,1119.2 L986.6,1119.7 L987.6,1119.8 L988.6,1119.7 L989.6,1119.8 L990.6,1119.5 L991.6,1119.5 L992.6,1119.5 L993.6,1119.8 L994.6,1119.7 L995.6,1119.9 L996.6,1119.8 L997.6,1119.6 L998.6,1119.9 L999.6,1119.3 L1000.6,1119.6 L1001.6,1119.7 L1002.6,1119.6 L1002.6,1120.8 Z" fill="#0c3384"/>
<line x1="97.6" y1="1120.3" x2="1001.8" y2="1120.3" stroke="#5577aa" stroke-width="1"/>
<clipPath id="cp21"><rect x="95.6" y="930.5" width="908.1999999999999" height="95.59999999999991"/></clipPath>
<g clip-path="url(#cp21)">
<polyline points="135.7,990.3 137.2,979.2 138.7,971.3 140.2,966.4 141.7,963.9 143.2,963.2 144.7,963.8 146.2,965.0 147.7,966.2 149.2,967.2 150.7,968.3 152.2,969.6 153.7,971.1 155.2,972.4 156.7,972.8 158.2,972.7 159.7,973.0 161.2,974.9 162.7,979.1 164.2,985.5 165.7,993.2 167.2,1000.7 168.7,1006.8 170.2,1011.2 171.7,1013.8 173.2,1015.3 174.7,1016.0 176.2,1016.4 177.7,1016.6 179.2,1016.7 180.7,1016.8 182.2,1016.8 183.7,1016.8 185.2,1016.8 186.7,1016.8 188.2,1016.8 189.7,1016.8 191.2,1016.8 192.7,1016.8 194.2,1016.8 195.7,1016.8 197.2,1016.8 198.7,1016.8 200.2,1016.8 201.7,1016.7 203.2,1016.5 204.7,1016.0 206.2,1014.9 207.7,1012.2 209.2,1007.1 210.7,1000.4 212.2,995.0 213.7,992.1 215.2,991.2 216.7,991.4 218.2,992.4 219.7,993.7 221.2,994.9 222.7,995.6 224.2,995.6 225.7,995.2 227.2,994.8 228.7,994.9 230.2,995.2 231.7,995.4 233.2,995.2 234.7,994.9 236.2,994.7 237.7,994.8 239.2,994.9 240.7,995.0 242.2,995.2 243.7,995.1 245.2,994.6 246.7,993.8 248.2,992.8 249.7,992.0 251.2,991.4 252.7,990.9 254.2,990.4 255.7,990.0 257.2,989.8 258.7,989.6 260.2,989.4 261.7,989.0 263.2,988.2 264.7,987.1 266.2,985.7 267.7,984.1 269.2,982.4 270.7,980.5 272.2,978.7 273.7,977.3 275.2,977.0 276.7,977.9 278.2,979.8 279.7,982.0 281.2,983.6 282.7,984.3 284.2,984.2 285.7,983.6 287.2,982.9 288.7,982.6 290.2,982.9 291.7,983.6 293.2,984.3 294.7,984.6 296.2,984.6 297.7,984.5 299.2,985.0 300.7,986.6 302.2,989.3 303.7,992.7 305.2,996.4 306.7,999.5 308.2,1001.8 309.7,1003.5 311.2,1005.3 312.7,1007.8 314.2,1010.7 315.7,1013.2 317.2,1014.8 318.7,1015.8 320.2,1016.3 321.7,1016.6 323.2,1016.7 324.7,1016.8 326.2,1016.8 327.7,1016.8 329.2,1016.8 330.7,1016.8 332.2,1016.8 333.7,1016.8 335.2,1016.7 336.7,1016.7 338.2,1016.6 339.7,1016.4 341.2,1016.1 342.7,1015.6 344.2,1015.0 345.7,1014.0 347.2,1012.6 348.7,1010.7 350.2,1008.2 351.7,1005.2 353.2,1001.6 354.7,997.5 356.2,992.8 357.7,987.5 359.2,981.9 360.7,976.2 362.2,970.8 363.7,966.2 365.2,963.0 366.7,961.5 368.2,961.6 369.7,963.2 371.2,965.7 372.7,968.8 374.2,972.7 375.7,977.2 377.2,982.4 378.7,987.7 380.2,993.0 381.7,997.9 383.2,1002.1 384.7,1005.7 386.2,1008.7 387.7,1011.1 389.2,1012.9 390.7,1014.3 392.2,1015.2 393.7,1015.8 395.2,1016.2 396.7,1016.4 398.2,1016.6 399.7,1016.7 401.2,1016.7 402.7,1016.8 404.2,1016.8 405.7,1016.8 407.2,1016.8 408.7,1016.8 410.2,1016.7 411.7,1016.6 413.2,1016.5 414.7,1016.3 416.2,1015.9 417.7,1015.2 419.2,1014.2 420.7,1012.7 422.2,1010.5 423.7,1007.7 425.2,1004.2 426.7,999.8 428.2,994.5 429.7,987.9 431.2,979.9 432.7,970.5 434.2,960.4 435.7,950.9 437.2,943.1 438.7,937.8 440.2,935.4 441.7,936.2 443.2,940.1 444.7,946.7 446.2,955.0 447.7,964.0 449.2,972.7 450.7,980.5 452.2,987.4 453.7,993.5 455.2,999.0 456.7,1003.8 458.2,1007.7 459.7,1010.6 461.2,1012.7 462.7,1014.2 464.2,1015.2 465.7,1015.8 467.2,1016.2 468.7,1016.5 470.2,1016.6 471.7,1016.7 473.2,1016.8 474.7,1016.8 476.2,1016.8 477.7,1016.8 479.2,1016.8 480.7,1016.8 482.2,1016.8 483.7,1016.8 485.2,1016.8 486.7,1016.8 488.2,1016.8 489.7,1016.8 491.2,1016.8 492.7,1016.8 494.2,1016.8 495.7,1016.8 497.2,1016.8 498.7,1016.8 500.2,1016.8 501.7,1016.8 503.2,1016.8 504.7,1016.8 506.2,1016.8 507.7,1016.8 509.2,1016.8 510.7,1016.8 512.2,1016.8 513.7,1016.8 515.2,1016.8 516.7,1016.8 518.2,1016.8 519.7,1016.8 521.2,1016.8 522.7,1016.8 524.2,1016.8 525.7,1016.8 527.2,1016.8 528.7,1016.8 530.2,1016.8 531.7,1016.8 533.2,1016.8 534.7,1016.8 536.2,1016.8 537.7,1016.8 539.2,1016.8 540.7,1016.8 542.2,1016.8 543.7,1016.8 545.2,1016.8 546.7,1016.8 548.2,1016.8 549.7,1016.8 551.2,1016.8 552.7,1016.8 554.2,1016.8 555.7,1016.8 557.2,1016.8 558.7,1016.8 560.2,1016.8 561.7,1016.7 563.2,1016.6 564.7,1016.4 566.2,1015.7 567.7,1014.2 569.2,1010.9 570.7,1004.7 572.2,995.6 573.7,987.0 575.2,981.7 576.7,979.5 578.2,978.6 579.7,977.5 581.2,975.5 582.7,973.2 584.2,971.7 585.7,971.3 587.2,972.1 588.7,973.5 590.2,974.6 591.7,975.2 593.2,975.6 594.7,976.5 596.2,977.9 597.7,979.3 599.2,979.9 600.7,979.2 602.2,977.4 603.7,975.0 605.2,972.7 606.7,970.9 608.2,969.7 609.7,968.8 611.2,967.7 612.7,965.9 614.2,963.2 615.7,959.6 617.2,955.6 618.7,952.1 620.2,950.0 621.7,949.6 623.2,950.2 624.7,951.2 626.2,952.2 627.7,953.1 629.2,954.3 630.7,955.4 632.2,955.9 633.7,955.3 635.2,953.9 636.7,952.8 638.2,952.7 639.7,953.9 641.2,955.3 642.7,955.6 644.2,954.0 645.7,951.1 647.2,948.3 648.7,947.2 650.2,948.2 651.7,950.8 653.2,953.6 654.7,955.7 656.2,956.9 657.7,957.8 659.2,959.2 660.7,961.0 662.2,963.2 663.7,965.5 665.2,967.7 666.7,970.2 668.2,973.3 669.7,977.8 671.2,984.4 672.7,992.8 674.2,1001.0 675.7,1007.4 677.2,1011.6 678.7,1014.1 680.2,1015.5 681.7,1016.2 683.2,1016.5 684.7,1016.7 686.2,1016.7 687.7,1016.8 689.2,1016.8 690.7,1016.8 692.2,1016.8 693.7,1016.8 695.2,1016.8 696.7,1016.8 698.2,1016.8 699.7,1016.8 701.2,1016.8 702.7,1016.8 704.2,1016.8 705.7,1016.8 707.2,1016.8 708.7,1016.8 710.2,1016.8 711.7,1016.8 713.2,1016.8 714.7,1016.8 716.2,1016.7 717.7,1015.9 719.2,1015.0 720.7,1014.0 722.2,1013.0 723.7,1011.9 725.2,1010.8 726.7,1009.9 728.2,1009.4 729.7,1009.1 731.2,1008.9 732.7,1008.7 734.2,1008.4 735.7,1007.9 737.2,1007.2 738.7,1006.6 740.2,1006.2 741.7,1006.2 743.2,1006.7 744.7,1007.2 746.2,1007.3 747.7,1006.7 749.2,1005.4 750.7,1003.8 752.2,1002.5 753.7,1002.0 755.2,1002.2 756.7,1002.8 758.2,1003.1 759.7,1002.7 761.2,1001.6 762.7,999.9 764.2,998.1 765.7,996.2 767.2,994.1 768.7,991.9 770.2,989.6 771.7,987.4 773.2,985.3 774.7,983.7 776.2,982.7 777.7,982.6 779.2,983.7 780.7,985.5 782.2,987.6 783.7,989.3 785.2,990.1 786.7,990.1 788.2,989.8 789.7,989.5 791.2,989.6 792.7,989.5 794.2,989.0 795.7,988.1 797.2,987.2 798.7,986.6 800.2,986.4 801.7,986.2 803.2,985.6 804.7,984.5 806.2,983.0 807.7,982.0 809.2,982.2 810.7,983.8 812.2,986.6 813.7,989.8 815.2,993.0 816.7,996.9 818.2,1001.9 819.7,1007.2 821.2,1011.4 822.7,1013.9 824.2,1015.3 825.7,1016.1 827.2,1016.4 828.7,1016.6 830.2,1016.7 831.7,1016.8 833.2,1016.8 834.7,1016.8 836.2,1016.8 837.7,1016.8 839.2,1016.8 840.7,1016.8 842.2,1016.8 843.7,1016.8 845.2,1016.8 846.7,1016.8 848.2,1016.8 849.7,1016.8 851.2,1016.7 852.7,1016.6 854.2,1016.2 855.7,1015.3 857.2,1013.1 858.7,1008.5 860.2,1001.9 861.7,995.8 863.2,991.8 864.7,989.1 866.2,986.5 867.7,984.0 869.2,981.9 870.7,980.7 872.2,980.2 873.7,980.0 875.2,979.2 876.7,977.3 878.2,974.1 879.7,970.3 881.2,967.4 882.7,966.6 884.2,968.0 885.7,971.2 887.2,975.3 888.7,979.8 890.2,983.7 891.7,986.2 893.2,986.8 894.7,985.7 896.2,984.0 897.7,982.8 899.2,982.5 900.7,983.0 902.2,983.3 903.7,982.7 905.2,980.8 906.7,978.1 908.2,975.2 909.7,972.8 911.2,971.2 912.7,970.9 914.2,972.1 915.7,974.6 917.2,978.0 918.7,981.4 920.2,984.1 921.7,985.7 923.2,986.2 924.7,985.7 926.2,984.6 927.7,983.2 929.2,981.9 930.7,980.9 932.2,979.8 933.7,978.4 935.2,976.8 936.7,975.1 938.2,973.7 939.7,973.0 941.2,973.2 942.7,974.0 944.2,975.4 945.7,977.1 947.2,978.6 948.7,979.2 950.2,978.8 951.7,977.8 953.2,977.1 954.7,977.4 956.2,978.9 957.7,981.6 959.2,985.6 960.7,991.0 962.2,997.5 963.7,1004.0 965.2,1009.1 966.7,1012.5 968.2,1014.4" fill="none" stroke="#5b7367" stroke-width="2.2" stroke-linejoin="round"/>
<polyline points="135.7,976.3 137.2,961.7 138.7,951.3 140.2,947.8 141.7,948.5 143.2,948.3 144.7,947.7 146.2,950.7 147.7,958.2 149.2,967.6 150.7,976.7 152.2,983.0 153.7,983.9 155.2,979.1 156.7,971.1 158.2,963.6 159.7,960.3 161.2,962.9 162.7,970.7 164.2,981.2 165.7,991.1 167.2,998.6 168.7,1004.7 170.2,1009.8 171.7,1013.4 173.2,1015.4 174.7,1016.2 176.2,1016.6 177.7,1016.7 179.2,1016.8 180.7,1016.9 182.2,1016.9 183.7,1016.9 185.2,1016.8 186.7,1016.6 188.2,1016.5 189.7,1016.5 191.2,1016.6 192.7,1016.7 194.2,1016.9 195.7,1017.0 197.2,1016.9 198.7,1016.7 200.2,1016.6 201.7,1016.5 203.2,1016.5 204.7,1016.6 206.2,1016.6 207.7,1016.5 209.2,1016.2 210.7,1015.1 212.2,1012.7 213.7,1009.9 215.2,1007.5 216.7,1005.6 218.2,1002.6 219.7,997.6 221.2,991.9 222.7,987.5 224.2,985.1 225.7,984.1 227.2,983.0 228.7,982.0 230.2,982.7 231.7,986.5 233.2,991.7 234.7,995.6 236.2,996.5 237.7,994.8 239.2,992.3 240.7,990.4 242.2,989.4 243.7,989.5 245.2,990.0 246.7,990.2 248.2,989.4 249.7,987.7 251.2,985.8 252.7,984.5 254.2,984.1 255.7,984.7 257.2,986.3 258.7,988.6 260.2,990.7 261.7,991.5 263.2,990.8 264.7,989.1 266.2,987.1 267.7,984.8 269.2,981.8 270.7,978.5 272.2,977.0 273.7,978.2 275.2,980.4 276.7,981.0 278.2,978.9 279.7,974.8 281.2,970.9 282.7,969.9 284.2,973.3 285.7,979.4 287.2,985.5 288.7,990.4 290.2,993.6 291.7,994.6 293.2,992.8 294.7,988.4 296.2,982.6 297.7,976.6 299.2,971.0 300.7,967.2 302.2,967.0 303.7,970.3 305.2,974.5 306.7,977.5 308.2,980.8 309.7,986.4 311.2,994.1 312.7,1001.9 314.2,1007.9 315.7,1011.8 317.2,1014.1 318.7,1015.4 320.2,1016.1 321.7,1016.4 323.2,1016.6 324.7,1016.5 326.2,1016.4 327.7,1016.2 329.2,1016.2 330.7,1016.2 332.2,1016.3 333.7,1016.4 335.2,1016.5 336.7,1016.5 338.2,1016.4 339.7,1016.4 341.2,1016.3 342.7,1016.2 344.2,1015.9 345.7,1015.4 347.2,1014.7 348.7,1013.6 350.2,1011.9 351.7,1009.2 353.2,1005.4 354.7,1001.0 356.2,996.9 357.7,992.7 359.2,986.9 360.7,977.9 362.2,967.9 363.7,960.3 365.2,956.1 366.7,954.0 368.2,953.5 369.7,954.2 371.2,956.0 372.7,959.4 374.2,964.7 375.7,971.4 377.2,978.8 378.7,986.7 380.2,994.4 381.7,1001.0 383.2,1005.8 384.7,1009.2 386.2,1011.7 387.7,1013.6 389.2,1014.9 390.7,1015.7 392.2,1016.2 393.7,1016.5 395.2,1016.6 396.7,1016.7 398.2,1016.8 399.7,1016.8 401.2,1016.8 402.7,1016.9 404.2,1016.9 405.7,1016.8 407.2,1016.7 408.7,1016.6 410.2,1016.4 411.7,1016.4 413.2,1016.3 414.7,1016.3 416.2,1016.3 417.7,1016.3 419.2,1016.2 420.7,1015.9 422.2,1015.6 423.7,1015.0 425.2,1014.3 426.7,1013.0 428.2,1011.0 429.7,1008.0 431.2,1003.1 432.7,995.8 434.2,985.7 435.7,975.1 437.2,968.5 438.7,968.9 440.2,973.9 441.7,978.6 443.2,979.4 444.7,975.5 446.2,969.6 447.7,966.2 449.2,968.8 450.7,977.1 452.2,987.3 453.7,995.8 455.2,1001.7 456.7,1005.5 458.2,1008.1 459.7,1010.2 461.2,1011.9 462.7,1013.3 464.2,1014.3 465.7,1015.1 467.2,1015.6 468.7,1016.1 470.2,1016.3 471.7,1016.3 473.2,1016.3 474.7,1016.3 476.2,1016.3 477.7,1016.4 479.2,1016.4 480.7,1016.4 482.2,1016.3 483.7,1016.3 485.2,1016.4 486.7,1016.5 488.2,1016.6 489.7,1016.6 491.2,1016.6 492.7,1016.6 494.2,1016.6 495.7,1016.5 497.2,1016.5 498.7,1016.4 500.2,1016.4 501.7,1016.4 503.2,1016.4 504.7,1016.4 506.2,1016.5 507.7,1016.6 509.2,1016.6 510.7,1016.5 512.2,1016.5 513.7,1016.6 515.2,1016.6 516.7,1016.7 518.2,1016.6 519.7,1016.6 521.2,1016.5 522.7,1016.4 524.2,1016.4 525.7,1016.4 527.2,1016.5 528.7,1016.6 530.2,1016.6 531.7,1016.7 533.2,1016.6 534.7,1016.6 536.2,1016.7 537.7,1016.7 539.2,1016.7 540.7,1016.6 542.2,1016.5 543.7,1016.3 545.2,1016.2 546.7,1016.2 548.2,1016.2 549.7,1016.2 551.2,1016.2 552.7,1016.3 554.2,1016.3 555.7,1016.4 557.2,1016.5 558.7,1016.6 560.2,1016.5 561.7,1016.5 563.2,1016.3 564.7,1016.0 566.2,1014.9 567.7,1012.0 569.2,1005.2 570.7,993.0 572.2,979.7 573.7,971.6 575.2,966.6 576.7,961.0 578.2,956.1 579.7,954.2 581.2,955.0 582.7,957.7 584.2,962.4 585.7,969.7 587.2,978.6 588.7,986.4 590.2,990.7 591.7,990.8 593.2,986.9 594.7,979.5 596.2,968.7 597.7,956.2 599.2,947.1 600.7,946.4 602.2,953.9 603.7,964.7 605.2,973.7 606.7,977.6 608.2,974.9 609.7,965.4 611.2,951.5 612.7,940.0 614.2,937.9 615.7,945.2 617.2,955.7 618.7,963.6 620.2,968.4 621.7,971.4 623.2,974.0 624.7,975.9 626.2,975.4 627.7,970.7 629.2,962.2 630.7,953.6 632.2,950.4 633.7,954.7 635.2,962.8 636.7,970.2 638.2,975.6 639.7,980.3 641.2,984.6 642.7,986.2 644.2,982.8 645.7,974.4 647.2,964.5 648.7,957.4 650.2,953.5 651.7,951.8 653.2,954.0 654.7,961.7 656.2,973.0 657.7,982.9 659.2,987.7 660.7,986.6 662.2,981.8 663.7,977.3 665.2,975.2 666.7,975.6 668.2,977.0 669.7,978.4 671.2,981.0 672.7,987.2 674.2,996.5 675.7,1005.6 677.2,1011.7 678.7,1014.7 680.2,1015.9 681.7,1016.3 683.2,1016.5 684.7,1016.5 686.2,1016.6 687.7,1016.6 689.2,1016.6 690.7,1016.6 692.2,1016.6 693.7,1016.6 695.2,1016.5 696.7,1016.5 698.2,1016.5 699.7,1016.5 701.2,1016.5 702.7,1016.5 704.2,1016.5 705.7,1016.5 707.2,1016.5 708.7,1016.5 710.2,1016.6 711.7,1016.7 713.2,1016.8 714.7,1016.8 716.2,1016.7 717.7,1015.4 719.2,1014.1 720.7,1012.9 722.2,1011.7 723.7,1010.1 725.2,1007.9 726.7,1005.5 728.2,1003.4 729.7,1001.8 731.2,1000.6 732.7,999.8 734.2,999.9 735.7,1000.6 737.2,1000.9 738.7,1000.0 740.2,997.9 741.7,995.4 743.2,993.6 744.7,992.6 746.2,992.4 747.7,992.8 749.2,993.5 750.7,994.2 752.2,995.0 753.7,996.2 755.2,996.9 756.7,996.3 758.2,994.2 759.7,990.6 761.2,986.0 762.7,981.2 764.2,978.1 765.7,978.8 767.2,983.7 768.7,989.9 770.2,992.8 771.7,989.9 773.2,981.9 774.7,973.1 776.2,967.8 777.7,966.3 779.2,965.8 780.7,964.9 782.2,965.0 783.7,968.4 785.2,974.3 786.7,979.5 788.2,981.6 789.7,980.7 791.2,979.3 792.7,978.7 794.2,977.6 795.7,975.6 797.2,973.3 798.7,971.8 800.2,971.5 801.7,972.7 803.2,974.9 804.7,976.3 806.2,975.4 807.7,972.4 809.2,968.4 810.7,965.4 812.2,965.6 813.7,969.2 815.2,974.3 816.7,979.7 818.2,986.7 819.7,996.0 821.2,1004.7 822.7,1010.5 824.2,1013.6 825.7,1015.1 827.2,1015.9 828.7,1016.4 830.2,1016.6 831.7,1016.6 833.2,1016.6 834.7,1016.6 836.2,1016.6 837.7,1016.6 839.2,1016.6 840.7,1016.6 842.2,1016.7 843.7,1016.6 845.2,1016.6 846.7,1016.6 848.2,1016.6 849.7,1016.5 851.2,1016.4 852.7,1016.0 854.2,1015.4 855.7,1014.0 857.2,1010.7 858.7,1003.4 860.2,990.4 861.7,973.3 863.2,957.1 864.7,947.1 866.2,944.4 867.7,945.6 869.2,947.6 870.7,950.2 872.2,954.5 873.7,960.6 875.2,965.9 876.7,967.8 878.2,964.7 879.7,957.5 881.2,951.1 882.7,952.0 884.2,960.4 885.7,969.7 887.2,974.8 888.7,977.5 890.2,981.9 891.7,987.5 893.2,990.0 894.7,988.3 896.2,984.7 897.7,982.1 899.2,980.7 900.7,979.3 902.2,976.9 903.7,973.8 905.2,971.2 906.7,971.0 908.2,974.2 909.7,979.6 911.2,984.1 912.7,984.9 914.2,982.3 915.7,979.5 917.2,979.5 918.7,981.4 920.2,981.1 921.7,975.2 923.2,964.8 924.7,955.4 926.2,952.9 927.7,957.6 929.2,963.2 930.7,963.7 932.2,958.7 933.7,953.0 935.2,952.0 936.7,954.9 938.2,957.1 939.7,955.3 941.2,949.9 942.7,945.4 944.2,947.0 945.7,955.6 947.2,966.1 948.7,972.9 950.2,974.4 951.7,973.0 953.2,972.8 954.7,975.4 956.2,979.2 957.7,982.8 959.2,986.3 960.7,990.3 962.2,995.3 963.7,1001.4 965.2,1007.5 966.7,1012.0 968.2,1014.5" fill="none" stroke="#a9c2ea" stroke-width="2.2" stroke-linejoin="round"/>
<polyline points="135.7,975.6 137.2,963.0 138.7,953.4 140.2,948.3 141.7,947.1 143.2,948.6 144.7,952.8 146.2,961.1 147.7,971.7 149.2,981.9 150.7,990.0 152.2,994.8 153.7,994.9 155.2,989.9 156.7,980.8 158.2,969.8 159.7,960.1 161.2,956.8 162.7,963.3 164.2,976.7 165.7,989.6 167.2,998.6 168.7,1004.8 170.2,1009.5 171.7,1012.6 173.2,1014.3 174.7,1015.1 176.2,1015.4 177.7,1015.5 179.2,1015.5 180.7,1015.6 182.2,1015.6 183.7,1015.6 185.2,1015.6 186.7,1015.7 188.2,1015.7 189.7,1015.7 191.2,1015.7 192.7,1015.6 194.2,1015.6 195.7,1015.6 197.2,1015.7 198.7,1015.8 200.2,1015.9 201.7,1016.1 203.2,1016.3 204.7,1016.3 206.2,1016.3 207.7,1016.2 209.2,1016.0 210.7,1015.2 212.2,1013.3 213.7,1010.8 215.2,1008.5 216.7,1006.8 218.2,1004.5 219.7,1000.5 221.2,995.7 222.7,991.9 224.2,990.1 225.7,990.4 227.2,991.7 228.7,993.1 230.2,994.6 231.7,996.2 233.2,997.9 234.7,998.7 236.2,998.1 237.7,996.2 239.2,993.6 240.7,990.8 242.2,988.1 243.7,986.5 245.2,986.9 246.7,989.2 248.2,991.8 249.7,993.4 251.2,993.3 252.7,991.8 254.2,989.5 255.7,986.8 257.2,983.8 258.7,981.3 260.2,981.2 261.7,984.1 263.2,988.1 264.7,990.2 266.2,989.2 267.7,986.1 269.2,982.8 270.7,981.4 272.2,982.9 273.7,985.5 275.2,986.5 276.7,984.9 278.2,981.6 279.7,978.5 281.2,977.7 282.7,979.9 284.2,984.1 285.7,988.5 287.2,991.4 288.7,992.0 290.2,990.9 291.7,988.5 293.2,984.8 294.7,980.4 296.2,977.3 297.7,976.5 299.2,976.6 300.7,976.1 302.2,975.1 303.7,975.1 305.2,975.8 306.7,975.3 308.2,974.7 309.7,978.7 311.2,989.0 312.7,1000.6 314.2,1008.5 315.7,1012.7 317.2,1014.6 318.7,1015.4 320.2,1015.7 321.7,1015.8 323.2,1015.9 324.7,1015.9 326.2,1016.0 327.7,1016.0 329.2,1016.0 330.7,1016.0 332.2,1016.0 333.7,1016.0 335.2,1016.1 336.7,1016.1 338.2,1016.1 339.7,1016.2 341.2,1016.1 342.7,1015.9 344.2,1015.6 345.7,1015.0 347.2,1014.1 348.7,1012.9 350.2,1011.3 351.7,1008.8 353.2,1005.3 354.7,1000.4 356.2,994.0 357.7,986.0 359.2,976.9 360.7,968.7 362.2,963.6 363.7,961.6 365.2,960.7 366.7,960.3 368.2,961.1 369.7,963.0 371.2,964.9 372.7,967.0 374.2,970.6 375.7,976.4 377.2,983.0 378.7,989.5 380.2,995.6 381.7,1001.2 383.2,1005.9 384.7,1009.5 386.2,1012.0 387.7,1013.7 389.2,1014.8 390.7,1015.4 392.2,1015.7 393.7,1015.9 395.2,1015.9 396.7,1016.0 398.2,1016.0 399.7,1016.0 401.2,1016.1 402.7,1016.1 404.2,1016.1 405.7,1016.1 407.2,1016.1 408.7,1016.1 410.2,1016.0 411.7,1015.9 413.2,1015.8 414.7,1015.8 416.2,1015.9 417.7,1015.9 419.2,1015.8 420.7,1015.5 422.2,1015.1 423.7,1014.3 425.2,1013.2 426.7,1011.7 428.2,1009.8 429.7,1007.5 431.2,1004.6 432.7,1000.0 434.2,992.0 435.7,980.3 437.2,967.9 438.7,959.3 440.2,955.8 441.7,955.4 443.2,956.9 444.7,959.7 446.2,962.7 447.7,965.3 449.2,969.3 450.7,976.6 452.2,986.4 453.7,995.9 455.2,1002.9 456.7,1007.1 458.2,1009.4 459.7,1010.9 461.2,1012.1 462.7,1013.2 464.2,1014.1 465.7,1014.8 467.2,1015.4 468.7,1015.9 470.2,1016.1 471.7,1016.2 473.2,1016.2 474.7,1016.1 476.2,1016.0 477.7,1015.9 479.2,1015.8 480.7,1015.9 482.2,1015.9 483.7,1016.0 485.2,1016.1 486.7,1016.2 488.2,1016.2 489.7,1016.2 491.2,1016.1 492.7,1016.1 494.2,1016.2 495.7,1016.2 497.2,1016.1 498.7,1016.1 500.2,1016.2 501.7,1016.2 503.2,1016.3 504.7,1016.2 506.2,1016.2 507.7,1016.1 509.2,1016.1 510.7,1016.1 512.2,1016.2 513.7,1016.3 515.2,1016.4 516.7,1016.3 518.2,1016.3 519.7,1016.2 521.2,1016.2 522.7,1016.2 524.2,1016.1 525.7,1016.0 527.2,1016.0 528.7,1015.9 530.2,1015.9 531.7,1015.9 533.2,1015.9 534.7,1015.9 536.2,1016.0 537.7,1016.1 539.2,1016.2 540.7,1016.2 542.2,1016.3 543.7,1016.3 545.2,1016.3 546.7,1016.2 548.2,1016.2 549.7,1016.1 551.2,1016.2 552.7,1016.2 554.2,1016.2 555.7,1016.2 557.2,1016.1 558.7,1016.0 560.2,1016.0 561.7,1016.0 563.2,1016.0 564.7,1015.8 566.2,1014.9 567.7,1012.7 569.2,1007.9 570.7,1000.4 572.2,993.1 573.7,988.8 575.2,985.2 576.7,979.5 578.2,972.2 579.7,964.5 581.2,957.5 582.7,952.2 584.2,949.9 585.7,950.8 587.2,954.5 588.7,959.6 590.2,964.9 591.7,969.1 593.2,971.1 594.7,969.4 596.2,963.1 597.7,953.2 599.2,943.4 600.7,938.4 602.2,940.5 603.7,948.3 605.2,957.1 606.7,962.6 608.2,963.1 609.7,959.7 611.2,954.5 612.7,949.7 614.2,948.3 615.7,951.4 617.2,956.1 618.7,959.2 620.2,961.5 621.7,965.8 623.2,971.9 624.7,976.4 626.2,977.5 627.7,976.0 629.2,974.2 630.7,974.4 632.2,977.0 633.7,980.5 635.2,983.5 636.7,985.6 638.2,987.4 639.7,990.0 641.2,993.0 642.7,994.4 644.2,991.9 645.7,985.2 647.2,976.3 648.7,968.2 650.2,961.9 651.7,957.2 653.2,955.8 654.7,960.6 656.2,971.7 657.7,983.6 659.2,990.6 660.7,991.0 662.2,986.7 663.7,980.8 665.2,976.0 666.7,973.5 668.2,973.0 669.7,974.2 671.2,977.7 672.7,984.4 674.2,993.4 675.7,1002.1 677.2,1008.7 678.7,1012.5 680.2,1014.4 681.7,1015.2 683.2,1015.7 684.7,1015.9 686.2,1016.1 687.7,1016.2 689.2,1016.4 690.7,1016.5 692.2,1016.5 693.7,1016.4 695.2,1016.4 696.7,1016.3 698.2,1016.3 699.7,1016.4 701.2,1016.5 702.7,1016.6 704.2,1016.6 705.7,1016.5 707.2,1016.5 708.7,1016.5 710.2,1016.5 711.7,1016.4 713.2,1016.4 714.7,1016.3 716.2,1016.1 717.7,1014.6 719.2,1013.0 720.7,1011.8 722.2,1010.9 723.7,1009.8 725.2,1008.2 726.7,1006.4 728.2,1004.4 729.7,1002.7 731.2,1001.9 732.7,1002.0 734.2,1002.3 735.7,1002.2 737.2,1001.4 738.7,999.6 740.2,997.0 741.7,994.7 743.2,993.7 744.7,994.2 746.2,996.0 747.7,998.4 749.2,1000.1 750.7,1000.1 752.2,998.2 753.7,995.5 755.2,992.6 756.7,989.6 758.2,986.1 759.7,982.7 761.2,980.4 762.7,979.7 764.2,980.4 765.7,982.5 767.2,985.7 768.7,988.9 770.2,989.6 771.7,985.6 773.2,978.1 774.7,970.7 776.2,965.8 777.7,962.9 779.2,960.6 780.7,959.0 782.2,959.9 783.7,965.4 785.2,974.4 786.7,982.7 788.2,986.6 789.7,986.1 791.2,984.2 792.7,983.3 794.2,982.9 795.7,981.1 797.2,976.9 798.7,971.0 800.2,966.0 801.7,964.4 803.2,966.0 804.7,967.9 806.2,968.1 807.7,965.9 809.2,961.9 810.7,957.9 812.2,956.2 813.7,958.1 815.2,962.7 816.7,969.6 818.2,980.3 819.7,993.8 821.2,1004.8 822.7,1011.0 824.2,1013.9 825.7,1015.0 827.2,1015.5 828.7,1015.8 830.2,1015.9 831.7,1016.0 833.2,1016.1 834.7,1016.1 836.2,1016.1 837.7,1016.1 839.2,1016.1 840.7,1016.2 842.2,1016.2 843.7,1016.2 845.2,1016.2 846.7,1016.1 848.2,1016.1 849.7,1016.0 851.2,1015.9 852.7,1015.8 854.2,1015.3 855.7,1014.1 857.2,1011.3 858.7,1005.0 860.2,994.4 861.7,980.5 863.2,965.9 864.7,954.9 866.2,951.2 867.7,953.3 869.2,956.9 870.7,959.8 872.2,962.0 873.7,964.4 875.2,966.8 876.7,968.1 878.2,967.3 879.7,964.5 881.2,962.5 882.7,963.0 884.2,964.0 885.7,963.9 887.2,964.8 888.7,970.2 890.2,979.5 891.7,987.3 893.2,989.3 894.7,986.5 896.2,982.8 897.7,981.0 899.2,980.3 900.7,978.9 902.2,975.8 903.7,971.2 905.2,966.4 906.7,962.9 908.2,961.9 909.7,964.4 911.2,969.2 912.7,973.0 914.2,973.6 915.7,972.1 917.2,972.0 918.7,974.4 920.2,976.6 921.7,975.6 923.2,972.0 924.7,968.8 926.2,967.6 927.7,967.3 929.2,965.8 930.7,961.0 932.2,953.3 933.7,946.6 935.2,945.1 936.7,949.3 938.2,955.2 939.7,958.3 941.2,957.7 942.7,955.2 944.2,954.9 945.7,959.3 947.2,966.8 948.7,972.4 950.2,973.1 951.7,970.0 953.2,966.8 954.7,967.2 956.2,971.4 957.7,977.1 959.2,982.5 960.7,987.8 962.2,994.1 963.7,1001.3 965.2,1007.7 966.7,1012.1 968.2,1014.4" fill="none" stroke="#8eb0e4" stroke-width="2.2" stroke-linejoin="round"/>
<polyline points="135.7,990.1 137.2,978.8 138.7,969.7 140.2,963.8 141.7,959.5 143.2,956.3 144.7,956.8 146.2,962.8 147.7,972.0 149.2,980.7 150.7,987.9 152.2,992.7 153.7,994.0 155.2,992.0 156.7,987.7 158.2,981.8 159.7,975.2 161.2,971.3 162.7,974.1 164.2,983.5 165.7,993.8 167.2,1001.2 168.7,1006.6 170.2,1010.8 171.7,1013.7 173.2,1015.2 174.7,1015.9 176.2,1016.2 177.7,1016.5 179.2,1016.6 180.7,1016.6 182.2,1016.5 183.7,1016.3 185.2,1016.2 186.7,1016.2 188.2,1016.3 189.7,1016.3 191.2,1016.2 192.7,1016.1 194.2,1016.1 195.7,1016.2 197.2,1016.2 198.7,1016.3 200.2,1016.3 201.7,1016.3 203.2,1016.4 204.7,1016.4 206.2,1016.4 207.7,1016.4 209.2,1016.2 210.7,1015.4 212.2,1013.5 213.7,1010.9 215.2,1008.8 216.7,1007.7 218.2,1006.4 219.7,1004.2 221.2,1001.6 222.7,999.0 224.2,996.9 225.7,995.4 227.2,994.7 228.7,994.9 230.2,996.2 231.7,998.2 233.2,1000.0 234.7,1001.2 236.2,1001.3 237.7,1000.5 239.2,999.0 240.7,997.2 242.2,995.4 243.7,993.9 245.2,993.3 246.7,993.7 248.2,994.2 249.7,994.4 251.2,993.8 252.7,992.7 254.2,991.4 255.7,990.3 257.2,989.4 258.7,988.8 260.2,988.6 261.7,989.2 263.2,990.2 264.7,990.6 266.2,990.3 267.7,989.7 269.2,989.2 270.7,989.4 272.2,990.9 273.7,992.7 275.2,992.4 276.7,988.9 278.2,983.0 279.7,977.7 281.2,975.9 282.7,978.6 284.2,984.4 285.7,990.8 287.2,995.4 288.7,997.2 290.2,997.1 291.7,995.8 293.2,993.3 294.7,989.9 296.2,986.8 297.7,985.1 299.2,984.1 300.7,983.4 302.2,983.1 303.7,983.7 305.2,985.2 306.7,986.9 308.2,989.7 309.7,994.6 311.2,1000.7 312.7,1006.2 314.2,1010.3 315.7,1012.8 317.2,1014.3 318.7,1015.2 320.2,1015.6 321.7,1015.8 323.2,1015.9 324.7,1015.9 326.2,1016.0 327.7,1016.2 329.2,1016.4 330.7,1016.5 332.2,1016.5 333.7,1016.5 335.2,1016.4 336.7,1016.4 338.2,1016.3 339.7,1016.2 341.2,1016.0 342.7,1015.7 344.2,1015.3 345.7,1014.7 347.2,1013.8 348.7,1012.6 350.2,1011.1 351.7,1009.0 353.2,1006.0 354.7,1002.0 356.2,996.9 357.7,990.9 359.2,984.7 360.7,979.5 362.2,976.0 363.7,973.7 365.2,972.1 366.7,971.8 368.2,973.4 369.7,975.6 371.2,976.2 372.7,975.0 374.2,975.0 375.7,978.8 377.2,985.8 378.7,993.2 380.2,999.3 381.7,1003.8 383.2,1007.3 384.7,1010.2 386.2,1012.5 387.7,1014.0 389.2,1014.9 390.7,1015.4 392.2,1015.7 393.7,1015.8 395.2,1016.0 396.7,1016.1 398.2,1016.1 399.7,1016.1 401.2,1016.2 402.7,1016.2 404.2,1016.3 405.7,1016.3 407.2,1016.2 408.7,1016.1 410.2,1016.1 411.7,1016.1 413.2,1016.1 414.7,1016.2 416.2,1016.1 417.7,1016.1 419.2,1015.9 420.7,1015.6 422.2,1015.2 423.7,1014.6 425.2,1013.8 426.7,1012.6 428.2,1011.0 429.7,1008.8 431.2,1005.4 432.7,1000.4 434.2,993.6 435.7,986.3 437.2,979.7 438.7,974.4 440.2,970.5 441.7,968.6 443.2,969.7 444.7,972.6 446.2,975.3 447.7,976.9 449.2,979.1 450.7,983.2 452.2,989.1 453.7,995.4 455.2,1000.9 456.7,1005.1 458.2,1008.1 459.7,1010.2 461.2,1011.9 462.7,1013.2 464.2,1014.2 465.7,1015.1 467.2,1015.6 468.7,1016.0 470.2,1016.2 471.7,1016.2 473.2,1016.1 474.7,1016.0 476.2,1016.0 477.7,1016.1 479.2,1016.1 480.7,1016.1 482.2,1016.0 483.7,1016.0 485.2,1016.1 486.7,1016.2 488.2,1016.2 489.7,1016.3 491.2,1016.2 492.7,1016.2 494.2,1016.2 495.7,1016.3 497.2,1016.4 498.7,1016.3 500.2,1016.3 501.7,1016.1 503.2,1016.1 504.7,1016.1 506.2,1016.2 507.7,1016.2 509.2,1016.2 510.7,1016.1 512.2,1015.9 513.7,1015.8 515.2,1015.8 516.7,1015.9 518.2,1016.0 519.7,1016.1 521.2,1016.2 522.7,1016.2 524.2,1016.2 525.7,1016.2 527.2,1016.3 528.7,1016.3 530.2,1016.3 531.7,1016.2 533.2,1016.1 534.7,1016.1 536.2,1016.1 537.7,1016.1 539.2,1016.1 540.7,1016.2 542.2,1016.3 543.7,1016.3 545.2,1016.3 546.7,1016.4 548.2,1016.3 549.7,1016.2 551.2,1016.1 552.7,1016.0 554.2,1016.0 555.7,1016.0 557.2,1016.1 558.7,1016.1 560.2,1016.1 561.7,1016.0 563.2,1015.9 564.7,1015.6 566.2,1014.8 567.7,1012.7 569.2,1007.7 570.7,998.8 572.2,989.4 573.7,985.1 575.2,984.4 576.7,983.6 578.2,982.2 579.7,980.7 581.2,978.9 582.7,976.9 584.2,975.5 585.7,975.8 587.2,976.7 588.7,977.4 590.2,977.7 591.7,978.3 593.2,978.9 594.7,978.8 596.2,977.0 597.7,973.7 599.2,970.0 600.7,967.1 602.2,966.3 603.7,968.9 605.2,973.6 606.7,977.5 608.2,978.2 609.7,976.0 611.2,972.7 612.7,970.9 614.2,971.9 615.7,975.4 617.2,979.6 618.7,982.8 620.2,985.7 621.7,989.1 623.2,991.6 624.7,991.6 626.2,988.5 627.7,983.3 629.2,977.2 630.7,971.9 632.2,969.4 633.7,971.2 635.2,976.3 636.7,981.6 638.2,985.6 639.7,988.7 641.2,990.8 642.7,990.9 644.2,987.8 645.7,982.8 647.2,979.3 648.7,979.6 650.2,981.5 651.7,982.0 653.2,980.9 654.7,981.1 656.2,984.8 657.7,990.3 659.2,993.4 660.7,992.3 662.2,988.7 663.7,985.7 665.2,984.5 666.7,984.8 668.2,985.7 669.7,987.1 671.2,990.0 672.7,995.4 674.2,1002.3 675.7,1008.3 677.2,1012.2 678.7,1014.3 680.2,1015.2 681.7,1015.7 683.2,1016.0 684.7,1016.2 686.2,1016.3 687.7,1016.4 689.2,1016.4 690.7,1016.4 692.2,1016.4 693.7,1016.3 695.2,1016.2 696.7,1016.1 698.2,1016.1 699.7,1016.0 701.2,1016.1 702.7,1016.1 704.2,1016.2 705.7,1016.3 707.2,1016.3 708.7,1016.3 710.2,1016.3 711.7,1016.2 713.2,1016.1 714.7,1016.2 716.2,1016.2 717.7,1015.6 719.2,1015.0 720.7,1014.5 722.2,1013.9 723.7,1013.0 725.2,1011.8 726.7,1010.2 728.2,1008.4 729.7,1007.2 731.2,1006.5 732.7,1006.1 734.2,1006.1 735.7,1006.5 737.2,1006.7 738.7,1005.7 740.2,1002.8 741.7,998.6 743.2,995.4 744.7,994.7 746.2,996.1 747.7,998.6 749.2,1000.9 750.7,1002.1 752.2,1001.8 753.7,1000.4 755.2,998.2 756.7,995.5 758.2,992.7 759.7,990.4 761.2,988.8 762.7,987.5 764.2,986.4 765.7,987.0 767.2,990.6 768.7,995.4 770.2,998.0 771.7,996.4 773.2,991.1 774.7,984.9 776.2,980.9 777.7,979.7 779.2,979.8 780.7,979.6 782.2,978.8 783.7,978.8 785.2,981.0 786.7,984.6 788.2,987.1 789.7,987.5 791.2,987.1 792.7,986.7 794.2,986.0 795.7,984.0 797.2,981.0 798.7,977.8 800.2,975.3 801.7,974.0 803.2,973.4 804.7,972.6 806.2,972.1 807.7,972.3 809.2,973.0 810.7,973.7 812.2,975.1 813.7,978.2 815.2,982.2 816.7,986.1 818.2,991.1 819.7,998.2 821.2,1005.5 822.7,1010.7 824.2,1013.5 825.7,1014.9 827.2,1015.6 828.7,1016.0 830.2,1016.2 831.7,1016.2 833.2,1016.1 834.7,1016.0 836.2,1016.0 837.7,1016.0 839.2,1016.0 840.7,1016.0 842.2,1016.0 843.7,1016.1 845.2,1016.2 846.7,1016.3 848.2,1016.3 849.7,1016.3 851.2,1016.2 852.7,1015.9 854.2,1015.5 855.7,1014.6 857.2,1012.7 858.7,1008.8 860.2,1002.1 861.7,992.8 863.2,983.3 864.7,977.4 866.2,976.5 867.7,977.8 869.2,977.7 870.7,975.3 872.2,972.1 873.7,971.4 875.2,975.4 876.7,981.4 878.2,985.1 879.7,983.9 881.2,979.0 882.7,974.7 884.2,974.2 885.7,976.1 887.2,977.9 888.7,980.0 890.2,983.8 891.7,987.8 893.2,989.3 894.7,988.8 896.2,989.0 897.7,990.5 899.2,991.8 900.7,992.0 902.2,990.8 903.7,988.3 905.2,985.0 906.7,981.8 908.2,980.6 909.7,981.9 911.2,984.4 912.7,985.7 914.2,985.1 915.7,984.2 917.2,984.6 918.7,985.9 920.2,985.5 921.7,981.8 923.2,976.0 924.7,971.6 926.2,971.2 927.7,973.2 929.2,974.3 930.7,973.5 932.2,972.9 933.7,974.8 935.2,978.2 936.7,980.1 938.2,979.4 939.7,976.8 941.2,973.5 942.7,971.3 944.2,971.5 945.7,973.9 947.2,977.7 948.7,980.8 950.2,981.6 951.7,981.0 953.2,980.5 954.7,981.3 956.2,983.8 957.7,987.6 959.2,991.7 960.7,995.5 962.2,999.5 963.7,1004.3 965.2,1009.2 966.7,1012.8 968.2,1014.8" fill="none" stroke="#6f9ad9" stroke-width="2.2" stroke-linejoin="round"/>
<polyline points="135.7,983.6 137.2,971.9 138.7,962.3 140.2,956.4 141.7,954.4 143.2,954.7 144.7,955.9 146.2,959.0 147.7,964.8 149.2,972.7 150.7,980.5 152.2,985.9 153.7,986.7 155.2,983.2 156.7,977.5 158.2,970.2 159.7,962.0 161.2,956.9 162.7,960.9 164.2,973.7 165.7,987.5 167.2,997.2 168.7,1003.8 170.2,1008.9 171.7,1012.4 173.2,1014.3 174.7,1015.2 176.2,1015.5 177.7,1015.6 179.2,1015.7 180.7,1015.8 182.2,1015.9 183.7,1016.0 185.2,1016.0 186.7,1015.9 188.2,1015.9 189.7,1015.9 191.2,1015.9 192.7,1016.0 194.2,1016.0 195.7,1015.9 197.2,1015.8 198.7,1015.6 200.2,1015.4 201.7,1015.4 203.2,1015.4 204.7,1015.5 206.2,1015.6 207.7,1015.6 209.2,1015.4 210.7,1014.5 212.2,1012.5 213.7,1009.6 215.2,1007.1 216.7,1005.4 218.2,1003.3 219.7,999.6 221.2,994.8 222.7,990.8 224.2,988.7 225.7,988.1 227.2,988.0 228.7,987.8 230.2,987.8 231.7,988.3 233.2,989.2 234.7,990.6 236.2,991.9 237.7,992.5 239.2,992.1 240.7,990.8 242.2,989.1 243.7,988.1 245.2,988.3 246.7,989.1 248.2,989.5 249.7,988.9 251.2,987.8 252.7,986.9 254.2,986.9 255.7,987.2 257.2,987.0 258.7,985.5 260.2,983.3 261.7,982.3 263.2,983.7 264.7,986.3 266.2,988.0 267.7,987.8 269.2,985.7 270.7,983.6 272.2,984.0 273.7,986.3 275.2,987.6 276.7,985.8 278.2,981.4 279.7,976.4 281.2,973.6 282.7,975.0 284.2,980.3 285.7,987.1 287.2,992.9 288.7,996.3 290.2,997.3 291.7,995.9 293.2,992.3 294.7,987.4 296.2,983.1 297.7,980.2 299.2,977.6 300.7,975.0 302.2,973.4 303.7,973.6 305.2,974.4 306.7,974.6 308.2,976.0 309.7,982.5 311.2,993.4 312.7,1003.7 314.2,1010.2 315.7,1013.5 317.2,1015.1 318.7,1015.7 320.2,1016.0 321.7,1016.0 323.2,1016.0 324.7,1016.0 326.2,1016.0 327.7,1016.0 329.2,1015.8 330.7,1015.6 332.2,1015.4 333.7,1015.4 335.2,1015.4 336.7,1015.4 338.2,1015.4 339.7,1015.4 341.2,1015.3 342.7,1015.2 344.2,1015.0 345.7,1014.5 347.2,1013.9 348.7,1012.7 350.2,1011.0 351.7,1008.6 353.2,1005.2 354.7,1000.7 356.2,994.9 357.7,987.0 359.2,976.3 360.7,964.5 362.2,955.2 363.7,950.8 365.2,950.1 366.7,951.5 368.2,953.8 369.7,956.3 371.2,958.8 372.7,962.5 374.2,968.6 375.7,976.1 377.2,983.6 378.7,990.2 380.2,996.0 381.7,1001.1 383.2,1005.4 384.7,1008.8 386.2,1011.2 387.7,1012.9 389.2,1014.0 390.7,1014.7 392.2,1015.2 393.7,1015.5 395.2,1015.7 396.7,1015.8 398.2,1015.8 399.7,1015.7 401.2,1015.7 402.7,1015.7 404.2,1015.8 405.7,1015.8 407.2,1015.8 408.7,1015.7 410.2,1015.7 411.7,1015.7 413.2,1015.8 414.7,1015.9 416.2,1015.9 417.7,1015.8 419.2,1015.6 420.7,1015.4 422.2,1015.0 423.7,1014.5 425.2,1013.7 426.7,1012.9 428.2,1011.8 429.7,1010.1 431.2,1006.9 432.7,1001.3 434.2,993.6 435.7,985.4 437.2,978.1 438.7,971.7 440.2,965.8 441.7,961.1 443.2,959.4 444.7,960.6 446.2,962.9 447.7,964.8 449.2,968.1 450.7,974.1 452.2,981.8 453.7,988.7 455.2,994.3 456.7,999.0 458.2,1003.2 459.7,1007.0 461.2,1010.0 462.7,1012.3 464.2,1013.8 465.7,1014.7 467.2,1015.2 468.7,1015.5 470.2,1015.5 471.7,1015.6 473.2,1015.6 474.7,1015.6 476.2,1015.6 477.7,1015.6 479.2,1015.6 480.7,1015.7 482.2,1015.7 483.7,1015.7 485.2,1015.7 486.7,1015.6 488.2,1015.6 489.7,1015.7 491.2,1015.8 492.7,1015.9 494.2,1016.1 495.7,1016.1 497.2,1016.1 498.7,1016.0 500.2,1015.9 501.7,1015.8 503.2,1015.8 504.7,1015.9 506.2,1016.0 507.7,1016.2 509.2,1016.3 510.7,1016.2 512.2,1016.1 513.7,1016.0 515.2,1016.0 516.7,1016.1 518.2,1016.2 519.7,1016.3 521.2,1016.3 522.7,1016.2 524.2,1016.0 525.7,1015.8 527.2,1015.7 528.7,1015.6 530.2,1015.6 531.7,1015.6 533.2,1015.6 534.7,1015.8 536.2,1015.9 537.7,1016.1 539.2,1016.2 540.7,1016.2 542.2,1016.3 543.7,1016.3 545.2,1016.3 546.7,1016.2 548.2,1016.1 549.7,1016.0 551.2,1015.9 552.7,1015.9 554.2,1015.9 555.7,1015.9 557.2,1015.9 558.7,1015.9 560.2,1015.9 561.7,1015.9 563.2,1015.7 564.7,1015.3 566.2,1014.3 567.7,1012.0 569.2,1007.4 570.7,1000.6 572.2,994.5 573.7,991.0 575.2,988.0 576.7,984.5 578.2,982.0 579.7,980.5 581.2,977.8 582.7,973.8 584.2,970.7 585.7,969.5 587.2,969.0 588.7,968.6 590.2,969.0 591.7,970.4 593.2,971.4 594.7,970.0 596.2,965.5 597.7,958.5 599.2,951.2 600.7,947.3 602.2,950.5 603.7,959.9 605.2,969.6 606.7,973.7 608.2,970.0 609.7,959.4 611.2,945.5 612.7,935.0 614.2,934.2 615.7,942.8 617.2,953.7 618.7,961.1 620.2,965.4 621.7,969.2 623.2,972.8 624.7,974.6 626.2,974.4 627.7,972.8 629.2,969.8 630.7,965.5 632.2,961.9 633.7,961.2 635.2,963.1 636.7,965.5 638.2,968.0 639.7,972.2 641.2,977.8 642.7,981.8 644.2,981.2 645.7,976.1 647.2,969.1 648.7,962.8 650.2,957.9 651.7,954.7 653.2,955.8 654.7,963.7 656.2,976.1 657.7,986.5 659.2,990.6 660.7,987.9 662.2,981.4 663.7,975.6 665.2,973.6 666.7,975.2 668.2,978.0 669.7,980.2 671.2,982.6 672.7,987.3 674.2,994.9 675.7,1003.0 677.2,1009.0 678.7,1012.4 680.2,1014.2 681.7,1015.1 683.2,1015.6 684.7,1015.9 686.2,1016.1 687.7,1016.1 689.2,1016.1 690.7,1016.0 692.2,1015.9 693.7,1015.8 695.2,1015.7 696.7,1015.6 698.2,1015.6 699.7,1015.6 701.2,1015.7 702.7,1015.8 704.2,1016.0 705.7,1016.1 707.2,1016.1 708.7,1016.1 710.2,1016.1 711.7,1016.1 713.2,1016.0 714.7,1015.9 716.2,1015.6 717.7,1013.8 719.2,1012.1 720.7,1011.3 722.2,1010.9 723.7,1010.2 725.2,1008.9 726.7,1006.9 728.2,1004.5 729.7,1002.3 731.2,1000.8 732.7,1000.0 734.2,999.6 735.7,999.5 737.2,999.2 738.7,998.1 740.2,996.4 741.7,995.0 743.2,994.4 744.7,994.2 746.2,994.6 747.7,996.0 749.2,997.5 750.7,998.1 752.2,997.5 753.7,996.3 755.2,994.9 756.7,992.7 758.2,989.0 759.7,983.8 761.2,979.1 762.7,977.6 764.2,979.6 765.7,983.5 767.2,987.4 768.7,990.3 770.2,990.9 771.7,987.5 773.2,981.1 774.7,974.6 776.2,970.1 777.7,967.9 779.2,966.7 780.7,964.9 782.2,963.2 783.7,964.4 785.2,969.5 786.7,975.7 788.2,979.4 789.7,979.6 791.2,977.7 792.7,974.8 794.2,971.7 795.7,969.5 797.2,969.4 798.7,971.1 800.2,973.3 801.7,975.1 803.2,976.1 804.7,976.4 806.2,976.3 807.7,975.8 809.2,974.4 810.7,971.5 812.2,968.0 813.7,966.3 815.2,968.1 816.7,973.2 818.2,981.8 819.7,992.8 821.2,1002.7 822.7,1009.1 824.2,1012.5 825.7,1014.2 827.2,1015.0 828.7,1015.5 830.2,1015.7 831.7,1015.8 833.2,1015.7 834.7,1015.7 836.2,1015.7 837.7,1015.8 839.2,1015.9 840.7,1015.9 842.2,1015.8 843.7,1015.8 845.2,1015.7 846.7,1015.7 848.2,1015.6 849.7,1015.5 851.2,1015.4 852.7,1015.3 854.2,1014.9 855.7,1013.7 857.2,1010.9 858.7,1004.7 860.2,994.7 861.7,981.8 863.2,967.3 864.7,954.5 866.2,947.1 867.7,944.8 869.2,944.3 870.7,944.6 872.2,947.3 873.7,953.4 875.2,961.1 876.7,967.1 878.2,968.6 879.7,965.5 881.2,960.5 882.7,957.6 884.2,958.6 885.7,962.3 887.2,967.2 888.7,973.3 890.2,980.1 891.7,985.0 893.2,985.1 894.7,981.3 896.2,977.6 897.7,976.1 899.2,975.1 900.7,972.1 902.2,967.2 903.7,962.2 905.2,959.3 906.7,960.1 908.2,964.2 909.7,970.0 911.2,975.0 912.7,977.2 914.2,976.6 915.7,975.9 917.2,977.3 918.7,979.7 920.2,980.3 921.7,976.2 923.2,967.7 924.7,958.1 926.2,952.1 927.7,951.1 929.2,951.7 930.7,950.0 932.2,946.4 933.7,945.6 935.2,949.7 936.7,955.6 938.2,958.8 939.7,958.1 941.2,955.6 942.7,954.9 944.2,959.2 945.7,967.0 947.2,973.7 948.7,975.6 950.2,972.0 951.7,966.1 953.2,963.0 954.7,965.3 956.2,971.1 957.7,977.5 959.2,983.3 960.7,989.1 962.2,995.6 963.7,1002.5 965.2,1008.6 966.7,1012.5 968.2,1014.4" fill="none" stroke="#5585d0" stroke-width="2.2" stroke-linejoin="round"/>
<polyline points="135.7,984.4 137.2,976.4 138.7,969.7 140.2,964.3 141.7,960.0 143.2,956.2 144.7,954.7 146.2,958.6 147.7,967.8 149.2,978.7 150.7,987.6 152.2,992.5 153.7,992.1 155.2,986.4 156.7,977.0 158.2,966.4 159.7,958.4 161.2,957.9 162.7,967.5 164.2,982.4 165.7,994.7 167.2,1002.0 168.7,1006.7 170.2,1010.5 171.7,1013.3 173.2,1014.9 174.7,1015.7 176.2,1016.0 177.7,1016.2 179.2,1016.3 180.7,1016.3 182.2,1016.2 183.7,1016.1 185.2,1016.1 186.7,1016.0 188.2,1016.1 189.7,1016.3 191.2,1016.4 192.7,1016.3 194.2,1016.3 195.7,1016.2 197.2,1016.1 198.7,1016.1 200.2,1016.2 201.7,1016.2 203.2,1016.2 204.7,1016.3 206.2,1016.3 207.7,1016.3 209.2,1016.2 210.7,1015.4 212.2,1013.7 213.7,1011.6 215.2,1009.6 216.7,1008.0 218.2,1006.0 219.7,1002.7 221.2,998.6 222.7,995.1 224.2,992.9 225.7,991.6 227.2,990.1 228.7,988.6 230.2,988.2 231.7,989.8 233.2,992.9 234.7,996.0 236.2,997.9 237.7,998.3 239.2,997.4 240.7,995.7 242.2,994.0 243.7,993.4 245.2,994.3 246.7,995.4 248.2,995.5 249.7,994.3 251.2,992.8 252.7,991.7 254.2,991.5 255.7,991.7 257.2,992.1 258.7,992.3 260.2,992.1 261.7,992.0 263.2,992.6 264.7,993.6 266.2,994.1 267.7,993.7 269.2,992.3 270.7,991.1 272.2,990.8 273.7,990.5 275.2,988.3 276.7,983.9 278.2,978.8 279.7,975.5 281.2,975.1 282.7,977.4 284.2,981.6 285.7,986.4 287.2,990.0 288.7,991.8 290.2,992.6 291.7,992.8 293.2,991.7 294.7,988.9 296.2,984.4 297.7,978.8 299.2,972.9 300.7,969.0 302.2,970.0 303.7,975.9 305.2,982.7 306.7,986.9 308.2,989.7 309.7,994.3 311.2,1001.2 312.7,1007.7 314.2,1011.8 315.7,1013.9 317.2,1015.1 318.7,1015.6 320.2,1015.9 321.7,1015.9 323.2,1015.9 324.7,1015.8 326.2,1015.9 327.7,1016.0 329.2,1016.1 330.7,1016.1 332.2,1016.1 333.7,1016.0 335.2,1015.9 336.7,1015.8 338.2,1015.8 339.7,1015.8 341.2,1015.8 342.7,1015.7 344.2,1015.5 345.7,1015.1 347.2,1014.6 348.7,1013.6 350.2,1012.0 351.7,1009.4 353.2,1005.7 354.7,1001.2 356.2,996.2 357.7,990.9 359.2,985.4 360.7,980.3 362.2,975.8 363.7,972.1 365.2,969.5 366.7,968.5 368.2,968.9 369.7,969.9 371.2,970.9 372.7,973.1 374.2,977.4 375.7,983.4 377.2,989.6 378.7,995.4 380.2,1000.3 381.7,1004.3 383.2,1007.5 384.7,1010.2 386.2,1012.6 387.7,1014.4 389.2,1015.3 390.7,1015.8 392.2,1016.0 393.7,1016.2 395.2,1016.3 396.7,1016.4 398.2,1016.3 399.7,1016.2 401.2,1016.2 402.7,1016.1 404.2,1016.1 405.7,1016.0 407.2,1016.0 408.7,1016.0 410.2,1016.0 411.7,1016.0 413.2,1016.0 414.7,1016.0 416.2,1016.1 417.7,1016.2 419.2,1016.1 420.7,1015.9 422.2,1015.4 423.7,1014.5 425.2,1013.4 426.7,1012.0 428.2,1010.8 429.7,1009.5 431.2,1007.2 432.7,1002.8 434.2,996.0 435.7,988.7 437.2,984.1 438.7,983.7 440.2,986.0 441.7,988.2 443.2,987.7 444.7,983.6 446.2,977.8 447.7,974.3 449.2,975.2 450.7,979.6 452.2,985.5 453.7,991.7 455.2,997.4 456.7,1001.9 458.2,1005.4 459.7,1008.4 461.2,1011.1 462.7,1013.3 464.2,1014.7 465.7,1015.6 467.2,1016.0 468.7,1016.2 470.2,1016.2 471.7,1016.2 473.2,1016.1 474.7,1016.0 476.2,1016.0 477.7,1016.1 479.2,1016.3 480.7,1016.3 482.2,1016.3 483.7,1016.3 485.2,1016.2 486.7,1016.2 488.2,1016.2 489.7,1016.2 491.2,1016.3 492.7,1016.3 494.2,1016.4 495.7,1016.4 497.2,1016.4 498.7,1016.4 500.2,1016.5 501.7,1016.5 503.2,1016.6 504.7,1016.6 506.2,1016.5 507.7,1016.4 509.2,1016.3 510.7,1016.3 512.2,1016.2 513.7,1016.2 515.2,1016.1 516.7,1016.1 518.2,1016.2 519.7,1016.2 521.2,1016.3 522.7,1016.3 524.2,1016.2 525.7,1016.2 527.2,1016.3 528.7,1016.3 530.2,1016.4 531.7,1016.4 533.2,1016.3 534.7,1016.3 536.2,1016.3 537.7,1016.4 539.2,1016.5 540.7,1016.5 542.2,1016.5 543.7,1016.5 545.2,1016.5 546.7,1016.5 548.2,1016.5 549.7,1016.4 551.2,1016.3 552.7,1016.2 554.2,1016.2 555.7,1016.2 557.2,1016.1 558.7,1016.1 560.2,1016.1 561.7,1016.1 563.2,1016.0 564.7,1015.8 566.2,1015.1 567.7,1013.0 569.2,1008.0 570.7,1000.3 572.2,993.9 573.7,992.0 575.2,991.1 576.7,988.2 578.2,983.6 579.7,977.7 581.2,970.7 582.7,964.0 584.2,960.4 585.7,961.7 587.2,966.7 588.7,972.0 590.2,975.5 591.7,976.8 593.2,976.1 594.7,973.6 596.2,969.7 597.7,966.1 599.2,965.5 600.7,968.9 602.2,975.0 603.7,981.8 605.2,987.3 606.7,989.4 608.2,987.0 609.7,980.7 611.2,973.2 612.7,968.1 614.2,968.0 615.7,972.0 617.2,977.4 618.7,981.4 620.2,983.6 621.7,984.5 623.2,984.4 624.7,982.9 626.2,980.1 627.7,976.1 629.2,972.2 630.7,969.4 632.2,968.9 633.7,971.2 635.2,975.5 636.7,979.6 638.2,982.6 639.7,985.3 641.2,988.1 642.7,989.3 644.2,987.2 645.7,982.1 647.2,976.5 648.7,972.3 650.2,969.3 651.7,966.8 653.2,966.4 654.7,970.2 656.2,978.2 657.7,986.9 659.2,992.0 660.7,992.4 662.2,990.1 663.7,987.3 665.2,985.0 666.7,982.9 668.2,981.0 669.7,979.9 671.2,981.6 672.7,987.8 674.2,997.0 675.7,1005.5 677.2,1011.1 678.7,1013.9 680.2,1015.1 681.7,1015.6 683.2,1015.9 684.7,1016.0 686.2,1016.1 687.7,1016.2 689.2,1016.2 690.7,1016.3 692.2,1016.3 693.7,1016.3 695.2,1016.2 696.7,1016.2 698.2,1016.1 699.7,1016.1 701.2,1016.2 702.7,1016.3 704.2,1016.3 705.7,1016.4 707.2,1016.4 708.7,1016.4 710.2,1016.4 711.7,1016.3 713.2,1016.3 714.7,1016.3 716.2,1016.1 717.7,1014.8 719.2,1013.6 720.7,1012.9 722.2,1012.3 723.7,1011.1 725.2,1009.1 726.7,1006.7 728.2,1004.4 729.7,1002.9 731.2,1002.0 732.7,1001.7 734.2,1001.7 735.7,1001.8 737.2,1001.3 738.7,999.9 740.2,998.0 741.7,996.9 743.2,997.2 744.7,997.9 746.2,998.8 747.7,1000.0 749.2,1001.3 750.7,1001.6 752.2,1000.9 753.7,999.6 755.2,997.6 756.7,994.4 758.2,989.6 759.7,984.8 761.2,982.1 762.7,982.0 764.2,983.7 765.7,986.5 767.2,990.1 768.7,993.4 770.2,994.3 771.7,991.1 773.2,984.7 774.7,978.4 776.2,974.2 777.7,971.7 779.2,969.1 780.7,966.7 782.2,966.6 783.7,970.9 785.2,978.7 786.7,986.0 788.2,989.7 789.7,990.0 791.2,988.8 792.7,987.4 794.2,985.7 795.7,983.6 797.2,981.6 798.7,979.7 800.2,978.3 801.7,978.0 803.2,978.1 804.7,976.4 806.2,971.4 807.7,964.1 809.2,957.3 810.7,954.9 812.2,959.4 813.7,969.1 815.2,979.7 816.7,988.4 818.2,995.8 819.7,1002.9 821.2,1008.6 822.7,1012.3 824.2,1014.3 825.7,1015.3 827.2,1015.7 828.7,1015.9 830.2,1016.0 831.7,1016.0 833.2,1016.0 834.7,1016.0 836.2,1016.0 837.7,1016.1 839.2,1016.1 840.7,1016.2 842.2,1016.2 843.7,1016.3 845.2,1016.2 846.7,1016.2 848.2,1016.1 849.7,1016.0 851.2,1015.8 852.7,1015.5 854.2,1015.0 855.7,1013.9 857.2,1011.5 858.7,1006.8 860.2,998.9 861.7,988.3 863.2,976.4 864.7,965.5 866.2,958.4 867.7,956.1 869.2,957.0 870.7,958.8 872.2,960.4 873.7,962.7 875.2,966.3 876.7,969.8 878.2,970.3 879.7,967.1 881.2,963.4 882.7,962.9 884.2,966.4 885.7,971.6 887.2,976.9 888.7,982.4 890.2,987.5 891.7,990.3 893.2,989.4 894.7,986.3 896.2,984.9 897.7,985.9 899.2,986.7 900.7,985.2 902.2,981.0 903.7,975.1 905.2,969.3 906.7,966.5 908.2,968.5 909.7,973.9 911.2,979.4 912.7,982.3 914.2,982.7 915.7,982.4 917.2,983.0 918.7,983.7 920.2,982.8 921.7,979.1 923.2,973.7 924.7,969.3 926.2,968.2 927.7,970.0 929.2,971.3 930.7,968.9 932.2,962.3 933.7,954.5 935.2,949.8 936.7,950.1 938.2,954.6 939.7,960.9 941.2,967.0 942.7,971.9 944.2,974.8 945.7,976.3 947.2,978.0 948.7,978.9 950.2,976.8 951.7,972.2 953.2,968.9 954.7,970.3 956.2,976.0 957.7,982.6 959.2,988.0 960.7,992.9 962.2,998.7 963.7,1005.2 965.2,1010.6 966.7,1013.8 968.2,1015.3" fill="none" stroke="#3f73c6" stroke-width="2.2" stroke-linejoin="round"/>
<path d="M135.7,938.9 L166.7,938.9 L172.2,1018.2 L203.3,1018.2 L208.8,938.9 L311.4,938.9 L316.9,1018.2 L347.7,1018.2 L353.2,938.9 L383.7,938.9 L389.2,1018.2 L420.1,1018.2 L425.6,938.9 L456.1,938.9 L461.6,1018.2 L565.3,1018.2 L570.8,938.9 L673.2,938.9 L678.7,1018.2 L710.4,1018.2 L715.9,938.9 L818.4,938.9 L823.9,1018.2 L854.9,1018.2 L860.4,938.9 L962.8,938.9 L968.3,1018.2" fill="none" stroke="#000" stroke-width="2.4"/>
</g>
<rect x="95.6" y="930.5" width="908.2" height="95.6" fill="none" stroke="#222" stroke-width="1.8"/>
<rect x="95.6" y="1032.8" width="908.2" height="95.0" fill="none" stroke="#222" stroke-width="1.8"/>
<line x1="89.6" y1="943.8" x2="95.6" y2="943.8" stroke="#222" stroke-width="1.6"/>
<text x="81.1" y="951.3" text-anchor="end">8</text>
<line x1="89.6" y1="1018.2" x2="95.6" y2="1018.2" stroke="#222" stroke-width="1.6"/>
<text x="81.1" y="1025.7" text-anchor="end">0</text>
<line x1="89.6" y1="1057.3" x2="95.6" y2="1057.3" stroke="#222" stroke-width="1.6"/>
<text x="81.1" y="1064.8" text-anchor="end">1,000</text>
<line x1="89.6" y1="1120.3" x2="95.6" y2="1120.3" stroke="#222" stroke-width="1.6"/>
<text x="81.1" y="1127.8" text-anchor="end">0</text>
<text x="57.5" y="978.3" text-anchor="middle" transform="rotate(-90 57.5 978.3)">Prediction</text>
<text x="15.5" y="1080.3" text-anchor="middle" transform="rotate(-90 15.5 1080.3)">Coverage</text>
<line x1="212.4" y1="1127.8" x2="212.4" y2="1134.8" stroke="#222" stroke-width="1.6"/>
<text x="212.4" y="1157.2" text-anchor="middle">2</text>
<line x1="435.9" y1="1127.8" x2="435.9" y2="1134.8" stroke="#222" stroke-width="1.6"/>
<text x="435.9" y="1157.2" text-anchor="middle">7</text>
<line x1="659.6" y1="1127.8" x2="659.6" y2="1134.8" stroke="#222" stroke-width="1.6"/>
<text x="659.6" y="1157.2" text-anchor="middle">12</text>
<line x1="882.6" y1="1127.8" x2="882.6" y2="1134.8" stroke="#222" stroke-width="1.6"/>
<text x="882.6" y="1157.2" text-anchor="middle">17</text>
<text x="1010.7" y="988.6">Design</text>
<text x="1010.7" y="1089.0">Experiment</text>
<text x="852.5" y="1055.9">AUROC = 0.95</text>
<text x="550.0" y="1189.0" text-anchor="middle">Position (kb)</text>
<text x="645.9" y="1218.1">DNASE: 129 ES-E14 track</text>
<path d="M922.5,1219.8 V1192.5 H940.0 V1219.8 H958.4" fill="none" stroke="#111" stroke-width="2"/>
<text x="970.0" y="1215.3">Desired pattern</text>
<line x1="645.2" y1="1249.5" x2="678.7" y2="1249.5" stroke="#5b7367" stroke-width="4.5"/>
<text x="686.2" y="1256.0">Enformer</text>
<line x1="789.3" y1="1237.9" x2="822.5" y2="1237.9" stroke="#a9c2ea" stroke-width="3.6"/>
<line x1="789.3" y1="1245.1" x2="822.5" y2="1245.1" stroke="#86a9e0" stroke-width="3.6"/>
<line x1="789.3" y1="1252.3" x2="822.5" y2="1252.3" stroke="#6693d6" stroke-width="3.6"/>
<line x1="789.3" y1="1259.5" x2="822.5" y2="1259.5" stroke="#3f73c6" stroke-width="3.6"/>
<text x="832.5" y="1256.0">Borzoi</text>
<rect x="923.2" y="1239.3" width="19.5" height="19.2" fill="#0c3384"/>
<text x="952.6" y="1254.5">mESC ATAC–seq</text>
<text transform="translate(1151.5 912.0) scale(1.17 1)" font-size="33" font-weight="bold" fill="#000" stroke="#000" stroke-width="0.9">h</text>
<text x="1468.4" y="920.3">Message: <tspan font-family="Liberation Mono, Courier New, monospace" font-weight="bold" font-size="20.5">ARC</tspan><tspan font-family="Liberation Mono, Courier New, monospace" font-size="20.5" font-weight="bold" xml:space="preserve"> (.- .-. -.-.)</tspan></text>
<rect x="1284.5" y="1036.0" width="22.3" height="93.2" fill="#e2e5eb"/>
<rect x="1330.5" y="1036.0" width="69.2" height="93.2" fill="#e2e5eb"/>
<rect x="1470.3" y="1036.0" width="22.8" height="93.2" fill="#e2e5eb"/>
<rect x="1516.8" y="1036.0" width="68.7" height="93.2" fill="#e2e5eb"/>
<rect x="1609.2" y="1036.0" width="22.8" height="93.2" fill="#e2e5eb"/>
<rect x="1702.6" y="1036.0" width="69.2" height="93.2" fill="#e2e5eb"/>
<rect x="1795.5" y="1036.0" width="22.2" height="93.2" fill="#e2e5eb"/>
<rect x="1841.4" y="1036.0" width="69.7" height="93.2" fill="#e2e5eb"/>
<rect x="1934.8" y="1036.0" width="22.8" height="93.2" fill="#e2e5eb"/>
<path d="M1250.0,1123.2 L1250.0,1122.4 L1251.0,1122.4 L1252.0,1122.3 L1253.0,1122.2 L1254.0,1122.3 L1255.0,1122.4 L1256.0,1122.2 L1257.0,1122.3 L1258.0,1122.0 L1259.0,1122.0 L1260.0,1121.6 L1261.0,1121.6 L1262.0,1121.5 L1263.0,1121.3 L1264.0,1121.2 L1265.0,1120.9 L1266.0,1121.3 L1267.0,1121.6 L1268.0,1122.0 L1269.0,1122.2 L1270.0,1122.4 L1271.0,1122.6 L1272.0,1122.6 L1273.0,1122.3 L1274.0,1122.6 L1275.0,1122.3 L1276.0,1122.2 L1277.0,1122.4 L1278.0,1122.1 L1279.0,1122.1 L1280.0,1121.8 L1281.0,1121.1 L1282.0,1120.3 L1283.0,1118.6 L1284.0,1115.5 L1285.0,1114.1 L1286.0,1108.6 L1287.0,1100.9 L1288.0,1092.2 L1289.0,1083.1 L1290.0,1064.3 L1291.0,1058.1 L1292.0,1045.6 L1293.0,1049.5 L1294.0,1067.9 L1295.0,1058.1 L1296.0,1060.0 L1297.0,1052.8 L1298.0,1047.0 L1299.0,1044.6 L1300.0,1050.4 L1301.0,1065.2 L1302.0,1074.9 L1303.0,1075.6 L1304.0,1079.2 L1305.0,1088.0 L1306.0,1096.0 L1307.0,1103.2 L1308.0,1111.3 L1309.0,1115.4 L1310.0,1118.1 L1311.0,1119.7 L1312.0,1121.2 L1313.0,1121.7 L1314.0,1121.8 L1315.0,1121.8 L1316.0,1121.6 L1317.0,1120.9 L1318.0,1119.9 L1319.0,1116.8 L1320.0,1113.8 L1321.0,1113.0 L1322.0,1111.3 L1323.0,1112.6 L1324.0,1116.7 L1325.0,1118.8 L1326.0,1120.6 L1327.0,1121.5 L1328.0,1121.8 L1329.0,1121.7 L1330.0,1121.6 L1331.0,1121.0 L1332.0,1120.4 L1333.0,1116.6 L1334.0,1110.4 L1335.0,1097.1 L1336.0,1084.7 L1337.0,1079.0 L1338.0,1078.4 L1339.0,1073.1 L1340.0,1061.9 L1341.0,1076.6 L1342.0,1053.2 L1343.0,1042.0 L1344.0,1046.6 L1345.0,1059.2 L1346.0,1065.2 L1347.0,1067.0 L1348.0,1069.1 L1349.0,1079.1 L1350.0,1059.4 L1351.0,1046.6 L1352.0,1045.8 L1353.0,1038.7 L1354.0,1037.0 L1355.0,1047.6 L1356.0,1060.8 L1357.0,1070.3 L1358.0,1073.8 L1359.0,1098.7 L1360.0,1089.2 L1361.0,1076.5 L1362.0,1070.0 L1363.0,1055.3 L1364.0,1072.2 L1365.0,1081.9 L1366.0,1086.0 L1367.0,1089.7 L1368.0,1095.9 L1369.0,1097.6 L1370.0,1098.0 L1371.0,1102.1 L1372.0,1102.2 L1373.0,1106.0 L1374.0,1101.9 L1375.0,1098.2 L1376.0,1098.6 L1377.0,1102.1 L1378.0,1102.8 L1379.0,1095.7 L1380.0,1101.5 L1381.0,1098.0 L1382.0,1099.9 L1383.0,1105.6 L1384.0,1098.0 L1385.0,1088.3 L1386.0,1098.5 L1387.0,1104.3 L1388.0,1103.9 L1389.0,1108.8 L1390.0,1109.9 L1391.0,1112.4 L1392.0,1113.4 L1393.0,1114.7 L1394.0,1116.5 L1395.0,1116.3 L1396.0,1115.2 L1397.0,1115.0 L1398.0,1116.8 L1399.0,1118.4 L1400.0,1118.8 L1401.0,1119.5 L1402.0,1121.2 L1403.0,1121.7 L1404.0,1121.8 L1405.0,1122.4 L1406.0,1122.5 L1407.0,1122.6 L1408.0,1122.6 L1409.0,1122.7 L1410.0,1122.6 L1411.0,1122.6 L1412.0,1122.4 L1413.0,1122.4 L1414.0,1122.4 L1415.0,1122.3 L1416.0,1122.5 L1417.0,1122.5 L1418.0,1122.5 L1419.0,1122.3 L1420.0,1122.4 L1421.0,1122.3 L1422.0,1121.4 L1423.0,1120.8 L1424.0,1120.5 L1425.0,1120.5 L1426.0,1121.2 L1427.0,1121.5 L1428.0,1121.5 L1429.0,1121.0 L1430.0,1120.0 L1431.0,1119.5 L1432.0,1118.8 L1433.0,1118.1 L1434.0,1118.1 L1435.0,1118.4 L1436.0,1118.9 L1437.0,1120.0 L1438.0,1121.0 L1439.0,1121.6 L1440.0,1122.1 L1441.0,1122.3 L1442.0,1122.2 L1443.0,1122.4 L1444.0,1122.3 L1445.0,1121.9 L1446.0,1122.3 L1447.0,1122.3 L1448.0,1122.0 L1449.0,1121.7 L1450.0,1122.2 L1451.0,1122.2 L1452.0,1122.2 L1453.0,1122.1 L1454.0,1122.4 L1455.0,1122.1 L1456.0,1122.1 L1457.0,1122.5 L1458.0,1122.6 L1459.0,1122.3 L1460.0,1122.3 L1461.0,1122.3 L1462.0,1122.3 L1463.0,1122.4 L1464.0,1122.3 L1465.0,1122.1 L1466.0,1121.4 L1467.0,1121.8 L1468.0,1122.1 L1469.0,1122.4 L1470.0,1122.6 L1471.0,1122.7 L1472.0,1122.5 L1473.0,1122.4 L1474.0,1122.5 L1475.0,1122.3 L1476.0,1122.5 L1477.0,1122.6 L1478.0,1122.4 L1479.0,1122.6 L1480.0,1122.3 L1481.0,1122.5 L1482.0,1122.4 L1483.0,1121.7 L1484.0,1120.0 L1485.0,1118.5 L1486.0,1116.2 L1487.0,1113.7 L1488.0,1110.1 L1489.0,1105.8 L1490.0,1105.6 L1491.0,1109.9 L1492.0,1114.2 L1493.0,1117.8 L1494.0,1120.9 L1495.0,1122.0 L1496.0,1122.3 L1497.0,1122.5 L1498.0,1122.5 L1499.0,1122.3 L1500.0,1121.8 L1501.0,1121.6 L1502.0,1120.7 L1503.0,1120.7 L1504.0,1120.7 L1505.0,1121.3 L1506.0,1121.7 L1507.0,1122.2 L1508.0,1122.4 L1509.0,1122.2 L1510.0,1121.7 L1511.0,1122.2 L1512.0,1122.2 L1513.0,1122.1 L1514.0,1122.0 L1515.0,1122.2 L1516.0,1122.0 L1517.0,1121.4 L1518.0,1120.4 L1519.0,1119.6 L1520.0,1117.8 L1521.0,1114.0 L1522.0,1109.2 L1523.0,1106.2 L1524.0,1103.7 L1525.0,1104.9 L1526.0,1106.2 L1527.0,1105.0 L1528.0,1100.9 L1529.0,1099.7 L1530.0,1101.9 L1531.0,1105.8 L1532.0,1109.6 L1533.0,1107.3 L1534.0,1108.1 L1535.0,1103.6 L1536.0,1103.3 L1537.0,1101.9 L1538.0,1104.1 L1539.0,1109.6 L1540.0,1115.0 L1541.0,1118.6 L1542.0,1118.7 L1543.0,1109.8 L1544.0,1105.9 L1545.0,1105.6 L1546.0,1105.0 L1547.0,1106.7 L1548.0,1107.3 L1549.0,1108.2 L1550.0,1111.5 L1551.0,1111.6 L1552.0,1106.9 L1553.0,1108.3 L1554.0,1110.9 L1555.0,1110.8 L1556.0,1107.8 L1557.0,1109.6 L1558.0,1113.8 L1559.0,1114.0 L1560.0,1110.6 L1561.0,1108.9 L1562.0,1107.1 L1563.0,1107.3 L1564.0,1111.7 L1565.0,1112.8 L1566.0,1111.7 L1567.0,1111.1 L1568.0,1109.1 L1569.0,1110.6 L1570.0,1112.7 L1571.0,1113.3 L1572.0,1113.8 L1573.0,1112.6 L1574.0,1110.7 L1575.0,1108.8 L1576.0,1108.5 L1577.0,1111.2 L1578.0,1111.1 L1579.0,1110.5 L1580.0,1111.8 L1581.0,1114.7 L1582.0,1117.5 L1583.0,1117.8 L1584.0,1118.6 L1585.0,1120.5 L1586.0,1121.7 L1587.0,1121.8 L1588.0,1122.0 L1589.0,1122.0 L1590.0,1122.1 L1591.0,1122.4 L1592.0,1122.4 L1593.0,1122.3 L1594.0,1122.3 L1595.0,1121.9 L1596.0,1122.1 L1597.0,1121.8 L1598.0,1121.7 L1599.0,1121.9 L1600.0,1121.4 L1601.0,1121.7 L1602.0,1122.0 L1603.0,1122.1 L1604.0,1121.8 L1605.0,1122.2 L1606.0,1121.4 L1607.0,1122.2 L1608.0,1122.1 L1609.0,1122.1 L1610.0,1122.4 L1611.0,1122.2 L1612.0,1122.3 L1613.0,1122.5 L1614.0,1122.4 L1615.0,1122.4 L1616.0,1121.9 L1617.0,1121.1 L1618.0,1118.5 L1619.0,1114.6 L1620.0,1111.2 L1621.0,1108.6 L1622.0,1107.9 L1623.0,1111.2 L1624.0,1114.1 L1625.0,1118.4 L1626.0,1120.7 L1627.0,1121.7 L1628.0,1122.2 L1629.0,1122.2 L1630.0,1122.5 L1631.0,1122.4 L1632.0,1122.6 L1633.0,1122.5 L1634.0,1122.4 L1635.0,1122.0 L1636.0,1122.7 L1637.0,1122.6 L1638.0,1122.6 L1639.0,1122.4 L1640.0,1122.3 L1641.0,1122.3 L1642.0,1122.4 L1643.0,1122.5 L1644.0,1122.5 L1645.0,1122.5 L1646.0,1122.2 L1647.0,1122.5 L1648.0,1122.4 L1649.0,1122.6 L1650.0,1122.4 L1651.0,1122.2 L1652.0,1122.5 L1653.0,1122.4 L1654.0,1122.3 L1655.0,1122.5 L1656.0,1122.5 L1657.0,1122.3 L1658.0,1122.5 L1659.0,1122.4 L1660.0,1122.5 L1661.0,1122.1 L1662.0,1122.4 L1663.0,1122.6 L1664.0,1122.5 L1665.0,1122.4 L1666.0,1122.5 L1667.0,1122.5 L1668.0,1122.5 L1669.0,1122.2 L1670.0,1122.5 L1671.0,1122.4 L1672.0,1121.8 L1673.0,1121.5 L1674.0,1122.4 L1675.0,1122.4 L1676.0,1122.1 L1677.0,1122.3 L1678.0,1122.4 L1679.0,1122.2 L1680.0,1122.1 L1681.0,1122.4 L1682.0,1122.3 L1683.0,1122.2 L1684.0,1122.3 L1685.0,1122.3 L1686.0,1122.4 L1687.0,1122.0 L1688.0,1122.0 L1689.0,1121.7 L1690.0,1122.2 L1691.0,1121.9 L1692.0,1122.1 L1693.0,1122.0 L1694.0,1122.2 L1695.0,1122.0 L1696.0,1122.2 L1697.0,1121.9 L1698.0,1121.9 L1699.0,1121.9 L1700.0,1121.5 L1701.0,1121.4 L1702.0,1120.8 L1703.0,1120.0 L1704.0,1119.3 L1705.0,1117.8 L1706.0,1118.1 L1707.0,1117.3 L1708.0,1115.3 L1709.0,1112.9 L1710.0,1115.1 L1711.0,1111.9 L1712.0,1109.3 L1713.0,1109.9 L1714.0,1111.4 L1715.0,1110.6 L1716.0,1111.5 L1717.0,1111.8 L1718.0,1111.1 L1719.0,1108.7 L1720.0,1109.7 L1721.0,1109.9 L1722.0,1110.1 L1723.0,1109.9 L1724.0,1106.9 L1725.0,1107.7 L1726.0,1108.8 L1727.0,1109.6 L1728.0,1108.6 L1729.0,1105.7 L1730.0,1104.5 L1731.0,1105.2 L1732.0,1108.2 L1733.0,1107.8 L1734.0,1108.7 L1735.0,1108.6 L1736.0,1107.2 L1737.0,1110.7 L1738.0,1113.0 L1739.0,1112.9 L1740.0,1113.3 L1741.0,1112.0 L1742.0,1112.3 L1743.0,1112.3 L1744.0,1112.7 L1745.0,1112.5 L1746.0,1112.2 L1747.0,1112.5 L1748.0,1110.8 L1749.0,1112.1 L1750.0,1112.3 L1751.0,1113.2 L1752.0,1112.6 L1753.0,1112.7 L1754.0,1113.4 L1755.0,1114.6 L1756.0,1113.6 L1757.0,1111.0 L1758.0,1110.2 L1759.0,1112.0 L1760.0,1111.7 L1761.0,1109.8 L1762.0,1111.5 L1763.0,1114.6 L1764.0,1114.0 L1765.0,1113.6 L1766.0,1114.3 L1767.0,1116.9 L1768.0,1116.1 L1769.0,1114.6 L1770.0,1116.3 L1771.0,1118.2 L1772.0,1118.9 L1773.0,1119.9 L1774.0,1121.7 L1775.0,1122.2 L1776.0,1122.3 L1777.0,1122.4 L1778.0,1122.5 L1779.0,1122.4 L1780.0,1122.5 L1781.0,1122.2 L1782.0,1122.3 L1783.0,1122.3 L1784.0,1122.3 L1785.0,1122.1 L1786.0,1122.1 L1787.0,1122.1 L1788.0,1121.5 L1789.0,1121.6 L1790.0,1121.3 L1791.0,1122.0 L1792.0,1122.2 L1793.0,1122.1 L1794.0,1122.0 L1795.0,1122.1 L1796.0,1122.1 L1797.0,1122.1 L1798.0,1121.8 L1799.0,1121.4 L1800.0,1121.2 L1801.0,1121.3 L1802.0,1121.1 L1803.0,1121.0 L1804.0,1121.1 L1805.0,1120.1 L1806.0,1119.7 L1807.0,1119.8 L1808.0,1119.9 L1809.0,1119.6 L1810.0,1119.4 L1811.0,1119.7 L1812.0,1119.8 L1813.0,1119.1 L1814.0,1119.5 L1815.0,1120.5 L1816.0,1120.8 L1817.0,1121.7 L1818.0,1121.6 L1819.0,1122.1 L1820.0,1122.3 L1821.0,1122.1 L1822.0,1122.6 L1823.0,1122.4 L1824.0,1122.4 L1825.0,1122.7 L1826.0,1122.0 L1827.0,1122.6 L1828.0,1122.4 L1829.0,1122.5 L1830.0,1122.6 L1831.0,1122.5 L1832.0,1122.4 L1833.0,1122.4 L1834.0,1122.2 L1835.0,1122.2 L1836.0,1122.2 L1837.0,1122.4 L1838.0,1122.4 L1839.0,1122.3 L1840.0,1122.2 L1841.0,1122.1 L1842.0,1121.3 L1843.0,1120.4 L1844.0,1119.4 L1845.0,1119.1 L1846.0,1117.1 L1847.0,1114.2 L1848.0,1113.7 L1849.0,1115.1 L1850.0,1116.7 L1851.0,1117.0 L1852.0,1112.5 L1853.0,1110.3 L1854.0,1112.7 L1855.0,1113.6 L1856.0,1115.3 L1857.0,1115.8 L1858.0,1114.1 L1859.0,1115.0 L1860.0,1113.1 L1861.0,1111.9 L1862.0,1109.6 L1863.0,1107.5 L1864.0,1107.2 L1865.0,1107.8 L1866.0,1110.0 L1867.0,1111.2 L1868.0,1111.5 L1869.0,1112.0 L1870.0,1109.6 L1871.0,1108.5 L1872.0,1110.3 L1873.0,1111.4 L1874.0,1109.8 L1875.0,1111.1 L1876.0,1111.6 L1877.0,1110.8 L1878.0,1112.2 L1879.0,1112.5 L1880.0,1111.4 L1881.0,1112.8 L1882.0,1111.9 L1883.0,1111.2 L1884.0,1112.5 L1885.0,1112.7 L1886.0,1113.8 L1887.0,1114.7 L1888.0,1115.0 L1889.0,1114.9 L1890.0,1113.1 L1891.0,1113.4 L1892.0,1115.0 L1893.0,1115.7 L1894.0,1114.0 L1895.0,1115.9 L1896.0,1115.9 L1897.0,1115.3 L1898.0,1115.4 L1899.0,1115.9 L1900.0,1115.3 L1901.0,1111.7 L1902.0,1110.4 L1903.0,1112.1 L1904.0,1114.5 L1905.0,1114.1 L1906.0,1113.0 L1907.0,1114.9 L1908.0,1116.8 L1909.0,1118.3 L1910.0,1118.4 L1911.0,1119.3 L1912.0,1120.7 L1913.0,1121.3 L1914.0,1121.8 L1915.0,1121.9 L1916.0,1122.5 L1917.0,1122.4 L1918.0,1122.1 L1919.0,1122.4 L1920.0,1122.4 L1921.0,1122.3 L1922.0,1122.5 L1923.0,1122.5 L1924.0,1122.5 L1925.0,1122.6 L1926.0,1122.4 L1927.0,1122.5 L1928.0,1122.3 L1929.0,1121.7 L1930.0,1121.7 L1931.0,1121.8 L1932.0,1121.4 L1933.0,1121.1 L1934.0,1121.3 L1935.0,1121.3 L1936.0,1121.0 L1937.0,1120.4 L1938.0,1120.4 L1939.0,1119.6 L1940.0,1116.9 L1941.0,1116.4 L1942.0,1116.2 L1943.0,1115.4 L1944.0,1114.9 L1945.0,1114.9 L1946.0,1116.1 L1947.0,1117.6 L1948.0,1115.8 L1949.0,1114.0 L1950.0,1114.5 L1951.0,1115.5 L1952.0,1116.6 L1953.0,1117.4 L1954.0,1116.4 L1955.0,1116.6 L1956.0,1117.4 L1957.0,1117.8 L1958.0,1119.0 L1959.0,1120.4 L1960.0,1121.7 L1961.0,1122.3 L1962.0,1122.2 L1963.0,1122.2 L1964.0,1122.6 L1965.0,1122.6 L1966.0,1122.5 L1967.0,1122.3 L1968.0,1122.6 L1969.0,1122.5 L1970.0,1122.4 L1971.0,1122.6 L1972.0,1122.2 L1973.0,1122.6 L1974.0,1122.4 L1975.0,1122.4 L1976.0,1122.4 L1977.0,1122.0 L1978.0,1122.3 L1979.0,1122.3 L1980.0,1122.0 L1981.0,1121.7 L1982.0,1122.3 L1983.0,1122.3 L1984.0,1122.0 L1985.0,1122.1 L1986.0,1122.3 L1987.0,1122.0 L1988.0,1122.4 L1989.0,1122.4 L1990.0,1122.6 L1991.0,1122.3 L1992.0,1122.6 L1993.0,1122.6 L1994.0,1122.4 L1995.0,1122.3 L1995.0,1123.2 Z" fill="#0c3384"/>
<line x1="1250.0" y1="1122.7" x2="1994.9" y2="1122.7" stroke="#5577aa" stroke-width="1"/>
<clipPath id="cp31"><rect x="1248" y="930.7" width="748.9000000000001" height="95.39999999999986"/></clipPath>
<g clip-path="url(#cp31)">
<polyline points="1284.5,962.9 1286.0,963.6 1287.5,964.6 1289.0,966.0 1290.5,968.9 1292.0,974.3 1293.5,982.0 1295.0,990.7 1296.5,998.9 1298.0,1005.2 1299.5,1008.6 1301.0,1007.3 1302.5,1004.6 1304.0,1002.9 1305.5,1002.1 1307.0,1001.8 1308.5,1001.7 1310.0,1001.7 1311.5,1001.9 1313.0,1002.1 1314.5,1002.4 1316.0,1002.7 1317.5,1003.0 1319.0,1003.5 1320.5,1004.2 1322.0,1005.3 1323.5,1007.0 1325.0,1009.1 1326.5,1010.4 1328.0,1009.6 1329.5,1005.0 1331.0,996.4 1332.5,987.1 1334.0,980.4 1335.5,976.4 1337.0,974.0 1338.5,972.3 1340.0,970.9 1341.5,969.7 1343.0,968.9 1344.5,968.4 1346.0,968.2 1347.5,968.4 1349.0,968.9 1350.5,969.7 1352.0,970.6 1353.5,971.5 1355.0,972.3 1356.5,973.0 1358.0,973.5 1359.5,974.0 1361.0,974.3 1362.5,974.6 1364.0,974.8 1365.5,975.0 1367.0,975.1 1368.5,975.2 1370.0,975.3 1371.5,975.5 1373.0,975.8 1374.5,976.3 1376.0,976.9 1377.5,977.4 1379.0,977.7 1380.5,977.6 1382.0,977.2 1383.5,976.5 1385.0,975.4 1386.5,974.5 1388.0,974.2 1389.5,975.3 1391.0,978.8 1392.5,985.1 1394.0,993.7 1395.5,1002.3 1397.0,1008.8 1398.5,1012.7 1400.0,1014.9 1401.5,1015.9 1403.0,1016.4 1404.5,1016.6 1406.0,1016.7 1407.5,1016.8 1409.0,1016.8 1410.5,1016.8 1412.0,1016.8 1413.5,1016.8 1415.0,1016.8 1416.5,1016.8 1418.0,1016.8 1419.5,1016.8 1421.0,1016.8 1422.5,1016.8 1424.0,1016.8 1425.5,1016.8 1427.0,1016.8 1428.5,1016.8 1430.0,1016.8 1431.5,1016.8 1433.0,1016.8 1434.5,1016.8 1436.0,1016.8 1437.5,1016.8 1439.0,1016.8 1440.5,1016.8 1442.0,1016.8 1443.5,1016.8 1445.0,1016.8 1446.5,1016.8 1448.0,1016.8 1449.5,1016.8 1451.0,1016.8 1452.5,1016.8 1454.0,1016.8 1455.5,1016.8 1457.0,1016.8 1458.5,1016.7 1460.0,1016.6 1461.5,1016.4 1463.0,1016.0 1464.5,1015.4 1466.0,1014.5 1467.5,1013.1 1469.0,1011.3 1470.5,1009.1 1472.0,1006.7 1473.5,1004.3 1475.0,1002.3 1476.5,1000.9 1478.0,1000.4 1479.5,1000.9 1481.0,1002.3 1482.5,1004.3 1484.0,1006.7 1485.5,1008.9 1487.0,1010.5 1488.5,1011.1 1490.0,1010.6 1491.5,1009.5 1493.0,1008.7 1494.5,1008.4 1496.0,1008.2 1497.5,1008.2 1499.0,1008.3 1500.5,1008.4 1502.0,1008.5 1503.5,1008.6 1505.0,1008.7 1506.5,1008.9 1508.0,1009.1 1509.5,1009.3 1511.0,1009.6 1512.5,1009.7 1514.0,1009.2 1515.5,1006.4 1517.0,999.8 1518.5,990.4 1520.0,982.3 1521.5,977.7 1523.0,975.3 1524.5,974.1 1526.0,973.1 1527.5,972.3 1529.0,971.5 1530.5,970.8 1532.0,970.1 1533.5,969.5 1535.0,968.9 1536.5,968.3 1538.0,967.9 1539.5,967.7 1541.0,967.8 1542.5,968.3 1544.0,969.1 1545.5,970.3 1547.0,971.7 1548.5,973.3 1550.0,974.9 1551.5,976.5 1553.0,978.0 1554.5,979.3 1556.0,980.4 1557.5,981.2 1559.0,981.8 1560.5,982.2 1562.0,982.5 1563.5,982.7 1565.0,982.8 1566.5,982.9 1568.0,983.1 1569.5,983.2 1571.0,983.3 1572.5,983.6 1574.0,984.0 1575.5,984.9 1577.0,986.8 1578.5,990.2 1580.0,995.2 1581.5,1001.0 1583.0,1005.9 1584.5,1008.9 1586.0,1010.4 1587.5,1011.2 1589.0,1011.7 1590.5,1011.8 1592.0,1011.8 1593.5,1011.7 1595.0,1011.5 1596.5,1011.3 1598.0,1011.0 1599.5,1010.8 1601.0,1010.6 1602.5,1010.4 1604.0,1010.2 1605.5,1009.8 1607.0,1009.1 1608.5,1008.0 1610.0,1006.2 1611.5,1003.4 1613.0,999.7 1614.5,995.7 1616.0,992.6 1617.5,991.1 1619.0,991.8 1620.5,994.5 1622.0,998.5 1623.5,1003.1 1625.0,1007.3 1626.5,1010.8 1628.0,1013.3 1629.5,1015.0 1631.0,1015.9 1632.5,1016.4 1634.0,1016.6 1635.5,1016.7 1637.0,1016.8 1638.5,1016.8 1640.0,1016.8 1641.5,1016.8 1643.0,1016.8 1644.5,1016.8 1646.0,1016.8 1647.5,1016.8 1649.0,1016.8 1650.5,1016.8 1652.0,1016.8 1653.5,1016.8 1655.0,1016.8 1656.5,1016.8 1658.0,1016.8 1659.5,1016.8 1661.0,1016.8 1662.5,1016.8 1664.0,1016.8 1665.5,1016.8 1667.0,1016.8 1668.5,1016.8 1670.0,1016.8 1671.5,1016.8 1673.0,1016.8 1674.5,1016.8 1676.0,1016.8 1677.5,1016.8 1679.0,1016.8 1680.5,1016.8 1682.0,1016.8 1683.5,1016.8 1685.0,1016.8 1686.5,1016.8 1688.0,1016.8 1689.5,1016.8 1691.0,1016.8 1692.5,1016.8 1694.0,1016.8 1695.5,1016.7 1697.0,1016.5 1698.5,1016.1 1700.0,1014.9 1701.5,1012.3 1703.0,1007.4 1704.5,1000.9 1706.0,995.5 1707.5,992.5 1709.0,991.3 1710.5,991.0 1712.0,991.1 1713.5,991.3 1715.0,991.5 1716.5,991.5 1718.0,991.4 1719.5,990.9 1721.0,989.9 1722.5,988.6 1724.0,986.8 1725.5,984.6 1727.0,982.0 1728.5,979.2 1730.0,976.2 1731.5,973.1 1733.0,970.0 1734.5,967.0 1736.0,964.1 1737.5,961.5 1739.0,959.3 1740.5,957.8 1742.0,957.0 1743.5,957.0 1745.0,957.8 1746.5,959.4 1748.0,961.6 1749.5,964.2 1751.0,967.2 1752.5,970.2 1754.0,973.1 1755.5,976.0 1757.0,978.7 1758.5,981.3 1760.0,983.9 1761.5,986.9 1763.0,990.6 1764.5,995.4 1766.0,1000.9 1767.5,1005.8 1769.0,1009.1 1770.5,1010.5 1772.0,1011.0 1773.5,1011.1 1775.0,1011.1 1776.5,1011.0 1778.0,1010.9 1779.5,1010.7 1781.0,1010.6 1782.5,1010.5 1784.0,1010.4 1785.5,1010.3 1787.0,1010.4 1788.5,1010.4 1790.0,1010.4 1791.5,1010.3 1793.0,1010.1 1794.5,1009.4 1796.0,1008.2 1797.5,1006.4 1799.0,1003.9 1800.5,1001.1 1802.0,998.4 1803.5,996.5 1805.0,995.8 1806.5,996.5 1808.0,998.5 1809.5,1001.1 1811.0,1003.9 1812.5,1006.3 1814.0,1008.1 1815.5,1009.3 1817.0,1009.9 1818.5,1010.1 1820.0,1010.2 1821.5,1010.1 1823.0,1009.9 1824.5,1009.8 1826.0,1009.8 1827.5,1009.8 1829.0,1009.8 1830.5,1009.9 1832.0,1010.0 1833.5,1010.1 1835.0,1010.2 1836.5,1010.1 1838.0,1009.7 1839.5,1008.5 1841.0,1005.7 1842.5,1000.8 1844.0,995.2 1845.5,991.4 1847.0,989.7 1848.5,989.0 1850.0,988.7 1851.5,988.4 1853.0,988.1 1854.5,987.8 1856.0,987.3 1857.5,986.7 1859.0,986.0 1860.5,985.0 1862.0,983.8 1863.5,982.4 1865.0,981.0 1866.5,979.8 1868.0,978.8 1869.5,978.2 1871.0,978.2 1872.5,978.8 1874.0,979.8 1875.5,981.2 1877.0,982.6 1878.5,983.9 1880.0,984.9 1881.5,985.4 1883.0,985.5 1884.5,985.1 1886.0,984.5 1887.5,983.6 1889.0,982.7 1890.5,981.8 1892.0,981.3 1893.5,981.0 1895.0,981.1 1896.5,981.7 1898.0,982.7 1899.5,984.1 1901.0,986.1 1902.5,988.6 1904.0,992.1 1905.5,996.7 1907.0,1002.2 1908.5,1007.5 1910.0,1011.4 1911.5,1014.0 1913.0,1015.4 1914.5,1016.1 1916.0,1016.5 1917.5,1016.6 1919.0,1016.7 1920.5,1016.8 1922.0,1016.8 1923.5,1016.8 1925.0,1016.8 1926.5,1016.8 1928.0,1016.7 1929.5,1016.6 1931.0,1016.3 1932.5,1015.9 1934.0,1015.1 1935.5,1014.0 1937.0,1012.4 1938.5,1010.3 1940.0,1007.8 1941.5,1005.2 1943.0,1002.7 1944.5,1000.6 1946.0,999.5 1947.5,999.5 1949.0,1000.6 1950.5,1002.6 1952.0,1005.2 1953.5,1008.0 1955.0,1010.6 1956.5,1012.7 1958.0,1014.2 1959.5,1015.3 1961.0,1016.0" fill="none" stroke="#5b7367" stroke-width="2.2" stroke-linejoin="round"/>
<polyline points="1284.5,990.8 1286.0,988.9 1287.5,986.3 1289.0,981.7 1290.5,975.9 1292.0,971.2 1293.5,970.2 1295.0,973.2 1296.5,978.6 1298.0,984.5 1299.5,990.2 1301.0,995.2 1302.5,999.4 1304.0,1002.5 1305.5,1004.7 1307.0,1006.1 1308.5,1007.0 1310.0,1007.6 1311.5,1007.9 1313.0,1008.0 1314.5,1008.0 1316.0,1007.8 1317.5,1007.5 1319.0,1007.4 1320.5,1007.4 1322.0,1007.9 1323.5,1008.9 1325.0,1010.3 1326.5,1011.2 1328.0,1010.5 1329.5,1007.1 1331.0,1001.6 1332.5,996.6 1334.0,993.9 1335.5,992.6 1337.0,991.5 1338.5,990.1 1340.0,988.6 1341.5,987.3 1343.0,986.6 1344.5,986.6 1346.0,987.0 1347.5,987.7 1349.0,988.5 1350.5,989.1 1352.0,989.5 1353.5,989.9 1355.0,990.5 1356.5,991.3 1358.0,992.6 1359.5,994.2 1361.0,996.1 1362.5,997.6 1364.0,998.7 1365.5,998.8 1367.0,998.2 1368.5,996.7 1370.0,994.6 1371.5,991.8 1373.0,988.3 1374.5,984.3 1376.0,979.9 1377.5,975.8 1379.0,972.4 1380.5,970.6 1382.0,970.6 1383.5,972.5 1385.0,976.0 1386.5,980.4 1388.0,984.9 1389.5,989.1 1391.0,992.7 1392.5,996.2 1394.0,1000.2 1395.5,1004.8 1397.0,1009.0 1398.5,1012.1 1400.0,1014.1 1401.5,1015.2 1403.0,1015.8 1404.5,1016.1 1406.0,1016.3 1407.5,1016.4 1409.0,1016.5 1410.5,1016.5 1412.0,1016.5 1413.5,1016.6 1415.0,1016.6 1416.5,1016.6 1418.0,1016.5 1419.5,1016.5 1421.0,1016.4 1422.5,1016.3 1424.0,1016.3 1425.5,1016.2 1427.0,1016.2 1428.5,1016.2 1430.0,1016.2 1431.5,1016.3 1433.0,1016.3 1434.5,1016.4 1436.0,1016.5 1437.5,1016.5 1439.0,1016.5 1440.5,1016.6 1442.0,1016.6 1443.5,1016.7 1445.0,1016.7 1446.5,1016.7 1448.0,1016.7 1449.5,1016.6 1451.0,1016.5 1452.5,1016.4 1454.0,1016.3 1455.5,1016.1 1457.0,1016.0 1458.5,1015.9 1460.0,1015.8 1461.5,1015.6 1463.0,1015.3 1464.5,1014.9 1466.0,1014.1 1467.5,1013.0 1469.0,1011.4 1470.5,1009.3 1472.0,1006.8 1473.5,1004.2 1475.0,1001.9 1476.5,1000.3 1478.0,1000.0 1479.5,1001.0 1481.0,1003.0 1482.5,1005.6 1484.0,1008.3 1485.5,1010.7 1487.0,1012.4 1488.5,1013.2 1490.0,1013.1 1491.5,1012.5 1493.0,1012.1 1494.5,1011.9 1496.0,1011.9 1497.5,1012.0 1499.0,1012.1 1500.5,1012.2 1502.0,1012.3 1503.5,1012.3 1505.0,1012.2 1506.5,1012.1 1508.0,1011.9 1509.5,1011.8 1511.0,1011.7 1512.5,1011.2 1514.0,1009.8 1515.5,1006.0 1517.0,998.4 1518.5,988.6 1520.0,980.9 1521.5,977.0 1523.0,975.0 1524.5,973.4 1526.0,971.2 1527.5,968.7 1529.0,966.1 1530.5,964.0 1532.0,962.7 1533.5,962.6 1535.0,963.8 1536.5,966.2 1538.0,969.7 1539.5,973.9 1541.0,978.2 1542.5,981.9 1544.0,984.0 1545.5,984.4 1547.0,983.2 1548.5,981.3 1550.0,979.5 1551.5,978.7 1553.0,979.2 1554.5,980.5 1556.0,982.3 1557.5,983.7 1559.0,984.3 1560.5,983.9 1562.0,982.7 1563.5,981.1 1565.0,979.6 1566.5,978.6 1568.0,978.6 1569.5,979.3 1571.0,980.6 1572.5,982.3 1574.0,984.1 1575.5,986.3 1577.0,989.1 1578.5,993.2 1580.0,998.4 1581.5,1003.9 1583.0,1008.1 1584.5,1010.5 1586.0,1011.6 1587.5,1012.3 1589.0,1012.7 1590.5,1013.0 1592.0,1013.2 1593.5,1013.3 1595.0,1013.5 1596.5,1013.6 1598.0,1013.7 1599.5,1013.9 1601.0,1014.0 1602.5,1014.0 1604.0,1013.9 1605.5,1013.7 1607.0,1013.3 1608.5,1012.4 1610.0,1011.1 1611.5,1009.2 1613.0,1006.7 1614.5,1004.1 1616.0,1001.9 1617.5,1000.9 1619.0,1001.3 1620.5,1002.9 1622.0,1005.3 1623.5,1007.9 1625.0,1010.4 1626.5,1012.5 1628.0,1014.0 1629.5,1015.1 1631.0,1015.7 1632.5,1016.0 1634.0,1016.2 1635.5,1016.3 1637.0,1016.3 1638.5,1016.4 1640.0,1016.4 1641.5,1016.4 1643.0,1016.4 1644.5,1016.4 1646.0,1016.4 1647.5,1016.4 1649.0,1016.4 1650.5,1016.4 1652.0,1016.5 1653.5,1016.6 1655.0,1016.6 1656.5,1016.7 1658.0,1016.7 1659.5,1016.8 1661.0,1016.8 1662.5,1016.8 1664.0,1016.8 1665.5,1016.8 1667.0,1016.7 1668.5,1016.7 1670.0,1016.7 1671.5,1016.8 1673.0,1016.8 1674.5,1016.8 1676.0,1016.9 1677.5,1016.9 1679.0,1016.9 1680.5,1016.9 1682.0,1016.8 1683.5,1016.8 1685.0,1016.7 1686.5,1016.7 1688.0,1016.7 1689.5,1016.7 1691.0,1016.7 1692.5,1016.8 1694.0,1016.8 1695.5,1016.7 1697.0,1016.6 1698.5,1016.2 1700.0,1015.1 1701.5,1012.6 1703.0,1007.7 1704.5,1001.0 1706.0,995.6 1707.5,993.1 1709.0,992.8 1710.5,993.6 1712.0,994.4 1713.5,994.8 1715.0,994.6 1716.5,993.6 1718.0,991.8 1719.5,989.5 1721.0,986.8 1722.5,983.9 1724.0,981.1 1725.5,978.6 1727.0,976.3 1728.5,974.4 1730.0,973.0 1731.5,972.4 1733.0,972.5 1734.5,973.3 1736.0,974.4 1737.5,975.5 1739.0,976.2 1740.5,976.5 1742.0,976.4 1743.5,976.4 1745.0,976.9 1746.5,978.4 1748.0,980.8 1749.5,984.0 1751.0,987.3 1752.5,990.1 1754.0,992.1 1755.5,993.2 1757.0,993.6 1758.5,993.8 1760.0,994.2 1761.5,995.2 1763.0,997.0 1764.5,999.9 1766.0,1003.7 1767.5,1007.5 1769.0,1010.2 1770.5,1011.6 1772.0,1012.1 1773.5,1012.4 1775.0,1012.5 1776.5,1012.7 1778.0,1012.9 1779.5,1013.1 1781.0,1013.2 1782.5,1013.3 1784.0,1013.3 1785.5,1013.3 1787.0,1013.2 1788.5,1013.0 1790.0,1012.8 1791.5,1012.5 1793.0,1012.0 1794.5,1011.1 1796.0,1009.8 1797.5,1008.1 1799.0,1006.0 1800.5,1003.8 1802.0,1002.0 1803.5,1000.8 1805.0,1000.6 1806.5,1001.3 1808.0,1002.9 1809.5,1004.8 1811.0,1006.8 1812.5,1008.6 1814.0,1010.0 1815.5,1011.0 1817.0,1011.7 1818.5,1012.2 1820.0,1012.6 1821.5,1013.0 1823.0,1013.3 1824.5,1013.4 1826.0,1013.4 1827.5,1013.3 1829.0,1013.0 1830.5,1012.6 1832.0,1012.1 1833.5,1011.7 1835.0,1011.2 1836.5,1010.7 1838.0,1010.0 1839.5,1008.4 1841.0,1004.7 1842.5,997.9 1844.0,990.0 1845.5,984.2 1847.0,981.4 1848.5,980.7 1850.0,981.1 1851.5,982.5 1853.0,984.7 1854.5,987.4 1856.0,990.3 1857.5,993.0 1859.0,995.0 1860.5,996.0 1862.0,995.8 1863.5,994.1 1865.0,991.1 1866.5,986.9 1868.0,981.8 1869.5,976.5 1871.0,972.0 1872.5,968.9 1874.0,968.1 1875.5,969.5 1877.0,972.7 1878.5,977.0 1880.0,981.6 1881.5,985.6 1883.0,988.9 1884.5,991.1 1886.0,992.4 1887.5,992.9 1889.0,993.0 1890.5,992.9 1892.0,992.9 1893.5,993.1 1895.0,993.6 1896.5,994.3 1898.0,995.1 1899.5,995.8 1901.0,996.3 1902.5,996.9 1904.0,998.1 1905.5,1000.5 1907.0,1004.2 1908.5,1008.4 1910.0,1011.8 1911.5,1014.1 1913.0,1015.4 1914.5,1016.0 1916.0,1016.3 1917.5,1016.5 1919.0,1016.6 1920.5,1016.6 1922.0,1016.6 1923.5,1016.6 1925.0,1016.6 1926.5,1016.6 1928.0,1016.5 1929.5,1016.4 1931.0,1016.2 1932.5,1015.9 1934.0,1015.4 1935.5,1014.6 1937.0,1013.5 1938.5,1011.9 1940.0,1010.1 1941.5,1007.9 1943.0,1005.8 1944.5,1003.9 1946.0,1002.6 1947.5,1002.1 1949.0,1002.6 1950.5,1004.0 1952.0,1006.1 1953.5,1008.5 1955.0,1010.7 1956.5,1012.5 1958.0,1013.8 1959.5,1014.7 1961.0,1015.3" fill="none" stroke="#a9c2ea" stroke-width="2.2" stroke-linejoin="round"/>
<polyline points="1284.5,979.3 1286.0,975.3 1287.5,972.0 1289.0,968.1 1290.5,964.5 1292.0,963.6 1293.5,966.8 1295.0,973.1 1296.5,980.2 1298.0,986.6 1299.5,992.0 1301.0,996.4 1302.5,999.9 1304.0,1002.4 1305.5,1004.1 1307.0,1005.1 1308.5,1005.8 1310.0,1006.2 1311.5,1006.4 1313.0,1006.5 1314.5,1006.6 1316.0,1006.5 1317.5,1006.6 1319.0,1006.8 1320.5,1007.3 1322.0,1008.3 1323.5,1009.7 1325.0,1011.3 1326.5,1012.3 1328.0,1011.9 1329.5,1009.2 1331.0,1004.7 1332.5,1000.3 1334.0,997.5 1335.5,995.9 1337.0,994.4 1338.5,992.7 1340.0,990.8 1341.5,988.6 1343.0,986.4 1344.5,984.2 1346.0,981.9 1347.5,979.5 1349.0,977.0 1350.5,974.6 1352.0,972.8 1353.5,972.1 1355.0,973.0 1356.5,975.6 1358.0,979.7 1359.5,984.5 1361.0,989.3 1362.5,993.2 1364.0,995.7 1365.5,996.6 1367.0,996.0 1368.5,994.0 1370.0,990.7 1371.5,986.2 1373.0,980.6 1374.5,974.7 1376.0,969.2 1377.5,965.1 1379.0,963.6 1380.5,964.9 1382.0,968.9 1383.5,974.9 1385.0,981.8 1386.5,988.7 1388.0,994.7 1389.5,999.4 1391.0,1003.0 1392.5,1005.8 1394.0,1008.4 1395.5,1010.9 1397.0,1013.0 1398.5,1014.6 1400.0,1015.5 1401.5,1016.1 1403.0,1016.3 1404.5,1016.4 1406.0,1016.4 1407.5,1016.4 1409.0,1016.3 1410.5,1016.3 1412.0,1016.4 1413.5,1016.4 1415.0,1016.4 1416.5,1016.4 1418.0,1016.4 1419.5,1016.3 1421.0,1016.3 1422.5,1016.3 1424.0,1016.3 1425.5,1016.3 1427.0,1016.3 1428.5,1016.4 1430.0,1016.4 1431.5,1016.4 1433.0,1016.3 1434.5,1016.3 1436.0,1016.2 1437.5,1016.2 1439.0,1016.1 1440.5,1016.1 1442.0,1016.2 1443.5,1016.2 1445.0,1016.3 1446.5,1016.4 1448.0,1016.5 1449.5,1016.5 1451.0,1016.6 1452.5,1016.6 1454.0,1016.6 1455.5,1016.7 1457.0,1016.7 1458.5,1016.7 1460.0,1016.6 1461.5,1016.5 1463.0,1016.2 1464.5,1015.7 1466.0,1014.9 1467.5,1013.7 1469.0,1012.1 1470.5,1010.2 1472.0,1007.9 1473.5,1005.7 1475.0,1004.0 1476.5,1003.0 1478.0,1003.1 1479.5,1004.1 1481.0,1005.8 1482.5,1007.9 1484.0,1009.9 1485.5,1011.6 1487.0,1012.8 1488.5,1013.3 1490.0,1013.1 1491.5,1012.4 1493.0,1012.0 1494.5,1011.8 1496.0,1012.0 1497.5,1012.2 1499.0,1012.5 1500.5,1012.7 1502.0,1012.9 1503.5,1012.9 1505.0,1012.8 1506.5,1012.7 1508.0,1012.6 1509.5,1012.4 1511.0,1012.2 1512.5,1011.6 1514.0,1010.0 1515.5,1006.0 1517.0,998.2 1518.5,988.1 1520.0,980.8 1521.5,977.8 1523.0,977.3 1524.5,977.3 1526.0,976.9 1527.5,975.8 1529.0,973.9 1530.5,971.5 1532.0,968.9 1533.5,966.8 1535.0,965.8 1536.5,966.7 1538.0,969.6 1539.5,974.1 1541.0,979.2 1542.5,983.8 1544.0,986.9 1545.5,988.2 1547.0,988.0 1548.5,987.0 1550.0,986.3 1551.5,986.5 1553.0,987.9 1554.5,990.1 1556.0,992.5 1557.5,994.4 1559.0,995.2 1560.5,994.6 1562.0,992.6 1563.5,989.5 1565.0,985.9 1566.5,982.3 1568.0,979.5 1569.5,977.7 1571.0,977.2 1572.5,977.7 1574.0,979.1 1575.5,981.3 1577.0,984.6 1578.5,989.1 1580.0,995.0 1581.5,1001.0 1583.0,1005.7 1584.5,1008.2 1586.0,1009.3 1587.5,1009.9 1589.0,1010.3 1590.5,1010.7 1592.0,1011.0 1593.5,1011.3 1595.0,1011.6 1596.5,1011.8 1598.0,1012.0 1599.5,1012.2 1601.0,1012.4 1602.5,1012.5 1604.0,1012.6 1605.5,1012.5 1607.0,1012.1 1608.5,1011.4 1610.0,1010.0 1611.5,1007.8 1613.0,1004.9 1614.5,1001.8 1616.0,999.2 1617.5,998.0 1619.0,998.6 1620.5,1000.7 1622.0,1003.8 1623.5,1007.1 1625.0,1010.2 1626.5,1012.6 1628.0,1014.3 1629.5,1015.4 1631.0,1016.0 1632.5,1016.3 1634.0,1016.5 1635.5,1016.5 1637.0,1016.5 1638.5,1016.5 1640.0,1016.5 1641.5,1016.5 1643.0,1016.5 1644.5,1016.6 1646.0,1016.6 1647.5,1016.6 1649.0,1016.6 1650.5,1016.6 1652.0,1016.6 1653.5,1016.5 1655.0,1016.5 1656.5,1016.5 1658.0,1016.5 1659.5,1016.5 1661.0,1016.6 1662.5,1016.6 1664.0,1016.7 1665.5,1016.7 1667.0,1016.7 1668.5,1016.6 1670.0,1016.6 1671.5,1016.5 1673.0,1016.4 1674.5,1016.4 1676.0,1016.3 1677.5,1016.3 1679.0,1016.3 1680.5,1016.4 1682.0,1016.4 1683.5,1016.4 1685.0,1016.4 1686.5,1016.5 1688.0,1016.5 1689.5,1016.4 1691.0,1016.4 1692.5,1016.4 1694.0,1016.4 1695.5,1016.4 1697.0,1016.2 1698.5,1015.7 1700.0,1014.5 1701.5,1011.5 1703.0,1005.5 1704.5,997.2 1706.0,990.0 1707.5,986.1 1709.0,984.9 1710.5,985.1 1712.0,985.8 1713.5,986.5 1715.0,987.2 1716.5,987.7 1718.0,988.2 1719.5,988.8 1721.0,989.5 1722.5,990.2 1724.0,990.6 1725.5,990.6 1727.0,989.9 1728.5,988.4 1730.0,986.4 1731.5,984.0 1733.0,981.8 1734.5,979.9 1736.0,978.6 1737.5,977.7 1739.0,977.1 1740.5,976.6 1742.0,976.1 1743.5,975.9 1745.0,976.1 1746.5,977.0 1748.0,978.4 1749.5,980.0 1751.0,981.6 1752.5,983.0 1754.0,984.2 1755.5,985.1 1757.0,986.0 1758.5,987.0 1760.0,988.3 1761.5,990.1 1763.0,992.8 1764.5,996.6 1766.0,1001.4 1767.5,1006.1 1769.0,1009.5 1770.5,1011.3 1772.0,1012.2 1773.5,1012.7 1775.0,1013.0 1776.5,1013.2 1778.0,1013.4 1779.5,1013.4 1781.0,1013.5 1782.5,1013.5 1784.0,1013.4 1785.5,1013.4 1787.0,1013.4 1788.5,1013.4 1790.0,1013.4 1791.5,1013.2 1793.0,1012.9 1794.5,1012.3 1796.0,1011.4 1797.5,1010.0 1799.0,1008.4 1800.5,1006.7 1802.0,1005.1 1803.5,1003.9 1805.0,1003.2 1806.5,1003.0 1808.0,1003.4 1809.5,1004.2 1811.0,1005.3 1812.5,1006.4 1814.0,1007.4 1815.5,1008.2 1817.0,1008.7 1818.5,1009.2 1820.0,1009.6 1821.5,1010.1 1823.0,1010.6 1824.5,1011.0 1826.0,1011.5 1827.5,1011.8 1829.0,1012.0 1830.5,1012.1 1832.0,1012.1 1833.5,1012.0 1835.0,1011.9 1836.5,1011.6 1838.0,1010.9 1839.5,1009.4 1841.0,1005.9 1842.5,999.9 1844.0,993.2 1845.5,989.3 1847.0,988.7 1848.5,990.0 1850.0,992.0 1851.5,994.1 1853.0,996.2 1854.5,998.1 1856.0,999.9 1857.5,1001.4 1859.0,1002.5 1860.5,1002.9 1862.0,1002.3 1863.5,1000.7 1865.0,997.8 1866.5,993.5 1868.0,988.0 1869.5,981.6 1871.0,975.2 1872.5,969.7 1874.0,966.0 1875.5,964.9 1877.0,966.3 1878.5,969.7 1880.0,974.1 1881.5,978.6 1883.0,982.4 1884.5,985.3 1886.0,986.9 1887.5,987.6 1889.0,987.6 1890.5,987.2 1892.0,986.9 1893.5,987.1 1895.0,987.9 1896.5,989.2 1898.0,990.7 1899.5,992.1 1901.0,993.2 1902.5,994.1 1904.0,995.3 1905.5,997.7 1907.0,1001.6 1908.5,1006.2 1910.0,1010.2 1911.5,1013.0 1913.0,1014.6 1914.5,1015.5 1916.0,1016.0 1917.5,1016.4 1919.0,1016.6 1920.5,1016.7 1922.0,1016.8 1923.5,1016.8 1925.0,1016.8 1926.5,1016.7 1928.0,1016.6 1929.5,1016.5 1931.0,1016.3 1932.5,1016.0 1934.0,1015.5 1935.5,1014.6 1937.0,1013.5 1938.5,1011.9 1940.0,1009.9 1941.5,1007.8 1943.0,1005.9 1944.5,1004.3 1946.0,1003.4 1947.5,1003.4 1949.0,1004.1 1950.5,1005.5 1952.0,1007.3 1953.5,1009.3 1955.0,1011.1 1956.5,1012.6 1958.0,1013.8 1959.5,1014.6 1961.0,1015.1" fill="none" stroke="#8eb0e4" stroke-width="2.2" stroke-linejoin="round"/>
<polyline points="1284.5,987.4 1286.0,984.8 1287.5,982.7 1289.0,980.2 1290.5,978.2 1292.0,979.0 1293.5,983.3 1295.0,990.0 1296.5,996.6 1298.0,1002.1 1299.5,1006.1 1301.0,1008.9 1302.5,1010.6 1304.0,1011.6 1305.5,1012.0 1307.0,1012.1 1308.5,1011.9 1310.0,1011.6 1311.5,1011.2 1313.0,1010.8 1314.5,1010.4 1316.0,1010.1 1317.5,1009.8 1319.0,1009.6 1320.5,1009.6 1322.0,1010.0 1323.5,1010.9 1325.0,1012.0 1326.5,1012.7 1328.0,1012.1 1329.5,1009.4 1331.0,1004.7 1332.5,1000.1 1334.0,997.1 1335.5,995.2 1337.0,993.6 1338.5,991.9 1340.0,990.2 1341.5,988.6 1343.0,987.4 1344.5,986.7 1346.0,986.2 1347.5,985.7 1349.0,985.3 1350.5,984.9 1352.0,984.5 1353.5,984.5 1355.0,985.1 1356.5,986.5 1358.0,988.8 1359.5,991.5 1361.0,994.2 1362.5,996.5 1364.0,997.7 1365.5,997.9 1367.0,996.9 1368.5,994.9 1370.0,992.1 1371.5,988.9 1373.0,985.3 1374.5,981.6 1376.0,978.2 1377.5,975.4 1379.0,973.6 1380.5,973.2 1382.0,974.2 1383.5,976.7 1385.0,980.2 1386.5,984.3 1388.0,988.3 1389.5,991.9 1391.0,995.0 1392.5,998.0 1394.0,1001.5 1395.5,1005.6 1397.0,1009.4 1398.5,1012.3 1400.0,1014.1 1401.5,1015.1 1403.0,1015.7 1404.5,1016.0 1406.0,1016.2 1407.5,1016.3 1409.0,1016.4 1410.5,1016.4 1412.0,1016.4 1413.5,1016.4 1415.0,1016.4 1416.5,1016.3 1418.0,1016.3 1419.5,1016.2 1421.0,1016.2 1422.5,1016.1 1424.0,1016.1 1425.5,1016.1 1427.0,1016.1 1428.5,1016.0 1430.0,1016.0 1431.5,1016.0 1433.0,1016.0 1434.5,1016.1 1436.0,1016.1 1437.5,1016.2 1439.0,1016.2 1440.5,1016.3 1442.0,1016.3 1443.5,1016.3 1445.0,1016.3 1446.5,1016.2 1448.0,1016.2 1449.5,1016.2 1451.0,1016.2 1452.5,1016.3 1454.0,1016.3 1455.5,1016.4 1457.0,1016.4 1458.5,1016.5 1460.0,1016.5 1461.5,1016.4 1463.0,1016.2 1464.5,1015.9 1466.0,1015.5 1467.5,1014.8 1469.0,1013.9 1470.5,1012.7 1472.0,1011.3 1473.5,1009.7 1475.0,1008.0 1476.5,1006.5 1478.0,1005.4 1479.5,1005.0 1481.0,1005.4 1482.5,1006.5 1484.0,1008.0 1485.5,1009.8 1487.0,1011.2 1488.5,1012.0 1490.0,1011.9 1491.5,1011.5 1493.0,1011.3 1494.5,1011.4 1496.0,1011.7 1497.5,1012.0 1499.0,1012.2 1500.5,1012.4 1502.0,1012.4 1503.5,1012.4 1505.0,1012.3 1506.5,1012.3 1508.0,1012.3 1509.5,1012.3 1511.0,1012.4 1512.5,1012.1 1514.0,1011.0 1515.5,1008.0 1517.0,1001.9 1518.5,993.9 1520.0,987.7 1521.5,984.3 1523.0,982.3 1524.5,980.4 1526.0,978.0 1527.5,975.0 1529.0,971.7 1530.5,968.7 1532.0,966.4 1533.5,965.4 1535.0,966.1 1536.5,968.6 1538.0,972.4 1539.5,977.0 1541.0,981.4 1542.5,984.7 1544.0,986.4 1545.5,986.0 1547.0,983.8 1548.5,980.6 1550.0,977.6 1551.5,975.8 1553.0,976.0 1554.5,978.0 1556.0,981.0 1557.5,984.1 1559.0,986.5 1560.5,987.8 1562.0,988.0 1563.5,987.4 1565.0,986.3 1566.5,985.2 1568.0,984.4 1569.5,984.0 1571.0,984.0 1572.5,984.6 1574.0,985.5 1575.5,987.1 1577.0,989.5 1578.5,993.2 1580.0,998.1 1581.5,1003.3 1583.0,1007.3 1584.5,1009.5 1586.0,1010.4 1587.5,1010.8 1589.0,1011.1 1590.5,1011.2 1592.0,1011.3 1593.5,1011.4 1595.0,1011.6 1596.5,1011.7 1598.0,1011.9 1599.5,1012.2 1601.0,1012.4 1602.5,1012.7 1604.0,1012.9 1605.5,1013.0 1607.0,1012.9 1608.5,1012.5 1610.0,1011.6 1611.5,1010.1 1613.0,1007.9 1614.5,1005.3 1616.0,1002.8 1617.5,1001.2 1619.0,1000.9 1620.5,1002.2 1622.0,1004.7 1623.5,1007.6 1625.0,1010.4 1626.5,1012.7 1628.0,1014.3 1629.5,1015.3 1631.0,1015.9 1632.5,1016.2 1634.0,1016.3 1635.5,1016.3 1637.0,1016.3 1638.5,1016.3 1640.0,1016.3 1641.5,1016.2 1643.0,1016.2 1644.5,1016.1 1646.0,1016.1 1647.5,1016.0 1649.0,1016.0 1650.5,1016.0 1652.0,1016.1 1653.5,1016.1 1655.0,1016.2 1656.5,1016.3 1658.0,1016.4 1659.5,1016.4 1661.0,1016.4 1662.5,1016.4 1664.0,1016.4 1665.5,1016.3 1667.0,1016.3 1668.5,1016.2 1670.0,1016.2 1671.5,1016.2 1673.0,1016.2 1674.5,1016.1 1676.0,1016.1 1677.5,1016.1 1679.0,1016.2 1680.5,1016.2 1682.0,1016.3 1683.5,1016.4 1685.0,1016.4 1686.5,1016.5 1688.0,1016.6 1689.5,1016.6 1691.0,1016.6 1692.5,1016.6 1694.0,1016.5 1695.5,1016.5 1697.0,1016.4 1698.5,1016.1 1700.0,1015.2 1701.5,1013.3 1703.0,1009.4 1704.5,1004.0 1706.0,999.1 1707.5,995.7 1709.0,993.5 1710.5,991.8 1712.0,990.3 1713.5,988.7 1715.0,987.2 1716.5,986.0 1718.0,985.2 1719.5,984.9 1721.0,985.3 1722.5,986.1 1724.0,987.1 1725.5,988.1 1727.0,988.9 1728.5,989.3 1730.0,989.1 1731.5,988.6 1733.0,987.8 1734.5,986.8 1736.0,985.9 1737.5,985.2 1739.0,984.6 1740.5,984.1 1742.0,983.7 1743.5,983.5 1745.0,983.6 1746.5,984.0 1748.0,985.0 1749.5,986.4 1751.0,988.0 1752.5,989.8 1754.0,991.5 1755.5,993.0 1757.0,994.4 1758.5,995.7 1760.0,997.0 1761.5,998.3 1763.0,999.8 1764.5,1002.0 1766.0,1004.9 1767.5,1007.9 1769.0,1010.2 1770.5,1011.4 1772.0,1011.9 1773.5,1012.2 1775.0,1012.5 1776.5,1012.8 1778.0,1013.0 1779.5,1013.1 1781.0,1013.3 1782.5,1013.3 1784.0,1013.4 1785.5,1013.4 1787.0,1013.5 1788.5,1013.5 1790.0,1013.5 1791.5,1013.4 1793.0,1013.1 1794.5,1012.5 1796.0,1011.5 1797.5,1010.1 1799.0,1008.3 1800.5,1006.3 1802.0,1004.6 1803.5,1003.4 1805.0,1003.2 1806.5,1003.9 1808.0,1005.1 1809.5,1006.6 1811.0,1007.9 1812.5,1009.0 1814.0,1009.8 1815.5,1010.3 1817.0,1010.5 1818.5,1010.5 1820.0,1010.7 1821.5,1010.9 1823.0,1011.2 1824.5,1011.6 1826.0,1012.0 1827.5,1012.2 1829.0,1012.4 1830.5,1012.4 1832.0,1012.3 1833.5,1012.1 1835.0,1011.9 1836.5,1011.6 1838.0,1010.9 1839.5,1009.5 1841.0,1006.2 1842.5,1000.1 1844.0,992.9 1845.5,987.7 1847.0,985.3 1848.5,984.8 1850.0,985.5 1851.5,987.1 1853.0,989.3 1854.5,991.9 1856.0,994.8 1857.5,997.4 1859.0,999.5 1860.5,1000.8 1862.0,1001.0 1863.5,1000.2 1865.0,998.4 1866.5,995.5 1868.0,991.8 1869.5,987.4 1871.0,982.9 1872.5,978.7 1874.0,975.4 1875.5,973.5 1877.0,973.1 1878.5,974.3 1880.0,976.6 1881.5,979.4 1883.0,982.4 1884.5,984.9 1886.0,986.9 1887.5,988.3 1889.0,989.3 1890.5,990.1 1892.0,991.0 1893.5,992.0 1895.0,993.2 1896.5,994.6 1898.0,996.1 1899.5,997.4 1901.0,998.6 1902.5,999.6 1904.0,1001.0 1905.5,1003.2 1907.0,1006.3 1908.5,1009.6 1910.0,1012.3 1911.5,1014.2 1913.0,1015.2 1914.5,1015.7 1916.0,1016.0 1917.5,1016.1 1919.0,1016.1 1920.5,1016.2 1922.0,1016.2 1923.5,1016.2 1925.0,1016.2 1926.5,1016.2 1928.0,1016.2 1929.5,1016.1 1931.0,1016.0 1932.5,1015.8 1934.0,1015.4 1935.5,1014.7 1937.0,1013.7 1938.5,1012.3 1940.0,1010.5 1941.5,1008.4 1943.0,1006.4 1944.5,1004.7 1946.0,1003.7 1947.5,1003.6 1949.0,1004.4 1950.5,1006.1 1952.0,1008.1 1953.5,1010.3 1955.0,1012.2 1956.5,1013.7 1958.0,1014.8 1959.5,1015.5 1961.0,1015.9" fill="none" stroke="#6f9ad9" stroke-width="2.2" stroke-linejoin="round"/>
<polyline points="1284.5,994.0 1286.0,991.3 1287.5,988.8 1289.0,985.7 1290.5,982.5 1292.0,981.0 1293.5,982.4 1295.0,986.2 1296.5,990.9 1298.0,995.3 1299.5,999.1 1301.0,1002.3 1302.5,1004.9 1304.0,1006.8 1305.5,1008.0 1307.0,1008.7 1308.5,1009.2 1310.0,1009.4 1311.5,1009.5 1313.0,1009.6 1314.5,1009.7 1316.0,1009.8 1317.5,1009.9 1319.0,1010.2 1320.5,1010.6 1322.0,1011.2 1323.5,1012.1 1325.0,1013.0 1326.5,1013.6 1328.0,1013.0 1329.5,1010.4 1331.0,1005.9 1332.5,1001.3 1334.0,997.9 1335.5,995.7 1337.0,993.9 1338.5,992.2 1340.0,990.9 1341.5,990.1 1343.0,989.9 1344.5,990.2 1346.0,990.5 1347.5,990.4 1349.0,989.6 1350.5,988.2 1352.0,986.7 1353.5,985.6 1355.0,985.5 1356.5,986.8 1358.0,989.4 1359.5,992.8 1361.0,996.2 1362.5,999.1 1364.0,1000.8 1365.5,1001.5 1367.0,1001.0 1368.5,999.6 1370.0,997.4 1371.5,994.4 1373.0,990.8 1374.5,986.6 1376.0,982.2 1377.5,978.1 1379.0,975.1 1380.5,973.8 1382.0,974.9 1383.5,978.0 1385.0,982.6 1386.5,987.8 1388.0,993.0 1389.5,997.5 1391.0,1001.2 1392.5,1004.4 1394.0,1007.5 1395.5,1010.5 1397.0,1013.0 1398.5,1014.6 1400.0,1015.6 1401.5,1016.2 1403.0,1016.4 1404.5,1016.5 1406.0,1016.6 1407.5,1016.6 1409.0,1016.6 1410.5,1016.5 1412.0,1016.5 1413.5,1016.5 1415.0,1016.4 1416.5,1016.4 1418.0,1016.3 1419.5,1016.3 1421.0,1016.3 1422.5,1016.4 1424.0,1016.4 1425.5,1016.5 1427.0,1016.6 1428.5,1016.7 1430.0,1016.7 1431.5,1016.8 1433.0,1016.9 1434.5,1016.9 1436.0,1016.9 1437.5,1016.9 1439.0,1016.9 1440.5,1016.8 1442.0,1016.8 1443.5,1016.8 1445.0,1016.9 1446.5,1017.0 1448.0,1017.0 1449.5,1017.1 1451.0,1017.1 1452.5,1017.1 1454.0,1017.1 1455.5,1017.1 1457.0,1017.0 1458.5,1016.9 1460.0,1016.8 1461.5,1016.7 1463.0,1016.5 1464.5,1016.1 1466.0,1015.6 1467.5,1014.8 1469.0,1013.7 1470.5,1012.3 1472.0,1010.6 1473.5,1008.7 1475.0,1007.0 1476.5,1005.5 1478.0,1004.6 1479.5,1004.3 1481.0,1004.7 1482.5,1005.8 1484.0,1007.4 1485.5,1009.1 1487.0,1010.7 1488.5,1011.5 1490.0,1011.4 1491.5,1010.9 1493.0,1010.8 1494.5,1011.0 1496.0,1011.5 1497.5,1012.1 1499.0,1012.7 1500.5,1013.1 1502.0,1013.4 1503.5,1013.5 1505.0,1013.5 1506.5,1013.5 1508.0,1013.5 1509.5,1013.5 1511.0,1013.4 1512.5,1013.1 1514.0,1012.1 1515.5,1009.4 1517.0,1004.0 1518.5,996.9 1520.0,991.6 1521.5,989.0 1523.0,987.7 1524.5,986.5 1526.0,984.6 1527.5,982.0 1529.0,979.0 1530.5,976.1 1532.0,973.9 1533.5,972.9 1535.0,973.8 1536.5,976.5 1538.0,980.6 1539.5,985.2 1541.0,989.5 1542.5,992.7 1544.0,994.3 1545.5,994.0 1547.0,992.2 1548.5,989.5 1550.0,986.7 1551.5,984.8 1553.0,984.4 1554.5,985.6 1556.0,987.7 1557.5,989.9 1559.0,991.7 1560.5,992.7 1562.0,992.8 1563.5,992.4 1565.0,991.6 1566.5,990.9 1568.0,990.4 1569.5,990.2 1571.0,990.5 1572.5,991.0 1574.0,991.7 1575.5,992.6 1577.0,994.1 1578.5,996.7 1580.0,1000.4 1581.5,1004.7 1583.0,1008.2 1584.5,1010.2 1586.0,1011.1 1587.5,1011.7 1589.0,1012.1 1590.5,1012.4 1592.0,1012.7 1593.5,1012.9 1595.0,1013.1 1596.5,1013.3 1598.0,1013.5 1599.5,1013.7 1601.0,1013.8 1602.5,1013.9 1604.0,1013.9 1605.5,1013.8 1607.0,1013.5 1608.5,1012.9 1610.0,1011.9 1611.5,1010.3 1613.0,1008.3 1614.5,1006.2 1616.0,1004.5 1617.5,1004.0 1619.0,1004.6 1620.5,1006.4 1622.0,1008.7 1623.5,1011.1 1625.0,1013.0 1626.5,1014.5 1628.0,1015.5 1629.5,1016.1 1631.0,1016.4 1632.5,1016.6 1634.0,1016.6 1635.5,1016.6 1637.0,1016.6 1638.5,1016.5 1640.0,1016.5 1641.5,1016.6 1643.0,1016.6 1644.5,1016.7 1646.0,1016.7 1647.5,1016.8 1649.0,1016.8 1650.5,1016.8 1652.0,1016.8 1653.5,1016.8 1655.0,1016.7 1656.5,1016.7 1658.0,1016.6 1659.5,1016.5 1661.0,1016.4 1662.5,1016.4 1664.0,1016.3 1665.5,1016.3 1667.0,1016.3 1668.5,1016.3 1670.0,1016.4 1671.5,1016.4 1673.0,1016.5 1674.5,1016.6 1676.0,1016.7 1677.5,1016.8 1679.0,1016.8 1680.5,1016.8 1682.0,1016.9 1683.5,1016.9 1685.0,1016.8 1686.5,1016.8 1688.0,1016.8 1689.5,1016.8 1691.0,1016.8 1692.5,1016.8 1694.0,1016.8 1695.5,1016.8 1697.0,1016.7 1698.5,1016.5 1700.0,1015.7 1701.5,1014.0 1703.0,1010.5 1704.5,1005.4 1706.0,1000.8 1707.5,997.7 1709.0,996.0 1710.5,995.1 1712.0,994.6 1713.5,994.2 1715.0,993.7 1716.5,993.1 1718.0,992.4 1719.5,991.7 1721.0,991.1 1722.5,990.5 1724.0,990.0 1725.5,989.4 1727.0,988.6 1728.5,987.4 1730.0,985.7 1731.5,983.6 1733.0,981.4 1734.5,979.6 1736.0,978.4 1737.5,978.0 1739.0,978.3 1740.5,979.2 1742.0,980.6 1743.5,982.3 1745.0,984.5 1746.5,986.9 1748.0,989.6 1749.5,992.0 1751.0,994.1 1752.5,995.6 1754.0,996.6 1755.5,997.0 1757.0,997.1 1758.5,997.1 1760.0,997.3 1761.5,997.9 1763.0,999.2 1764.5,1001.6 1766.0,1004.9 1767.5,1008.5 1769.0,1011.1 1770.5,1012.5 1772.0,1013.2 1773.5,1013.7 1775.0,1014.1 1776.5,1014.3 1778.0,1014.5 1779.5,1014.7 1781.0,1014.8 1782.5,1014.8 1784.0,1014.8 1785.5,1014.8 1787.0,1014.7 1788.5,1014.5 1790.0,1014.3 1791.5,1014.0 1793.0,1013.6 1794.5,1012.9 1796.0,1011.9 1797.5,1010.7 1799.0,1009.1 1800.5,1007.4 1802.0,1005.7 1803.5,1004.4 1805.0,1003.7 1806.5,1003.8 1808.0,1004.7 1809.5,1006.2 1811.0,1008.0 1812.5,1009.6 1814.0,1011.0 1815.5,1011.9 1817.0,1012.5 1818.5,1012.8 1820.0,1013.1 1821.5,1013.3 1823.0,1013.5 1824.5,1013.8 1826.0,1014.0 1827.5,1014.2 1829.0,1014.3 1830.5,1014.3 1832.0,1014.2 1833.5,1014.0 1835.0,1013.9 1836.5,1013.7 1838.0,1013.4 1839.5,1012.6 1841.0,1010.7 1842.5,1007.4 1844.0,1003.5 1845.5,1000.6 1847.0,998.9 1848.5,997.8 1850.0,997.0 1851.5,996.4 1853.0,996.3 1854.5,996.7 1856.0,997.6 1857.5,998.9 1859.0,1000.1 1860.5,1000.9 1862.0,1001.0 1863.5,1000.3 1865.0,998.8 1866.5,996.7 1868.0,994.2 1869.5,991.6 1871.0,989.2 1872.5,987.1 1874.0,985.5 1875.5,984.5 1877.0,984.2 1878.5,984.6 1880.0,985.8 1881.5,987.5 1883.0,989.3 1884.5,990.9 1886.0,992.1 1887.5,992.9 1889.0,993.7 1890.5,994.6 1892.0,995.9 1893.5,997.7 1895.0,999.8 1896.5,1001.9 1898.0,1003.7 1899.5,1004.7 1901.0,1005.0 1902.5,1004.8 1904.0,1004.6 1905.5,1005.0 1907.0,1006.8 1908.5,1009.4 1910.0,1012.1 1911.5,1014.0 1913.0,1015.2 1914.5,1015.9 1916.0,1016.2 1917.5,1016.4 1919.0,1016.5 1920.5,1016.6 1922.0,1016.5 1923.5,1016.5 1925.0,1016.4 1926.5,1016.3 1928.0,1016.3 1929.5,1016.2 1931.0,1016.1 1932.5,1015.9 1934.0,1015.6 1935.5,1015.0 1937.0,1014.2 1938.5,1013.2 1940.0,1011.9 1941.5,1010.5 1943.0,1009.3 1944.5,1008.4 1946.0,1008.0 1947.5,1008.0 1949.0,1008.6 1950.5,1009.7 1952.0,1010.9 1953.5,1012.3 1955.0,1013.6 1956.5,1014.6 1958.0,1015.4 1959.5,1015.9 1961.0,1016.3" fill="none" stroke="#5585d0" stroke-width="2.2" stroke-linejoin="round"/>
<polyline points="1284.5,987.1 1286.0,985.0 1287.5,983.8 1289.0,982.0 1290.5,980.0 1292.0,979.4 1293.5,981.4 1295.0,985.6 1296.5,990.6 1298.0,995.4 1299.5,999.7 1301.0,1003.3 1302.5,1006.3 1304.0,1008.4 1305.5,1009.7 1307.0,1010.4 1308.5,1010.7 1310.0,1010.6 1311.5,1010.3 1313.0,1009.8 1314.5,1009.3 1316.0,1008.8 1317.5,1008.5 1319.0,1008.5 1320.5,1008.8 1322.0,1009.7 1323.5,1011.0 1325.0,1012.5 1326.5,1013.6 1328.0,1013.6 1329.5,1012.0 1331.0,1009.6 1332.5,1007.7 1334.0,1006.8 1335.5,1006.4 1337.0,1005.8 1338.5,1004.8 1340.0,1003.3 1341.5,1001.7 1343.0,1000.0 1344.5,998.4 1346.0,997.0 1347.5,995.7 1349.0,994.5 1350.5,993.1 1352.0,991.5 1353.5,990.0 1355.0,988.9 1356.5,988.6 1358.0,989.3 1359.5,991.1 1361.0,993.3 1362.5,995.2 1364.0,996.4 1365.5,996.4 1367.0,995.3 1368.5,993.1 1370.0,990.3 1371.5,987.2 1373.0,984.2 1374.5,981.5 1376.0,979.2 1377.5,977.5 1379.0,976.4 1380.5,976.2 1382.0,977.2 1383.5,979.4 1385.0,982.9 1386.5,987.0 1388.0,991.3 1389.5,995.3 1391.0,998.8 1392.5,1002.2 1394.0,1005.8 1395.5,1009.5 1397.0,1012.5 1398.5,1014.7 1400.0,1015.9 1401.5,1016.6 1403.0,1017.0 1404.5,1017.1 1406.0,1017.2 1407.5,1017.2 1409.0,1017.1 1410.5,1017.0 1412.0,1016.9 1413.5,1016.9 1415.0,1016.8 1416.5,1016.8 1418.0,1016.8 1419.5,1016.8 1421.0,1016.8 1422.5,1016.8 1424.0,1016.8 1425.5,1016.8 1427.0,1016.9 1428.5,1016.9 1430.0,1016.9 1431.5,1016.9 1433.0,1016.9 1434.5,1016.9 1436.0,1016.9 1437.5,1016.9 1439.0,1016.8 1440.5,1016.8 1442.0,1016.7 1443.5,1016.7 1445.0,1016.7 1446.5,1016.7 1448.0,1016.8 1449.5,1016.8 1451.0,1016.8 1452.5,1016.8 1454.0,1016.8 1455.5,1016.8 1457.0,1016.8 1458.5,1016.7 1460.0,1016.6 1461.5,1016.5 1463.0,1016.2 1464.5,1015.8 1466.0,1015.2 1467.5,1014.4 1469.0,1013.2 1470.5,1011.7 1472.0,1010.0 1473.5,1008.1 1475.0,1006.4 1476.5,1005.2 1478.0,1004.7 1479.5,1004.9 1481.0,1005.8 1482.5,1007.3 1484.0,1009.0 1485.5,1010.7 1487.0,1012.1 1488.5,1012.9 1490.0,1012.8 1491.5,1012.4 1493.0,1012.1 1494.5,1012.1 1496.0,1012.3 1497.5,1012.5 1499.0,1012.7 1500.5,1012.8 1502.0,1012.9 1503.5,1013.0 1505.0,1013.0 1506.5,1013.1 1508.0,1013.1 1509.5,1013.2 1511.0,1013.2 1512.5,1012.8 1514.0,1011.6 1515.5,1008.3 1517.0,1001.5 1518.5,992.6 1520.0,985.6 1521.5,982.3 1523.0,981.2 1524.5,980.8 1526.0,980.1 1527.5,978.9 1529.0,977.3 1530.5,975.5 1532.0,974.0 1533.5,973.4 1535.0,974.0 1536.5,976.2 1538.0,979.8 1539.5,984.2 1541.0,988.5 1542.5,992.0 1544.0,994.0 1545.5,994.5 1547.0,993.5 1548.5,991.7 1550.0,989.9 1551.5,988.6 1553.0,988.4 1554.5,989.1 1556.0,990.4 1557.5,991.7 1559.0,992.8 1560.5,993.4 1562.0,993.6 1563.5,993.6 1565.0,993.8 1566.5,994.4 1568.0,995.2 1569.5,996.1 1571.0,996.9 1572.5,997.6 1574.0,998.2 1575.5,998.9 1577.0,1000.0 1578.5,1001.9 1580.0,1004.8 1581.5,1008.1 1583.0,1010.8 1584.5,1012.2 1586.0,1012.8 1587.5,1013.0 1589.0,1013.1 1590.5,1013.1 1592.0,1013.0 1593.5,1013.0 1595.0,1013.1 1596.5,1013.3 1598.0,1013.5 1599.5,1013.9 1601.0,1014.2 1602.5,1014.5 1604.0,1014.6 1605.5,1014.6 1607.0,1014.4 1608.5,1013.8 1610.0,1012.7 1611.5,1010.9 1613.0,1008.4 1614.5,1005.7 1616.0,1003.3 1617.5,1002.0 1619.0,1002.2 1620.5,1003.9 1622.0,1006.5 1623.5,1009.4 1625.0,1012.0 1626.5,1014.0 1628.0,1015.4 1629.5,1016.2 1631.0,1016.7 1632.5,1016.9 1634.0,1017.1 1635.5,1017.1 1637.0,1017.1 1638.5,1017.1 1640.0,1017.1 1641.5,1017.1 1643.0,1017.1 1644.5,1017.2 1646.0,1017.2 1647.5,1017.2 1649.0,1017.2 1650.5,1017.2 1652.0,1017.1 1653.5,1017.0 1655.0,1017.0 1656.5,1016.9 1658.0,1016.8 1659.5,1016.8 1661.0,1016.8 1662.5,1016.8 1664.0,1016.8 1665.5,1016.8 1667.0,1016.9 1668.5,1016.9 1670.0,1017.0 1671.5,1017.1 1673.0,1017.2 1674.5,1017.2 1676.0,1017.2 1677.5,1017.2 1679.0,1017.2 1680.5,1017.2 1682.0,1017.2 1683.5,1017.2 1685.0,1017.2 1686.5,1017.2 1688.0,1017.1 1689.5,1017.0 1691.0,1017.0 1692.5,1016.9 1694.0,1016.8 1695.5,1016.7 1697.0,1016.5 1698.5,1016.1 1700.0,1015.0 1701.5,1012.6 1703.0,1007.8 1704.5,1001.3 1706.0,996.0 1707.5,993.1 1709.0,992.2 1710.5,992.2 1712.0,992.3 1713.5,992.3 1715.0,992.2 1716.5,991.8 1718.0,991.5 1719.5,991.3 1721.0,991.4 1722.5,991.7 1724.0,992.3 1725.5,992.9 1727.0,993.2 1728.5,993.2 1730.0,992.6 1731.5,991.6 1733.0,990.4 1734.5,989.2 1736.0,988.3 1737.5,987.8 1739.0,987.6 1740.5,987.7 1742.0,987.8 1743.5,988.0 1745.0,988.1 1746.5,988.1 1748.0,988.1 1749.5,988.1 1751.0,988.4 1752.5,989.1 1754.0,990.2 1755.5,991.9 1757.0,993.9 1758.5,996.3 1760.0,998.7 1761.5,1001.2 1763.0,1003.6 1764.5,1006.1 1766.0,1008.8 1767.5,1011.2 1769.0,1012.9 1770.5,1013.6 1772.0,1013.9 1773.5,1014.0 1775.0,1014.0 1776.5,1014.1 1778.0,1014.2 1779.5,1014.3 1781.0,1014.4 1782.5,1014.6 1784.0,1014.6 1785.5,1014.7 1787.0,1014.7 1788.5,1014.6 1790.0,1014.4 1791.5,1014.1 1793.0,1013.5 1794.5,1012.5 1796.0,1011.1 1797.5,1009.3 1799.0,1007.3 1800.5,1005.3 1802.0,1003.9 1803.5,1003.3 1805.0,1003.7 1806.5,1004.9 1808.0,1006.6 1809.5,1008.4 1811.0,1010.1 1812.5,1011.5 1814.0,1012.6 1815.5,1013.3 1817.0,1013.8 1818.5,1014.0 1820.0,1014.1 1821.5,1014.2 1823.0,1014.3 1824.5,1014.4 1826.0,1014.5 1827.5,1014.5 1829.0,1014.4 1830.5,1014.2 1832.0,1013.9 1833.5,1013.6 1835.0,1013.2 1836.5,1012.8 1838.0,1012.2 1839.5,1010.8 1841.0,1007.9 1842.5,1002.7 1844.0,996.8 1845.5,993.0 1847.0,991.7 1848.5,991.8 1850.0,992.7 1851.5,993.9 1853.0,995.4 1854.5,997.2 1856.0,999.1 1857.5,1000.9 1859.0,1002.3 1860.5,1003.1 1862.0,1003.0 1863.5,1001.9 1865.0,999.7 1866.5,996.2 1868.0,991.8 1869.5,986.7 1871.0,981.8 1872.5,977.7 1874.0,975.5 1875.5,975.5 1877.0,977.6 1878.5,981.3 1880.0,985.7 1881.5,990.0 1883.0,993.6 1884.5,996.2 1886.0,997.8 1887.5,998.5 1889.0,998.6 1890.5,998.2 1892.0,997.8 1893.5,997.5 1895.0,997.5 1896.5,997.9 1898.0,998.5 1899.5,999.3 1901.0,1000.0 1902.5,1000.8 1904.0,1002.0 1905.5,1004.1 1907.0,1007.2 1908.5,1010.5 1910.0,1013.2 1911.5,1015.0 1913.0,1016.0 1914.5,1016.5 1916.0,1016.8 1917.5,1016.9 1919.0,1017.0 1920.5,1017.0 1922.0,1017.0 1923.5,1017.0 1925.0,1017.0 1926.5,1016.9 1928.0,1016.9 1929.5,1016.7 1931.0,1016.6 1932.5,1016.2 1934.0,1015.7 1935.5,1014.9 1937.0,1013.7 1938.5,1012.2 1940.0,1010.2 1941.5,1008.2 1943.0,1006.3 1944.5,1004.9 1946.0,1004.3 1947.5,1004.6 1949.0,1005.9 1950.5,1007.8 1952.0,1010.0 1953.5,1012.1 1955.0,1013.7 1956.5,1015.0 1958.0,1015.8 1959.5,1016.3 1961.0,1016.6" fill="none" stroke="#3f73c6" stroke-width="2.2" stroke-linejoin="round"/>
<path d="M1284.5,940.7 L1300.2,940.7 L1307.7,1018.9 L1323.5,1018.9 L1331.0,940.7 L1393.6,940.7 L1401.1,1018.9 L1464.3,1018.9 L1471.8,940.7 L1486.9,940.7 L1494.4,1018.9 L1510.7,1018.9 L1518.2,940.7 L1580.8,940.7 L1588.3,1018.9 L1603.1,1018.9 L1610.6,940.7 L1626.7,940.7 L1634.2,1018.9 L1696.5,1018.9 L1704.0,940.7 L1766.5,940.7 L1774.0,1018.9 L1789.8,1018.9 L1797.3,940.7 L1813.0,940.7 L1820.5,1018.9 L1836.3,1018.9 L1843.8,940.7 L1906.8,940.7 L1914.3,1018.9 L1929.6,1018.9 L1937.1,940.7 L1953.7,940.7 L1961.2,1018.9" fill="none" stroke="#000" stroke-width="2.4"/>
</g>
<rect x="1248.0" y="930.7" width="748.9" height="95.4" fill="none" stroke="#222" stroke-width="1.8"/>
<rect x="1248.0" y="1035.0" width="748.9" height="95.2" fill="none" stroke="#222" stroke-width="1.8"/>
<line x1="1242.0" y1="945.4" x2="1248.0" y2="945.4" stroke="#222" stroke-width="1.6"/>
<text x="1233.5" y="952.9" text-anchor="end">7</text>
<line x1="1242.0" y1="1018.9" x2="1248.0" y2="1018.9" stroke="#222" stroke-width="1.6"/>
<text x="1233.5" y="1026.4" text-anchor="end">0</text>
<line x1="1242.0" y1="1069.6" x2="1248.0" y2="1069.6" stroke="#222" stroke-width="1.6"/>
<text x="1233.5" y="1077.1" text-anchor="end">1,000</text>
<line x1="1242.0" y1="1122.7" x2="1248.0" y2="1122.7" stroke="#222" stroke-width="1.6"/>
<text x="1233.5" y="1130.2" text-anchor="end">0</text>
<text x="1206.0" y="978.4" text-anchor="middle" transform="rotate(-90 1206.0 978.4)">Prediction</text>
<text x="1168.0" y="1082.6" text-anchor="middle" transform="rotate(-90 1168.0 1082.6)">Coverage</text>
<line x1="1338.1" y1="1130.2" x2="1338.1" y2="1137.2" stroke="#222" stroke-width="1.6"/>
<text x="1338.1" y="1160.6" text-anchor="middle">1</text>
<line x1="1580.8" y1="1130.2" x2="1580.8" y2="1137.2" stroke="#222" stroke-width="1.6"/>
<text x="1580.8" y="1160.6" text-anchor="middle">5</text>
<line x1="1822.5" y1="1130.2" x2="1822.5" y2="1137.2" stroke="#222" stroke-width="1.6"/>
<text x="1822.5" y="1160.6" text-anchor="middle">9</text>
<text x="2002.6" y="985.2">Design</text>
<text x="2004.0" y="1090.9">Experiment</text>
<text x="1846.2" y="1058.7">AUROC = 0.92</text>
<text x="1623.0" y="1189.0" text-anchor="middle">Position (kb)</text>
<text x="1622.5" y="1223.6">DNASE: 129 ES-E14 track</text>
<path d="M1904,1222.2 V1196.6 H1921.5 V1222.2 H1940" fill="none" stroke="#111" stroke-width="2"/>
<text x="1951.5" y="1215.5">Desired pattern</text>
<line x1="1625.8" y1="1253.5" x2="1659.3" y2="1253.5" stroke="#5b7367" stroke-width="4.5"/>
<text x="1669.3" y="1260.0">Enformer</text>
<line x1="1784.5" y1="1242.2" x2="1817.7" y2="1242.2" stroke="#a9c2ea" stroke-width="3.6"/>
<line x1="1784.5" y1="1249.4" x2="1817.7" y2="1249.4" stroke="#86a9e0" stroke-width="3.6"/>
<line x1="1784.5" y1="1256.6" x2="1817.7" y2="1256.6" stroke="#6693d6" stroke-width="3.6"/>
<line x1="1784.5" y1="1263.8" x2="1817.7" y2="1263.8" stroke="#3f73c6" stroke-width="3.6"/>
<text x="1829.1" y="1260.0">Borzoi</text>
<rect x="1919.6" y="1243.6" width="19.5" height="19.2" fill="#0c3384"/>
<text x="1951.6" y="1258.5">mESC ATAC–seq</text></svg>
</body></html>
